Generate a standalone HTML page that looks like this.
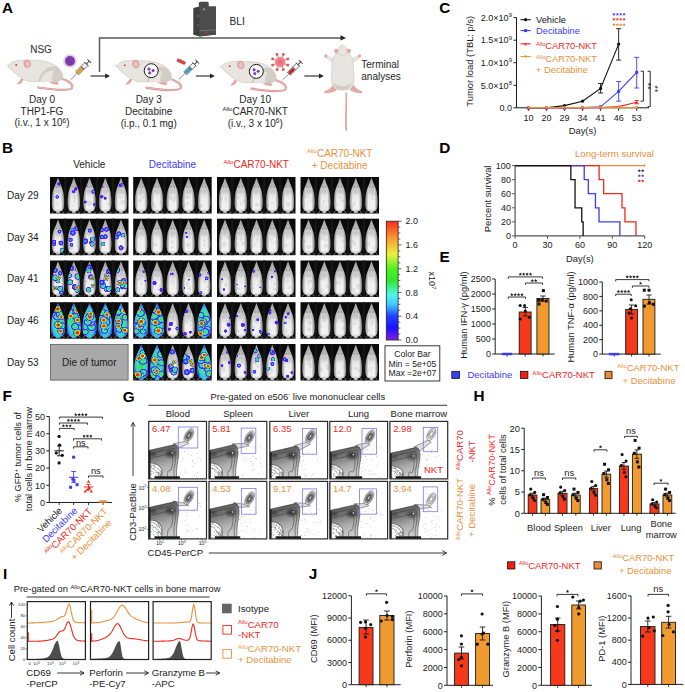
<!DOCTYPE html>
<html><head><meta charset="utf-8"><title>Figure</title>
<style>html,body{margin:0;padding:0;background:#fff;}svg{display:block;}text{font-family:"Liberation Sans", sans-serif;}</style>
</head><body>
<svg width="685" height="692" viewBox="0 0 685 692" font-family='"Liberation Sans", sans-serif'>
<rect width="685" height="692" fill="#fff"/>
<text x="2.00" y="13.30" font-size="15.3" fill="#000" font-weight="bold">A</text>
<rect x="198.80" y="1.80" width="9.90" height="5.50" fill="#4a4a4a" stroke="none" stroke-width="1.0" rx="1.5"/>
<path d="M193.3,8 L199.5,6.6 L216,6.6 L216,34.5 L199.5,36.5 L193.3,34.8 Z" fill="#3f3f3f" stroke="none" stroke-width="1.0"/>
<path d="M199.5,6.6 L216,6.6 L216,34.5 L199.5,36.5 Z" fill="#4d4d4d" stroke="none" stroke-width="1.0"/>
<line x1="199.50" y1="30.80" x2="216.00" y2="30.00" stroke="#8a8a8a" stroke-width="0.6"/>
<circle cx="204.00" cy="9.20" r="1.00" fill="#e8a030" stroke="none" stroke-width="1.0"/>
<circle cx="206.30" cy="32.60" r="0.90" fill="#e03030" stroke="none" stroke-width="1.0"/>
<circle cx="198.00" cy="16.00" r="0.80" fill="#888" stroke="none" stroke-width="1.0"/>
<circle cx="198.00" cy="25.00" r="0.80" fill="#888" stroke="none" stroke-width="1.0"/>
<text x="229.50" y="24.70" font-size="10.2" fill="#262626">BLI</text>
<path d="M99.5,72 L99.5,37.9 L341,37.9" fill="none" stroke="#5a5a5a" stroke-width="1.5"/>
<path d="M346,37.9 L340.5,35.2 L340.5,40.6 Z" fill="#222" stroke="none" stroke-width="1.0"/>
<line x1="90.50" y1="76.00" x2="106.00" y2="76.00" stroke="#333" stroke-width="1.2"/>
<path d="M110.0,76 L105.2,73.6 L105.2,78.4 Z" fill="#222" stroke="none" stroke-width="1.0"/>
<line x1="195.80" y1="76.00" x2="210.80" y2="76.00" stroke="#333" stroke-width="1.2"/>
<path d="M214.8,76 L210.0,73.6 L210.0,78.4 Z" fill="#222" stroke="none" stroke-width="1.0"/>
<line x1="304.30" y1="76.00" x2="319.80" y2="76.00" stroke="#333" stroke-width="1.2"/>
<path d="M323.8,76 L319.0,73.6 L319.0,78.4 Z" fill="#222" stroke="none" stroke-width="1.0"/>
<g transform="translate(8.00,66.00) scale(1.0)">
<path d="M51,12 C60,14 66,18.5 64,22 C61,25 50,24.5 30,21.5" fill="none" stroke="#cf8d89" stroke-width="2.2" stroke-linecap="round"/>
<path d="M51,12 C60,14 66,18.5 64,22 C61,25 50,24.5 30,21.5" fill="none" stroke="#ecbcb9" stroke-width="1.1" stroke-linecap="round"/>
<path d="M40,14 C42,17 45,18.5 50,18.3 C51,17 49,15.5 46,15 Z" fill="#e6aaa6" stroke="#cf8d89" stroke-width="0.5"/>
<path d="M15,13 C15,16.5 12,18 9.5,18 C10,16.5 12,15.5 13,13 Z" fill="#e6aaa6" stroke="#cf8d89" stroke-width="0.5"/>
<path d="M0,0 C1,-2.5 4,-4.6 8,-5.2 C14,-6.2 22,-5.8 30,-5.4 C40,-5.0 48,-1.5 52,3.5 C55,7.5 56,11 53,14 C50,16 44,16 40,15.5 L22,15.5 C16,14.5 11,11 7,7 C4,4.5 1,2.5 0,0 Z" fill="#e8e5e0" stroke="#c8c3ba" stroke-width="0.6"/>
<path d="M30,15.6 C32,6 40,-1 48,0.5 C53,4 56,9.5 54,13.5 C51,16 46,16.2 41,15.8 Z" fill="#d3cec5" stroke="none" stroke-width="1.0"/>
<path d="M32,15.6 C34,9 40,4 46,5 C44,8.5 43,12.5 44,15.8 Z" fill="#e8e5e0" stroke="none" stroke-width="1.0"/>
<ellipse cx="19.2" cy="-2.2" rx="3.2" ry="3.8" fill="#e6aaa6" stroke="#cf8d89" stroke-width="0.5" transform="rotate(-15 19.2 -2.2)"/>
<ellipse cx="19.5" cy="-1.9" rx="1.8" ry="2.4" fill="#efc4c1" transform="rotate(-15 19.5 -1.9)"/>
<circle cx="8.20" cy="-1.00" r="0.90" fill="#c0312b" stroke="none" stroke-width="1.0"/>
<path d="M1,-0.5 L-3,-2.5 M1,0 L-3.5,0.3" fill="none" stroke="#bbb" stroke-width="0.3"/>
</g>
<g transform="translate(116.60,66.30) scale(1.0)">
<path d="M51,12 C60,14 66,18.5 64,22 C61,25 50,24.5 30,21.5" fill="none" stroke="#cf8d89" stroke-width="2.2" stroke-linecap="round"/>
<path d="M51,12 C60,14 66,18.5 64,22 C61,25 50,24.5 30,21.5" fill="none" stroke="#ecbcb9" stroke-width="1.1" stroke-linecap="round"/>
<path d="M40,14 C42,17 45,18.5 50,18.3 C51,17 49,15.5 46,15 Z" fill="#e6aaa6" stroke="#cf8d89" stroke-width="0.5"/>
<path d="M15,13 C15,16.5 12,18 9.5,18 C10,16.5 12,15.5 13,13 Z" fill="#e6aaa6" stroke="#cf8d89" stroke-width="0.5"/>
<path d="M0,0 C1,-2.5 4,-4.6 8,-5.2 C14,-6.2 22,-5.8 30,-5.4 C40,-5.0 48,-1.5 52,3.5 C55,7.5 56,11 53,14 C50,16 44,16 40,15.5 L22,15.5 C16,14.5 11,11 7,7 C4,4.5 1,2.5 0,0 Z" fill="#e8e5e0" stroke="#c8c3ba" stroke-width="0.6"/>
<path d="M30,15.6 C32,6 40,-1 48,0.5 C53,4 56,9.5 54,13.5 C51,16 46,16.2 41,15.8 Z" fill="#d3cec5" stroke="none" stroke-width="1.0"/>
<path d="M32,15.6 C34,9 40,4 46,5 C44,8.5 43,12.5 44,15.8 Z" fill="#e8e5e0" stroke="none" stroke-width="1.0"/>
<ellipse cx="19.2" cy="-2.2" rx="3.2" ry="3.8" fill="#e6aaa6" stroke="#cf8d89" stroke-width="0.5" transform="rotate(-15 19.2 -2.2)"/>
<ellipse cx="19.5" cy="-1.9" rx="1.8" ry="2.4" fill="#efc4c1" transform="rotate(-15 19.5 -1.9)"/>
<circle cx="8.20" cy="-1.00" r="0.90" fill="#c0312b" stroke="none" stroke-width="1.0"/>
<path d="M1,-0.5 L-3,-2.5 M1,0 L-3.5,0.3" fill="none" stroke="#bbb" stroke-width="0.3"/>
</g>
<g transform="translate(221.50,67.20) scale(1.0)">
<path d="M51,12 C60,14 66,18.5 64,22 C61,25 50,24.5 30,21.5" fill="none" stroke="#cf8d89" stroke-width="2.2" stroke-linecap="round"/>
<path d="M51,12 C60,14 66,18.5 64,22 C61,25 50,24.5 30,21.5" fill="none" stroke="#ecbcb9" stroke-width="1.1" stroke-linecap="round"/>
<path d="M40,14 C42,17 45,18.5 50,18.3 C51,17 49,15.5 46,15 Z" fill="#e6aaa6" stroke="#cf8d89" stroke-width="0.5"/>
<path d="M15,13 C15,16.5 12,18 9.5,18 C10,16.5 12,15.5 13,13 Z" fill="#e6aaa6" stroke="#cf8d89" stroke-width="0.5"/>
<path d="M0,0 C1,-2.5 4,-4.6 8,-5.2 C14,-6.2 22,-5.8 30,-5.4 C40,-5.0 48,-1.5 52,3.5 C55,7.5 56,11 53,14 C50,16 44,16 40,15.5 L22,15.5 C16,14.5 11,11 7,7 C4,4.5 1,2.5 0,0 Z" fill="#e8e5e0" stroke="#c8c3ba" stroke-width="0.6"/>
<path d="M30,15.6 C32,6 40,-1 48,0.5 C53,4 56,9.5 54,13.5 C51,16 46,16.2 41,15.8 Z" fill="#d3cec5" stroke="none" stroke-width="1.0"/>
<path d="M32,15.6 C34,9 40,4 46,5 C44,8.5 43,12.5 44,15.8 Z" fill="#e8e5e0" stroke="none" stroke-width="1.0"/>
<ellipse cx="19.2" cy="-2.2" rx="3.2" ry="3.8" fill="#e6aaa6" stroke="#cf8d89" stroke-width="0.5" transform="rotate(-15 19.2 -2.2)"/>
<ellipse cx="19.5" cy="-1.9" rx="1.8" ry="2.4" fill="#efc4c1" transform="rotate(-15 19.5 -1.9)"/>
<circle cx="8.20" cy="-1.00" r="0.90" fill="#c0312b" stroke="none" stroke-width="1.0"/>
<path d="M1,-0.5 L-3,-2.5 M1,0 L-3.5,0.3" fill="none" stroke="#bbb" stroke-width="0.3"/>
</g>
<circle cx="151.20" cy="70.70" r="7.00" fill="#fbfbfb" stroke="#1a1a1a" stroke-width="1.0"/>
<circle cx="149.00" cy="69.10" r="1.55" fill="#8340b3" stroke="none" stroke-width="1.0"/>
<circle cx="153.10" cy="70.50" r="1.55" fill="#8340b3" stroke="none" stroke-width="1.0"/>
<circle cx="149.70" cy="72.90" r="1.55" fill="#8340b3" stroke="none" stroke-width="1.0"/>
<circle cx="256.30" cy="71.40" r="7.00" fill="#fbfbfb" stroke="#1a1a1a" stroke-width="1.0"/>
<circle cx="254.10" cy="69.80" r="1.55" fill="#8340b3" stroke="none" stroke-width="1.0"/>
<circle cx="258.20" cy="71.20" r="1.55" fill="#8340b3" stroke="none" stroke-width="1.0"/>
<circle cx="254.80" cy="73.60" r="1.55" fill="#8340b3" stroke="none" stroke-width="1.0"/>
<circle cx="70.00" cy="61.00" r="6.80" fill="#ddd0ea" stroke="none" stroke-width="1.0"/>
<circle cx="70.00" cy="61.00" r="5.00" fill="#7d3ca7" stroke="none" stroke-width="1.0"/>
<circle cx="68.50" cy="60.00" r="0.70" fill="#5c2480" stroke="none" stroke-width="1.0"/>
<circle cx="71.50" cy="62.50" r="0.70" fill="#5c2480" stroke="none" stroke-width="1.0"/>
<rect x="176.4" y="59.8" width="9.6" height="3.6" rx="1.8" fill="#d6474b" transform="rotate(24 181.2 61.6)"/>
<line x1="283.90" y1="63.53" x2="287.78" y2="65.14" stroke="#df6a70" stroke-width="0.9"/>
<rect x="286.48" y="63.84" width="2.6" height="2.6" fill="#d95860" transform="rotate(22.5 287.78 65.14)"/>
<line x1="281.73" y1="65.70" x2="283.34" y2="69.58" stroke="#df6a70" stroke-width="0.9"/>
<rect x="282.04" y="68.28" width="2.6" height="2.6" fill="#d95860" transform="rotate(67.5 283.34 69.58)"/>
<line x1="278.67" y1="65.70" x2="277.06" y2="69.58" stroke="#df6a70" stroke-width="0.9"/>
<rect x="275.76" y="68.28" width="2.6" height="2.6" fill="#d95860" transform="rotate(112.5 277.06 69.58)"/>
<line x1="276.50" y1="63.53" x2="272.62" y2="65.14" stroke="#df6a70" stroke-width="0.9"/>
<rect x="271.32" y="63.84" width="2.6" height="2.6" fill="#d95860" transform="rotate(157.5 272.62 65.14)"/>
<line x1="276.50" y1="60.47" x2="272.62" y2="58.86" stroke="#df6a70" stroke-width="0.9"/>
<rect x="271.32" y="57.56" width="2.6" height="2.6" fill="#d95860" transform="rotate(202.5 272.62 58.86)"/>
<line x1="278.67" y1="58.30" x2="277.06" y2="54.42" stroke="#df6a70" stroke-width="0.9"/>
<rect x="275.76" y="53.12" width="2.6" height="2.6" fill="#d95860" transform="rotate(247.5 277.06 54.42)"/>
<line x1="281.73" y1="58.30" x2="283.34" y2="54.42" stroke="#df6a70" stroke-width="0.9"/>
<rect x="282.04" y="53.12" width="2.6" height="2.6" fill="#d95860" transform="rotate(292.5 283.34 54.42)"/>
<line x1="283.90" y1="60.47" x2="287.78" y2="58.86" stroke="#df6a70" stroke-width="0.9"/>
<rect x="286.48" y="57.56" width="2.6" height="2.6" fill="#d95860" transform="rotate(337.5 287.78 58.86)"/>
<circle cx="280.20" cy="62.00" r="5.30" fill="#ee8a8e" stroke="none" stroke-width="1.0"/>
<circle cx="280.20" cy="62.00" r="3.00" fill="#e8747a" stroke="none" stroke-width="1.0"/>
<g transform="translate(70.70,79.70) rotate(-45.00) scale(1.011)">
<line x1="0.00" y1="0.00" x2="9.00" y2="0.00" stroke="#444" stroke-width="0.6"/>
<rect x="9.00" y="-2.10" width="13.00" height="4.20" fill="#f4f4f4" stroke="#444" stroke-width="0.7"/>
<rect x="9.50" y="-1.60" width="6.50" height="3.20" fill="#e0a526" stroke="none" stroke-width="1.0"/>
<rect x="16.00" y="-1.80" width="1.00" height="3.60" fill="#444" stroke="none" stroke-width="1.0"/>
<line x1="22.00" y1="0.00" x2="26.00" y2="0.00" stroke="#444" stroke-width="1.0"/>
<line x1="26.00" y1="-2.60" x2="26.00" y2="2.60" stroke="#444" stroke-width="1.0"/>
<line x1="22.00" y1="-2.90" x2="22.00" y2="2.90" stroke="#444" stroke-width="0.8"/>
</g>
<g transform="translate(178.80,79.40) rotate(-43.78) scale(0.985)">
<line x1="0.00" y1="0.00" x2="9.00" y2="0.00" stroke="#444" stroke-width="0.6"/>
<rect x="9.00" y="-2.10" width="13.00" height="4.20" fill="#f4f4f4" stroke="#444" stroke-width="0.7"/>
<rect x="9.50" y="-1.60" width="6.50" height="3.20" fill="#2f9fd3" stroke="none" stroke-width="1.0"/>
<rect x="16.00" y="-1.80" width="1.00" height="3.60" fill="#444" stroke="none" stroke-width="1.0"/>
<line x1="22.00" y1="0.00" x2="26.00" y2="0.00" stroke="#444" stroke-width="1.0"/>
<line x1="26.00" y1="-2.60" x2="26.00" y2="2.60" stroke="#444" stroke-width="1.0"/>
<line x1="22.00" y1="-2.90" x2="22.00" y2="2.90" stroke="#444" stroke-width="0.8"/>
</g>
<g transform="translate(282.50,80.00) rotate(-44.70) scale(0.990)">
<line x1="0.00" y1="0.00" x2="9.00" y2="0.00" stroke="#444" stroke-width="0.6"/>
<rect x="9.00" y="-2.10" width="13.00" height="4.20" fill="#f4f4f4" stroke="#444" stroke-width="0.7"/>
<rect x="9.50" y="-1.60" width="6.50" height="3.20" fill="#c8202a" stroke="none" stroke-width="1.0"/>
<rect x="16.00" y="-1.80" width="1.00" height="3.60" fill="#444" stroke="none" stroke-width="1.0"/>
<line x1="22.00" y1="0.00" x2="26.00" y2="0.00" stroke="#444" stroke-width="1.0"/>
<line x1="26.00" y1="-2.60" x2="26.00" y2="2.60" stroke="#444" stroke-width="1.0"/>
<line x1="22.00" y1="-2.90" x2="22.00" y2="2.90" stroke="#444" stroke-width="0.8"/>
</g>
<g transform="translate(342.30,45.00)">
<path d="M4,48 C4.5,60 3,72 4,85" fill="none" stroke="#cf8d89" stroke-width="1.4" stroke-linecap="round"/>
<path d="M4,48 C4.5,60 3,72 4,85" fill="none" stroke="#eab8b5" stroke-width="0.6"/>
<path d="M-9,40 C-12,44 -15,46 -18,46.5 L-17,48 C-13,48 -9,47 -6,45 Z" fill="#e6aaa6" stroke="#cf8d89" stroke-width="0.4"/>
<path d="M11,40 C14,44 17,46 20,46.5 L19,48 C15,48 11,47 8,45 Z" fill="#e6aaa6" stroke="#cf8d89" stroke-width="0.4"/>
<path d="M-6,14 C-10,13 -13,12 -15.5,10.5 L-16.5,12.5 C-14,15 -10,18 -7,19 Z" fill="#e8e5e0" stroke="#c8c3ba" stroke-width="0.4"/>
<path d="M7,14 C11,13 14,12 16.5,10.5 L17.5,12.5 C15,15 11,18 8,19 Z" fill="#e8e5e0" stroke="#c8c3ba" stroke-width="0.4"/>
<circle cx="-16.50" cy="11.00" r="1.70" fill="#e6aaa6" stroke="none" stroke-width="1.0"/>
<circle cx="17.20" cy="11.00" r="1.70" fill="#e6aaa6" stroke="none" stroke-width="1.0"/>
<path d="M0,0 C3,0 5,4 6,8 C10,10 11.5,18 11,26 C12,32 12.5,38 9,43 C6,46 -5,46 -8,43 C-11.5,38 -11,32 -10.5,26 C-11,18 -9,10 -5,8 C-4,4 -3,0 0,0 Z" fill="#e8e5e0" stroke="#c8c3ba" stroke-width="0.6"/>
<path d="M-8,38 C-5,42 5,42 9,38 C9,42 6,45 0,45 C-6,45 -9,42 -8,38 Z" fill="#d3cec5" stroke="none" stroke-width="1.0"/>
<path d="M-5,8 C-2,11 3,11 6,8" fill="none" stroke="#c8c3ba" stroke-width="0.5"/>
<circle cx="-6.00" cy="6.00" r="2.20" fill="#e6aaa6" stroke="none" stroke-width="1.0"/>
<circle cx="6.50" cy="6.00" r="2.20" fill="#e6aaa6" stroke="none" stroke-width="1.0"/>
</g>
<text x="41.00" y="52.90" font-size="10.0" fill="#262626" text-anchor="middle">NSG</text>
<text x="42.00" y="103.00" font-size="10.0" fill="#262626" text-anchor="middle">Day 0</text>
<text x="42.00" y="114.50" font-size="10.0" fill="#262626" text-anchor="middle">THP1-FG</text>
<text x="42.00" y="126.00" font-size="10.0" fill="#262626" text-anchor="middle">(i.v., 1 x 10<tspan font-size="6.5" dy="-3.5">6</tspan><tspan dy="3.5">)</tspan></text>
<text x="148.70" y="103.00" font-size="10.0" fill="#262626" text-anchor="middle">Day 3</text>
<text x="148.70" y="114.80" font-size="10.0" fill="#262626" text-anchor="middle">Decitabine</text>
<text x="148.70" y="126.50" font-size="10.0" fill="#262626" text-anchor="middle">(i.p., 0.1 mg)</text>
<text x="255.20" y="103.00" font-size="10.0" fill="#262626" text-anchor="middle">Day 10</text>
<text x="255.20" y="114.80" font-size="10.0" fill="#262626" text-anchor="middle"><tspan font-size="6.00" dy="-3.60">Allo</tspan><tspan dy="3.60">CAR70-NKT</tspan></text>
<text x="255.20" y="126.50" font-size="10.0" fill="#262626" text-anchor="middle">(i.v., 3 x 10<tspan font-size="6.5" dy="-3.5">6</tspan><tspan dy="3.5">)</tspan></text>
<text x="361.30" y="68.00" font-size="10.0" fill="#262626">Terminal</text>
<text x="361.30" y="80.00" font-size="10.0" fill="#262626">analyses</text>
<defs>
<linearGradient id="mg" x1="0" y1="0" x2="0" y2="1"><stop offset="0" stop-color="#a0a0a0"/><stop offset="0.2" stop-color="#b4b4b4"/><stop offset="0.4" stop-color="#dadada"/><stop offset="0.6" stop-color="#efefef"/><stop offset="0.88" stop-color="#f2f2f2"/><stop offset="1" stop-color="#b0b0b0"/></linearGradient>
<linearGradient id="mh" x1="0" y1="0" x2="1" y2="0"><stop offset="0" stop-color="#000" stop-opacity="0.45"/><stop offset="0.25" stop-color="#000" stop-opacity="0"/><stop offset="0.75" stop-color="#000" stop-opacity="0"/><stop offset="1" stop-color="#000" stop-opacity="0.45"/></linearGradient>
<path id="ms" d="M0,0.5 C0.6,2 1.2,3.5 1.8,5.5 C2.8,8 3.8,10 4.6,12.5 C5.4,15 5.8,18 6.0,22 C6.2,26 6.1,29.5 5.3,31.8 C4.4,33.4 3.0,34 1.8,34.2 L1.4,35.6 L-1.4,35.6 L-1.8,34.2 C-3.0,34 -4.4,33.4 -5.3,31.8 C-6.1,29.5 -6.2,26 -6.0,22 C-5.8,18 -5.4,15 -4.6,12.5 C-3.8,10 -2.8,8 -1.8,5.5 C-1.2,3.5 -0.6,2 0,0.5 Z"/>
<clipPath id="mclip"><path d="M0,0.5 C0.6,2 1.2,3.5 1.8,5.5 C2.8,8 3.8,10 4.6,12.5 C5.4,15 5.8,18 6.0,22 C6.2,26 6.1,29.5 5.3,31.8 C4.4,33.4 3.0,34 1.8,34.2 L1.4,35.6 L-1.4,35.6 L-1.8,34.2 C-3.0,34 -4.4,33.4 -5.3,31.8 C-6.1,29.5 -6.2,26 -6.0,22 C-5.8,18 -5.4,15 -4.6,12.5 C-3.8,10 -2.8,8 -1.8,5.5 C-1.2,3.5 -0.6,2 0,0.5 Z"/></clipPath>
<radialGradient id="g4"><stop offset="0" stop-color="#ff1a00" stop-opacity="1"/><stop offset="0.3" stop-color="#ff3000" stop-opacity="1"/><stop offset="0.42" stop-color="#ff9000" stop-opacity="1"/><stop offset="0.52" stop-color="#f0f020" stop-opacity="1"/><stop offset="0.62" stop-color="#30e030" stop-opacity="1"/><stop offset="0.75" stop-color="#30f0f0" stop-opacity="1"/><stop offset="0.86" stop-color="#2828ff" stop-opacity="1"/><stop offset="0.95" stop-color="#8a20f0" stop-opacity="1"/><stop offset="1" stop-color="#8a20f0" stop-opacity="0"/></radialGradient>
<radialGradient id="g3"><stop offset="0" stop-color="#30e030" stop-opacity="1"/><stop offset="0.4" stop-color="#40f080" stop-opacity="1"/><stop offset="0.58" stop-color="#30d8f0" stop-opacity="1"/><stop offset="0.76" stop-color="#2828ff" stop-opacity="1"/><stop offset="0.9" stop-color="#8a20f0" stop-opacity="1"/><stop offset="1" stop-color="#8a20f0" stop-opacity="0"/></radialGradient>
<radialGradient id="g2"><stop offset="0" stop-color="#30f0f0" stop-opacity="1"/><stop offset="0.35" stop-color="#3080ff" stop-opacity="1"/><stop offset="0.6" stop-color="#2020ff" stop-opacity="1"/><stop offset="0.85" stop-color="#8a20f0" stop-opacity="1"/><stop offset="1" stop-color="#8a20f0" stop-opacity="0"/></radialGradient>
<radialGradient id="g1"><stop offset="0" stop-color="#4040ff" stop-opacity="1"/><stop offset="0.5" stop-color="#3020ff" stop-opacity="1"/><stop offset="0.8" stop-color="#8a20f0" stop-opacity="1"/><stop offset="1" stop-color="#8a20f0" stop-opacity="0"/></radialGradient>
<radialGradient id="gbase" cx="0.5" cy="0.55" r="0.6"><stop offset="0" stop-color="#30e030"/><stop offset="0.45" stop-color="#40e890"/><stop offset="0.7" stop-color="#30c0f0"/><stop offset="0.88" stop-color="#2a30ff"/><stop offset="1" stop-color="#7a30f0"/></radialGradient>
<linearGradient id="cb" x1="0" y1="1" x2="0" y2="0"><stop offset="0" stop-color="#8a1ee6"/><stop offset="0.1" stop-color="#1a10ff"/><stop offset="0.2" stop-color="#2040ff"/><stop offset="0.3" stop-color="#40c8ff"/><stop offset="0.38" stop-color="#50f5e8"/><stop offset="0.5" stop-color="#30e830"/><stop offset="0.6" stop-color="#50f020"/><stop offset="0.72" stop-color="#e8f040"/><stop offset="0.85" stop-color="#f8a030"/><stop offset="1" stop-color="#ff2a20"/></linearGradient>
</defs>
<text x="2.00" y="153.00" font-size="15.3" fill="#000" font-weight="bold">B</text>
<text x="89.30" y="167.70" font-size="10" fill="#1a1a1a" text-anchor="middle">Vehicle</text>
<text x="172.50" y="167.70" font-size="10" fill="#3c3cf5" text-anchor="middle">Decitabine</text>
<text x="256.20" y="167.70" font-size="10" fill="#f0281e" text-anchor="middle"><tspan font-size="6.00" dy="-3.60">Allo</tspan><tspan dy="3.60">CAR70-NKT</tspan></text>
<text x="339.70" y="156.50" font-size="10" fill="#e8913c" text-anchor="middle"><tspan font-size="6.00" dy="-3.60">Allo</tspan><tspan dy="3.60">CAR70-NKT</tspan></text>
<text x="339.70" y="168.50" font-size="10" fill="#e8913c" text-anchor="middle">+ Decitabine</text>
<text x="7.00" y="198.85" font-size="10" fill="#1a1a1a">Day 29</text>
<rect x="50.00" y="177.00" width="78.50" height="36.50" fill="#0b0b0b" stroke="none" stroke-width="1.0"/>
<rect x="64.00" y="177.00" width="2.50" height="36.50" fill="#161616" stroke="none" stroke-width="1.0"/>
<rect x="80.00" y="177.00" width="2.50" height="36.50" fill="#161616" stroke="none" stroke-width="1.0"/>
<rect x="96.00" y="177.00" width="2.50" height="36.50" fill="#161616" stroke="none" stroke-width="1.0"/>
<rect x="112.00" y="177.00" width="2.50" height="36.50" fill="#161616" stroke="none" stroke-width="1.0"/>
<g transform="translate(58.00,177.30) scale(1.0,1)">
<path d="M-3.5,32.5 L-6,35.8 M3.5,32.5 L6,35.8 M-1,34 L-1.5,36 M1,34 L1.5,36" fill="none" stroke="#8a8a8a" stroke-width="0.7"/>
<use href="#ms" fill="url(#mg)"/>
<use href="#ms" fill="url(#mh)"/>
<circle cx="-1.60" cy="9.50" r="0.80" fill="#666" stroke="none" stroke-width="1.0" opacity="0.6"/>
<circle cx="1.60" cy="9.50" r="0.80" fill="#666" stroke="none" stroke-width="1.0" opacity="0.6"/>
<g fill="#999" opacity="0.22" clip-path="url(#mclip)"><ellipse cx="0" cy="14.5" rx="3.4" ry="2"/><ellipse cx="-1.4" cy="13.9" rx="1.6" ry="0.9"/><ellipse cx="0.3" cy="17.9" rx="0.9" ry="1.7"/><ellipse cx="-3.7" cy="19.2" rx="0.9" ry="1.0"/><ellipse cx="-0.6" cy="26.7" rx="0.9" ry="1.2"/></g>
<g clip-path="url(#mclip)">
<circle cx="0.83" cy="6.67" r="2.03" fill="url(#g1)" stroke="none" stroke-width="1.0"/>
<circle cx="4.76" cy="6.26" r="2.27" fill="url(#g1)" stroke="none" stroke-width="1.0"/>
<circle cx="-0.81" cy="19.60" r="2.01" fill="url(#g2)" stroke="none" stroke-width="1.0"/>
</g>
</g>
<g transform="translate(73.80,177.30) scale(1.0,1)">
<path d="M-3.5,32.5 L-6,35.8 M3.5,32.5 L6,35.8 M-1,34 L-1.5,36 M1,34 L1.5,36" fill="none" stroke="#8a8a8a" stroke-width="0.7"/>
<use href="#ms" fill="url(#mg)"/>
<use href="#ms" fill="url(#mh)"/>
<circle cx="-1.60" cy="9.50" r="0.80" fill="#666" stroke="none" stroke-width="1.0" opacity="0.6"/>
<circle cx="1.60" cy="9.50" r="0.80" fill="#666" stroke="none" stroke-width="1.0" opacity="0.6"/>
<g fill="#999" opacity="0.22" clip-path="url(#mclip)"><ellipse cx="0" cy="14.5" rx="3.4" ry="2"/><ellipse cx="0.5" cy="24.0" rx="0.9" ry="1.8"/><ellipse cx="-2.5" cy="12.9" rx="1.7" ry="1.8"/><ellipse cx="1.0" cy="20.4" rx="1.4" ry="2.1"/><ellipse cx="-0.3" cy="28.5" rx="1.2" ry="1.2"/></g>
<g clip-path="url(#mclip)">
<circle cx="1.99" cy="11.59" r="2.02" fill="url(#g1)" stroke="none" stroke-width="1.0"/>
<circle cx="-0.05" cy="14.27" r="1.90" fill="url(#g1)" stroke="none" stroke-width="1.0"/>
<circle cx="4.80" cy="8.19" r="1.88" fill="url(#g1)" stroke="none" stroke-width="1.0"/>
</g>
</g>
<g transform="translate(89.50,177.30) scale(1.0,1)">
<path d="M-3.5,32.5 L-6,35.8 M3.5,32.5 L6,35.8 M-1,34 L-1.5,36 M1,34 L1.5,36" fill="none" stroke="#8a8a8a" stroke-width="0.7"/>
<use href="#ms" fill="url(#mg)"/>
<use href="#ms" fill="url(#mh)"/>
<circle cx="-1.60" cy="9.50" r="0.80" fill="#666" stroke="none" stroke-width="1.0" opacity="0.6"/>
<circle cx="1.60" cy="9.50" r="0.80" fill="#666" stroke="none" stroke-width="1.0" opacity="0.6"/>
<g fill="#999" opacity="0.22" clip-path="url(#mclip)"><ellipse cx="0" cy="14.5" rx="3.4" ry="2"/><ellipse cx="2.1" cy="13.9" rx="1.4" ry="0.9"/><ellipse cx="1.3" cy="25.5" rx="1.5" ry="2.3"/><ellipse cx="-1.5" cy="24.2" rx="1.5" ry="1.8"/><ellipse cx="-0.4" cy="27.0" rx="1.9" ry="1.6"/></g>
<g clip-path="url(#mclip)">
<circle cx="-4.35" cy="24.74" r="1.78" fill="url(#g1)" stroke="none" stroke-width="1.0"/>
<circle cx="4.93" cy="27.19" r="1.76" fill="url(#g1)" stroke="none" stroke-width="1.0"/>
<circle cx="3.87" cy="14.37" r="2.35" fill="url(#g2)" stroke="none" stroke-width="1.0"/>
<circle cx="-3.32" cy="8.16" r="1.55" fill="url(#g2)" stroke="none" stroke-width="1.0"/>
</g>
</g>
<g transform="translate(105.30,177.30) scale(1.0,1)">
<path d="M-3.5,32.5 L-6,35.8 M3.5,32.5 L6,35.8 M-1,34 L-1.5,36 M1,34 L1.5,36" fill="none" stroke="#8a8a8a" stroke-width="0.7"/>
<use href="#ms" fill="url(#mg)"/>
<use href="#ms" fill="url(#mh)"/>
<circle cx="-1.60" cy="9.50" r="0.80" fill="#666" stroke="none" stroke-width="1.0" opacity="0.6"/>
<circle cx="1.60" cy="9.50" r="0.80" fill="#666" stroke="none" stroke-width="1.0" opacity="0.6"/>
<g fill="#999" opacity="0.22" clip-path="url(#mclip)"><ellipse cx="0" cy="14.5" rx="3.4" ry="2"/><ellipse cx="2.1" cy="13.5" rx="1.1" ry="1.5"/><ellipse cx="3.0" cy="12.5" rx="1.3" ry="1.7"/><ellipse cx="3.1" cy="26.6" rx="1.8" ry="1.3"/><ellipse cx="-0.7" cy="17.8" rx="1.9" ry="2.4"/></g>
<g clip-path="url(#mclip)">
<circle cx="-4.17" cy="9.09" r="2.09" fill="url(#g1)" stroke="none" stroke-width="1.0"/>
<circle cx="-0.15" cy="20.91" r="1.74" fill="url(#g1)" stroke="none" stroke-width="1.0"/>
<circle cx="-3.54" cy="19.43" r="2.05" fill="url(#g1)" stroke="none" stroke-width="1.0"/>
</g>
</g>
<g transform="translate(121.00,177.30) scale(1.0,1)">
<path d="M-3.5,32.5 L-6,35.8 M3.5,32.5 L6,35.8 M-1,34 L-1.5,36 M1,34 L1.5,36" fill="none" stroke="#8a8a8a" stroke-width="0.7"/>
<use href="#ms" fill="url(#mg)"/>
<use href="#ms" fill="url(#mh)"/>
<circle cx="-1.60" cy="9.50" r="0.80" fill="#666" stroke="none" stroke-width="1.0" opacity="0.6"/>
<circle cx="1.60" cy="9.50" r="0.80" fill="#666" stroke="none" stroke-width="1.0" opacity="0.6"/>
<g fill="#999" opacity="0.22" clip-path="url(#mclip)"><ellipse cx="0" cy="14.5" rx="3.4" ry="2"/><ellipse cx="-1.5" cy="13.4" rx="1.8" ry="2.4"/><ellipse cx="1.2" cy="25.1" rx="1.3" ry="2.3"/><ellipse cx="3.6" cy="23.9" rx="1.5" ry="1.5"/><ellipse cx="-0.8" cy="20.1" rx="1.3" ry="1.1"/></g>
<g clip-path="url(#mclip)">
<circle cx="-0.59" cy="7.97" r="2.04" fill="url(#g1)" stroke="none" stroke-width="1.0"/>
<circle cx="-5.00" cy="9.08" r="1.59" fill="url(#g1)" stroke="none" stroke-width="1.0"/>
<circle cx="1.14" cy="6.90" r="1.69" fill="url(#g2)" stroke="none" stroke-width="1.0"/>
</g>
</g>
<rect x="133.20" y="177.00" width="78.50" height="36.50" fill="#0b0b0b" stroke="none" stroke-width="1.0"/>
<rect x="147.20" y="177.00" width="2.50" height="36.50" fill="#161616" stroke="none" stroke-width="1.0"/>
<rect x="163.20" y="177.00" width="2.50" height="36.50" fill="#161616" stroke="none" stroke-width="1.0"/>
<rect x="179.20" y="177.00" width="2.50" height="36.50" fill="#161616" stroke="none" stroke-width="1.0"/>
<rect x="195.20" y="177.00" width="2.50" height="36.50" fill="#161616" stroke="none" stroke-width="1.0"/>
<g transform="translate(141.20,177.30) scale(1.0,1)">
<path d="M-3.5,32.5 L-6,35.8 M3.5,32.5 L6,35.8 M-1,34 L-1.5,36 M1,34 L1.5,36" fill="none" stroke="#8a8a8a" stroke-width="0.7"/>
<use href="#ms" fill="url(#mg)"/>
<use href="#ms" fill="url(#mh)"/>
<circle cx="-1.60" cy="9.50" r="0.80" fill="#666" stroke="none" stroke-width="1.0" opacity="0.6"/>
<circle cx="1.60" cy="9.50" r="0.80" fill="#666" stroke="none" stroke-width="1.0" opacity="0.6"/>
<g fill="#999" opacity="0.22" clip-path="url(#mclip)"><ellipse cx="0" cy="14.5" rx="3.4" ry="2"/><ellipse cx="-1.0" cy="23.1" rx="1.9" ry="1.8"/><ellipse cx="-0.2" cy="13.2" rx="1.4" ry="2.5"/><ellipse cx="-0.2" cy="16.9" rx="1.0" ry="2.1"/><ellipse cx="1.9" cy="20.1" rx="1.6" ry="1.7"/></g>
</g>
<g transform="translate(157.00,177.30) scale(1.0,1)">
<path d="M-3.5,32.5 L-6,35.8 M3.5,32.5 L6,35.8 M-1,34 L-1.5,36 M1,34 L1.5,36" fill="none" stroke="#8a8a8a" stroke-width="0.7"/>
<use href="#ms" fill="url(#mg)"/>
<use href="#ms" fill="url(#mh)"/>
<circle cx="-1.60" cy="9.50" r="0.80" fill="#666" stroke="none" stroke-width="1.0" opacity="0.6"/>
<circle cx="1.60" cy="9.50" r="0.80" fill="#666" stroke="none" stroke-width="1.0" opacity="0.6"/>
<g fill="#999" opacity="0.22" clip-path="url(#mclip)"><ellipse cx="0" cy="14.5" rx="3.4" ry="2"/><ellipse cx="-2.4" cy="29.1" rx="1.2" ry="2.0"/><ellipse cx="3.3" cy="25.4" rx="1.2" ry="1.9"/><ellipse cx="-3.3" cy="27.1" rx="1.4" ry="2.3"/><ellipse cx="-1.2" cy="15.2" rx="1.4" ry="1.7"/></g>
</g>
<g transform="translate(172.70,177.30) scale(1.0,1)">
<path d="M-3.5,32.5 L-6,35.8 M3.5,32.5 L6,35.8 M-1,34 L-1.5,36 M1,34 L1.5,36" fill="none" stroke="#8a8a8a" stroke-width="0.7"/>
<use href="#ms" fill="url(#mg)"/>
<use href="#ms" fill="url(#mh)"/>
<circle cx="-1.60" cy="9.50" r="0.80" fill="#666" stroke="none" stroke-width="1.0" opacity="0.6"/>
<circle cx="1.60" cy="9.50" r="0.80" fill="#666" stroke="none" stroke-width="1.0" opacity="0.6"/>
<g fill="#999" opacity="0.22" clip-path="url(#mclip)"><ellipse cx="0" cy="14.5" rx="3.4" ry="2"/><ellipse cx="1.1" cy="22.7" rx="1.7" ry="2.1"/><ellipse cx="-2.4" cy="15.5" rx="1.3" ry="2.2"/><ellipse cx="-2.4" cy="20.4" rx="1.7" ry="2.5"/><ellipse cx="2.3" cy="20.0" rx="1.0" ry="1.8"/></g>
</g>
<g transform="translate(188.50,177.30) scale(1.0,1)">
<path d="M-3.5,32.5 L-6,35.8 M3.5,32.5 L6,35.8 M-1,34 L-1.5,36 M1,34 L1.5,36" fill="none" stroke="#8a8a8a" stroke-width="0.7"/>
<use href="#ms" fill="url(#mg)"/>
<use href="#ms" fill="url(#mh)"/>
<circle cx="-1.60" cy="9.50" r="0.80" fill="#666" stroke="none" stroke-width="1.0" opacity="0.6"/>
<circle cx="1.60" cy="9.50" r="0.80" fill="#666" stroke="none" stroke-width="1.0" opacity="0.6"/>
<g fill="#999" opacity="0.22" clip-path="url(#mclip)"><ellipse cx="0" cy="14.5" rx="3.4" ry="2"/><ellipse cx="-1.2" cy="26.4" rx="1.7" ry="1.4"/><ellipse cx="3.8" cy="12.5" rx="0.9" ry="1.6"/><ellipse cx="-1.3" cy="20.2" rx="2.0" ry="1.8"/><ellipse cx="-4.0" cy="28.3" rx="1.2" ry="1.9"/></g>
</g>
<g transform="translate(204.20,177.30) scale(1.0,1)">
<path d="M-3.5,32.5 L-6,35.8 M3.5,32.5 L6,35.8 M-1,34 L-1.5,36 M1,34 L1.5,36" fill="none" stroke="#8a8a8a" stroke-width="0.7"/>
<use href="#ms" fill="url(#mg)"/>
<use href="#ms" fill="url(#mh)"/>
<circle cx="-1.60" cy="9.50" r="0.80" fill="#666" stroke="none" stroke-width="1.0" opacity="0.6"/>
<circle cx="1.60" cy="9.50" r="0.80" fill="#666" stroke="none" stroke-width="1.0" opacity="0.6"/>
<g fill="#999" opacity="0.22" clip-path="url(#mclip)"><ellipse cx="0" cy="14.5" rx="3.4" ry="2"/><ellipse cx="2.7" cy="13.3" rx="1.3" ry="2.0"/><ellipse cx="-2.4" cy="27.9" rx="1.3" ry="1.9"/><ellipse cx="-3.3" cy="29.0" rx="1.7" ry="1.6"/><ellipse cx="1.9" cy="12.6" rx="1.0" ry="2.5"/></g>
</g>
<rect x="217.00" y="177.00" width="78.50" height="36.50" fill="#0b0b0b" stroke="none" stroke-width="1.0"/>
<rect x="231.00" y="177.00" width="2.50" height="36.50" fill="#161616" stroke="none" stroke-width="1.0"/>
<rect x="247.00" y="177.00" width="2.50" height="36.50" fill="#161616" stroke="none" stroke-width="1.0"/>
<rect x="263.00" y="177.00" width="2.50" height="36.50" fill="#161616" stroke="none" stroke-width="1.0"/>
<rect x="279.00" y="177.00" width="2.50" height="36.50" fill="#161616" stroke="none" stroke-width="1.0"/>
<g transform="translate(225.00,177.30) scale(1.0,1)">
<path d="M-3.5,32.5 L-6,35.8 M3.5,32.5 L6,35.8 M-1,34 L-1.5,36 M1,34 L1.5,36" fill="none" stroke="#8a8a8a" stroke-width="0.7"/>
<use href="#ms" fill="url(#mg)"/>
<use href="#ms" fill="url(#mh)"/>
<circle cx="-1.60" cy="9.50" r="0.80" fill="#666" stroke="none" stroke-width="1.0" opacity="0.6"/>
<circle cx="1.60" cy="9.50" r="0.80" fill="#666" stroke="none" stroke-width="1.0" opacity="0.6"/>
<g fill="#999" opacity="0.22" clip-path="url(#mclip)"><ellipse cx="0" cy="14.5" rx="3.4" ry="2"/><ellipse cx="-3.8" cy="22.2" rx="1.4" ry="1.9"/><ellipse cx="0.9" cy="22.3" rx="1.4" ry="2.4"/><ellipse cx="-2.8" cy="21.4" rx="0.8" ry="2.2"/><ellipse cx="1.8" cy="13.0" rx="1.7" ry="1.0"/></g>
</g>
<g transform="translate(240.80,177.30) scale(1.0,1)">
<path d="M-3.5,32.5 L-6,35.8 M3.5,32.5 L6,35.8 M-1,34 L-1.5,36 M1,34 L1.5,36" fill="none" stroke="#8a8a8a" stroke-width="0.7"/>
<use href="#ms" fill="url(#mg)"/>
<use href="#ms" fill="url(#mh)"/>
<circle cx="-1.60" cy="9.50" r="0.80" fill="#666" stroke="none" stroke-width="1.0" opacity="0.6"/>
<circle cx="1.60" cy="9.50" r="0.80" fill="#666" stroke="none" stroke-width="1.0" opacity="0.6"/>
<g fill="#999" opacity="0.22" clip-path="url(#mclip)"><ellipse cx="0" cy="14.5" rx="3.4" ry="2"/><ellipse cx="3.9" cy="14.7" rx="1.8" ry="0.8"/><ellipse cx="-2.3" cy="20.5" rx="1.7" ry="1.4"/><ellipse cx="0.4" cy="26.8" rx="0.9" ry="2.1"/><ellipse cx="3.2" cy="23.6" rx="1.8" ry="1.7"/></g>
</g>
<g transform="translate(256.50,177.30) scale(1.0,1)">
<path d="M-3.5,32.5 L-6,35.8 M3.5,32.5 L6,35.8 M-1,34 L-1.5,36 M1,34 L1.5,36" fill="none" stroke="#8a8a8a" stroke-width="0.7"/>
<use href="#ms" fill="url(#mg)"/>
<use href="#ms" fill="url(#mh)"/>
<circle cx="-1.60" cy="9.50" r="0.80" fill="#666" stroke="none" stroke-width="1.0" opacity="0.6"/>
<circle cx="1.60" cy="9.50" r="0.80" fill="#666" stroke="none" stroke-width="1.0" opacity="0.6"/>
<g fill="#999" opacity="0.22" clip-path="url(#mclip)"><ellipse cx="0" cy="14.5" rx="3.4" ry="2"/><ellipse cx="2.6" cy="27.7" rx="1.0" ry="1.1"/><ellipse cx="0.1" cy="27.6" rx="1.7" ry="1.8"/><ellipse cx="2.2" cy="13.8" rx="1.0" ry="1.9"/><ellipse cx="-3.0" cy="12.2" rx="1.6" ry="1.7"/></g>
</g>
<g transform="translate(272.30,177.30) scale(1.0,1)">
<path d="M-3.5,32.5 L-6,35.8 M3.5,32.5 L6,35.8 M-1,34 L-1.5,36 M1,34 L1.5,36" fill="none" stroke="#8a8a8a" stroke-width="0.7"/>
<use href="#ms" fill="url(#mg)"/>
<use href="#ms" fill="url(#mh)"/>
<circle cx="-1.60" cy="9.50" r="0.80" fill="#666" stroke="none" stroke-width="1.0" opacity="0.6"/>
<circle cx="1.60" cy="9.50" r="0.80" fill="#666" stroke="none" stroke-width="1.0" opacity="0.6"/>
<g fill="#999" opacity="0.22" clip-path="url(#mclip)"><ellipse cx="0" cy="14.5" rx="3.4" ry="2"/><ellipse cx="-0.1" cy="25.8" rx="1.9" ry="0.9"/><ellipse cx="-2.5" cy="11.8" rx="0.9" ry="1.6"/><ellipse cx="-3.8" cy="28.0" rx="0.9" ry="1.4"/><ellipse cx="3.8" cy="22.5" rx="1.0" ry="1.3"/></g>
</g>
<g transform="translate(288.00,177.30) scale(1.0,1)">
<path d="M-3.5,32.5 L-6,35.8 M3.5,32.5 L6,35.8 M-1,34 L-1.5,36 M1,34 L1.5,36" fill="none" stroke="#8a8a8a" stroke-width="0.7"/>
<use href="#ms" fill="url(#mg)"/>
<use href="#ms" fill="url(#mh)"/>
<circle cx="-1.60" cy="9.50" r="0.80" fill="#666" stroke="none" stroke-width="1.0" opacity="0.6"/>
<circle cx="1.60" cy="9.50" r="0.80" fill="#666" stroke="none" stroke-width="1.0" opacity="0.6"/>
<g fill="#999" opacity="0.22" clip-path="url(#mclip)"><ellipse cx="0" cy="14.5" rx="3.4" ry="2"/><ellipse cx="0.1" cy="26.3" rx="1.4" ry="1.2"/><ellipse cx="0.2" cy="27.6" rx="1.9" ry="2.4"/><ellipse cx="3.1" cy="14.8" rx="1.3" ry="1.5"/><ellipse cx="-0.9" cy="17.0" rx="1.6" ry="1.5"/></g>
</g>
<rect x="300.50" y="177.00" width="78.50" height="36.50" fill="#0b0b0b" stroke="none" stroke-width="1.0"/>
<rect x="314.50" y="177.00" width="2.50" height="36.50" fill="#161616" stroke="none" stroke-width="1.0"/>
<rect x="330.50" y="177.00" width="2.50" height="36.50" fill="#161616" stroke="none" stroke-width="1.0"/>
<rect x="346.50" y="177.00" width="2.50" height="36.50" fill="#161616" stroke="none" stroke-width="1.0"/>
<rect x="362.50" y="177.00" width="2.50" height="36.50" fill="#161616" stroke="none" stroke-width="1.0"/>
<g transform="translate(308.50,177.30) scale(1.0,1)">
<path d="M-3.5,32.5 L-6,35.8 M3.5,32.5 L6,35.8 M-1,34 L-1.5,36 M1,34 L1.5,36" fill="none" stroke="#8a8a8a" stroke-width="0.7"/>
<use href="#ms" fill="url(#mg)"/>
<use href="#ms" fill="url(#mh)"/>
<circle cx="-1.60" cy="9.50" r="0.80" fill="#666" stroke="none" stroke-width="1.0" opacity="0.6"/>
<circle cx="1.60" cy="9.50" r="0.80" fill="#666" stroke="none" stroke-width="1.0" opacity="0.6"/>
<g fill="#999" opacity="0.22" clip-path="url(#mclip)"><ellipse cx="0" cy="14.5" rx="3.4" ry="2"/><ellipse cx="-2.3" cy="16.8" rx="0.9" ry="2.1"/><ellipse cx="3.5" cy="23.2" rx="1.2" ry="1.2"/><ellipse cx="-2.9" cy="19.9" rx="1.7" ry="1.0"/><ellipse cx="3.1" cy="14.1" rx="1.6" ry="1.2"/></g>
</g>
<g transform="translate(324.30,177.30) scale(1.0,1)">
<path d="M-3.5,32.5 L-6,35.8 M3.5,32.5 L6,35.8 M-1,34 L-1.5,36 M1,34 L1.5,36" fill="none" stroke="#8a8a8a" stroke-width="0.7"/>
<use href="#ms" fill="url(#mg)"/>
<use href="#ms" fill="url(#mh)"/>
<circle cx="-1.60" cy="9.50" r="0.80" fill="#666" stroke="none" stroke-width="1.0" opacity="0.6"/>
<circle cx="1.60" cy="9.50" r="0.80" fill="#666" stroke="none" stroke-width="1.0" opacity="0.6"/>
<g fill="#999" opacity="0.22" clip-path="url(#mclip)"><ellipse cx="0" cy="14.5" rx="3.4" ry="2"/><ellipse cx="1.7" cy="29.9" rx="1.3" ry="1.5"/><ellipse cx="-1.1" cy="12.8" rx="1.2" ry="1.4"/><ellipse cx="-0.3" cy="24.4" rx="1.3" ry="1.7"/><ellipse cx="-1.6" cy="29.3" rx="0.9" ry="2.4"/></g>
</g>
<g transform="translate(340.00,177.30) scale(1.0,1)">
<path d="M-3.5,32.5 L-6,35.8 M3.5,32.5 L6,35.8 M-1,34 L-1.5,36 M1,34 L1.5,36" fill="none" stroke="#8a8a8a" stroke-width="0.7"/>
<use href="#ms" fill="url(#mg)"/>
<use href="#ms" fill="url(#mh)"/>
<circle cx="-1.60" cy="9.50" r="0.80" fill="#666" stroke="none" stroke-width="1.0" opacity="0.6"/>
<circle cx="1.60" cy="9.50" r="0.80" fill="#666" stroke="none" stroke-width="1.0" opacity="0.6"/>
<g fill="#999" opacity="0.22" clip-path="url(#mclip)"><ellipse cx="0" cy="14.5" rx="3.4" ry="2"/><ellipse cx="-2.2" cy="27.7" rx="0.9" ry="1.3"/><ellipse cx="3.2" cy="14.4" rx="1.7" ry="2.2"/><ellipse cx="2.8" cy="23.8" rx="1.9" ry="1.5"/><ellipse cx="0.3" cy="20.8" rx="1.4" ry="1.4"/></g>
</g>
<g transform="translate(355.80,177.30) scale(1.0,1)">
<path d="M-3.5,32.5 L-6,35.8 M3.5,32.5 L6,35.8 M-1,34 L-1.5,36 M1,34 L1.5,36" fill="none" stroke="#8a8a8a" stroke-width="0.7"/>
<use href="#ms" fill="url(#mg)"/>
<use href="#ms" fill="url(#mh)"/>
<circle cx="-1.60" cy="9.50" r="0.80" fill="#666" stroke="none" stroke-width="1.0" opacity="0.6"/>
<circle cx="1.60" cy="9.50" r="0.80" fill="#666" stroke="none" stroke-width="1.0" opacity="0.6"/>
<g fill="#999" opacity="0.22" clip-path="url(#mclip)"><ellipse cx="0" cy="14.5" rx="3.4" ry="2"/><ellipse cx="-1.8" cy="26.2" rx="1.0" ry="2.3"/><ellipse cx="-1.8" cy="11.3" rx="0.9" ry="1.2"/><ellipse cx="0.9" cy="15.2" rx="1.1" ry="1.0"/><ellipse cx="-3.9" cy="29.9" rx="1.3" ry="2.4"/></g>
</g>
<g transform="translate(371.50,177.30) scale(1.0,1)">
<path d="M-3.5,32.5 L-6,35.8 M3.5,32.5 L6,35.8 M-1,34 L-1.5,36 M1,34 L1.5,36" fill="none" stroke="#8a8a8a" stroke-width="0.7"/>
<use href="#ms" fill="url(#mg)"/>
<use href="#ms" fill="url(#mh)"/>
<circle cx="-1.60" cy="9.50" r="0.80" fill="#666" stroke="none" stroke-width="1.0" opacity="0.6"/>
<circle cx="1.60" cy="9.50" r="0.80" fill="#666" stroke="none" stroke-width="1.0" opacity="0.6"/>
<g fill="#999" opacity="0.22" clip-path="url(#mclip)"><ellipse cx="0" cy="14.5" rx="3.4" ry="2"/><ellipse cx="1.0" cy="11.8" rx="1.7" ry="2.4"/><ellipse cx="3.8" cy="16.0" rx="1.0" ry="2.4"/><ellipse cx="1.0" cy="21.1" rx="1.0" ry="1.6"/><ellipse cx="1.4" cy="16.1" rx="1.8" ry="2.5"/></g>
</g>
<text x="7.00" y="240.55" font-size="10" fill="#1a1a1a">Day 34</text>
<rect x="50.00" y="218.70" width="78.50" height="36.50" fill="#0b0b0b" stroke="none" stroke-width="1.0"/>
<rect x="64.00" y="218.70" width="2.50" height="36.50" fill="#161616" stroke="none" stroke-width="1.0"/>
<rect x="80.00" y="218.70" width="2.50" height="36.50" fill="#161616" stroke="none" stroke-width="1.0"/>
<rect x="96.00" y="218.70" width="2.50" height="36.50" fill="#161616" stroke="none" stroke-width="1.0"/>
<rect x="112.00" y="218.70" width="2.50" height="36.50" fill="#161616" stroke="none" stroke-width="1.0"/>
<g transform="translate(58.00,219.00) scale(1.0,1)">
<path d="M-3.5,32.5 L-6,35.8 M3.5,32.5 L6,35.8 M-1,34 L-1.5,36 M1,34 L1.5,36" fill="none" stroke="#8a8a8a" stroke-width="0.7"/>
<use href="#ms" fill="url(#mg)"/>
<use href="#ms" fill="url(#mh)"/>
<circle cx="-1.60" cy="9.50" r="0.80" fill="#666" stroke="none" stroke-width="1.0" opacity="0.6"/>
<circle cx="1.60" cy="9.50" r="0.80" fill="#666" stroke="none" stroke-width="1.0" opacity="0.6"/>
<g fill="#999" opacity="0.22" clip-path="url(#mclip)"><ellipse cx="0" cy="14.5" rx="3.4" ry="2"/><ellipse cx="-3.7" cy="11.4" rx="1.4" ry="2.5"/><ellipse cx="0.1" cy="15.7" rx="1.3" ry="1.9"/><ellipse cx="1.2" cy="23.5" rx="1.5" ry="2.3"/><ellipse cx="3.8" cy="16.8" rx="1.1" ry="1.2"/></g>
<g clip-path="url(#mclip)">
<circle cx="2.99" cy="24.08" r="2.76" fill="url(#g2)" stroke="none" stroke-width="1.0"/>
<circle cx="4.40" cy="31.51" r="3.00" fill="url(#g3)" stroke="none" stroke-width="1.0"/>
<circle cx="-3.86" cy="25.00" r="2.31" fill="url(#g2)" stroke="none" stroke-width="1.0"/>
<circle cx="-4.00" cy="22.96" r="2.46" fill="url(#g2)" stroke="none" stroke-width="1.0"/>
<circle cx="1.53" cy="12.61" r="2.29" fill="url(#g2)" stroke="none" stroke-width="1.0"/>
</g>
</g>
<g transform="translate(73.80,219.00) scale(1.0,1)">
<path d="M-3.5,32.5 L-6,35.8 M3.5,32.5 L6,35.8 M-1,34 L-1.5,36 M1,34 L1.5,36" fill="none" stroke="#8a8a8a" stroke-width="0.7"/>
<use href="#ms" fill="url(#mg)"/>
<use href="#ms" fill="url(#mh)"/>
<circle cx="-1.60" cy="9.50" r="0.80" fill="#666" stroke="none" stroke-width="1.0" opacity="0.6"/>
<circle cx="1.60" cy="9.50" r="0.80" fill="#666" stroke="none" stroke-width="1.0" opacity="0.6"/>
<g fill="#999" opacity="0.22" clip-path="url(#mclip)"><ellipse cx="0" cy="14.5" rx="3.4" ry="2"/><ellipse cx="-1.7" cy="19.7" rx="1.0" ry="1.6"/><ellipse cx="-1.9" cy="29.3" rx="2.0" ry="1.7"/><ellipse cx="-2.0" cy="29.3" rx="1.2" ry="1.4"/><ellipse cx="-4.0" cy="18.3" rx="1.4" ry="1.7"/></g>
<g clip-path="url(#mclip)">
<circle cx="-2.27" cy="25.96" r="2.11" fill="url(#g2)" stroke="none" stroke-width="1.0"/>
<circle cx="-3.21" cy="20.84" r="2.47" fill="url(#g2)" stroke="none" stroke-width="1.0"/>
<circle cx="-1.76" cy="11.29" r="2.70" fill="url(#g3)" stroke="none" stroke-width="1.0"/>
<circle cx="3.18" cy="9.19" r="3.07" fill="url(#g2)" stroke="none" stroke-width="1.0"/>
<circle cx="-0.99" cy="13.81" r="3.18" fill="url(#g2)" stroke="none" stroke-width="1.0"/>
</g>
</g>
<g transform="translate(89.50,219.00) scale(1.0,1)">
<path d="M-3.5,32.5 L-6,35.8 M3.5,32.5 L6,35.8 M-1,34 L-1.5,36 M1,34 L1.5,36" fill="none" stroke="#8a8a8a" stroke-width="0.7"/>
<use href="#ms" fill="url(#mg)"/>
<use href="#ms" fill="url(#mh)"/>
<circle cx="-1.60" cy="9.50" r="0.80" fill="#666" stroke="none" stroke-width="1.0" opacity="0.6"/>
<circle cx="1.60" cy="9.50" r="0.80" fill="#666" stroke="none" stroke-width="1.0" opacity="0.6"/>
<g fill="#999" opacity="0.22" clip-path="url(#mclip)"><ellipse cx="0" cy="14.5" rx="3.4" ry="2"/><ellipse cx="-2.8" cy="24.8" rx="1.6" ry="0.9"/><ellipse cx="2.7" cy="27.9" rx="1.6" ry="2.0"/><ellipse cx="2.5" cy="13.6" rx="1.4" ry="1.7"/><ellipse cx="2.7" cy="26.3" rx="1.8" ry="1.8"/></g>
<g clip-path="url(#mclip)">
<circle cx="1.65" cy="23.72" r="2.28" fill="url(#g2)" stroke="none" stroke-width="1.0"/>
<circle cx="-4.12" cy="22.20" r="3.15" fill="url(#g2)" stroke="none" stroke-width="1.0"/>
<circle cx="3.02" cy="20.08" r="2.75" fill="url(#g3)" stroke="none" stroke-width="1.0"/>
<circle cx="0.28" cy="11.60" r="2.32" fill="url(#g2)" stroke="none" stroke-width="1.0"/>
<circle cx="2.68" cy="25.20" r="2.60" fill="url(#g3)" stroke="none" stroke-width="1.0"/>
</g>
</g>
<g transform="translate(105.30,219.00) scale(1.0,1)">
<path d="M-3.5,32.5 L-6,35.8 M3.5,32.5 L6,35.8 M-1,34 L-1.5,36 M1,34 L1.5,36" fill="none" stroke="#8a8a8a" stroke-width="0.7"/>
<use href="#ms" fill="url(#mg)"/>
<use href="#ms" fill="url(#mh)"/>
<circle cx="-1.60" cy="9.50" r="0.80" fill="#666" stroke="none" stroke-width="1.0" opacity="0.6"/>
<circle cx="1.60" cy="9.50" r="0.80" fill="#666" stroke="none" stroke-width="1.0" opacity="0.6"/>
<g fill="#999" opacity="0.22" clip-path="url(#mclip)"><ellipse cx="0" cy="14.5" rx="3.4" ry="2"/><ellipse cx="0.3" cy="23.5" rx="0.9" ry="2.1"/><ellipse cx="-2.0" cy="12.4" rx="1.1" ry="2.0"/><ellipse cx="-2.4" cy="25.1" rx="2.0" ry="1.6"/><ellipse cx="-0.9" cy="20.1" rx="1.6" ry="2.1"/></g>
<g clip-path="url(#mclip)">
<circle cx="1.20" cy="10.35" r="2.72" fill="url(#g2)" stroke="none" stroke-width="1.0"/>
<circle cx="-2.21" cy="25.07" r="2.37" fill="url(#g3)" stroke="none" stroke-width="1.0"/>
<circle cx="-3.30" cy="18.03" r="2.58" fill="url(#g2)" stroke="none" stroke-width="1.0"/>
<circle cx="-3.60" cy="10.88" r="2.59" fill="url(#g2)" stroke="none" stroke-width="1.0"/>
<circle cx="0.15" cy="17.55" r="2.56" fill="url(#g2)" stroke="none" stroke-width="1.0"/>
</g>
</g>
<g transform="translate(121.00,219.00) scale(1.0,1)">
<path d="M-3.5,32.5 L-6,35.8 M3.5,32.5 L6,35.8 M-1,34 L-1.5,36 M1,34 L1.5,36" fill="none" stroke="#8a8a8a" stroke-width="0.7"/>
<use href="#ms" fill="url(#mg)"/>
<use href="#ms" fill="url(#mh)"/>
<circle cx="-1.60" cy="9.50" r="0.80" fill="#666" stroke="none" stroke-width="1.0" opacity="0.6"/>
<circle cx="1.60" cy="9.50" r="0.80" fill="#666" stroke="none" stroke-width="1.0" opacity="0.6"/>
<g fill="#999" opacity="0.22" clip-path="url(#mclip)"><ellipse cx="0" cy="14.5" rx="3.4" ry="2"/><ellipse cx="-3.1" cy="28.0" rx="1.0" ry="2.5"/><ellipse cx="3.5" cy="11.3" rx="1.4" ry="2.2"/><ellipse cx="3.7" cy="19.5" rx="1.1" ry="1.2"/><ellipse cx="3.6" cy="15.0" rx="1.5" ry="1.0"/></g>
<g clip-path="url(#mclip)">
<circle cx="-2.14" cy="14.71" r="2.72" fill="url(#g2)" stroke="none" stroke-width="1.0"/>
<circle cx="0.08" cy="28.95" r="2.84" fill="url(#g2)" stroke="none" stroke-width="1.0"/>
<circle cx="-0.02" cy="28.66" r="2.47" fill="url(#g2)" stroke="none" stroke-width="1.0"/>
<circle cx="-4.47" cy="18.28" r="2.54" fill="url(#g2)" stroke="none" stroke-width="1.0"/>
<circle cx="2.04" cy="16.24" r="2.45" fill="url(#g3)" stroke="none" stroke-width="1.0"/>
</g>
</g>
<rect x="133.20" y="218.70" width="78.50" height="36.50" fill="#0b0b0b" stroke="none" stroke-width="1.0"/>
<rect x="147.20" y="218.70" width="2.50" height="36.50" fill="#161616" stroke="none" stroke-width="1.0"/>
<rect x="163.20" y="218.70" width="2.50" height="36.50" fill="#161616" stroke="none" stroke-width="1.0"/>
<rect x="179.20" y="218.70" width="2.50" height="36.50" fill="#161616" stroke="none" stroke-width="1.0"/>
<rect x="195.20" y="218.70" width="2.50" height="36.50" fill="#161616" stroke="none" stroke-width="1.0"/>
<g transform="translate(141.20,219.00) scale(1.0,1)">
<path d="M-3.5,32.5 L-6,35.8 M3.5,32.5 L6,35.8 M-1,34 L-1.5,36 M1,34 L1.5,36" fill="none" stroke="#8a8a8a" stroke-width="0.7"/>
<use href="#ms" fill="url(#mg)"/>
<use href="#ms" fill="url(#mh)"/>
<circle cx="-1.60" cy="9.50" r="0.80" fill="#666" stroke="none" stroke-width="1.0" opacity="0.6"/>
<circle cx="1.60" cy="9.50" r="0.80" fill="#666" stroke="none" stroke-width="1.0" opacity="0.6"/>
<g fill="#999" opacity="0.22" clip-path="url(#mclip)"><ellipse cx="0" cy="14.5" rx="3.4" ry="2"/><ellipse cx="-3.0" cy="17.3" rx="1.2" ry="1.4"/><ellipse cx="-0.8" cy="28.9" rx="1.0" ry="0.8"/><ellipse cx="1.9" cy="15.8" rx="0.9" ry="1.5"/><ellipse cx="3.0" cy="12.5" rx="1.9" ry="2.1"/></g>
</g>
<g transform="translate(157.00,219.00) scale(1.0,1)">
<path d="M-3.5,32.5 L-6,35.8 M3.5,32.5 L6,35.8 M-1,34 L-1.5,36 M1,34 L1.5,36" fill="none" stroke="#8a8a8a" stroke-width="0.7"/>
<use href="#ms" fill="url(#mg)"/>
<use href="#ms" fill="url(#mh)"/>
<circle cx="-1.60" cy="9.50" r="0.80" fill="#666" stroke="none" stroke-width="1.0" opacity="0.6"/>
<circle cx="1.60" cy="9.50" r="0.80" fill="#666" stroke="none" stroke-width="1.0" opacity="0.6"/>
<g fill="#999" opacity="0.22" clip-path="url(#mclip)"><ellipse cx="0" cy="14.5" rx="3.4" ry="2"/><ellipse cx="2.8" cy="16.3" rx="0.9" ry="1.9"/><ellipse cx="1.1" cy="13.8" rx="2.0" ry="1.5"/><ellipse cx="-1.5" cy="25.7" rx="1.7" ry="1.5"/><ellipse cx="-3.8" cy="25.5" rx="1.3" ry="2.3"/></g>
</g>
<g transform="translate(172.70,219.00) scale(1.0,1)">
<path d="M-3.5,32.5 L-6,35.8 M3.5,32.5 L6,35.8 M-1,34 L-1.5,36 M1,34 L1.5,36" fill="none" stroke="#8a8a8a" stroke-width="0.7"/>
<use href="#ms" fill="url(#mg)"/>
<use href="#ms" fill="url(#mh)"/>
<circle cx="-1.60" cy="9.50" r="0.80" fill="#666" stroke="none" stroke-width="1.0" opacity="0.6"/>
<circle cx="1.60" cy="9.50" r="0.80" fill="#666" stroke="none" stroke-width="1.0" opacity="0.6"/>
<g fill="#999" opacity="0.22" clip-path="url(#mclip)"><ellipse cx="0" cy="14.5" rx="3.4" ry="2"/><ellipse cx="0.4" cy="14.9" rx="0.9" ry="2.4"/><ellipse cx="-0.7" cy="22.7" rx="1.0" ry="2.3"/><ellipse cx="-0.1" cy="28.3" rx="1.5" ry="1.1"/><ellipse cx="-0.7" cy="16.4" rx="1.1" ry="2.1"/></g>
</g>
<g transform="translate(188.50,219.00) scale(1.0,1)">
<path d="M-3.5,32.5 L-6,35.8 M3.5,32.5 L6,35.8 M-1,34 L-1.5,36 M1,34 L1.5,36" fill="none" stroke="#8a8a8a" stroke-width="0.7"/>
<use href="#ms" fill="url(#mg)"/>
<use href="#ms" fill="url(#mh)"/>
<circle cx="-1.60" cy="9.50" r="0.80" fill="#666" stroke="none" stroke-width="1.0" opacity="0.6"/>
<circle cx="1.60" cy="9.50" r="0.80" fill="#666" stroke="none" stroke-width="1.0" opacity="0.6"/>
<g fill="#999" opacity="0.22" clip-path="url(#mclip)"><ellipse cx="0" cy="14.5" rx="3.4" ry="2"/><ellipse cx="1.2" cy="18.7" rx="1.1" ry="1.6"/><ellipse cx="1.4" cy="13.3" rx="1.6" ry="0.9"/><ellipse cx="0.0" cy="26.4" rx="1.5" ry="1.6"/><ellipse cx="-1.3" cy="25.4" rx="1.3" ry="1.7"/></g>
<g clip-path="url(#mclip)">
<circle cx="-2.30" cy="13.84" r="1.28" fill="url(#g1)" stroke="none" stroke-width="1.0"/>
<circle cx="-1.63" cy="18.10" r="1.40" fill="url(#g1)" stroke="none" stroke-width="1.0"/>
</g>
</g>
<g transform="translate(204.20,219.00) scale(1.0,1)">
<path d="M-3.5,32.5 L-6,35.8 M3.5,32.5 L6,35.8 M-1,34 L-1.5,36 M1,34 L1.5,36" fill="none" stroke="#8a8a8a" stroke-width="0.7"/>
<use href="#ms" fill="url(#mg)"/>
<use href="#ms" fill="url(#mh)"/>
<circle cx="-1.60" cy="9.50" r="0.80" fill="#666" stroke="none" stroke-width="1.0" opacity="0.6"/>
<circle cx="1.60" cy="9.50" r="0.80" fill="#666" stroke="none" stroke-width="1.0" opacity="0.6"/>
<g fill="#999" opacity="0.22" clip-path="url(#mclip)"><ellipse cx="0" cy="14.5" rx="3.4" ry="2"/><ellipse cx="-2.4" cy="11.4" rx="1.8" ry="1.5"/><ellipse cx="2.0" cy="15.0" rx="1.1" ry="2.1"/><ellipse cx="-0.0" cy="21.9" rx="1.2" ry="2.0"/><ellipse cx="0.2" cy="26.0" rx="1.8" ry="1.0"/></g>
</g>
<rect x="217.00" y="218.70" width="78.50" height="36.50" fill="#0b0b0b" stroke="none" stroke-width="1.0"/>
<rect x="231.00" y="218.70" width="2.50" height="36.50" fill="#161616" stroke="none" stroke-width="1.0"/>
<rect x="247.00" y="218.70" width="2.50" height="36.50" fill="#161616" stroke="none" stroke-width="1.0"/>
<rect x="263.00" y="218.70" width="2.50" height="36.50" fill="#161616" stroke="none" stroke-width="1.0"/>
<rect x="279.00" y="218.70" width="2.50" height="36.50" fill="#161616" stroke="none" stroke-width="1.0"/>
<g transform="translate(225.00,219.00) scale(1.0,1)">
<path d="M-3.5,32.5 L-6,35.8 M3.5,32.5 L6,35.8 M-1,34 L-1.5,36 M1,34 L1.5,36" fill="none" stroke="#8a8a8a" stroke-width="0.7"/>
<use href="#ms" fill="url(#mg)"/>
<use href="#ms" fill="url(#mh)"/>
<circle cx="-1.60" cy="9.50" r="0.80" fill="#666" stroke="none" stroke-width="1.0" opacity="0.6"/>
<circle cx="1.60" cy="9.50" r="0.80" fill="#666" stroke="none" stroke-width="1.0" opacity="0.6"/>
<g fill="#999" opacity="0.22" clip-path="url(#mclip)"><ellipse cx="0" cy="14.5" rx="3.4" ry="2"/><ellipse cx="3.2" cy="18.3" rx="1.6" ry="1.5"/><ellipse cx="-1.5" cy="26.5" rx="2.0" ry="1.0"/><ellipse cx="-0.6" cy="25.5" rx="1.8" ry="2.4"/><ellipse cx="-0.1" cy="12.4" rx="1.9" ry="2.4"/></g>
</g>
<g transform="translate(240.80,219.00) scale(1.0,1)">
<path d="M-3.5,32.5 L-6,35.8 M3.5,32.5 L6,35.8 M-1,34 L-1.5,36 M1,34 L1.5,36" fill="none" stroke="#8a8a8a" stroke-width="0.7"/>
<use href="#ms" fill="url(#mg)"/>
<use href="#ms" fill="url(#mh)"/>
<circle cx="-1.60" cy="9.50" r="0.80" fill="#666" stroke="none" stroke-width="1.0" opacity="0.6"/>
<circle cx="1.60" cy="9.50" r="0.80" fill="#666" stroke="none" stroke-width="1.0" opacity="0.6"/>
<g fill="#999" opacity="0.22" clip-path="url(#mclip)"><ellipse cx="0" cy="14.5" rx="3.4" ry="2"/><ellipse cx="0.2" cy="19.9" rx="1.3" ry="2.1"/><ellipse cx="-2.2" cy="13.9" rx="2.0" ry="1.0"/><ellipse cx="2.6" cy="24.3" rx="1.8" ry="2.3"/><ellipse cx="-3.3" cy="25.8" rx="0.8" ry="1.0"/></g>
</g>
<g transform="translate(256.50,219.00) scale(1.0,1)">
<path d="M-3.5,32.5 L-6,35.8 M3.5,32.5 L6,35.8 M-1,34 L-1.5,36 M1,34 L1.5,36" fill="none" stroke="#8a8a8a" stroke-width="0.7"/>
<use href="#ms" fill="url(#mg)"/>
<use href="#ms" fill="url(#mh)"/>
<circle cx="-1.60" cy="9.50" r="0.80" fill="#666" stroke="none" stroke-width="1.0" opacity="0.6"/>
<circle cx="1.60" cy="9.50" r="0.80" fill="#666" stroke="none" stroke-width="1.0" opacity="0.6"/>
<g fill="#999" opacity="0.22" clip-path="url(#mclip)"><ellipse cx="0" cy="14.5" rx="3.4" ry="2"/><ellipse cx="0.6" cy="11.7" rx="1.7" ry="2.4"/><ellipse cx="1.0" cy="21.0" rx="1.3" ry="2.1"/><ellipse cx="-3.2" cy="16.7" rx="1.9" ry="1.1"/><ellipse cx="-1.9" cy="26.0" rx="0.8" ry="1.7"/></g>
</g>
<g transform="translate(272.30,219.00) scale(1.0,1)">
<path d="M-3.5,32.5 L-6,35.8 M3.5,32.5 L6,35.8 M-1,34 L-1.5,36 M1,34 L1.5,36" fill="none" stroke="#8a8a8a" stroke-width="0.7"/>
<use href="#ms" fill="url(#mg)"/>
<use href="#ms" fill="url(#mh)"/>
<circle cx="-1.60" cy="9.50" r="0.80" fill="#666" stroke="none" stroke-width="1.0" opacity="0.6"/>
<circle cx="1.60" cy="9.50" r="0.80" fill="#666" stroke="none" stroke-width="1.0" opacity="0.6"/>
<g fill="#999" opacity="0.22" clip-path="url(#mclip)"><ellipse cx="0" cy="14.5" rx="3.4" ry="2"/><ellipse cx="4.0" cy="16.3" rx="1.2" ry="2.2"/><ellipse cx="-2.1" cy="21.0" rx="1.5" ry="0.8"/><ellipse cx="-0.7" cy="23.3" rx="0.9" ry="1.1"/><ellipse cx="3.1" cy="23.3" rx="0.9" ry="1.2"/></g>
</g>
<g transform="translate(288.00,219.00) scale(1.0,1)">
<path d="M-3.5,32.5 L-6,35.8 M3.5,32.5 L6,35.8 M-1,34 L-1.5,36 M1,34 L1.5,36" fill="none" stroke="#8a8a8a" stroke-width="0.7"/>
<use href="#ms" fill="url(#mg)"/>
<use href="#ms" fill="url(#mh)"/>
<circle cx="-1.60" cy="9.50" r="0.80" fill="#666" stroke="none" stroke-width="1.0" opacity="0.6"/>
<circle cx="1.60" cy="9.50" r="0.80" fill="#666" stroke="none" stroke-width="1.0" opacity="0.6"/>
<g fill="#999" opacity="0.22" clip-path="url(#mclip)"><ellipse cx="0" cy="14.5" rx="3.4" ry="2"/><ellipse cx="-0.6" cy="18.0" rx="1.4" ry="2.0"/><ellipse cx="1.7" cy="17.9" rx="1.3" ry="0.8"/><ellipse cx="-1.7" cy="27.1" rx="0.9" ry="1.6"/><ellipse cx="-2.4" cy="25.6" rx="1.0" ry="1.6"/></g>
</g>
<rect x="300.50" y="218.70" width="78.50" height="36.50" fill="#0b0b0b" stroke="none" stroke-width="1.0"/>
<rect x="314.50" y="218.70" width="2.50" height="36.50" fill="#161616" stroke="none" stroke-width="1.0"/>
<rect x="330.50" y="218.70" width="2.50" height="36.50" fill="#161616" stroke="none" stroke-width="1.0"/>
<rect x="346.50" y="218.70" width="2.50" height="36.50" fill="#161616" stroke="none" stroke-width="1.0"/>
<rect x="362.50" y="218.70" width="2.50" height="36.50" fill="#161616" stroke="none" stroke-width="1.0"/>
<g transform="translate(308.50,219.00) scale(1.0,1)">
<path d="M-3.5,32.5 L-6,35.8 M3.5,32.5 L6,35.8 M-1,34 L-1.5,36 M1,34 L1.5,36" fill="none" stroke="#8a8a8a" stroke-width="0.7"/>
<use href="#ms" fill="url(#mg)"/>
<use href="#ms" fill="url(#mh)"/>
<circle cx="-1.60" cy="9.50" r="0.80" fill="#666" stroke="none" stroke-width="1.0" opacity="0.6"/>
<circle cx="1.60" cy="9.50" r="0.80" fill="#666" stroke="none" stroke-width="1.0" opacity="0.6"/>
<g fill="#999" opacity="0.22" clip-path="url(#mclip)"><ellipse cx="0" cy="14.5" rx="3.4" ry="2"/><ellipse cx="-1.9" cy="27.9" rx="0.9" ry="1.9"/><ellipse cx="0.9" cy="28.0" rx="1.4" ry="2.3"/><ellipse cx="-3.5" cy="22.3" rx="1.9" ry="0.9"/><ellipse cx="-3.8" cy="22.3" rx="1.3" ry="2.0"/></g>
</g>
<g transform="translate(324.30,219.00) scale(1.0,1)">
<path d="M-3.5,32.5 L-6,35.8 M3.5,32.5 L6,35.8 M-1,34 L-1.5,36 M1,34 L1.5,36" fill="none" stroke="#8a8a8a" stroke-width="0.7"/>
<use href="#ms" fill="url(#mg)"/>
<use href="#ms" fill="url(#mh)"/>
<circle cx="-1.60" cy="9.50" r="0.80" fill="#666" stroke="none" stroke-width="1.0" opacity="0.6"/>
<circle cx="1.60" cy="9.50" r="0.80" fill="#666" stroke="none" stroke-width="1.0" opacity="0.6"/>
<g fill="#999" opacity="0.22" clip-path="url(#mclip)"><ellipse cx="0" cy="14.5" rx="3.4" ry="2"/><ellipse cx="-2.5" cy="19.5" rx="1.7" ry="1.3"/><ellipse cx="-3.1" cy="12.5" rx="1.0" ry="1.1"/><ellipse cx="1.2" cy="21.0" rx="1.4" ry="1.3"/><ellipse cx="1.8" cy="26.9" rx="2.0" ry="1.6"/></g>
</g>
<g transform="translate(340.00,219.00) scale(1.0,1)">
<path d="M-3.5,32.5 L-6,35.8 M3.5,32.5 L6,35.8 M-1,34 L-1.5,36 M1,34 L1.5,36" fill="none" stroke="#8a8a8a" stroke-width="0.7"/>
<use href="#ms" fill="url(#mg)"/>
<use href="#ms" fill="url(#mh)"/>
<circle cx="-1.60" cy="9.50" r="0.80" fill="#666" stroke="none" stroke-width="1.0" opacity="0.6"/>
<circle cx="1.60" cy="9.50" r="0.80" fill="#666" stroke="none" stroke-width="1.0" opacity="0.6"/>
<g fill="#999" opacity="0.22" clip-path="url(#mclip)"><ellipse cx="0" cy="14.5" rx="3.4" ry="2"/><ellipse cx="-3.1" cy="12.5" rx="0.9" ry="1.5"/><ellipse cx="3.1" cy="21.7" rx="1.7" ry="1.4"/><ellipse cx="2.1" cy="16.9" rx="1.8" ry="0.9"/><ellipse cx="1.6" cy="14.7" rx="1.4" ry="1.6"/></g>
</g>
<g transform="translate(355.80,219.00) scale(1.0,1)">
<path d="M-3.5,32.5 L-6,35.8 M3.5,32.5 L6,35.8 M-1,34 L-1.5,36 M1,34 L1.5,36" fill="none" stroke="#8a8a8a" stroke-width="0.7"/>
<use href="#ms" fill="url(#mg)"/>
<use href="#ms" fill="url(#mh)"/>
<circle cx="-1.60" cy="9.50" r="0.80" fill="#666" stroke="none" stroke-width="1.0" opacity="0.6"/>
<circle cx="1.60" cy="9.50" r="0.80" fill="#666" stroke="none" stroke-width="1.0" opacity="0.6"/>
<g fill="#999" opacity="0.22" clip-path="url(#mclip)"><ellipse cx="0" cy="14.5" rx="3.4" ry="2"/><ellipse cx="-1.4" cy="25.0" rx="1.4" ry="1.9"/><ellipse cx="-2.0" cy="22.9" rx="1.3" ry="1.4"/><ellipse cx="-0.3" cy="26.3" rx="0.9" ry="1.1"/><ellipse cx="-3.5" cy="22.5" rx="1.2" ry="1.4"/></g>
</g>
<g transform="translate(371.50,219.00) scale(1.0,1)">
<path d="M-3.5,32.5 L-6,35.8 M3.5,32.5 L6,35.8 M-1,34 L-1.5,36 M1,34 L1.5,36" fill="none" stroke="#8a8a8a" stroke-width="0.7"/>
<use href="#ms" fill="url(#mg)"/>
<use href="#ms" fill="url(#mh)"/>
<circle cx="-1.60" cy="9.50" r="0.80" fill="#666" stroke="none" stroke-width="1.0" opacity="0.6"/>
<circle cx="1.60" cy="9.50" r="0.80" fill="#666" stroke="none" stroke-width="1.0" opacity="0.6"/>
<g fill="#999" opacity="0.22" clip-path="url(#mclip)"><ellipse cx="0" cy="14.5" rx="3.4" ry="2"/><ellipse cx="3.6" cy="11.8" rx="1.7" ry="2.0"/><ellipse cx="3.4" cy="16.7" rx="1.7" ry="1.8"/><ellipse cx="2.4" cy="29.0" rx="0.9" ry="2.2"/><ellipse cx="-3.1" cy="24.6" rx="1.4" ry="2.1"/></g>
</g>
<text x="7.00" y="282.35" font-size="10" fill="#1a1a1a">Day 41</text>
<rect x="50.00" y="260.50" width="78.50" height="36.50" fill="#0b0b0b" stroke="none" stroke-width="1.0"/>
<rect x="64.00" y="260.50" width="2.50" height="36.50" fill="#161616" stroke="none" stroke-width="1.0"/>
<rect x="80.00" y="260.50" width="2.50" height="36.50" fill="#161616" stroke="none" stroke-width="1.0"/>
<rect x="96.00" y="260.50" width="2.50" height="36.50" fill="#161616" stroke="none" stroke-width="1.0"/>
<rect x="112.00" y="260.50" width="2.50" height="36.50" fill="#161616" stroke="none" stroke-width="1.0"/>
<g transform="translate(58.00,260.80) scale(1.0,1)">
<path d="M-3.5,32.5 L-6,35.8 M3.5,32.5 L6,35.8 M-1,34 L-1.5,36 M1,34 L1.5,36" fill="none" stroke="#8a8a8a" stroke-width="0.7"/>
<use href="#ms" fill="url(#mg)"/>
<use href="#ms" fill="url(#mh)"/>
<circle cx="-1.60" cy="9.50" r="0.80" fill="#666" stroke="none" stroke-width="1.0" opacity="0.6"/>
<circle cx="1.60" cy="9.50" r="0.80" fill="#666" stroke="none" stroke-width="1.0" opacity="0.6"/>
<g fill="#999" opacity="0.22" clip-path="url(#mclip)"><ellipse cx="0" cy="14.5" rx="3.4" ry="2"/><ellipse cx="2.3" cy="28.4" rx="1.8" ry="1.0"/><ellipse cx="-0.0" cy="11.2" rx="1.9" ry="1.3"/><ellipse cx="1.5" cy="13.9" rx="1.1" ry="2.3"/><ellipse cx="-0.3" cy="25.9" rx="1.5" ry="1.7"/></g>
<g clip-path="url(#mclip)">
<circle cx="2.28" cy="12.43" r="2.57" fill="url(#g2)" stroke="none" stroke-width="1.0"/>
<circle cx="-0.16" cy="20.16" r="2.68" fill="url(#g3)" stroke="none" stroke-width="1.0"/>
<circle cx="3.45" cy="31.68" r="2.79" fill="url(#g2)" stroke="none" stroke-width="1.0"/>
<circle cx="-2.62" cy="16.95" r="3.59" fill="url(#g3)" stroke="none" stroke-width="1.0"/>
<circle cx="-2.94" cy="9.46" r="3.01" fill="url(#g2)" stroke="none" stroke-width="1.0"/>
<circle cx="2.23" cy="28.02" r="3.23" fill="url(#g3)" stroke="none" stroke-width="1.0"/>
<circle cx="-3.03" cy="27.34" r="2.44" fill="url(#g4)" stroke="none" stroke-width="1.0"/>
<circle cx="0.54" cy="16.58" r="2.79" fill="url(#g4)" stroke="none" stroke-width="1.0"/>
</g>
</g>
<g transform="translate(73.80,260.80) scale(1.0,1)">
<path d="M-3.5,32.5 L-6,35.8 M3.5,32.5 L6,35.8 M-1,34 L-1.5,36 M1,34 L1.5,36" fill="none" stroke="#8a8a8a" stroke-width="0.7"/>
<use href="#ms" fill="url(#mg)"/>
<use href="#ms" fill="url(#mh)"/>
<circle cx="-1.60" cy="9.50" r="0.80" fill="#666" stroke="none" stroke-width="1.0" opacity="0.6"/>
<circle cx="1.60" cy="9.50" r="0.80" fill="#666" stroke="none" stroke-width="1.0" opacity="0.6"/>
<g fill="#999" opacity="0.22" clip-path="url(#mclip)"><ellipse cx="0" cy="14.5" rx="3.4" ry="2"/><ellipse cx="-2.4" cy="15.7" rx="1.1" ry="1.1"/><ellipse cx="3.1" cy="22.0" rx="1.2" ry="1.5"/><ellipse cx="3.9" cy="20.6" rx="1.1" ry="2.2"/><ellipse cx="1.2" cy="29.8" rx="0.9" ry="1.6"/></g>
<g clip-path="url(#mclip)">
<circle cx="3.07" cy="29.77" r="2.54" fill="url(#g3)" stroke="none" stroke-width="1.0"/>
<circle cx="-2.40" cy="7.31" r="3.16" fill="url(#g2)" stroke="none" stroke-width="1.0"/>
<circle cx="3.87" cy="15.68" r="3.45" fill="url(#g3)" stroke="none" stroke-width="1.0"/>
<circle cx="0.93" cy="26.15" r="3.23" fill="url(#g2)" stroke="none" stroke-width="1.0"/>
<circle cx="-3.55" cy="21.50" r="3.18" fill="url(#g3)" stroke="none" stroke-width="1.0"/>
<circle cx="-4.16" cy="14.84" r="2.55" fill="url(#g3)" stroke="none" stroke-width="1.0"/>
<circle cx="4.00" cy="8.88" r="2.79" fill="url(#g4)" stroke="none" stroke-width="1.0"/>
<circle cx="3.31" cy="26.74" r="2.86" fill="url(#g4)" stroke="none" stroke-width="1.0"/>
</g>
</g>
<g transform="translate(89.50,260.80) scale(1.0,1)">
<path d="M-3.5,32.5 L-6,35.8 M3.5,32.5 L6,35.8 M-1,34 L-1.5,36 M1,34 L1.5,36" fill="none" stroke="#8a8a8a" stroke-width="0.7"/>
<use href="#ms" fill="url(#mg)"/>
<use href="#ms" fill="url(#mh)"/>
<circle cx="-1.60" cy="9.50" r="0.80" fill="#666" stroke="none" stroke-width="1.0" opacity="0.6"/>
<circle cx="1.60" cy="9.50" r="0.80" fill="#666" stroke="none" stroke-width="1.0" opacity="0.6"/>
<g fill="#999" opacity="0.22" clip-path="url(#mclip)"><ellipse cx="0" cy="14.5" rx="3.4" ry="2"/><ellipse cx="-0.7" cy="18.1" rx="1.5" ry="0.9"/><ellipse cx="-3.7" cy="20.4" rx="1.4" ry="1.5"/><ellipse cx="2.4" cy="23.6" rx="1.0" ry="1.7"/><ellipse cx="1.2" cy="18.6" rx="1.1" ry="2.5"/></g>
<g clip-path="url(#mclip)">
<circle cx="-0.74" cy="7.34" r="3.32" fill="url(#g2)" stroke="none" stroke-width="1.0"/>
<circle cx="-0.77" cy="6.47" r="3.34" fill="url(#g2)" stroke="none" stroke-width="1.0"/>
<circle cx="1.30" cy="16.16" r="2.95" fill="url(#g2)" stroke="none" stroke-width="1.0"/>
<circle cx="-0.59" cy="10.07" r="2.62" fill="url(#g3)" stroke="none" stroke-width="1.0"/>
<circle cx="-0.84" cy="28.95" r="3.01" fill="url(#g3)" stroke="none" stroke-width="1.0"/>
<circle cx="-3.33" cy="7.34" r="2.66" fill="url(#g3)" stroke="none" stroke-width="1.0"/>
<circle cx="2.45" cy="17.12" r="2.66" fill="url(#g4)" stroke="none" stroke-width="1.0"/>
<circle cx="3.42" cy="24.96" r="2.34" fill="url(#g4)" stroke="none" stroke-width="1.0"/>
</g>
</g>
<g transform="translate(105.30,260.80) scale(1.0,1)">
<path d="M-3.5,32.5 L-6,35.8 M3.5,32.5 L6,35.8 M-1,34 L-1.5,36 M1,34 L1.5,36" fill="none" stroke="#8a8a8a" stroke-width="0.7"/>
<use href="#ms" fill="url(#mg)"/>
<use href="#ms" fill="url(#mh)"/>
<circle cx="-1.60" cy="9.50" r="0.80" fill="#666" stroke="none" stroke-width="1.0" opacity="0.6"/>
<circle cx="1.60" cy="9.50" r="0.80" fill="#666" stroke="none" stroke-width="1.0" opacity="0.6"/>
<g fill="#999" opacity="0.22" clip-path="url(#mclip)"><ellipse cx="0" cy="14.5" rx="3.4" ry="2"/><ellipse cx="-1.2" cy="14.1" rx="1.0" ry="0.9"/><ellipse cx="-0.9" cy="25.3" rx="1.8" ry="2.2"/><ellipse cx="-1.6" cy="26.9" rx="0.9" ry="2.4"/><ellipse cx="-1.5" cy="22.5" rx="1.6" ry="0.9"/></g>
<g clip-path="url(#mclip)">
<circle cx="1.26" cy="28.27" r="3.18" fill="url(#g3)" stroke="none" stroke-width="1.0"/>
<circle cx="2.96" cy="10.76" r="2.74" fill="url(#g3)" stroke="none" stroke-width="1.0"/>
<circle cx="3.95" cy="10.07" r="2.90" fill="url(#g2)" stroke="none" stroke-width="1.0"/>
<circle cx="-2.28" cy="24.85" r="3.49" fill="url(#g3)" stroke="none" stroke-width="1.0"/>
<circle cx="3.45" cy="27.90" r="3.24" fill="url(#g3)" stroke="none" stroke-width="1.0"/>
<circle cx="-3.44" cy="21.59" r="3.11" fill="url(#g2)" stroke="none" stroke-width="1.0"/>
<circle cx="1.02" cy="15.04" r="2.54" fill="url(#g4)" stroke="none" stroke-width="1.0"/>
<circle cx="0.66" cy="17.79" r="2.73" fill="url(#g4)" stroke="none" stroke-width="1.0"/>
</g>
</g>
<g transform="translate(121.00,260.80) scale(1.0,1)">
<path d="M-3.5,32.5 L-6,35.8 M3.5,32.5 L6,35.8 M-1,34 L-1.5,36 M1,34 L1.5,36" fill="none" stroke="#8a8a8a" stroke-width="0.7"/>
<use href="#ms" fill="url(#mg)"/>
<use href="#ms" fill="url(#mh)"/>
<circle cx="-1.60" cy="9.50" r="0.80" fill="#666" stroke="none" stroke-width="1.0" opacity="0.6"/>
<circle cx="1.60" cy="9.50" r="0.80" fill="#666" stroke="none" stroke-width="1.0" opacity="0.6"/>
<g fill="#999" opacity="0.22" clip-path="url(#mclip)"><ellipse cx="0" cy="14.5" rx="3.4" ry="2"/><ellipse cx="-0.4" cy="19.3" rx="0.8" ry="1.9"/><ellipse cx="-0.1" cy="15.5" rx="1.7" ry="2.1"/><ellipse cx="-0.3" cy="14.4" rx="1.4" ry="1.0"/><ellipse cx="-3.0" cy="19.2" rx="0.9" ry="1.6"/></g>
<g clip-path="url(#mclip)">
<circle cx="-4.13" cy="9.39" r="3.51" fill="url(#g3)" stroke="none" stroke-width="1.0"/>
<circle cx="2.50" cy="19.30" r="2.56" fill="url(#g2)" stroke="none" stroke-width="1.0"/>
<circle cx="1.37" cy="26.39" r="2.53" fill="url(#g2)" stroke="none" stroke-width="1.0"/>
<circle cx="4.47" cy="25.03" r="3.40" fill="url(#g3)" stroke="none" stroke-width="1.0"/>
<circle cx="-3.32" cy="29.03" r="2.82" fill="url(#g3)" stroke="none" stroke-width="1.0"/>
<circle cx="1.68" cy="24.75" r="2.74" fill="url(#g3)" stroke="none" stroke-width="1.0"/>
<circle cx="2.66" cy="22.04" r="2.40" fill="url(#g4)" stroke="none" stroke-width="1.0"/>
<circle cx="-1.41" cy="22.11" r="2.92" fill="url(#g4)" stroke="none" stroke-width="1.0"/>
</g>
</g>
<rect x="133.20" y="260.50" width="78.50" height="36.50" fill="#0b0b0b" stroke="none" stroke-width="1.0"/>
<rect x="147.20" y="260.50" width="2.50" height="36.50" fill="#161616" stroke="none" stroke-width="1.0"/>
<rect x="163.20" y="260.50" width="2.50" height="36.50" fill="#161616" stroke="none" stroke-width="1.0"/>
<rect x="179.20" y="260.50" width="2.50" height="36.50" fill="#161616" stroke="none" stroke-width="1.0"/>
<rect x="195.20" y="260.50" width="2.50" height="36.50" fill="#161616" stroke="none" stroke-width="1.0"/>
<g transform="translate(141.20,260.80) scale(1.0,1)">
<path d="M-3.5,32.5 L-6,35.8 M3.5,32.5 L6,35.8 M-1,34 L-1.5,36 M1,34 L1.5,36" fill="none" stroke="#8a8a8a" stroke-width="0.7"/>
<use href="#ms" fill="url(#mg)"/>
<use href="#ms" fill="url(#mh)"/>
<circle cx="-1.60" cy="9.50" r="0.80" fill="#666" stroke="none" stroke-width="1.0" opacity="0.6"/>
<circle cx="1.60" cy="9.50" r="0.80" fill="#666" stroke="none" stroke-width="1.0" opacity="0.6"/>
<g fill="#999" opacity="0.22" clip-path="url(#mclip)"><ellipse cx="0" cy="14.5" rx="3.4" ry="2"/><ellipse cx="-0.3" cy="15.8" rx="2.0" ry="1.6"/><ellipse cx="0.7" cy="22.7" rx="1.1" ry="1.4"/><ellipse cx="-2.4" cy="18.7" rx="1.6" ry="1.3"/><ellipse cx="-1.4" cy="18.2" rx="1.8" ry="1.2"/></g>
<g clip-path="url(#mclip)">
<circle cx="2.41" cy="11.07" r="1.43" fill="url(#g1)" stroke="none" stroke-width="1.0"/>
<circle cx="4.20" cy="19.97" r="1.26" fill="url(#g1)" stroke="none" stroke-width="1.0"/>
</g>
</g>
<g transform="translate(157.00,260.80) scale(1.0,1)">
<path d="M-3.5,32.5 L-6,35.8 M3.5,32.5 L6,35.8 M-1,34 L-1.5,36 M1,34 L1.5,36" fill="none" stroke="#8a8a8a" stroke-width="0.7"/>
<use href="#ms" fill="url(#mg)"/>
<use href="#ms" fill="url(#mh)"/>
<circle cx="-1.60" cy="9.50" r="0.80" fill="#666" stroke="none" stroke-width="1.0" opacity="0.6"/>
<circle cx="1.60" cy="9.50" r="0.80" fill="#666" stroke="none" stroke-width="1.0" opacity="0.6"/>
<g fill="#999" opacity="0.22" clip-path="url(#mclip)"><ellipse cx="0" cy="14.5" rx="3.4" ry="2"/><ellipse cx="1.5" cy="28.0" rx="1.1" ry="1.7"/><ellipse cx="2.9" cy="25.0" rx="1.2" ry="1.4"/><ellipse cx="-1.0" cy="13.8" rx="1.2" ry="0.9"/><ellipse cx="-2.2" cy="22.7" rx="1.9" ry="1.3"/></g>
<g clip-path="url(#mclip)">
<circle cx="-2.46" cy="22.26" r="2.39" fill="url(#g1)" stroke="none" stroke-width="1.0"/>
<circle cx="4.28" cy="29.18" r="2.16" fill="url(#g1)" stroke="none" stroke-width="1.0"/>
<circle cx="-4.66" cy="9.03" r="2.05" fill="url(#g1)" stroke="none" stroke-width="1.0"/>
</g>
</g>
<g transform="translate(172.70,260.80) scale(1.0,1)">
<path d="M-3.5,32.5 L-6,35.8 M3.5,32.5 L6,35.8 M-1,34 L-1.5,36 M1,34 L1.5,36" fill="none" stroke="#8a8a8a" stroke-width="0.7"/>
<use href="#ms" fill="url(#mg)"/>
<use href="#ms" fill="url(#mh)"/>
<circle cx="-1.60" cy="9.50" r="0.80" fill="#666" stroke="none" stroke-width="1.0" opacity="0.6"/>
<circle cx="1.60" cy="9.50" r="0.80" fill="#666" stroke="none" stroke-width="1.0" opacity="0.6"/>
<g fill="#999" opacity="0.22" clip-path="url(#mclip)"><ellipse cx="0" cy="14.5" rx="3.4" ry="2"/><ellipse cx="-0.5" cy="20.7" rx="1.9" ry="1.0"/><ellipse cx="-2.2" cy="23.4" rx="0.8" ry="0.8"/><ellipse cx="-1.2" cy="13.0" rx="1.2" ry="1.2"/><ellipse cx="0.7" cy="22.2" rx="1.0" ry="1.9"/></g>
<g clip-path="url(#mclip)">
<circle cx="-0.23" cy="12.96" r="1.47" fill="url(#g1)" stroke="none" stroke-width="1.0"/>
<circle cx="-2.31" cy="13.28" r="1.05" fill="url(#g1)" stroke="none" stroke-width="1.0"/>
</g>
</g>
<g transform="translate(188.50,260.80) scale(1.0,1)">
<path d="M-3.5,32.5 L-6,35.8 M3.5,32.5 L6,35.8 M-1,34 L-1.5,36 M1,34 L1.5,36" fill="none" stroke="#8a8a8a" stroke-width="0.7"/>
<use href="#ms" fill="url(#mg)"/>
<use href="#ms" fill="url(#mh)"/>
<circle cx="-1.60" cy="9.50" r="0.80" fill="#666" stroke="none" stroke-width="1.0" opacity="0.6"/>
<circle cx="1.60" cy="9.50" r="0.80" fill="#666" stroke="none" stroke-width="1.0" opacity="0.6"/>
<g fill="#999" opacity="0.22" clip-path="url(#mclip)"><ellipse cx="0" cy="14.5" rx="3.4" ry="2"/><ellipse cx="1.1" cy="27.6" rx="1.7" ry="1.5"/><ellipse cx="-1.9" cy="11.2" rx="1.6" ry="1.8"/><ellipse cx="-1.2" cy="23.3" rx="1.3" ry="2.4"/><ellipse cx="1.9" cy="15.7" rx="1.9" ry="0.9"/></g>
<g clip-path="url(#mclip)">
<circle cx="0.28" cy="18.93" r="1.12" fill="url(#g1)" stroke="none" stroke-width="1.0"/>
<circle cx="-3.97" cy="27.14" r="1.01" fill="url(#g1)" stroke="none" stroke-width="1.0"/>
</g>
</g>
<g transform="translate(204.20,260.80) scale(1.0,1)">
<path d="M-3.5,32.5 L-6,35.8 M3.5,32.5 L6,35.8 M-1,34 L-1.5,36 M1,34 L1.5,36" fill="none" stroke="#8a8a8a" stroke-width="0.7"/>
<use href="#ms" fill="url(#mg)"/>
<use href="#ms" fill="url(#mh)"/>
<circle cx="-1.60" cy="9.50" r="0.80" fill="#666" stroke="none" stroke-width="1.0" opacity="0.6"/>
<circle cx="1.60" cy="9.50" r="0.80" fill="#666" stroke="none" stroke-width="1.0" opacity="0.6"/>
<g fill="#999" opacity="0.22" clip-path="url(#mclip)"><ellipse cx="0" cy="14.5" rx="3.4" ry="2"/><ellipse cx="0.4" cy="28.9" rx="1.0" ry="1.1"/><ellipse cx="0.9" cy="20.6" rx="1.6" ry="2.2"/><ellipse cx="-2.6" cy="16.9" rx="1.2" ry="0.9"/><ellipse cx="3.1" cy="25.9" rx="1.7" ry="0.8"/></g>
<g clip-path="url(#mclip)">
<circle cx="2.45" cy="17.56" r="2.17" fill="url(#g2)" stroke="none" stroke-width="1.0"/>
<circle cx="-3.25" cy="31.91" r="1.74" fill="url(#g2)" stroke="none" stroke-width="1.0"/>
<circle cx="-4.61" cy="14.06" r="2.17" fill="url(#g1)" stroke="none" stroke-width="1.0"/>
<circle cx="4.43" cy="12.11" r="1.55" fill="url(#g1)" stroke="none" stroke-width="1.0"/>
</g>
</g>
<rect x="217.00" y="260.50" width="78.50" height="36.50" fill="#0b0b0b" stroke="none" stroke-width="1.0"/>
<rect x="231.00" y="260.50" width="2.50" height="36.50" fill="#161616" stroke="none" stroke-width="1.0"/>
<rect x="247.00" y="260.50" width="2.50" height="36.50" fill="#161616" stroke="none" stroke-width="1.0"/>
<rect x="263.00" y="260.50" width="2.50" height="36.50" fill="#161616" stroke="none" stroke-width="1.0"/>
<rect x="279.00" y="260.50" width="2.50" height="36.50" fill="#161616" stroke="none" stroke-width="1.0"/>
<g transform="translate(225.00,260.80) scale(1.0,1)">
<path d="M-3.5,32.5 L-6,35.8 M3.5,32.5 L6,35.8 M-1,34 L-1.5,36 M1,34 L1.5,36" fill="none" stroke="#8a8a8a" stroke-width="0.7"/>
<use href="#ms" fill="url(#mg)"/>
<use href="#ms" fill="url(#mh)"/>
<circle cx="-1.60" cy="9.50" r="0.80" fill="#666" stroke="none" stroke-width="1.0" opacity="0.6"/>
<circle cx="1.60" cy="9.50" r="0.80" fill="#666" stroke="none" stroke-width="1.0" opacity="0.6"/>
<g fill="#999" opacity="0.22" clip-path="url(#mclip)"><ellipse cx="0" cy="14.5" rx="3.4" ry="2"/><ellipse cx="1.1" cy="23.9" rx="1.6" ry="2.4"/><ellipse cx="3.8" cy="16.6" rx="1.9" ry="2.3"/><ellipse cx="-3.3" cy="20.6" rx="1.0" ry="2.3"/><ellipse cx="2.7" cy="14.9" rx="1.0" ry="2.4"/></g>
<g clip-path="url(#mclip)">
<circle cx="-2.77" cy="18.55" r="1.30" fill="url(#g1)" stroke="none" stroke-width="1.0"/>
<circle cx="-1.08" cy="28.74" r="1.46" fill="url(#g1)" stroke="none" stroke-width="1.0"/>
</g>
</g>
<g transform="translate(240.80,260.80) scale(1.0,1)">
<path d="M-3.5,32.5 L-6,35.8 M3.5,32.5 L6,35.8 M-1,34 L-1.5,36 M1,34 L1.5,36" fill="none" stroke="#8a8a8a" stroke-width="0.7"/>
<use href="#ms" fill="url(#mg)"/>
<use href="#ms" fill="url(#mh)"/>
<circle cx="-1.60" cy="9.50" r="0.80" fill="#666" stroke="none" stroke-width="1.0" opacity="0.6"/>
<circle cx="1.60" cy="9.50" r="0.80" fill="#666" stroke="none" stroke-width="1.0" opacity="0.6"/>
<g fill="#999" opacity="0.22" clip-path="url(#mclip)"><ellipse cx="0" cy="14.5" rx="3.4" ry="2"/><ellipse cx="3.9" cy="27.0" rx="1.4" ry="1.6"/><ellipse cx="0.2" cy="11.1" rx="0.8" ry="2.4"/><ellipse cx="-2.1" cy="27.8" rx="1.7" ry="1.5"/><ellipse cx="0.7" cy="21.7" rx="1.0" ry="0.9"/></g>
<g clip-path="url(#mclip)">
<circle cx="-3.49" cy="23.68" r="1.08" fill="url(#g1)" stroke="none" stroke-width="1.0"/>
<circle cx="4.30" cy="25.42" r="1.02" fill="url(#g1)" stroke="none" stroke-width="1.0"/>
</g>
</g>
<g transform="translate(256.50,260.80) scale(1.0,1)">
<path d="M-3.5,32.5 L-6,35.8 M3.5,32.5 L6,35.8 M-1,34 L-1.5,36 M1,34 L1.5,36" fill="none" stroke="#8a8a8a" stroke-width="0.7"/>
<use href="#ms" fill="url(#mg)"/>
<use href="#ms" fill="url(#mh)"/>
<circle cx="-1.60" cy="9.50" r="0.80" fill="#666" stroke="none" stroke-width="1.0" opacity="0.6"/>
<circle cx="1.60" cy="9.50" r="0.80" fill="#666" stroke="none" stroke-width="1.0" opacity="0.6"/>
<g fill="#999" opacity="0.22" clip-path="url(#mclip)"><ellipse cx="0" cy="14.5" rx="3.4" ry="2"/><ellipse cx="-2.9" cy="23.2" rx="0.9" ry="0.9"/><ellipse cx="-3.6" cy="27.3" rx="1.7" ry="1.1"/><ellipse cx="3.6" cy="21.1" rx="1.6" ry="2.3"/><ellipse cx="2.0" cy="24.5" rx="1.3" ry="1.2"/></g>
<g clip-path="url(#mclip)">
<circle cx="-2.67" cy="10.74" r="1.47" fill="url(#g1)" stroke="none" stroke-width="1.0"/>
<circle cx="3.70" cy="26.58" r="1.04" fill="url(#g1)" stroke="none" stroke-width="1.0"/>
</g>
</g>
<g transform="translate(272.30,260.80) scale(1.0,1)">
<path d="M-3.5,32.5 L-6,35.8 M3.5,32.5 L6,35.8 M-1,34 L-1.5,36 M1,34 L1.5,36" fill="none" stroke="#8a8a8a" stroke-width="0.7"/>
<use href="#ms" fill="url(#mg)"/>
<use href="#ms" fill="url(#mh)"/>
<circle cx="-1.60" cy="9.50" r="0.80" fill="#666" stroke="none" stroke-width="1.0" opacity="0.6"/>
<circle cx="1.60" cy="9.50" r="0.80" fill="#666" stroke="none" stroke-width="1.0" opacity="0.6"/>
<g fill="#999" opacity="0.22" clip-path="url(#mclip)"><ellipse cx="0" cy="14.5" rx="3.4" ry="2"/><ellipse cx="2.0" cy="23.0" rx="1.4" ry="1.0"/><ellipse cx="2.3" cy="23.3" rx="1.2" ry="1.4"/><ellipse cx="-1.9" cy="17.7" rx="1.9" ry="0.9"/><ellipse cx="2.1" cy="28.3" rx="1.7" ry="1.8"/></g>
<g clip-path="url(#mclip)">
<circle cx="-0.22" cy="16.33" r="1.37" fill="url(#g1)" stroke="none" stroke-width="1.0"/>
<circle cx="2.60" cy="10.69" r="1.26" fill="url(#g1)" stroke="none" stroke-width="1.0"/>
</g>
</g>
<g transform="translate(288.00,260.80) scale(1.0,1)">
<path d="M-3.5,32.5 L-6,35.8 M3.5,32.5 L6,35.8 M-1,34 L-1.5,36 M1,34 L1.5,36" fill="none" stroke="#8a8a8a" stroke-width="0.7"/>
<use href="#ms" fill="url(#mg)"/>
<use href="#ms" fill="url(#mh)"/>
<circle cx="-1.60" cy="9.50" r="0.80" fill="#666" stroke="none" stroke-width="1.0" opacity="0.6"/>
<circle cx="1.60" cy="9.50" r="0.80" fill="#666" stroke="none" stroke-width="1.0" opacity="0.6"/>
<g fill="#999" opacity="0.22" clip-path="url(#mclip)"><ellipse cx="0" cy="14.5" rx="3.4" ry="2"/><ellipse cx="-3.2" cy="19.9" rx="0.9" ry="1.8"/><ellipse cx="1.7" cy="26.7" rx="1.5" ry="1.3"/><ellipse cx="-0.5" cy="20.9" rx="1.1" ry="2.1"/><ellipse cx="-3.6" cy="17.6" rx="0.9" ry="2.0"/></g>
</g>
<rect x="300.50" y="260.50" width="78.50" height="36.50" fill="#0b0b0b" stroke="none" stroke-width="1.0"/>
<rect x="314.50" y="260.50" width="2.50" height="36.50" fill="#161616" stroke="none" stroke-width="1.0"/>
<rect x="330.50" y="260.50" width="2.50" height="36.50" fill="#161616" stroke="none" stroke-width="1.0"/>
<rect x="346.50" y="260.50" width="2.50" height="36.50" fill="#161616" stroke="none" stroke-width="1.0"/>
<rect x="362.50" y="260.50" width="2.50" height="36.50" fill="#161616" stroke="none" stroke-width="1.0"/>
<g transform="translate(308.50,260.80) scale(1.0,1)">
<path d="M-3.5,32.5 L-6,35.8 M3.5,32.5 L6,35.8 M-1,34 L-1.5,36 M1,34 L1.5,36" fill="none" stroke="#8a8a8a" stroke-width="0.7"/>
<use href="#ms" fill="url(#mg)"/>
<use href="#ms" fill="url(#mh)"/>
<circle cx="-1.60" cy="9.50" r="0.80" fill="#666" stroke="none" stroke-width="1.0" opacity="0.6"/>
<circle cx="1.60" cy="9.50" r="0.80" fill="#666" stroke="none" stroke-width="1.0" opacity="0.6"/>
<g fill="#999" opacity="0.22" clip-path="url(#mclip)"><ellipse cx="0" cy="14.5" rx="3.4" ry="2"/><ellipse cx="2.6" cy="29.4" rx="1.5" ry="2.4"/><ellipse cx="0.1" cy="22.0" rx="1.0" ry="2.2"/><ellipse cx="3.5" cy="15.4" rx="1.0" ry="2.4"/><ellipse cx="2.1" cy="20.3" rx="2.0" ry="1.8"/></g>
</g>
<g transform="translate(324.30,260.80) scale(1.0,1)">
<path d="M-3.5,32.5 L-6,35.8 M3.5,32.5 L6,35.8 M-1,34 L-1.5,36 M1,34 L1.5,36" fill="none" stroke="#8a8a8a" stroke-width="0.7"/>
<use href="#ms" fill="url(#mg)"/>
<use href="#ms" fill="url(#mh)"/>
<circle cx="-1.60" cy="9.50" r="0.80" fill="#666" stroke="none" stroke-width="1.0" opacity="0.6"/>
<circle cx="1.60" cy="9.50" r="0.80" fill="#666" stroke="none" stroke-width="1.0" opacity="0.6"/>
<g fill="#999" opacity="0.22" clip-path="url(#mclip)"><ellipse cx="0" cy="14.5" rx="3.4" ry="2"/><ellipse cx="-3.2" cy="17.2" rx="0.9" ry="2.4"/><ellipse cx="3.1" cy="25.2" rx="1.3" ry="1.9"/><ellipse cx="-1.0" cy="16.8" rx="1.3" ry="1.7"/><ellipse cx="-2.6" cy="29.7" rx="1.6" ry="2.4"/></g>
</g>
<g transform="translate(340.00,260.80) scale(1.0,1)">
<path d="M-3.5,32.5 L-6,35.8 M3.5,32.5 L6,35.8 M-1,34 L-1.5,36 M1,34 L1.5,36" fill="none" stroke="#8a8a8a" stroke-width="0.7"/>
<use href="#ms" fill="url(#mg)"/>
<use href="#ms" fill="url(#mh)"/>
<circle cx="-1.60" cy="9.50" r="0.80" fill="#666" stroke="none" stroke-width="1.0" opacity="0.6"/>
<circle cx="1.60" cy="9.50" r="0.80" fill="#666" stroke="none" stroke-width="1.0" opacity="0.6"/>
<g fill="#999" opacity="0.22" clip-path="url(#mclip)"><ellipse cx="0" cy="14.5" rx="3.4" ry="2"/><ellipse cx="-3.0" cy="22.3" rx="1.6" ry="1.8"/><ellipse cx="-3.7" cy="22.1" rx="1.4" ry="2.3"/><ellipse cx="-0.4" cy="21.5" rx="1.2" ry="1.6"/><ellipse cx="1.5" cy="15.9" rx="1.1" ry="1.4"/></g>
</g>
<g transform="translate(355.80,260.80) scale(1.0,1)">
<path d="M-3.5,32.5 L-6,35.8 M3.5,32.5 L6,35.8 M-1,34 L-1.5,36 M1,34 L1.5,36" fill="none" stroke="#8a8a8a" stroke-width="0.7"/>
<use href="#ms" fill="url(#mg)"/>
<use href="#ms" fill="url(#mh)"/>
<circle cx="-1.60" cy="9.50" r="0.80" fill="#666" stroke="none" stroke-width="1.0" opacity="0.6"/>
<circle cx="1.60" cy="9.50" r="0.80" fill="#666" stroke="none" stroke-width="1.0" opacity="0.6"/>
<g fill="#999" opacity="0.22" clip-path="url(#mclip)"><ellipse cx="0" cy="14.5" rx="3.4" ry="2"/><ellipse cx="1.1" cy="24.2" rx="1.4" ry="1.3"/><ellipse cx="2.0" cy="26.7" rx="1.5" ry="2.0"/><ellipse cx="3.8" cy="24.7" rx="1.5" ry="1.4"/><ellipse cx="-2.1" cy="29.2" rx="1.1" ry="2.4"/></g>
</g>
<g transform="translate(371.50,260.80) scale(1.0,1)">
<path d="M-3.5,32.5 L-6,35.8 M3.5,32.5 L6,35.8 M-1,34 L-1.5,36 M1,34 L1.5,36" fill="none" stroke="#8a8a8a" stroke-width="0.7"/>
<use href="#ms" fill="url(#mg)"/>
<use href="#ms" fill="url(#mh)"/>
<circle cx="-1.60" cy="9.50" r="0.80" fill="#666" stroke="none" stroke-width="1.0" opacity="0.6"/>
<circle cx="1.60" cy="9.50" r="0.80" fill="#666" stroke="none" stroke-width="1.0" opacity="0.6"/>
<g fill="#999" opacity="0.22" clip-path="url(#mclip)"><ellipse cx="0" cy="14.5" rx="3.4" ry="2"/><ellipse cx="4.0" cy="14.1" rx="1.6" ry="1.1"/><ellipse cx="-2.8" cy="13.8" rx="1.2" ry="1.3"/><ellipse cx="-1.8" cy="13.1" rx="1.9" ry="1.3"/><ellipse cx="3.1" cy="19.8" rx="0.8" ry="2.3"/></g>
</g>
<text x="7.00" y="324.05" font-size="10" fill="#1a1a1a">Day 46</text>
<rect x="50.00" y="302.20" width="78.50" height="36.50" fill="#0b0b0b" stroke="none" stroke-width="1.0"/>
<rect x="64.00" y="302.20" width="2.50" height="36.50" fill="#161616" stroke="none" stroke-width="1.0"/>
<rect x="80.00" y="302.20" width="2.50" height="36.50" fill="#161616" stroke="none" stroke-width="1.0"/>
<rect x="96.00" y="302.20" width="2.50" height="36.50" fill="#161616" stroke="none" stroke-width="1.0"/>
<rect x="112.00" y="302.20" width="2.50" height="36.50" fill="#161616" stroke="none" stroke-width="1.0"/>
<g transform="translate(58.00,302.50) scale(1.12,1)">
<path d="M-3.5,32.5 L-6,35.8 M3.5,32.5 L6,35.8 M-1,34 L-1.5,36 M1,34 L1.5,36" fill="none" stroke="#8a8a8a" stroke-width="0.7"/>
<use href="#ms" fill="url(#mg)"/>
<use href="#ms" fill="url(#mh)"/>
<circle cx="-1.60" cy="9.50" r="0.80" fill="#666" stroke="none" stroke-width="1.0" opacity="0.6"/>
<circle cx="1.60" cy="9.50" r="0.80" fill="#666" stroke="none" stroke-width="1.0" opacity="0.6"/>
<g fill="#999" opacity="0.22" clip-path="url(#mclip)"><ellipse cx="0" cy="14.5" rx="3.4" ry="2"/><ellipse cx="-0.5" cy="15.2" rx="2.0" ry="1.3"/><ellipse cx="-3.8" cy="15.9" rx="1.7" ry="0.8"/><ellipse cx="-2.1" cy="27.2" rx="1.6" ry="1.8"/><ellipse cx="1.2" cy="27.1" rx="1.6" ry="1.9"/></g>
<g clip-path="url(#mclip)">
<path d="M0,0.5 C0.6,2 1.2,3.5 1.8,5.5 C2.8,8 3.8,10 4.6,12.5 C5.4,15 5.8,18 6.0,22 C6.2,26 6.1,29.5 5.3,31.8 C4.4,33.4 3.0,34 1.8,34.2 L1.4,35.6 L-1.4,35.6 L-1.8,34.2 C-3.0,34 -4.4,33.4 -5.3,31.8 C-6.1,29.5 -6.2,26 -6.0,22 C-5.8,18 -5.4,15 -4.6,12.5 C-3.8,10 -2.8,8 -1.8,5.5 C-1.2,3.5 -0.6,2 0,0.5 Z" fill="url(#gbase)"/>
<circle cx="3.40" cy="23.40" r="3.88" fill="url(#g3)" stroke="none" stroke-width="1.0"/>
<circle cx="-2.44" cy="12.36" r="3.19" fill="url(#g3)" stroke="none" stroke-width="1.0"/>
<circle cx="-0.61" cy="14.24" r="4.05" fill="url(#g3)" stroke="none" stroke-width="1.0"/>
<circle cx="3.55" cy="13.82" r="3.60" fill="url(#g3)" stroke="none" stroke-width="1.0"/>
<circle cx="1.91" cy="11.76" r="4.27" fill="url(#g3)" stroke="none" stroke-width="1.0"/>
<circle cx="-0.12" cy="6.49" r="4.03" fill="url(#g4)" stroke="none" stroke-width="1.0"/>
<circle cx="0.13" cy="22.53" r="4.05" fill="url(#g4)" stroke="none" stroke-width="1.0"/>
<circle cx="2.76" cy="14.20" r="3.01" fill="url(#g4)" stroke="none" stroke-width="1.0"/>
<circle cx="2.32" cy="28.70" r="3.13" fill="url(#g4)" stroke="none" stroke-width="1.0"/>
</g>
</g>
<g transform="translate(73.80,302.50) scale(1.12,1)">
<path d="M-3.5,32.5 L-6,35.8 M3.5,32.5 L6,35.8 M-1,34 L-1.5,36 M1,34 L1.5,36" fill="none" stroke="#8a8a8a" stroke-width="0.7"/>
<use href="#ms" fill="url(#mg)"/>
<use href="#ms" fill="url(#mh)"/>
<circle cx="-1.60" cy="9.50" r="0.80" fill="#666" stroke="none" stroke-width="1.0" opacity="0.6"/>
<circle cx="1.60" cy="9.50" r="0.80" fill="#666" stroke="none" stroke-width="1.0" opacity="0.6"/>
<g fill="#999" opacity="0.22" clip-path="url(#mclip)"><ellipse cx="0" cy="14.5" rx="3.4" ry="2"/><ellipse cx="-2.0" cy="15.1" rx="1.7" ry="2.4"/><ellipse cx="-2.4" cy="17.6" rx="1.8" ry="1.6"/><ellipse cx="-2.4" cy="20.0" rx="0.8" ry="2.1"/><ellipse cx="-1.0" cy="17.5" rx="1.7" ry="1.6"/></g>
<g clip-path="url(#mclip)">
<path d="M0,0.5 C0.6,2 1.2,3.5 1.8,5.5 C2.8,8 3.8,10 4.6,12.5 C5.4,15 5.8,18 6.0,22 C6.2,26 6.1,29.5 5.3,31.8 C4.4,33.4 3.0,34 1.8,34.2 L1.4,35.6 L-1.4,35.6 L-1.8,34.2 C-3.0,34 -4.4,33.4 -5.3,31.8 C-6.1,29.5 -6.2,26 -6.0,22 C-5.8,18 -5.4,15 -4.6,12.5 C-3.8,10 -2.8,8 -1.8,5.5 C-1.2,3.5 -0.6,2 0,0.5 Z" fill="url(#gbase)"/>
<circle cx="4.41" cy="12.41" r="3.77" fill="url(#g3)" stroke="none" stroke-width="1.0"/>
<circle cx="3.89" cy="25.50" r="3.92" fill="url(#g3)" stroke="none" stroke-width="1.0"/>
<circle cx="1.24" cy="14.06" r="3.57" fill="url(#g3)" stroke="none" stroke-width="1.0"/>
<circle cx="-3.95" cy="9.80" r="4.37" fill="url(#g3)" stroke="none" stroke-width="1.0"/>
<circle cx="1.16" cy="24.20" r="3.87" fill="url(#g3)" stroke="none" stroke-width="1.0"/>
<circle cx="-2.74" cy="13.59" r="3.48" fill="url(#g4)" stroke="none" stroke-width="1.0"/>
<circle cx="3.18" cy="30.29" r="4.19" fill="url(#g4)" stroke="none" stroke-width="1.0"/>
<circle cx="3.23" cy="17.55" r="3.20" fill="url(#g4)" stroke="none" stroke-width="1.0"/>
<circle cx="3.01" cy="7.72" r="3.96" fill="url(#g4)" stroke="none" stroke-width="1.0"/>
</g>
</g>
<g transform="translate(89.50,302.50) scale(1.12,1)">
<path d="M-3.5,32.5 L-6,35.8 M3.5,32.5 L6,35.8 M-1,34 L-1.5,36 M1,34 L1.5,36" fill="none" stroke="#8a8a8a" stroke-width="0.7"/>
<use href="#ms" fill="url(#mg)"/>
<use href="#ms" fill="url(#mh)"/>
<circle cx="-1.60" cy="9.50" r="0.80" fill="#666" stroke="none" stroke-width="1.0" opacity="0.6"/>
<circle cx="1.60" cy="9.50" r="0.80" fill="#666" stroke="none" stroke-width="1.0" opacity="0.6"/>
<g fill="#999" opacity="0.22" clip-path="url(#mclip)"><ellipse cx="0" cy="14.5" rx="3.4" ry="2"/><ellipse cx="-2.5" cy="23.2" rx="1.7" ry="2.2"/><ellipse cx="-2.8" cy="23.7" rx="1.8" ry="2.2"/><ellipse cx="-0.7" cy="29.9" rx="1.7" ry="1.9"/><ellipse cx="2.2" cy="19.9" rx="1.7" ry="1.2"/></g>
<g clip-path="url(#mclip)">
<path d="M0,0.5 C0.6,2 1.2,3.5 1.8,5.5 C2.8,8 3.8,10 4.6,12.5 C5.4,15 5.8,18 6.0,22 C6.2,26 6.1,29.5 5.3,31.8 C4.4,33.4 3.0,34 1.8,34.2 L1.4,35.6 L-1.4,35.6 L-1.8,34.2 C-3.0,34 -4.4,33.4 -5.3,31.8 C-6.1,29.5 -6.2,26 -6.0,22 C-5.8,18 -5.4,15 -4.6,12.5 C-3.8,10 -2.8,8 -1.8,5.5 C-1.2,3.5 -0.6,2 0,0.5 Z" fill="url(#gbase)"/>
<circle cx="1.84" cy="24.50" r="4.47" fill="url(#g3)" stroke="none" stroke-width="1.0"/>
<circle cx="1.61" cy="19.56" r="4.21" fill="url(#g3)" stroke="none" stroke-width="1.0"/>
<circle cx="2.69" cy="16.59" r="3.98" fill="url(#g3)" stroke="none" stroke-width="1.0"/>
<circle cx="-1.62" cy="19.64" r="3.94" fill="url(#g3)" stroke="none" stroke-width="1.0"/>
<circle cx="-3.73" cy="29.53" r="3.23" fill="url(#g3)" stroke="none" stroke-width="1.0"/>
<circle cx="-1.38" cy="15.63" r="3.10" fill="url(#g4)" stroke="none" stroke-width="1.0"/>
<circle cx="0.45" cy="14.12" r="4.13" fill="url(#g4)" stroke="none" stroke-width="1.0"/>
<circle cx="0.21" cy="14.63" r="3.70" fill="url(#g4)" stroke="none" stroke-width="1.0"/>
<circle cx="1.10" cy="11.24" r="3.09" fill="url(#g4)" stroke="none" stroke-width="1.0"/>
</g>
</g>
<g transform="translate(105.30,302.50) scale(1.12,1)">
<path d="M-3.5,32.5 L-6,35.8 M3.5,32.5 L6,35.8 M-1,34 L-1.5,36 M1,34 L1.5,36" fill="none" stroke="#8a8a8a" stroke-width="0.7"/>
<use href="#ms" fill="url(#mg)"/>
<use href="#ms" fill="url(#mh)"/>
<circle cx="-1.60" cy="9.50" r="0.80" fill="#666" stroke="none" stroke-width="1.0" opacity="0.6"/>
<circle cx="1.60" cy="9.50" r="0.80" fill="#666" stroke="none" stroke-width="1.0" opacity="0.6"/>
<g fill="#999" opacity="0.22" clip-path="url(#mclip)"><ellipse cx="0" cy="14.5" rx="3.4" ry="2"/><ellipse cx="-1.7" cy="22.6" rx="1.5" ry="2.3"/><ellipse cx="-2.5" cy="19.6" rx="1.7" ry="1.2"/><ellipse cx="-0.8" cy="21.2" rx="1.5" ry="2.0"/><ellipse cx="3.8" cy="12.7" rx="1.9" ry="1.7"/></g>
<g clip-path="url(#mclip)">
<path d="M0,0.5 C0.6,2 1.2,3.5 1.8,5.5 C2.8,8 3.8,10 4.6,12.5 C5.4,15 5.8,18 6.0,22 C6.2,26 6.1,29.5 5.3,31.8 C4.4,33.4 3.0,34 1.8,34.2 L1.4,35.6 L-1.4,35.6 L-1.8,34.2 C-3.0,34 -4.4,33.4 -5.3,31.8 C-6.1,29.5 -6.2,26 -6.0,22 C-5.8,18 -5.4,15 -4.6,12.5 C-3.8,10 -2.8,8 -1.8,5.5 C-1.2,3.5 -0.6,2 0,0.5 Z" fill="url(#gbase)"/>
<circle cx="1.23" cy="15.13" r="3.74" fill="url(#g3)" stroke="none" stroke-width="1.0"/>
<circle cx="-2.58" cy="9.89" r="4.26" fill="url(#g3)" stroke="none" stroke-width="1.0"/>
<circle cx="1.54" cy="10.81" r="3.18" fill="url(#g3)" stroke="none" stroke-width="1.0"/>
<circle cx="-0.73" cy="27.85" r="3.71" fill="url(#g3)" stroke="none" stroke-width="1.0"/>
<circle cx="0.51" cy="19.62" r="4.36" fill="url(#g3)" stroke="none" stroke-width="1.0"/>
<circle cx="1.40" cy="12.16" r="3.20" fill="url(#g4)" stroke="none" stroke-width="1.0"/>
<circle cx="0.70" cy="24.36" r="3.19" fill="url(#g4)" stroke="none" stroke-width="1.0"/>
<circle cx="-1.26" cy="23.40" r="3.60" fill="url(#g4)" stroke="none" stroke-width="1.0"/>
<circle cx="-1.42" cy="17.64" r="3.51" fill="url(#g4)" stroke="none" stroke-width="1.0"/>
</g>
</g>
<g transform="translate(121.00,302.50) scale(1.12,1)">
<path d="M-3.5,32.5 L-6,35.8 M3.5,32.5 L6,35.8 M-1,34 L-1.5,36 M1,34 L1.5,36" fill="none" stroke="#8a8a8a" stroke-width="0.7"/>
<use href="#ms" fill="url(#mg)"/>
<use href="#ms" fill="url(#mh)"/>
<circle cx="-1.60" cy="9.50" r="0.80" fill="#666" stroke="none" stroke-width="1.0" opacity="0.6"/>
<circle cx="1.60" cy="9.50" r="0.80" fill="#666" stroke="none" stroke-width="1.0" opacity="0.6"/>
<g fill="#999" opacity="0.22" clip-path="url(#mclip)"><ellipse cx="0" cy="14.5" rx="3.4" ry="2"/><ellipse cx="4.0" cy="23.8" rx="1.0" ry="1.4"/><ellipse cx="1.2" cy="11.4" rx="0.9" ry="2.1"/><ellipse cx="4.0" cy="26.4" rx="0.9" ry="1.6"/><ellipse cx="2.1" cy="13.7" rx="1.1" ry="1.5"/></g>
<g clip-path="url(#mclip)">
<path d="M0,0.5 C0.6,2 1.2,3.5 1.8,5.5 C2.8,8 3.8,10 4.6,12.5 C5.4,15 5.8,18 6.0,22 C6.2,26 6.1,29.5 5.3,31.8 C4.4,33.4 3.0,34 1.8,34.2 L1.4,35.6 L-1.4,35.6 L-1.8,34.2 C-3.0,34 -4.4,33.4 -5.3,31.8 C-6.1,29.5 -6.2,26 -6.0,22 C-5.8,18 -5.4,15 -4.6,12.5 C-3.8,10 -2.8,8 -1.8,5.5 C-1.2,3.5 -0.6,2 0,0.5 Z" fill="url(#gbase)"/>
<circle cx="-3.36" cy="10.27" r="3.99" fill="url(#g3)" stroke="none" stroke-width="1.0"/>
<circle cx="-1.43" cy="26.68" r="3.83" fill="url(#g3)" stroke="none" stroke-width="1.0"/>
<circle cx="3.71" cy="14.82" r="3.51" fill="url(#g3)" stroke="none" stroke-width="1.0"/>
<circle cx="-2.24" cy="9.27" r="3.43" fill="url(#g3)" stroke="none" stroke-width="1.0"/>
<circle cx="-1.30" cy="19.85" r="3.50" fill="url(#g3)" stroke="none" stroke-width="1.0"/>
<circle cx="3.39" cy="27.82" r="3.41" fill="url(#g4)" stroke="none" stroke-width="1.0"/>
<circle cx="-2.08" cy="18.30" r="3.14" fill="url(#g4)" stroke="none" stroke-width="1.0"/>
<circle cx="-2.15" cy="23.83" r="3.15" fill="url(#g4)" stroke="none" stroke-width="1.0"/>
<circle cx="3.31" cy="8.19" r="4.20" fill="url(#g4)" stroke="none" stroke-width="1.0"/>
</g>
</g>
<rect x="133.20" y="302.20" width="78.50" height="36.50" fill="#0b0b0b" stroke="none" stroke-width="1.0"/>
<rect x="147.20" y="302.20" width="2.50" height="36.50" fill="#161616" stroke="none" stroke-width="1.0"/>
<rect x="163.20" y="302.20" width="2.50" height="36.50" fill="#161616" stroke="none" stroke-width="1.0"/>
<rect x="179.20" y="302.20" width="2.50" height="36.50" fill="#161616" stroke="none" stroke-width="1.0"/>
<rect x="195.20" y="302.20" width="2.50" height="36.50" fill="#161616" stroke="none" stroke-width="1.0"/>
<g transform="translate(141.20,302.50) scale(1.12,1)">
<path d="M-3.5,32.5 L-6,35.8 M3.5,32.5 L6,35.8 M-1,34 L-1.5,36 M1,34 L1.5,36" fill="none" stroke="#8a8a8a" stroke-width="0.7"/>
<use href="#ms" fill="url(#mg)"/>
<use href="#ms" fill="url(#mh)"/>
<circle cx="-1.60" cy="9.50" r="0.80" fill="#666" stroke="none" stroke-width="1.0" opacity="0.6"/>
<circle cx="1.60" cy="9.50" r="0.80" fill="#666" stroke="none" stroke-width="1.0" opacity="0.6"/>
<g fill="#999" opacity="0.22" clip-path="url(#mclip)"><ellipse cx="0" cy="14.5" rx="3.4" ry="2"/><ellipse cx="-0.8" cy="21.5" rx="1.3" ry="1.8"/><ellipse cx="-0.8" cy="13.1" rx="0.9" ry="2.2"/><ellipse cx="-0.2" cy="25.6" rx="0.9" ry="1.7"/><ellipse cx="0.3" cy="18.1" rx="1.0" ry="1.9"/></g>
<g clip-path="url(#mclip)">
<path d="M0,0.5 C0.6,2 1.2,3.5 1.8,5.5 C2.8,8 3.8,10 4.6,12.5 C5.4,15 5.8,18 6.0,22 C6.2,26 6.1,29.5 5.3,31.8 C4.4,33.4 3.0,34 1.8,34.2 L1.4,35.6 L-1.4,35.6 L-1.8,34.2 C-3.0,34 -4.4,33.4 -5.3,31.8 C-6.1,29.5 -6.2,26 -6.0,22 C-5.8,18 -5.4,15 -4.6,12.5 C-3.8,10 -2.8,8 -1.8,5.5 C-1.2,3.5 -0.6,2 0,0.5 Z" fill="url(#gbase)"/>
<circle cx="1.70" cy="29.03" r="3.12" fill="url(#g3)" stroke="none" stroke-width="1.0"/>
<circle cx="-4.14" cy="23.21" r="3.94" fill="url(#g3)" stroke="none" stroke-width="1.0"/>
<circle cx="-2.93" cy="23.93" r="4.30" fill="url(#g3)" stroke="none" stroke-width="1.0"/>
<circle cx="-0.71" cy="10.41" r="4.40" fill="url(#g3)" stroke="none" stroke-width="1.0"/>
<circle cx="-4.38" cy="28.93" r="3.21" fill="url(#g3)" stroke="none" stroke-width="1.0"/>
<circle cx="-1.33" cy="23.75" r="4.03" fill="url(#g4)" stroke="none" stroke-width="1.0"/>
<circle cx="-2.21" cy="6.86" r="3.02" fill="url(#g4)" stroke="none" stroke-width="1.0"/>
<circle cx="0.46" cy="20.46" r="4.10" fill="url(#g4)" stroke="none" stroke-width="1.0"/>
<circle cx="-0.02" cy="19.05" r="3.99" fill="url(#g4)" stroke="none" stroke-width="1.0"/>
</g>
</g>
<g transform="translate(157.00,302.50) scale(1.12,1)">
<path d="M-3.5,32.5 L-6,35.8 M3.5,32.5 L6,35.8 M-1,34 L-1.5,36 M1,34 L1.5,36" fill="none" stroke="#8a8a8a" stroke-width="0.7"/>
<use href="#ms" fill="url(#mg)"/>
<use href="#ms" fill="url(#mh)"/>
<circle cx="-1.60" cy="9.50" r="0.80" fill="#666" stroke="none" stroke-width="1.0" opacity="0.6"/>
<circle cx="1.60" cy="9.50" r="0.80" fill="#666" stroke="none" stroke-width="1.0" opacity="0.6"/>
<g fill="#999" opacity="0.22" clip-path="url(#mclip)"><ellipse cx="0" cy="14.5" rx="3.4" ry="2"/><ellipse cx="2.2" cy="19.0" rx="1.6" ry="1.5"/><ellipse cx="-3.5" cy="23.9" rx="1.5" ry="2.5"/><ellipse cx="1.3" cy="14.0" rx="1.7" ry="1.7"/><ellipse cx="-3.3" cy="20.0" rx="1.9" ry="1.9"/></g>
<g clip-path="url(#mclip)">
<path d="M0,0.5 C0.6,2 1.2,3.5 1.8,5.5 C2.8,8 3.8,10 4.6,12.5 C5.4,15 5.8,18 6.0,22 C6.2,26 6.1,29.5 5.3,31.8 C4.4,33.4 3.0,34 1.8,34.2 L1.4,35.6 L-1.4,35.6 L-1.8,34.2 C-3.0,34 -4.4,33.4 -5.3,31.8 C-6.1,29.5 -6.2,26 -6.0,22 C-5.8,18 -5.4,15 -4.6,12.5 C-3.8,10 -2.8,8 -1.8,5.5 C-1.2,3.5 -0.6,2 0,0.5 Z" fill="url(#gbase)"/>
<circle cx="-0.66" cy="8.22" r="4.00" fill="url(#g3)" stroke="none" stroke-width="1.0"/>
<circle cx="4.38" cy="28.60" r="3.33" fill="url(#g3)" stroke="none" stroke-width="1.0"/>
<circle cx="-3.41" cy="19.34" r="3.41" fill="url(#g3)" stroke="none" stroke-width="1.0"/>
<circle cx="0.62" cy="18.82" r="4.12" fill="url(#g3)" stroke="none" stroke-width="1.0"/>
<circle cx="3.81" cy="16.78" r="4.12" fill="url(#g3)" stroke="none" stroke-width="1.0"/>
<circle cx="1.36" cy="9.62" r="3.91" fill="url(#g4)" stroke="none" stroke-width="1.0"/>
<circle cx="-1.45" cy="19.94" r="3.60" fill="url(#g4)" stroke="none" stroke-width="1.0"/>
<circle cx="1.19" cy="28.25" r="4.10" fill="url(#g4)" stroke="none" stroke-width="1.0"/>
<circle cx="-3.13" cy="6.80" r="3.07" fill="url(#g4)" stroke="none" stroke-width="1.0"/>
</g>
</g>
<g transform="translate(172.70,302.50) scale(1.0,1)">
<path d="M-3.5,32.5 L-6,35.8 M3.5,32.5 L6,35.8 M-1,34 L-1.5,36 M1,34 L1.5,36" fill="none" stroke="#8a8a8a" stroke-width="0.7"/>
<use href="#ms" fill="url(#mg)"/>
<use href="#ms" fill="url(#mh)"/>
<circle cx="-1.60" cy="9.50" r="0.80" fill="#666" stroke="none" stroke-width="1.0" opacity="0.6"/>
<circle cx="1.60" cy="9.50" r="0.80" fill="#666" stroke="none" stroke-width="1.0" opacity="0.6"/>
<g fill="#999" opacity="0.22" clip-path="url(#mclip)"><ellipse cx="0" cy="14.5" rx="3.4" ry="2"/><ellipse cx="3.1" cy="24.0" rx="1.5" ry="1.5"/><ellipse cx="-1.5" cy="22.4" rx="1.9" ry="2.2"/><ellipse cx="0.9" cy="17.0" rx="1.9" ry="2.0"/><ellipse cx="-0.2" cy="14.2" rx="2.0" ry="1.0"/></g>
<g clip-path="url(#mclip)">
<circle cx="-3.36" cy="26.65" r="1.93" fill="url(#g1)" stroke="none" stroke-width="1.0"/>
<circle cx="4.45" cy="26.18" r="2.01" fill="url(#g2)" stroke="none" stroke-width="1.0"/>
<circle cx="-2.20" cy="21.79" r="2.09" fill="url(#g2)" stroke="none" stroke-width="1.0"/>
<circle cx="-1.68" cy="21.36" r="2.38" fill="url(#g1)" stroke="none" stroke-width="1.0"/>
</g>
</g>
<g transform="translate(188.50,302.50) scale(1.0,1)">
<path d="M-3.5,32.5 L-6,35.8 M3.5,32.5 L6,35.8 M-1,34 L-1.5,36 M1,34 L1.5,36" fill="none" stroke="#8a8a8a" stroke-width="0.7"/>
<use href="#ms" fill="url(#mg)"/>
<use href="#ms" fill="url(#mh)"/>
<circle cx="-1.60" cy="9.50" r="0.80" fill="#666" stroke="none" stroke-width="1.0" opacity="0.6"/>
<circle cx="1.60" cy="9.50" r="0.80" fill="#666" stroke="none" stroke-width="1.0" opacity="0.6"/>
<g fill="#999" opacity="0.22" clip-path="url(#mclip)"><ellipse cx="0" cy="14.5" rx="3.4" ry="2"/><ellipse cx="2.7" cy="22.4" rx="1.2" ry="1.5"/><ellipse cx="3.1" cy="18.2" rx="1.6" ry="1.8"/><ellipse cx="3.2" cy="26.3" rx="1.1" ry="0.8"/><ellipse cx="-1.9" cy="19.0" rx="1.5" ry="2.2"/></g>
<g clip-path="url(#mclip)">
<circle cx="-2.11" cy="8.80" r="2.30" fill="url(#g1)" stroke="none" stroke-width="1.0"/>
<circle cx="-3.53" cy="31.33" r="2.22" fill="url(#g1)" stroke="none" stroke-width="1.0"/>
<circle cx="1.85" cy="29.67" r="1.81" fill="url(#g1)" stroke="none" stroke-width="1.0"/>
</g>
</g>
<g transform="translate(204.20,302.50) scale(1.12,1)">
<path d="M-3.5,32.5 L-6,35.8 M3.5,32.5 L6,35.8 M-1,34 L-1.5,36 M1,34 L1.5,36" fill="none" stroke="#8a8a8a" stroke-width="0.7"/>
<use href="#ms" fill="url(#mg)"/>
<use href="#ms" fill="url(#mh)"/>
<circle cx="-1.60" cy="9.50" r="0.80" fill="#666" stroke="none" stroke-width="1.0" opacity="0.6"/>
<circle cx="1.60" cy="9.50" r="0.80" fill="#666" stroke="none" stroke-width="1.0" opacity="0.6"/>
<g fill="#999" opacity="0.22" clip-path="url(#mclip)"><ellipse cx="0" cy="14.5" rx="3.4" ry="2"/><ellipse cx="-3.3" cy="21.5" rx="1.8" ry="1.1"/><ellipse cx="2.0" cy="28.7" rx="1.1" ry="1.8"/><ellipse cx="1.4" cy="19.8" rx="1.0" ry="1.2"/><ellipse cx="2.0" cy="26.0" rx="1.4" ry="0.9"/></g>
<g clip-path="url(#mclip)">
<path d="M0,0.5 C0.6,2 1.2,3.5 1.8,5.5 C2.8,8 3.8,10 4.6,12.5 C5.4,15 5.8,18 6.0,22 C6.2,26 6.1,29.5 5.3,31.8 C4.4,33.4 3.0,34 1.8,34.2 L1.4,35.6 L-1.4,35.6 L-1.8,34.2 C-3.0,34 -4.4,33.4 -5.3,31.8 C-6.1,29.5 -6.2,26 -6.0,22 C-5.8,18 -5.4,15 -4.6,12.5 C-3.8,10 -2.8,8 -1.8,5.5 C-1.2,3.5 -0.6,2 0,0.5 Z" fill="url(#gbase)"/>
<circle cx="2.76" cy="26.53" r="3.35" fill="url(#g3)" stroke="none" stroke-width="1.0"/>
<circle cx="0.72" cy="29.53" r="4.33" fill="url(#g3)" stroke="none" stroke-width="1.0"/>
<circle cx="0.20" cy="19.44" r="3.88" fill="url(#g3)" stroke="none" stroke-width="1.0"/>
<circle cx="-2.80" cy="12.62" r="3.27" fill="url(#g3)" stroke="none" stroke-width="1.0"/>
<circle cx="1.81" cy="16.71" r="3.85" fill="url(#g3)" stroke="none" stroke-width="1.0"/>
<circle cx="-0.68" cy="18.93" r="3.18" fill="url(#g4)" stroke="none" stroke-width="1.0"/>
<circle cx="-3.19" cy="30.93" r="3.45" fill="url(#g4)" stroke="none" stroke-width="1.0"/>
<circle cx="-2.76" cy="21.82" r="3.94" fill="url(#g4)" stroke="none" stroke-width="1.0"/>
<circle cx="-2.41" cy="20.93" r="3.41" fill="url(#g4)" stroke="none" stroke-width="1.0"/>
</g>
</g>
<rect x="217.00" y="302.20" width="78.50" height="36.50" fill="#0b0b0b" stroke="none" stroke-width="1.0"/>
<rect x="231.00" y="302.20" width="2.50" height="36.50" fill="#161616" stroke="none" stroke-width="1.0"/>
<rect x="247.00" y="302.20" width="2.50" height="36.50" fill="#161616" stroke="none" stroke-width="1.0"/>
<rect x="263.00" y="302.20" width="2.50" height="36.50" fill="#161616" stroke="none" stroke-width="1.0"/>
<rect x="279.00" y="302.20" width="2.50" height="36.50" fill="#161616" stroke="none" stroke-width="1.0"/>
<g transform="translate(225.00,302.50) scale(1.0,1)">
<path d="M-3.5,32.5 L-6,35.8 M3.5,32.5 L6,35.8 M-1,34 L-1.5,36 M1,34 L1.5,36" fill="none" stroke="#8a8a8a" stroke-width="0.7"/>
<use href="#ms" fill="url(#mg)"/>
<use href="#ms" fill="url(#mh)"/>
<circle cx="-1.60" cy="9.50" r="0.80" fill="#666" stroke="none" stroke-width="1.0" opacity="0.6"/>
<circle cx="1.60" cy="9.50" r="0.80" fill="#666" stroke="none" stroke-width="1.0" opacity="0.6"/>
<g fill="#999" opacity="0.22" clip-path="url(#mclip)"><ellipse cx="0" cy="14.5" rx="3.4" ry="2"/><ellipse cx="0.2" cy="11.4" rx="0.8" ry="2.5"/><ellipse cx="2.9" cy="20.2" rx="1.5" ry="1.2"/><ellipse cx="2.2" cy="19.1" rx="1.9" ry="2.1"/><ellipse cx="2.6" cy="29.3" rx="1.1" ry="0.9"/></g>
<g clip-path="url(#mclip)">
<circle cx="4.95" cy="15.21" r="1.52" fill="url(#g1)" stroke="none" stroke-width="1.0"/>
<circle cx="0.57" cy="28.51" r="1.91" fill="url(#g1)" stroke="none" stroke-width="1.0"/>
<circle cx="3.63" cy="22.28" r="2.33" fill="url(#g1)" stroke="none" stroke-width="1.0"/>
</g>
</g>
<g transform="translate(240.80,302.50) scale(1.0,1)">
<path d="M-3.5,32.5 L-6,35.8 M3.5,32.5 L6,35.8 M-1,34 L-1.5,36 M1,34 L1.5,36" fill="none" stroke="#8a8a8a" stroke-width="0.7"/>
<use href="#ms" fill="url(#mg)"/>
<use href="#ms" fill="url(#mh)"/>
<circle cx="-1.60" cy="9.50" r="0.80" fill="#666" stroke="none" stroke-width="1.0" opacity="0.6"/>
<circle cx="1.60" cy="9.50" r="0.80" fill="#666" stroke="none" stroke-width="1.0" opacity="0.6"/>
<g fill="#999" opacity="0.22" clip-path="url(#mclip)"><ellipse cx="0" cy="14.5" rx="3.4" ry="2"/><ellipse cx="1.7" cy="12.7" rx="1.2" ry="1.2"/><ellipse cx="-3.3" cy="28.5" rx="1.4" ry="1.1"/><ellipse cx="2.8" cy="18.0" rx="1.1" ry="2.0"/><ellipse cx="-2.6" cy="28.9" rx="1.9" ry="0.9"/></g>
<g clip-path="url(#mclip)">
<circle cx="4.05" cy="27.60" r="1.54" fill="url(#g1)" stroke="none" stroke-width="1.0"/>
<circle cx="2.10" cy="22.46" r="2.39" fill="url(#g1)" stroke="none" stroke-width="1.0"/>
<circle cx="-3.99" cy="13.58" r="1.51" fill="url(#g1)" stroke="none" stroke-width="1.0"/>
</g>
</g>
<g transform="translate(256.50,302.50) scale(1.0,1)">
<path d="M-3.5,32.5 L-6,35.8 M3.5,32.5 L6,35.8 M-1,34 L-1.5,36 M1,34 L1.5,36" fill="none" stroke="#8a8a8a" stroke-width="0.7"/>
<use href="#ms" fill="url(#mg)"/>
<use href="#ms" fill="url(#mh)"/>
<circle cx="-1.60" cy="9.50" r="0.80" fill="#666" stroke="none" stroke-width="1.0" opacity="0.6"/>
<circle cx="1.60" cy="9.50" r="0.80" fill="#666" stroke="none" stroke-width="1.0" opacity="0.6"/>
<g fill="#999" opacity="0.22" clip-path="url(#mclip)"><ellipse cx="0" cy="14.5" rx="3.4" ry="2"/><ellipse cx="-2.4" cy="25.2" rx="1.5" ry="1.6"/><ellipse cx="1.2" cy="19.9" rx="1.2" ry="1.5"/><ellipse cx="-1.0" cy="18.2" rx="1.3" ry="2.2"/><ellipse cx="3.3" cy="28.0" rx="1.4" ry="2.4"/></g>
<g clip-path="url(#mclip)">
<circle cx="-3.43" cy="27.49" r="1.57" fill="url(#g1)" stroke="none" stroke-width="1.0"/>
<circle cx="3.67" cy="29.00" r="1.63" fill="url(#g1)" stroke="none" stroke-width="1.0"/>
<circle cx="4.58" cy="30.00" r="1.85" fill="url(#g2)" stroke="none" stroke-width="1.0"/>
<circle cx="1.28" cy="17.21" r="1.81" fill="url(#g1)" stroke="none" stroke-width="1.0"/>
</g>
</g>
<g transform="translate(272.30,302.50) scale(1.0,1)">
<path d="M-3.5,32.5 L-6,35.8 M3.5,32.5 L6,35.8 M-1,34 L-1.5,36 M1,34 L1.5,36" fill="none" stroke="#8a8a8a" stroke-width="0.7"/>
<use href="#ms" fill="url(#mg)"/>
<use href="#ms" fill="url(#mh)"/>
<circle cx="-1.60" cy="9.50" r="0.80" fill="#666" stroke="none" stroke-width="1.0" opacity="0.6"/>
<circle cx="1.60" cy="9.50" r="0.80" fill="#666" stroke="none" stroke-width="1.0" opacity="0.6"/>
<g fill="#999" opacity="0.22" clip-path="url(#mclip)"><ellipse cx="0" cy="14.5" rx="3.4" ry="2"/><ellipse cx="2.6" cy="20.1" rx="1.6" ry="1.0"/><ellipse cx="-2.2" cy="12.1" rx="1.7" ry="1.7"/><ellipse cx="-2.8" cy="27.5" rx="1.1" ry="1.5"/><ellipse cx="-2.8" cy="16.2" rx="1.8" ry="1.4"/></g>
<g clip-path="url(#mclip)">
<circle cx="-2.39" cy="7.95" r="1.91" fill="url(#g1)" stroke="none" stroke-width="1.0"/>
<circle cx="-3.86" cy="31.42" r="1.55" fill="url(#g2)" stroke="none" stroke-width="1.0"/>
<circle cx="4.25" cy="20.12" r="2.25" fill="url(#g1)" stroke="none" stroke-width="1.0"/>
<circle cx="-2.42" cy="10.44" r="1.83" fill="url(#g1)" stroke="none" stroke-width="1.0"/>
</g>
</g>
<g transform="translate(288.00,302.50) scale(1.0,1)">
<path d="M-3.5,32.5 L-6,35.8 M3.5,32.5 L6,35.8 M-1,34 L-1.5,36 M1,34 L1.5,36" fill="none" stroke="#8a8a8a" stroke-width="0.7"/>
<use href="#ms" fill="url(#mg)"/>
<use href="#ms" fill="url(#mh)"/>
<circle cx="-1.60" cy="9.50" r="0.80" fill="#666" stroke="none" stroke-width="1.0" opacity="0.6"/>
<circle cx="1.60" cy="9.50" r="0.80" fill="#666" stroke="none" stroke-width="1.0" opacity="0.6"/>
<g fill="#999" opacity="0.22" clip-path="url(#mclip)"><ellipse cx="0" cy="14.5" rx="3.4" ry="2"/><ellipse cx="3.9" cy="30.0" rx="1.9" ry="1.0"/><ellipse cx="-1.7" cy="28.0" rx="0.9" ry="2.0"/><ellipse cx="-1.7" cy="29.6" rx="0.8" ry="2.2"/><ellipse cx="-1.3" cy="13.7" rx="0.8" ry="2.2"/></g>
<g clip-path="url(#mclip)">
<circle cx="-2.14" cy="14.72" r="1.54" fill="url(#g1)" stroke="none" stroke-width="1.0"/>
<circle cx="-2.82" cy="20.43" r="1.62" fill="url(#g2)" stroke="none" stroke-width="1.0"/>
<circle cx="0.22" cy="11.22" r="1.66" fill="url(#g1)" stroke="none" stroke-width="1.0"/>
</g>
</g>
<rect x="300.50" y="302.20" width="78.50" height="36.50" fill="#0b0b0b" stroke="none" stroke-width="1.0"/>
<rect x="314.50" y="302.20" width="2.50" height="36.50" fill="#161616" stroke="none" stroke-width="1.0"/>
<rect x="330.50" y="302.20" width="2.50" height="36.50" fill="#161616" stroke="none" stroke-width="1.0"/>
<rect x="346.50" y="302.20" width="2.50" height="36.50" fill="#161616" stroke="none" stroke-width="1.0"/>
<rect x="362.50" y="302.20" width="2.50" height="36.50" fill="#161616" stroke="none" stroke-width="1.0"/>
<g transform="translate(308.50,302.50) scale(1.0,1)">
<path d="M-3.5,32.5 L-6,35.8 M3.5,32.5 L6,35.8 M-1,34 L-1.5,36 M1,34 L1.5,36" fill="none" stroke="#8a8a8a" stroke-width="0.7"/>
<use href="#ms" fill="url(#mg)"/>
<use href="#ms" fill="url(#mh)"/>
<circle cx="-1.60" cy="9.50" r="0.80" fill="#666" stroke="none" stroke-width="1.0" opacity="0.6"/>
<circle cx="1.60" cy="9.50" r="0.80" fill="#666" stroke="none" stroke-width="1.0" opacity="0.6"/>
<g fill="#999" opacity="0.22" clip-path="url(#mclip)"><ellipse cx="0" cy="14.5" rx="3.4" ry="2"/><ellipse cx="0.8" cy="26.8" rx="1.9" ry="2.0"/><ellipse cx="2.1" cy="14.3" rx="1.0" ry="1.9"/><ellipse cx="1.0" cy="14.7" rx="1.2" ry="0.8"/><ellipse cx="1.5" cy="20.9" rx="1.8" ry="2.4"/></g>
</g>
<g transform="translate(324.30,302.50) scale(1.0,1)">
<path d="M-3.5,32.5 L-6,35.8 M3.5,32.5 L6,35.8 M-1,34 L-1.5,36 M1,34 L1.5,36" fill="none" stroke="#8a8a8a" stroke-width="0.7"/>
<use href="#ms" fill="url(#mg)"/>
<use href="#ms" fill="url(#mh)"/>
<circle cx="-1.60" cy="9.50" r="0.80" fill="#666" stroke="none" stroke-width="1.0" opacity="0.6"/>
<circle cx="1.60" cy="9.50" r="0.80" fill="#666" stroke="none" stroke-width="1.0" opacity="0.6"/>
<g fill="#999" opacity="0.22" clip-path="url(#mclip)"><ellipse cx="0" cy="14.5" rx="3.4" ry="2"/><ellipse cx="0.1" cy="17.6" rx="1.1" ry="1.9"/><ellipse cx="3.6" cy="12.7" rx="1.3" ry="2.1"/><ellipse cx="-2.9" cy="23.6" rx="1.1" ry="1.8"/><ellipse cx="3.9" cy="11.7" rx="1.6" ry="1.8"/></g>
</g>
<g transform="translate(340.00,302.50) scale(1.0,1)">
<path d="M-3.5,32.5 L-6,35.8 M3.5,32.5 L6,35.8 M-1,34 L-1.5,36 M1,34 L1.5,36" fill="none" stroke="#8a8a8a" stroke-width="0.7"/>
<use href="#ms" fill="url(#mg)"/>
<use href="#ms" fill="url(#mh)"/>
<circle cx="-1.60" cy="9.50" r="0.80" fill="#666" stroke="none" stroke-width="1.0" opacity="0.6"/>
<circle cx="1.60" cy="9.50" r="0.80" fill="#666" stroke="none" stroke-width="1.0" opacity="0.6"/>
<g fill="#999" opacity="0.22" clip-path="url(#mclip)"><ellipse cx="0" cy="14.5" rx="3.4" ry="2"/><ellipse cx="2.9" cy="17.8" rx="1.9" ry="2.4"/><ellipse cx="-3.4" cy="17.8" rx="1.1" ry="2.2"/><ellipse cx="3.3" cy="25.8" rx="1.8" ry="1.8"/><ellipse cx="3.2" cy="16.5" rx="0.9" ry="2.0"/></g>
</g>
<g transform="translate(355.80,302.50) scale(1.0,1)">
<path d="M-3.5,32.5 L-6,35.8 M3.5,32.5 L6,35.8 M-1,34 L-1.5,36 M1,34 L1.5,36" fill="none" stroke="#8a8a8a" stroke-width="0.7"/>
<use href="#ms" fill="url(#mg)"/>
<use href="#ms" fill="url(#mh)"/>
<circle cx="-1.60" cy="9.50" r="0.80" fill="#666" stroke="none" stroke-width="1.0" opacity="0.6"/>
<circle cx="1.60" cy="9.50" r="0.80" fill="#666" stroke="none" stroke-width="1.0" opacity="0.6"/>
<g fill="#999" opacity="0.22" clip-path="url(#mclip)"><ellipse cx="0" cy="14.5" rx="3.4" ry="2"/><ellipse cx="-0.4" cy="11.5" rx="1.8" ry="1.0"/><ellipse cx="-2.1" cy="12.7" rx="1.5" ry="1.1"/><ellipse cx="-1.5" cy="21.6" rx="1.9" ry="0.8"/><ellipse cx="3.4" cy="25.0" rx="1.1" ry="2.2"/></g>
</g>
<g transform="translate(371.50,302.50) scale(1.0,1)">
<path d="M-3.5,32.5 L-6,35.8 M3.5,32.5 L6,35.8 M-1,34 L-1.5,36 M1,34 L1.5,36" fill="none" stroke="#8a8a8a" stroke-width="0.7"/>
<use href="#ms" fill="url(#mg)"/>
<use href="#ms" fill="url(#mh)"/>
<circle cx="-1.60" cy="9.50" r="0.80" fill="#666" stroke="none" stroke-width="1.0" opacity="0.6"/>
<circle cx="1.60" cy="9.50" r="0.80" fill="#666" stroke="none" stroke-width="1.0" opacity="0.6"/>
<g fill="#999" opacity="0.22" clip-path="url(#mclip)"><ellipse cx="0" cy="14.5" rx="3.4" ry="2"/><ellipse cx="1.1" cy="19.8" rx="1.1" ry="1.6"/><ellipse cx="-1.2" cy="12.8" rx="1.0" ry="1.3"/><ellipse cx="-0.3" cy="22.1" rx="1.7" ry="1.0"/><ellipse cx="-3.0" cy="27.8" rx="1.4" ry="1.2"/></g>
</g>
<text x="7.00" y="365.85" font-size="10" fill="#1a1a1a">Day 53</text>
<rect x="50.40" y="344.40" width="77.70" height="35.70" fill="#a9a9a9" stroke="#5c5c5c" stroke-width="0.8"/>
<text x="89.25" y="365.85" font-size="10" fill="#1a1a1a" text-anchor="middle">Die of tumor</text>
<rect x="133.20" y="344.00" width="78.50" height="36.50" fill="#0b0b0b" stroke="none" stroke-width="1.0"/>
<rect x="147.20" y="344.00" width="2.50" height="36.50" fill="#161616" stroke="none" stroke-width="1.0"/>
<rect x="163.20" y="344.00" width="2.50" height="36.50" fill="#161616" stroke="none" stroke-width="1.0"/>
<rect x="179.20" y="344.00" width="2.50" height="36.50" fill="#161616" stroke="none" stroke-width="1.0"/>
<rect x="195.20" y="344.00" width="2.50" height="36.50" fill="#161616" stroke="none" stroke-width="1.0"/>
<g transform="translate(141.20,344.30) scale(1.12,1)">
<path d="M-3.5,32.5 L-6,35.8 M3.5,32.5 L6,35.8 M-1,34 L-1.5,36 M1,34 L1.5,36" fill="none" stroke="#8a8a8a" stroke-width="0.7"/>
<use href="#ms" fill="url(#mg)"/>
<use href="#ms" fill="url(#mh)"/>
<circle cx="-1.60" cy="9.50" r="0.80" fill="#666" stroke="none" stroke-width="1.0" opacity="0.6"/>
<circle cx="1.60" cy="9.50" r="0.80" fill="#666" stroke="none" stroke-width="1.0" opacity="0.6"/>
<g fill="#999" opacity="0.22" clip-path="url(#mclip)"><ellipse cx="0" cy="14.5" rx="3.4" ry="2"/><ellipse cx="-2.2" cy="23.7" rx="1.4" ry="1.5"/><ellipse cx="3.6" cy="11.4" rx="1.6" ry="2.0"/><ellipse cx="0.8" cy="22.5" rx="0.8" ry="2.4"/><ellipse cx="-3.6" cy="17.9" rx="1.3" ry="2.2"/></g>
<g clip-path="url(#mclip)">
<path d="M0,0.5 C0.6,2 1.2,3.5 1.8,5.5 C2.8,8 3.8,10 4.6,12.5 C5.4,15 5.8,18 6.0,22 C6.2,26 6.1,29.5 5.3,31.8 C4.4,33.4 3.0,34 1.8,34.2 L1.4,35.6 L-1.4,35.6 L-1.8,34.2 C-3.0,34 -4.4,33.4 -5.3,31.8 C-6.1,29.5 -6.2,26 -6.0,22 C-5.8,18 -5.4,15 -4.6,12.5 C-3.8,10 -2.8,8 -1.8,5.5 C-1.2,3.5 -0.6,2 0,0.5 Z" fill="url(#gbase)"/>
<circle cx="1.94" cy="28.23" r="3.85" fill="url(#g3)" stroke="none" stroke-width="1.0"/>
<circle cx="4.37" cy="15.70" r="3.60" fill="url(#g3)" stroke="none" stroke-width="1.0"/>
<circle cx="0.55" cy="15.80" r="3.22" fill="url(#g3)" stroke="none" stroke-width="1.0"/>
<circle cx="1.62" cy="16.48" r="4.31" fill="url(#g3)" stroke="none" stroke-width="1.0"/>
<circle cx="1.47" cy="8.28" r="3.16" fill="url(#g3)" stroke="none" stroke-width="1.0"/>
<circle cx="-2.19" cy="14.11" r="3.24" fill="url(#g4)" stroke="none" stroke-width="1.0"/>
<circle cx="1.18" cy="11.64" r="3.50" fill="url(#g4)" stroke="none" stroke-width="1.0"/>
<circle cx="-0.72" cy="30.94" r="3.54" fill="url(#g4)" stroke="none" stroke-width="1.0"/>
<circle cx="-3.17" cy="30.50" r="4.17" fill="url(#g4)" stroke="none" stroke-width="1.0"/>
</g>
</g>
<g transform="translate(157.00,344.30) scale(1.12,1)">
<path d="M-3.5,32.5 L-6,35.8 M3.5,32.5 L6,35.8 M-1,34 L-1.5,36 M1,34 L1.5,36" fill="none" stroke="#8a8a8a" stroke-width="0.7"/>
<use href="#ms" fill="url(#mg)"/>
<use href="#ms" fill="url(#mh)"/>
<circle cx="-1.60" cy="9.50" r="0.80" fill="#666" stroke="none" stroke-width="1.0" opacity="0.6"/>
<circle cx="1.60" cy="9.50" r="0.80" fill="#666" stroke="none" stroke-width="1.0" opacity="0.6"/>
<g fill="#999" opacity="0.22" clip-path="url(#mclip)"><ellipse cx="0" cy="14.5" rx="3.4" ry="2"/><ellipse cx="-3.7" cy="27.4" rx="1.5" ry="2.4"/><ellipse cx="1.0" cy="22.9" rx="1.8" ry="0.9"/><ellipse cx="-3.2" cy="13.3" rx="0.8" ry="1.2"/><ellipse cx="-3.7" cy="13.1" rx="1.2" ry="1.1"/></g>
<g clip-path="url(#mclip)">
<path d="M0,0.5 C0.6,2 1.2,3.5 1.8,5.5 C2.8,8 3.8,10 4.6,12.5 C5.4,15 5.8,18 6.0,22 C6.2,26 6.1,29.5 5.3,31.8 C4.4,33.4 3.0,34 1.8,34.2 L1.4,35.6 L-1.4,35.6 L-1.8,34.2 C-3.0,34 -4.4,33.4 -5.3,31.8 C-6.1,29.5 -6.2,26 -6.0,22 C-5.8,18 -5.4,15 -4.6,12.5 C-3.8,10 -2.8,8 -1.8,5.5 C-1.2,3.5 -0.6,2 0,0.5 Z" fill="url(#gbase)"/>
<circle cx="-3.96" cy="31.02" r="4.38" fill="url(#g3)" stroke="none" stroke-width="1.0"/>
<circle cx="3.61" cy="10.03" r="3.89" fill="url(#g3)" stroke="none" stroke-width="1.0"/>
<circle cx="3.89" cy="18.56" r="3.77" fill="url(#g3)" stroke="none" stroke-width="1.0"/>
<circle cx="3.47" cy="29.97" r="3.87" fill="url(#g3)" stroke="none" stroke-width="1.0"/>
<circle cx="-2.03" cy="25.66" r="4.11" fill="url(#g3)" stroke="none" stroke-width="1.0"/>
<circle cx="-1.49" cy="17.35" r="3.83" fill="url(#g4)" stroke="none" stroke-width="1.0"/>
<circle cx="-1.95" cy="15.67" r="3.66" fill="url(#g4)" stroke="none" stroke-width="1.0"/>
<circle cx="-0.93" cy="28.30" r="3.36" fill="url(#g4)" stroke="none" stroke-width="1.0"/>
<circle cx="-0.16" cy="26.47" r="3.04" fill="url(#g4)" stroke="none" stroke-width="1.0"/>
</g>
</g>
<g transform="translate(172.70,344.30) scale(1.0,1)">
<path d="M-3.5,32.5 L-6,35.8 M3.5,32.5 L6,35.8 M-1,34 L-1.5,36 M1,34 L1.5,36" fill="none" stroke="#8a8a8a" stroke-width="0.7"/>
<use href="#ms" fill="url(#mg)"/>
<use href="#ms" fill="url(#mh)"/>
<circle cx="-1.60" cy="9.50" r="0.80" fill="#666" stroke="none" stroke-width="1.0" opacity="0.6"/>
<circle cx="1.60" cy="9.50" r="0.80" fill="#666" stroke="none" stroke-width="1.0" opacity="0.6"/>
<g fill="#999" opacity="0.22" clip-path="url(#mclip)"><ellipse cx="0" cy="14.5" rx="3.4" ry="2"/><ellipse cx="-1.3" cy="14.6" rx="1.5" ry="2.4"/><ellipse cx="-0.8" cy="28.6" rx="1.0" ry="2.4"/><ellipse cx="-1.4" cy="17.2" rx="1.1" ry="2.3"/><ellipse cx="-2.3" cy="12.1" rx="0.8" ry="1.7"/></g>
<g clip-path="url(#mclip)">
<circle cx="-0.54" cy="7.61" r="2.93" fill="url(#g2)" stroke="none" stroke-width="1.0"/>
<circle cx="-1.31" cy="25.83" r="3.07" fill="url(#g2)" stroke="none" stroke-width="1.0"/>
<circle cx="-0.75" cy="23.37" r="2.65" fill="url(#g3)" stroke="none" stroke-width="1.0"/>
<circle cx="1.05" cy="28.10" r="3.40" fill="url(#g3)" stroke="none" stroke-width="1.0"/>
<circle cx="2.15" cy="25.33" r="3.34" fill="url(#g3)" stroke="none" stroke-width="1.0"/>
<circle cx="-2.08" cy="22.40" r="3.20" fill="url(#g2)" stroke="none" stroke-width="1.0"/>
<circle cx="1.63" cy="17.50" r="2.28" fill="url(#g4)" stroke="none" stroke-width="1.0"/>
<circle cx="-0.72" cy="20.65" r="2.29" fill="url(#g4)" stroke="none" stroke-width="1.0"/>
</g>
</g>
<g transform="translate(188.50,344.30) scale(1.0,1)">
<path d="M-3.5,32.5 L-6,35.8 M3.5,32.5 L6,35.8 M-1,34 L-1.5,36 M1,34 L1.5,36" fill="none" stroke="#8a8a8a" stroke-width="0.7"/>
<use href="#ms" fill="url(#mg)"/>
<use href="#ms" fill="url(#mh)"/>
<circle cx="-1.60" cy="9.50" r="0.80" fill="#666" stroke="none" stroke-width="1.0" opacity="0.6"/>
<circle cx="1.60" cy="9.50" r="0.80" fill="#666" stroke="none" stroke-width="1.0" opacity="0.6"/>
<g fill="#999" opacity="0.22" clip-path="url(#mclip)"><ellipse cx="0" cy="14.5" rx="3.4" ry="2"/><ellipse cx="-0.8" cy="29.9" rx="1.0" ry="2.2"/><ellipse cx="-1.8" cy="22.8" rx="0.9" ry="2.2"/><ellipse cx="1.5" cy="16.5" rx="1.2" ry="1.4"/><ellipse cx="0.2" cy="22.3" rx="1.6" ry="0.8"/></g>
<g clip-path="url(#mclip)">
<circle cx="-1.07" cy="13.80" r="3.09" fill="url(#g2)" stroke="none" stroke-width="1.0"/>
<circle cx="-0.58" cy="15.80" r="2.76" fill="url(#g3)" stroke="none" stroke-width="1.0"/>
<circle cx="-1.59" cy="27.93" r="3.42" fill="url(#g2)" stroke="none" stroke-width="1.0"/>
<circle cx="-2.66" cy="17.09" r="3.50" fill="url(#g2)" stroke="none" stroke-width="1.0"/>
<circle cx="-4.27" cy="12.67" r="3.49" fill="url(#g3)" stroke="none" stroke-width="1.0"/>
<circle cx="3.78" cy="26.11" r="3.09" fill="url(#g2)" stroke="none" stroke-width="1.0"/>
<circle cx="3.99" cy="19.90" r="2.61" fill="url(#g4)" stroke="none" stroke-width="1.0"/>
<circle cx="1.48" cy="16.96" r="2.49" fill="url(#g4)" stroke="none" stroke-width="1.0"/>
</g>
</g>
<g transform="translate(204.20,344.30) scale(1.12,1)">
<path d="M-3.5,32.5 L-6,35.8 M3.5,32.5 L6,35.8 M-1,34 L-1.5,36 M1,34 L1.5,36" fill="none" stroke="#8a8a8a" stroke-width="0.7"/>
<use href="#ms" fill="url(#mg)"/>
<use href="#ms" fill="url(#mh)"/>
<circle cx="-1.60" cy="9.50" r="0.80" fill="#666" stroke="none" stroke-width="1.0" opacity="0.6"/>
<circle cx="1.60" cy="9.50" r="0.80" fill="#666" stroke="none" stroke-width="1.0" opacity="0.6"/>
<g fill="#999" opacity="0.22" clip-path="url(#mclip)"><ellipse cx="0" cy="14.5" rx="3.4" ry="2"/><ellipse cx="0.8" cy="17.7" rx="1.9" ry="2.0"/><ellipse cx="0.2" cy="12.9" rx="1.2" ry="1.5"/><ellipse cx="0.5" cy="21.9" rx="1.9" ry="2.4"/><ellipse cx="-0.1" cy="19.4" rx="1.5" ry="2.5"/></g>
<g clip-path="url(#mclip)">
<path d="M0,0.5 C0.6,2 1.2,3.5 1.8,5.5 C2.8,8 3.8,10 4.6,12.5 C5.4,15 5.8,18 6.0,22 C6.2,26 6.1,29.5 5.3,31.8 C4.4,33.4 3.0,34 1.8,34.2 L1.4,35.6 L-1.4,35.6 L-1.8,34.2 C-3.0,34 -4.4,33.4 -5.3,31.8 C-6.1,29.5 -6.2,26 -6.0,22 C-5.8,18 -5.4,15 -4.6,12.5 C-3.8,10 -2.8,8 -1.8,5.5 C-1.2,3.5 -0.6,2 0,0.5 Z" fill="url(#gbase)"/>
<circle cx="-1.41" cy="20.72" r="4.22" fill="url(#g3)" stroke="none" stroke-width="1.0"/>
<circle cx="-2.96" cy="15.63" r="4.47" fill="url(#g3)" stroke="none" stroke-width="1.0"/>
<circle cx="2.93" cy="20.30" r="3.17" fill="url(#g3)" stroke="none" stroke-width="1.0"/>
<circle cx="3.55" cy="24.56" r="4.23" fill="url(#g3)" stroke="none" stroke-width="1.0"/>
<circle cx="4.41" cy="29.32" r="3.63" fill="url(#g3)" stroke="none" stroke-width="1.0"/>
<circle cx="-2.41" cy="13.25" r="3.61" fill="url(#g4)" stroke="none" stroke-width="1.0"/>
<circle cx="0.03" cy="10.70" r="3.22" fill="url(#g4)" stroke="none" stroke-width="1.0"/>
<circle cx="0.91" cy="21.08" r="3.42" fill="url(#g4)" stroke="none" stroke-width="1.0"/>
<circle cx="3.46" cy="21.91" r="3.05" fill="url(#g4)" stroke="none" stroke-width="1.0"/>
</g>
</g>
<rect x="217.00" y="344.00" width="78.50" height="36.50" fill="#0b0b0b" stroke="none" stroke-width="1.0"/>
<rect x="231.00" y="344.00" width="2.50" height="36.50" fill="#161616" stroke="none" stroke-width="1.0"/>
<rect x="247.00" y="344.00" width="2.50" height="36.50" fill="#161616" stroke="none" stroke-width="1.0"/>
<rect x="263.00" y="344.00" width="2.50" height="36.50" fill="#161616" stroke="none" stroke-width="1.0"/>
<rect x="279.00" y="344.00" width="2.50" height="36.50" fill="#161616" stroke="none" stroke-width="1.0"/>
<g transform="translate(225.00,344.30) scale(1.0,1)">
<path d="M-3.5,32.5 L-6,35.8 M3.5,32.5 L6,35.8 M-1,34 L-1.5,36 M1,34 L1.5,36" fill="none" stroke="#8a8a8a" stroke-width="0.7"/>
<use href="#ms" fill="url(#mg)"/>
<use href="#ms" fill="url(#mh)"/>
<circle cx="-1.60" cy="9.50" r="0.80" fill="#666" stroke="none" stroke-width="1.0" opacity="0.6"/>
<circle cx="1.60" cy="9.50" r="0.80" fill="#666" stroke="none" stroke-width="1.0" opacity="0.6"/>
<g fill="#999" opacity="0.22" clip-path="url(#mclip)"><ellipse cx="0" cy="14.5" rx="3.4" ry="2"/><ellipse cx="-0.7" cy="26.0" rx="1.2" ry="2.0"/><ellipse cx="-4.0" cy="16.8" rx="1.8" ry="1.8"/><ellipse cx="1.3" cy="14.7" rx="1.4" ry="1.7"/><ellipse cx="-1.9" cy="23.3" rx="1.4" ry="2.5"/></g>
<g clip-path="url(#mclip)">
<circle cx="-3.01" cy="21.25" r="1.63" fill="url(#g1)" stroke="none" stroke-width="1.0"/>
<circle cx="2.59" cy="7.88" r="1.59" fill="url(#g1)" stroke="none" stroke-width="1.0"/>
<circle cx="4.48" cy="18.24" r="1.92" fill="url(#g1)" stroke="none" stroke-width="1.0"/>
<circle cx="3.07" cy="6.68" r="1.51" fill="url(#g2)" stroke="none" stroke-width="1.0"/>
</g>
</g>
<g transform="translate(240.80,344.30) scale(1.0,1)">
<path d="M-3.5,32.5 L-6,35.8 M3.5,32.5 L6,35.8 M-1,34 L-1.5,36 M1,34 L1.5,36" fill="none" stroke="#8a8a8a" stroke-width="0.7"/>
<use href="#ms" fill="url(#mg)"/>
<use href="#ms" fill="url(#mh)"/>
<circle cx="-1.60" cy="9.50" r="0.80" fill="#666" stroke="none" stroke-width="1.0" opacity="0.6"/>
<circle cx="1.60" cy="9.50" r="0.80" fill="#666" stroke="none" stroke-width="1.0" opacity="0.6"/>
<g fill="#999" opacity="0.22" clip-path="url(#mclip)"><ellipse cx="0" cy="14.5" rx="3.4" ry="2"/><ellipse cx="2.2" cy="17.1" rx="1.7" ry="1.4"/><ellipse cx="-2.6" cy="16.1" rx="0.9" ry="2.3"/><ellipse cx="0.7" cy="17.6" rx="1.3" ry="1.5"/><ellipse cx="-3.6" cy="27.9" rx="1.5" ry="2.4"/></g>
<g clip-path="url(#mclip)">
<circle cx="-4.45" cy="11.43" r="1.70" fill="url(#g2)" stroke="none" stroke-width="1.0"/>
<circle cx="4.31" cy="28.08" r="1.78" fill="url(#g1)" stroke="none" stroke-width="1.0"/>
<circle cx="-1.96" cy="21.27" r="2.36" fill="url(#g2)" stroke="none" stroke-width="1.0"/>
<circle cx="4.80" cy="6.82" r="2.11" fill="url(#g2)" stroke="none" stroke-width="1.0"/>
</g>
</g>
<g transform="translate(256.50,344.30) scale(1.0,1)">
<path d="M-3.5,32.5 L-6,35.8 M3.5,32.5 L6,35.8 M-1,34 L-1.5,36 M1,34 L1.5,36" fill="none" stroke="#8a8a8a" stroke-width="0.7"/>
<use href="#ms" fill="url(#mg)"/>
<use href="#ms" fill="url(#mh)"/>
<circle cx="-1.60" cy="9.50" r="0.80" fill="#666" stroke="none" stroke-width="1.0" opacity="0.6"/>
<circle cx="1.60" cy="9.50" r="0.80" fill="#666" stroke="none" stroke-width="1.0" opacity="0.6"/>
<g fill="#999" opacity="0.22" clip-path="url(#mclip)"><ellipse cx="0" cy="14.5" rx="3.4" ry="2"/><ellipse cx="1.4" cy="22.1" rx="1.3" ry="1.5"/><ellipse cx="1.7" cy="11.4" rx="1.8" ry="0.9"/><ellipse cx="-2.6" cy="18.2" rx="0.8" ry="2.3"/><ellipse cx="-0.8" cy="17.9" rx="1.2" ry="2.3"/></g>
<g clip-path="url(#mclip)">
<circle cx="-0.87" cy="6.77" r="2.15" fill="url(#g3)" stroke="none" stroke-width="1.0"/>
<circle cx="0.48" cy="15.46" r="2.56" fill="url(#g3)" stroke="none" stroke-width="1.0"/>
<circle cx="-2.37" cy="5.94" r="2.80" fill="url(#g3)" stroke="none" stroke-width="1.0"/>
<circle cx="2.74" cy="11.53" r="2.16" fill="url(#g3)" stroke="none" stroke-width="1.0"/>
<circle cx="-2.07" cy="27.55" r="2.15" fill="url(#g2)" stroke="none" stroke-width="1.0"/>
</g>
</g>
<g transform="translate(272.30,344.30) scale(1.0,1)">
<path d="M-3.5,32.5 L-6,35.8 M3.5,32.5 L6,35.8 M-1,34 L-1.5,36 M1,34 L1.5,36" fill="none" stroke="#8a8a8a" stroke-width="0.7"/>
<use href="#ms" fill="url(#mg)"/>
<use href="#ms" fill="url(#mh)"/>
<circle cx="-1.60" cy="9.50" r="0.80" fill="#666" stroke="none" stroke-width="1.0" opacity="0.6"/>
<circle cx="1.60" cy="9.50" r="0.80" fill="#666" stroke="none" stroke-width="1.0" opacity="0.6"/>
<g fill="#999" opacity="0.22" clip-path="url(#mclip)"><ellipse cx="0" cy="14.5" rx="3.4" ry="2"/><ellipse cx="-0.5" cy="26.9" rx="1.8" ry="1.1"/><ellipse cx="-1.2" cy="24.7" rx="1.3" ry="2.4"/><ellipse cx="-2.3" cy="29.1" rx="1.4" ry="1.2"/><ellipse cx="-0.4" cy="13.5" rx="1.6" ry="1.2"/></g>
<g clip-path="url(#mclip)">
<circle cx="0.79" cy="14.94" r="2.30" fill="url(#g3)" stroke="none" stroke-width="1.0"/>
<circle cx="0.09" cy="8.39" r="2.90" fill="url(#g2)" stroke="none" stroke-width="1.0"/>
<circle cx="0.12" cy="19.65" r="2.32" fill="url(#g2)" stroke="none" stroke-width="1.0"/>
<circle cx="-4.24" cy="24.39" r="2.17" fill="url(#g3)" stroke="none" stroke-width="1.0"/>
<circle cx="-0.99" cy="7.32" r="2.21" fill="url(#g2)" stroke="none" stroke-width="1.0"/>
</g>
</g>
<g transform="translate(288.00,344.30) scale(1.0,1)">
<path d="M-3.5,32.5 L-6,35.8 M3.5,32.5 L6,35.8 M-1,34 L-1.5,36 M1,34 L1.5,36" fill="none" stroke="#8a8a8a" stroke-width="0.7"/>
<use href="#ms" fill="url(#mg)"/>
<use href="#ms" fill="url(#mh)"/>
<circle cx="-1.60" cy="9.50" r="0.80" fill="#666" stroke="none" stroke-width="1.0" opacity="0.6"/>
<circle cx="1.60" cy="9.50" r="0.80" fill="#666" stroke="none" stroke-width="1.0" opacity="0.6"/>
<g fill="#999" opacity="0.22" clip-path="url(#mclip)"><ellipse cx="0" cy="14.5" rx="3.4" ry="2"/><ellipse cx="2.8" cy="17.1" rx="1.6" ry="1.0"/><ellipse cx="0.5" cy="17.9" rx="1.4" ry="1.3"/><ellipse cx="-3.5" cy="16.9" rx="1.1" ry="1.0"/><ellipse cx="1.7" cy="16.4" rx="1.3" ry="2.3"/></g>
<g clip-path="url(#mclip)">
<circle cx="3.83" cy="28.25" r="1.62" fill="url(#g1)" stroke="none" stroke-width="1.0"/>
<circle cx="-3.24" cy="14.90" r="2.22" fill="url(#g2)" stroke="none" stroke-width="1.0"/>
<circle cx="-1.49" cy="16.14" r="2.09" fill="url(#g1)" stroke="none" stroke-width="1.0"/>
<circle cx="-0.37" cy="32.00" r="1.86" fill="url(#g1)" stroke="none" stroke-width="1.0"/>
</g>
</g>
<rect x="300.50" y="344.00" width="78.50" height="36.50" fill="#0b0b0b" stroke="none" stroke-width="1.0"/>
<rect x="314.50" y="344.00" width="2.50" height="36.50" fill="#161616" stroke="none" stroke-width="1.0"/>
<rect x="330.50" y="344.00" width="2.50" height="36.50" fill="#161616" stroke="none" stroke-width="1.0"/>
<rect x="346.50" y="344.00" width="2.50" height="36.50" fill="#161616" stroke="none" stroke-width="1.0"/>
<rect x="362.50" y="344.00" width="2.50" height="36.50" fill="#161616" stroke="none" stroke-width="1.0"/>
<g transform="translate(308.50,344.30) scale(1.0,1)">
<path d="M-3.5,32.5 L-6,35.8 M3.5,32.5 L6,35.8 M-1,34 L-1.5,36 M1,34 L1.5,36" fill="none" stroke="#8a8a8a" stroke-width="0.7"/>
<use href="#ms" fill="url(#mg)"/>
<use href="#ms" fill="url(#mh)"/>
<circle cx="-1.60" cy="9.50" r="0.80" fill="#666" stroke="none" stroke-width="1.0" opacity="0.6"/>
<circle cx="1.60" cy="9.50" r="0.80" fill="#666" stroke="none" stroke-width="1.0" opacity="0.6"/>
<g fill="#999" opacity="0.22" clip-path="url(#mclip)"><ellipse cx="0" cy="14.5" rx="3.4" ry="2"/><ellipse cx="3.2" cy="12.9" rx="1.1" ry="1.3"/><ellipse cx="0.9" cy="15.2" rx="1.6" ry="1.5"/><ellipse cx="0.9" cy="19.2" rx="1.7" ry="1.1"/><ellipse cx="1.9" cy="21.5" rx="1.6" ry="2.4"/></g>
</g>
<g transform="translate(324.30,344.30) scale(1.0,1)">
<path d="M-3.5,32.5 L-6,35.8 M3.5,32.5 L6,35.8 M-1,34 L-1.5,36 M1,34 L1.5,36" fill="none" stroke="#8a8a8a" stroke-width="0.7"/>
<use href="#ms" fill="url(#mg)"/>
<use href="#ms" fill="url(#mh)"/>
<circle cx="-1.60" cy="9.50" r="0.80" fill="#666" stroke="none" stroke-width="1.0" opacity="0.6"/>
<circle cx="1.60" cy="9.50" r="0.80" fill="#666" stroke="none" stroke-width="1.0" opacity="0.6"/>
<g fill="#999" opacity="0.22" clip-path="url(#mclip)"><ellipse cx="0" cy="14.5" rx="3.4" ry="2"/><ellipse cx="0.5" cy="15.3" rx="1.4" ry="1.7"/><ellipse cx="3.4" cy="23.7" rx="1.5" ry="2.4"/><ellipse cx="-3.1" cy="25.5" rx="1.6" ry="2.3"/><ellipse cx="3.0" cy="22.1" rx="1.6" ry="2.5"/></g>
</g>
<g transform="translate(340.00,344.30) scale(1.0,1)">
<path d="M-3.5,32.5 L-6,35.8 M3.5,32.5 L6,35.8 M-1,34 L-1.5,36 M1,34 L1.5,36" fill="none" stroke="#8a8a8a" stroke-width="0.7"/>
<use href="#ms" fill="url(#mg)"/>
<use href="#ms" fill="url(#mh)"/>
<circle cx="-1.60" cy="9.50" r="0.80" fill="#666" stroke="none" stroke-width="1.0" opacity="0.6"/>
<circle cx="1.60" cy="9.50" r="0.80" fill="#666" stroke="none" stroke-width="1.0" opacity="0.6"/>
<g fill="#999" opacity="0.22" clip-path="url(#mclip)"><ellipse cx="0" cy="14.5" rx="3.4" ry="2"/><ellipse cx="1.4" cy="11.7" rx="1.2" ry="2.1"/><ellipse cx="-1.2" cy="28.4" rx="1.3" ry="2.1"/><ellipse cx="4.0" cy="22.7" rx="1.1" ry="1.7"/><ellipse cx="-1.2" cy="29.0" rx="1.3" ry="1.4"/></g>
</g>
<g transform="translate(355.80,344.30) scale(1.0,1)">
<path d="M-3.5,32.5 L-6,35.8 M3.5,32.5 L6,35.8 M-1,34 L-1.5,36 M1,34 L1.5,36" fill="none" stroke="#8a8a8a" stroke-width="0.7"/>
<use href="#ms" fill="url(#mg)"/>
<use href="#ms" fill="url(#mh)"/>
<circle cx="-1.60" cy="9.50" r="0.80" fill="#666" stroke="none" stroke-width="1.0" opacity="0.6"/>
<circle cx="1.60" cy="9.50" r="0.80" fill="#666" stroke="none" stroke-width="1.0" opacity="0.6"/>
<g fill="#999" opacity="0.22" clip-path="url(#mclip)"><ellipse cx="0" cy="14.5" rx="3.4" ry="2"/><ellipse cx="0.0" cy="24.1" rx="1.8" ry="1.9"/><ellipse cx="0.1" cy="23.9" rx="1.0" ry="1.9"/><ellipse cx="2.8" cy="25.8" rx="1.4" ry="1.1"/><ellipse cx="3.6" cy="26.7" rx="1.5" ry="1.1"/></g>
</g>
<g transform="translate(371.50,344.30) scale(1.0,1)">
<path d="M-3.5,32.5 L-6,35.8 M3.5,32.5 L6,35.8 M-1,34 L-1.5,36 M1,34 L1.5,36" fill="none" stroke="#8a8a8a" stroke-width="0.7"/>
<use href="#ms" fill="url(#mg)"/>
<use href="#ms" fill="url(#mh)"/>
<circle cx="-1.60" cy="9.50" r="0.80" fill="#666" stroke="none" stroke-width="1.0" opacity="0.6"/>
<circle cx="1.60" cy="9.50" r="0.80" fill="#666" stroke="none" stroke-width="1.0" opacity="0.6"/>
<g fill="#999" opacity="0.22" clip-path="url(#mclip)"><ellipse cx="0" cy="14.5" rx="3.4" ry="2"/><ellipse cx="-2.7" cy="25.8" rx="1.1" ry="1.2"/><ellipse cx="3.7" cy="14.2" rx="1.2" ry="1.0"/><ellipse cx="1.1" cy="13.6" rx="1.6" ry="1.6"/><ellipse cx="-0.1" cy="24.4" rx="0.8" ry="2.0"/></g>
</g>
<rect x="386.30" y="221.20" width="11.80" height="118.80" fill="url(#cb)" stroke="#222" stroke-width="0.8"/>
<line x1="398.10" y1="340.00" x2="401.50" y2="340.00" stroke="#222" stroke-width="0.7"/>
<text x="405.50" y="343.20" font-size="9" fill="#1a1a1a">0.0</text>
<line x1="398.10" y1="334.06" x2="400.30" y2="334.06" stroke="#222" stroke-width="0.7"/>
<line x1="398.10" y1="328.12" x2="400.30" y2="328.12" stroke="#222" stroke-width="0.7"/>
<line x1="398.10" y1="322.18" x2="400.30" y2="322.18" stroke="#222" stroke-width="0.7"/>
<line x1="398.10" y1="316.24" x2="401.50" y2="316.24" stroke="#222" stroke-width="0.7"/>
<text x="405.50" y="319.44" font-size="9" fill="#1a1a1a">0.4</text>
<line x1="398.10" y1="310.30" x2="400.30" y2="310.30" stroke="#222" stroke-width="0.7"/>
<line x1="398.10" y1="304.36" x2="400.30" y2="304.36" stroke="#222" stroke-width="0.7"/>
<line x1="398.10" y1="298.42" x2="400.30" y2="298.42" stroke="#222" stroke-width="0.7"/>
<line x1="398.10" y1="292.48" x2="401.50" y2="292.48" stroke="#222" stroke-width="0.7"/>
<text x="405.50" y="295.68" font-size="9" fill="#1a1a1a">0.8</text>
<line x1="398.10" y1="286.54" x2="400.30" y2="286.54" stroke="#222" stroke-width="0.7"/>
<line x1="398.10" y1="280.60" x2="400.30" y2="280.60" stroke="#222" stroke-width="0.7"/>
<line x1="398.10" y1="274.66" x2="400.30" y2="274.66" stroke="#222" stroke-width="0.7"/>
<line x1="398.10" y1="268.72" x2="401.50" y2="268.72" stroke="#222" stroke-width="0.7"/>
<text x="405.50" y="271.92" font-size="9" fill="#1a1a1a">1.2</text>
<line x1="398.10" y1="262.78" x2="400.30" y2="262.78" stroke="#222" stroke-width="0.7"/>
<line x1="398.10" y1="256.84" x2="400.30" y2="256.84" stroke="#222" stroke-width="0.7"/>
<line x1="398.10" y1="250.90" x2="400.30" y2="250.90" stroke="#222" stroke-width="0.7"/>
<line x1="398.10" y1="244.96" x2="401.50" y2="244.96" stroke="#222" stroke-width="0.7"/>
<text x="405.50" y="248.16" font-size="9" fill="#1a1a1a">1.6</text>
<line x1="398.10" y1="239.02" x2="400.30" y2="239.02" stroke="#222" stroke-width="0.7"/>
<line x1="398.10" y1="233.08" x2="400.30" y2="233.08" stroke="#222" stroke-width="0.7"/>
<line x1="398.10" y1="227.14" x2="400.30" y2="227.14" stroke="#222" stroke-width="0.7"/>
<line x1="398.10" y1="221.20" x2="401.50" y2="221.20" stroke="#222" stroke-width="0.7"/>
<text x="405.50" y="224.40" font-size="9" fill="#1a1a1a">2.0</text>
<text x="428.50" y="280.50" font-size="9" fill="#1a1a1a" text-anchor="middle" transform="rotate(90 428.50 280.50)">x10<tspan font-size="6" dy="-3">7</tspan></text>
<rect x="385.00" y="345.80" width="54.80" height="35.20" fill="#fff" stroke="#222" stroke-width="0.9"/>
<text x="412.40" y="357.00" font-size="8.6" fill="#1a1a1a" text-anchor="middle">Color Bar</text>
<text x="412.40" y="366.60" font-size="8.6" fill="#1a1a1a" text-anchor="middle">Min = 5e+05</text>
<text x="412.40" y="376.40" font-size="8.6" fill="#1a1a1a" text-anchor="middle">Max =2e+07</text>
<text x="439.30" y="12.60" font-size="15.3" fill="#000" font-weight="bold">C</text>
<line x1="516.50" y1="107.80" x2="516.50" y2="17.60" stroke="#1a1a1a" stroke-width="1.0"/>
<line x1="513.50" y1="107.80" x2="516.50" y2="107.80" stroke="#1a1a1a" stroke-width="1.0"/>
<text x="512.00" y="111.00" font-size="9.0" fill="#1a1a1a" text-anchor="end">0.0</text>
<line x1="513.50" y1="85.30" x2="516.50" y2="85.30" stroke="#1a1a1a" stroke-width="1.0"/>
<text x="508.50" y="88.50" font-size="9.0" fill="#1a1a1a" text-anchor="end">5.0×10</text>
<text x="508.70" y="85.00" font-size="6" fill="#1a1a1a">8</text>
<line x1="513.50" y1="62.70" x2="516.50" y2="62.70" stroke="#1a1a1a" stroke-width="1.0"/>
<text x="508.50" y="65.90" font-size="9.0" fill="#1a1a1a" text-anchor="end">1.0×10</text>
<text x="508.70" y="62.40" font-size="6" fill="#1a1a1a">9</text>
<line x1="513.50" y1="40.20" x2="516.50" y2="40.20" stroke="#1a1a1a" stroke-width="1.0"/>
<text x="508.50" y="43.40" font-size="9.0" fill="#1a1a1a" text-anchor="end">1.5×10</text>
<text x="508.70" y="39.90" font-size="6" fill="#1a1a1a">9</text>
<line x1="513.50" y1="17.60" x2="516.50" y2="17.60" stroke="#1a1a1a" stroke-width="1.0"/>
<text x="508.50" y="20.80" font-size="9.0" fill="#1a1a1a" text-anchor="end">2.0×10</text>
<text x="508.70" y="17.30" font-size="6" fill="#1a1a1a">9</text>
<line x1="516.50" y1="107.80" x2="649.00" y2="107.80" stroke="#1a1a1a" stroke-width="1.0"/>
<line x1="528.40" y1="107.80" x2="528.40" y2="110.80" stroke="#1a1a1a" stroke-width="1.0"/>
<text x="528.40" y="120.80" font-size="9.0" fill="#1a1a1a" text-anchor="middle">10</text>
<line x1="546.45" y1="107.80" x2="546.45" y2="110.80" stroke="#1a1a1a" stroke-width="1.0"/>
<text x="546.45" y="120.80" font-size="9.0" fill="#1a1a1a" text-anchor="middle">20</text>
<line x1="564.50" y1="107.80" x2="564.50" y2="110.80" stroke="#1a1a1a" stroke-width="1.0"/>
<text x="564.50" y="120.80" font-size="9.0" fill="#1a1a1a" text-anchor="middle">29</text>
<line x1="582.55" y1="107.80" x2="582.55" y2="110.80" stroke="#1a1a1a" stroke-width="1.0"/>
<text x="582.55" y="120.80" font-size="9.0" fill="#1a1a1a" text-anchor="middle">34</text>
<line x1="600.60" y1="107.80" x2="600.60" y2="110.80" stroke="#1a1a1a" stroke-width="1.0"/>
<text x="600.60" y="120.80" font-size="9.0" fill="#1a1a1a" text-anchor="middle">41</text>
<line x1="618.65" y1="107.80" x2="618.65" y2="110.80" stroke="#1a1a1a" stroke-width="1.0"/>
<text x="618.65" y="120.80" font-size="9.0" fill="#1a1a1a" text-anchor="middle">46</text>
<line x1="636.70" y1="107.80" x2="636.70" y2="110.80" stroke="#1a1a1a" stroke-width="1.0"/>
<text x="636.70" y="120.80" font-size="9.0" fill="#1a1a1a" text-anchor="middle">53</text>
<text x="582.50" y="134.30" font-size="9.4" fill="#1a1a1a" text-anchor="middle">Day(s)</text>
<text x="472.80" y="61.20" font-size="9.4" fill="#1a1a1a" text-anchor="middle" transform="rotate(-90 472.80 61.20)">Tumor load (TBL: p/s)</text>
<polyline points="528.40,107.80 546.45,107.80 564.50,105.60 582.55,101.20 600.60,88.40 618.65,44.10" fill="none" stroke="#111" stroke-width="1.1"/>
<line x1="600.60" y1="83.50" x2="600.60" y2="93.00" stroke="#111" stroke-width="0.9"/>
<line x1="598.10" y1="83.50" x2="603.10" y2="83.50" stroke="#111" stroke-width="0.9"/>
<line x1="598.10" y1="93.00" x2="603.10" y2="93.00" stroke="#111" stroke-width="0.9"/>
<line x1="618.65" y1="28.70" x2="618.65" y2="60.10" stroke="#111" stroke-width="0.9"/>
<line x1="616.15" y1="28.70" x2="621.15" y2="28.70" stroke="#111" stroke-width="0.9"/>
<line x1="616.15" y1="60.10" x2="621.15" y2="60.10" stroke="#111" stroke-width="0.9"/>
<circle cx="528.40" cy="107.80" r="1.60" fill="#111" stroke="none" stroke-width="1.0"/>
<circle cx="546.45" cy="107.80" r="1.60" fill="#111" stroke="none" stroke-width="1.0"/>
<circle cx="564.50" cy="105.60" r="1.60" fill="#111" stroke="none" stroke-width="1.0"/>
<circle cx="582.55" cy="101.20" r="1.60" fill="#111" stroke="none" stroke-width="1.0"/>
<circle cx="600.60" cy="88.40" r="1.60" fill="#111" stroke="none" stroke-width="1.0"/>
<circle cx="618.65" cy="44.10" r="1.60" fill="#111" stroke="none" stroke-width="1.0"/>
<polyline points="528.40,107.80 546.45,107.80 564.50,107.80 582.55,107.60 600.60,106.80 618.65,91.40 636.70,72.40" fill="none" stroke="#3c3cf5" stroke-width="1.1"/>
<line x1="618.65" y1="81.50" x2="618.65" y2="101.20" stroke="#3c3cf5" stroke-width="0.9"/>
<line x1="616.15" y1="81.50" x2="621.15" y2="81.50" stroke="#3c3cf5" stroke-width="0.9"/>
<line x1="616.15" y1="101.20" x2="621.15" y2="101.20" stroke="#3c3cf5" stroke-width="0.9"/>
<line x1="636.70" y1="57.30" x2="636.70" y2="88.00" stroke="#3c3cf5" stroke-width="0.9"/>
<line x1="634.20" y1="57.30" x2="639.20" y2="57.30" stroke="#3c3cf5" stroke-width="0.9"/>
<line x1="634.20" y1="88.00" x2="639.20" y2="88.00" stroke="#3c3cf5" stroke-width="0.9"/>
<rect x="526.90" y="106.30" width="3.00" height="3.00" fill="#3c3cf5" stroke="none" stroke-width="1.0"/>
<rect x="544.95" y="106.30" width="3.00" height="3.00" fill="#3c3cf5" stroke="none" stroke-width="1.0"/>
<rect x="563.00" y="106.30" width="3.00" height="3.00" fill="#3c3cf5" stroke="none" stroke-width="1.0"/>
<rect x="581.05" y="106.10" width="3.00" height="3.00" fill="#3c3cf5" stroke="none" stroke-width="1.0"/>
<rect x="599.10" y="105.30" width="3.00" height="3.00" fill="#3c3cf5" stroke="none" stroke-width="1.0"/>
<rect x="617.15" y="89.90" width="3.00" height="3.00" fill="#3c3cf5" stroke="none" stroke-width="1.0"/>
<rect x="635.20" y="70.90" width="3.00" height="3.00" fill="#3c3cf5" stroke="none" stroke-width="1.0"/>
<polyline points="528.40,107.80 546.45,107.80 564.50,107.80 582.55,107.80 600.60,107.60 618.65,106.60 636.70,102.20" fill="none" stroke="#f0281e" stroke-width="1.1"/>
<line x1="636.70" y1="100.50" x2="636.70" y2="103.80" stroke="#f0281e" stroke-width="0.9"/>
<line x1="634.50" y1="100.50" x2="638.90" y2="100.50" stroke="#f0281e" stroke-width="0.9"/>
<line x1="634.50" y1="103.80" x2="638.90" y2="103.80" stroke="#f0281e" stroke-width="0.9"/>
<path d="M528.40,106.36 L530.00,109.24 L526.80,109.24 Z" fill="#f0281e" stroke="none" stroke-width="1.0"/>
<path d="M546.45,106.36 L548.05,109.24 L544.85,109.24 Z" fill="#f0281e" stroke="none" stroke-width="1.0"/>
<path d="M564.50,106.36 L566.10,109.24 L562.90,109.24 Z" fill="#f0281e" stroke="none" stroke-width="1.0"/>
<path d="M582.55,106.36 L584.15,109.24 L580.95,109.24 Z" fill="#f0281e" stroke="none" stroke-width="1.0"/>
<path d="M600.60,106.16 L602.20,109.04 L599.00,109.04 Z" fill="#f0281e" stroke="none" stroke-width="1.0"/>
<path d="M618.65,105.16 L620.25,108.04 L617.05,108.04 Z" fill="#f0281e" stroke="none" stroke-width="1.0"/>
<path d="M636.70,100.76 L638.30,103.64 L635.10,103.64 Z" fill="#f0281e" stroke="none" stroke-width="1.0"/>
<polyline points="528.40,107.60 546.45,107.60 564.50,107.60 582.55,107.60 600.60,107.60 618.65,107.60 636.70,107.60" fill="none" stroke="#e8913c" stroke-width="1.3"/>
<path d="M526.80,106.30 L530.00,106.30 L528.40,109.00 Z" fill="#e8913c" stroke="none" stroke-width="1.0"/>
<path d="M544.85,106.30 L548.05,106.30 L546.45,109.00 Z" fill="#e8913c" stroke="none" stroke-width="1.0"/>
<path d="M562.90,106.30 L566.10,106.30 L564.50,109.00 Z" fill="#e8913c" stroke="none" stroke-width="1.0"/>
<path d="M580.95,106.30 L584.15,106.30 L582.55,109.00 Z" fill="#e8913c" stroke="none" stroke-width="1.0"/>
<path d="M599.00,106.30 L602.20,106.30 L600.60,109.00 Z" fill="#e8913c" stroke="none" stroke-width="1.0"/>
<path d="M617.05,106.30 L620.25,106.30 L618.65,109.00 Z" fill="#e8913c" stroke="none" stroke-width="1.0"/>
<path d="M635.10,106.30 L638.30,106.30 L636.70,109.00 Z" fill="#e8913c" stroke="none" stroke-width="1.0"/>
<path d="M613.90,12.50 L614.38,13.64 L615.61,13.74 L614.67,14.55 L614.96,15.76 L613.90,15.11 L612.84,15.76 L613.13,14.55 L612.19,13.74 L613.42,13.64 Z M617.30,12.50 L617.78,13.64 L619.01,13.74 L618.07,14.55 L618.36,15.76 L617.30,15.11 L616.24,15.76 L616.53,14.55 L615.59,13.74 L616.82,13.64 Z M620.70,12.50 L621.18,13.64 L622.41,13.74 L621.47,14.55 L621.76,15.76 L620.70,15.11 L619.64,15.76 L619.93,14.55 L618.99,13.74 L620.22,13.64 Z M624.10,12.50 L624.58,13.64 L625.81,13.74 L624.87,14.55 L625.16,15.76 L624.10,15.11 L623.04,15.76 L623.33,14.55 L622.39,13.74 L623.62,13.64 Z" fill="#3c3cf5"/>
<path d="M613.90,17.50 L614.38,18.64 L615.61,18.74 L614.67,19.55 L614.96,20.76 L613.90,20.11 L612.84,20.76 L613.13,19.55 L612.19,18.74 L613.42,18.64 Z M617.30,17.50 L617.78,18.64 L619.01,18.74 L618.07,19.55 L618.36,20.76 L617.30,20.11 L616.24,20.76 L616.53,19.55 L615.59,18.74 L616.82,18.64 Z M620.70,17.50 L621.18,18.64 L622.41,18.74 L621.47,19.55 L621.76,20.76 L620.70,20.11 L619.64,20.76 L619.93,19.55 L618.99,18.74 L620.22,18.64 Z M624.10,17.50 L624.58,18.64 L625.81,18.74 L624.87,19.55 L625.16,20.76 L624.10,20.11 L623.04,20.76 L623.33,19.55 L622.39,18.74 L623.62,18.64 Z" fill="#f0281e"/>
<path d="M613.90,22.90 L614.38,24.04 L615.61,24.14 L614.67,24.95 L614.96,26.16 L613.90,25.51 L612.84,26.16 L613.13,24.95 L612.19,24.14 L613.42,24.04 Z M617.30,22.90 L617.78,24.04 L619.01,24.14 L618.07,24.95 L618.36,26.16 L617.30,25.51 L616.24,26.16 L616.53,24.95 L615.59,24.14 L616.82,24.04 Z M620.70,22.90 L621.18,24.04 L622.41,24.14 L621.47,24.95 L621.76,26.16 L620.70,25.51 L619.64,26.16 L619.93,24.95 L618.99,24.14 L620.22,24.04 Z M624.10,22.90 L624.58,24.04 L625.81,24.14 L624.87,24.95 L625.16,26.16 L624.10,25.51 L623.04,26.16 L623.33,24.95 L622.39,24.14 L623.62,24.04 Z" fill="#e8913c"/>
<path d="M640.6,71.2 L643.4,71.2 L643.4,101.2 L640.6,101.2" fill="none" stroke="#111" stroke-width="0.9"/>
<path d="M647.6,71.2 L650.2,71.2 L650.2,106.6 L647.6,106.6" fill="none" stroke="#111" stroke-width="0.9"/>
<text x="645.00" y="86.20" font-size="8.6" fill="#1a1a1a" text-anchor="middle" transform="rotate(90 645.00 86.20)">**</text>
<text x="651.80" y="88.90" font-size="8.6" fill="#1a1a1a" text-anchor="middle" transform="rotate(90 651.80 88.90)">**</text>
<line x1="520.50" y1="19.70" x2="530.80" y2="19.70" stroke="#111" stroke-width="1.1"/>
<circle cx="525.60" cy="19.70" r="1.60" fill="#111" stroke="none" stroke-width="1.0"/>
<text x="536.00" y="22.70" font-size="9.3" fill="#111">Vehicle</text>
<line x1="520.50" y1="30.60" x2="530.80" y2="30.60" stroke="#3c3cf5" stroke-width="1.1"/>
<rect x="524.10" y="29.10" width="3.00" height="3.00" fill="#3c3cf5" stroke="none" stroke-width="1.0"/>
<text x="536.00" y="33.60" font-size="9.3" fill="#3c3cf5">Decitabine</text>
<line x1="520.50" y1="43.80" x2="530.80" y2="43.80" stroke="#f0281e" stroke-width="1.1"/>
<path d="M525.60,42.45 L527.10,45.15 L524.10,45.15 Z" fill="#f0281e" stroke="none" stroke-width="1.0"/>
<line x1="520.50" y1="56.60" x2="530.80" y2="56.60" stroke="#e8913c" stroke-width="1.1"/>
<path d="M524.1,55.40 L527.1,55.40 L525.6,57.90 Z" fill="#e8913c" stroke="none" stroke-width="1.0"/>
<text x="536.00" y="49.00" font-size="9.3" fill="#f0281e"><tspan font-size="5.58" dy="-3.35">Allo</tspan><tspan dy="3.35">CAR70-NKT</tspan></text>
<text x="536.00" y="62.40" font-size="9.3" fill="#e8913c"><tspan font-size="5.58" dy="-3.35">Allo</tspan><tspan dy="3.35">CAR70-NKT</tspan></text>
<text x="536.00" y="73.20" font-size="9.3" fill="#e8913c">+ Decitabine</text>
<text x="439.30" y="153.00" font-size="15.3" fill="#000" font-weight="bold">D</text>
<line x1="515.10" y1="235.90" x2="515.10" y2="165.60" stroke="#555" stroke-width="1.2"/>
<line x1="512.10" y1="235.90" x2="515.10" y2="235.90" stroke="#555" stroke-width="1.0"/>
<text x="510.90" y="239.10" font-size="9.0" fill="#1a1a1a" text-anchor="end">0</text>
<line x1="512.10" y1="221.84" x2="515.10" y2="221.84" stroke="#555" stroke-width="1.0"/>
<text x="510.90" y="225.04" font-size="9.0" fill="#1a1a1a" text-anchor="end">20</text>
<line x1="512.10" y1="207.78" x2="515.10" y2="207.78" stroke="#555" stroke-width="1.0"/>
<text x="510.90" y="210.98" font-size="9.0" fill="#1a1a1a" text-anchor="end">40</text>
<line x1="512.10" y1="193.72" x2="515.10" y2="193.72" stroke="#555" stroke-width="1.0"/>
<text x="510.90" y="196.92" font-size="9.0" fill="#1a1a1a" text-anchor="end">60</text>
<line x1="512.10" y1="179.66" x2="515.10" y2="179.66" stroke="#555" stroke-width="1.0"/>
<text x="510.90" y="182.86" font-size="9.0" fill="#1a1a1a" text-anchor="end">80</text>
<line x1="512.10" y1="165.60" x2="515.10" y2="165.60" stroke="#555" stroke-width="1.0"/>
<text x="510.90" y="168.80" font-size="9.0" fill="#1a1a1a" text-anchor="end">100</text>
<line x1="515.10" y1="235.90" x2="644.70" y2="235.90" stroke="#555" stroke-width="1.2"/>
<line x1="515.10" y1="235.90" x2="515.10" y2="238.90" stroke="#555" stroke-width="1.0"/>
<text x="515.10" y="248.30" font-size="9.0" fill="#1a1a1a" text-anchor="middle">0</text>
<line x1="547.50" y1="235.90" x2="547.50" y2="238.90" stroke="#555" stroke-width="1.0"/>
<text x="547.50" y="248.30" font-size="9.0" fill="#1a1a1a" text-anchor="middle">30</text>
<line x1="579.90" y1="235.90" x2="579.90" y2="238.90" stroke="#555" stroke-width="1.0"/>
<text x="579.90" y="248.30" font-size="9.0" fill="#1a1a1a" text-anchor="middle">60</text>
<line x1="612.30" y1="235.90" x2="612.30" y2="238.90" stroke="#555" stroke-width="1.0"/>
<text x="612.30" y="248.30" font-size="9.0" fill="#1a1a1a" text-anchor="middle">90</text>
<line x1="644.70" y1="235.90" x2="644.70" y2="238.90" stroke="#555" stroke-width="1.0"/>
<text x="644.70" y="248.30" font-size="9.0" fill="#1a1a1a" text-anchor="middle">120</text>
<text x="579.90" y="261.90" font-size="9.4" fill="#1a1a1a" text-anchor="middle">Day(s)</text>
<text x="491.30" y="198.90" font-size="9.4" fill="#1a1a1a" text-anchor="middle" transform="rotate(-90 491.30 198.90)">Percent survival</text>
<path d="M515.10,165.60 L644.70,165.60" fill="none" stroke="#e8913c" stroke-width="1.3"/>
<line x1="644.70" y1="164.10" x2="644.70" y2="167.10" stroke="#e8913c" stroke-width="1.0"/>
<path d="M515.10,165.60 L599.12,165.60 L599.12,179.66 L603.66,179.66 L603.66,193.72 L622.02,193.72 L622.02,207.78 L624.94,207.78 L624.94,221.84 L635.95,221.84 L635.95,235.90" fill="none" stroke="#f0281e" stroke-width="1.3"/>
<path d="M515.10,165.60 L584.22,165.60 L584.22,179.66 L588.32,179.66 L588.32,193.72 L595.45,193.72 L595.45,207.78 L599.02,207.78 L599.02,221.84 L619.86,221.84 L619.86,235.90" fill="none" stroke="#3c3cf5" stroke-width="1.3"/>
<path d="M515.10,165.60 L570.83,165.60 L570.83,179.66 L575.04,179.66 L575.04,207.78 L581.74,207.78 L581.74,221.84 L583.14,221.84 L583.14,235.90" fill="none" stroke="#111" stroke-width="1.3"/>
<text x="575.00" y="156.60" font-size="9.6" fill="#e8913c">Long-term survival</text>
<path d="M639.30,168.90 L639.78,170.04 L641.01,170.14 L640.07,170.95 L640.36,172.16 L639.30,171.51 L638.24,172.16 L638.53,170.95 L637.59,170.14 L638.82,170.04 Z M642.70,168.90 L643.18,170.04 L644.41,170.14 L643.47,170.95 L643.76,172.16 L642.70,171.51 L641.64,172.16 L641.93,170.95 L640.99,170.14 L642.22,170.04 Z" fill="#333"/>
<path d="M639.30,174.00 L639.78,175.14 L641.01,175.24 L640.07,176.05 L640.36,177.26 L639.30,176.61 L638.24,177.26 L638.53,176.05 L637.59,175.24 L638.82,175.14 Z M642.70,174.00 L643.18,175.14 L644.41,175.24 L643.47,176.05 L643.76,177.26 L642.70,176.61 L641.64,177.26 L641.93,176.05 L640.99,175.24 L642.22,175.14 Z" fill="#3c3cf5"/>
<path d="M639.30,179.20 L639.78,180.34 L641.01,180.44 L640.07,181.25 L640.36,182.46 L639.30,181.81 L638.24,182.46 L638.53,181.25 L637.59,180.44 L638.82,180.34 Z M642.70,179.20 L643.18,180.34 L644.41,180.44 L643.47,181.25 L643.76,182.46 L642.70,181.81 L641.64,182.46 L641.93,181.25 L640.99,180.44 L642.22,180.34 Z" fill="#f0281e"/>
<text x="439.50" y="261.80" font-size="15.3" fill="#000" font-weight="bold">E</text>
<line x1="495.20" y1="354.00" x2="495.20" y2="279.00" stroke="#222" stroke-width="1.0"/>
<line x1="492.20" y1="354.00" x2="495.20" y2="354.00" stroke="#222" stroke-width="1.0"/>
<text x="490.90" y="357.20" font-size="9.0" fill="#1a1a1a" text-anchor="end">0</text>
<line x1="492.20" y1="339.00" x2="495.20" y2="339.00" stroke="#222" stroke-width="1.0"/>
<text x="490.90" y="342.20" font-size="9.0" fill="#1a1a1a" text-anchor="end">500</text>
<line x1="492.20" y1="324.00" x2="495.20" y2="324.00" stroke="#222" stroke-width="1.0"/>
<text x="490.90" y="327.20" font-size="9.0" fill="#1a1a1a" text-anchor="end">1000</text>
<line x1="492.20" y1="309.00" x2="495.20" y2="309.00" stroke="#222" stroke-width="1.0"/>
<text x="490.90" y="312.20" font-size="9.0" fill="#1a1a1a" text-anchor="end">1500</text>
<line x1="492.20" y1="294.00" x2="495.20" y2="294.00" stroke="#222" stroke-width="1.0"/>
<text x="490.90" y="297.20" font-size="9.0" fill="#1a1a1a" text-anchor="end">2000</text>
<line x1="492.20" y1="279.00" x2="495.20" y2="279.00" stroke="#222" stroke-width="1.0"/>
<text x="490.90" y="282.20" font-size="9.0" fill="#1a1a1a" text-anchor="end">2500</text>
<line x1="495.20" y1="354.00" x2="554.70" y2="354.00" stroke="#222" stroke-width="1.0"/>
<line x1="507.00" y1="354.00" x2="507.00" y2="356.50" stroke="#222" stroke-width="0.9"/>
<line x1="525.20" y1="354.00" x2="525.20" y2="356.50" stroke="#222" stroke-width="0.9"/>
<line x1="543.00" y1="354.00" x2="543.00" y2="356.50" stroke="#222" stroke-width="0.9"/>
<rect x="519.20" y="312.00" width="11.90" height="42.00" fill="#f5391a" stroke="#1a1a1a" stroke-width="0.9"/>
<rect x="536.90" y="298.50" width="12.10" height="55.50" fill="#f09a30" stroke="#1a1a1a" stroke-width="0.9"/>
<rect x="501.80" y="352.80" width="2.40" height="2.40" fill="#3c3cf5" stroke="none" stroke-width="1.0"/>
<rect x="503.80" y="352.80" width="2.40" height="2.40" fill="#3c3cf5" stroke="none" stroke-width="1.0"/>
<rect x="505.80" y="352.80" width="2.40" height="2.40" fill="#3c3cf5" stroke="none" stroke-width="1.0"/>
<rect x="507.80" y="352.80" width="2.40" height="2.40" fill="#3c3cf5" stroke="none" stroke-width="1.0"/>
<rect x="509.80" y="352.80" width="2.40" height="2.40" fill="#3c3cf5" stroke="none" stroke-width="1.0"/>
<line x1="502.50" y1="354.00" x2="511.50" y2="354.00" stroke="#3c3cf5" stroke-width="1.6"/>
<line x1="525.20" y1="307.50" x2="525.20" y2="316.00" stroke="#1a1a1a" stroke-width="0.9"/>
<line x1="522.60" y1="307.50" x2="527.80" y2="307.50" stroke="#1a1a1a" stroke-width="0.9"/>
<line x1="522.60" y1="316.00" x2="527.80" y2="316.00" stroke="#1a1a1a" stroke-width="0.9"/>
<circle cx="520.20" cy="305.50" r="1.55" fill="#111" stroke="none" stroke-width="1.0"/>
<circle cx="524.60" cy="305.50" r="1.55" fill="#111" stroke="none" stroke-width="1.0"/>
<circle cx="525.30" cy="311.00" r="1.55" fill="#111" stroke="none" stroke-width="1.0"/>
<circle cx="520.20" cy="319.00" r="1.55" fill="#111" stroke="none" stroke-width="1.0"/>
<circle cx="529.30" cy="317.20" r="1.55" fill="#111" stroke="none" stroke-width="1.0"/>
<line x1="543.00" y1="296.00" x2="543.00" y2="301.00" stroke="#1a1a1a" stroke-width="0.9"/>
<line x1="540.40" y1="296.00" x2="545.60" y2="296.00" stroke="#1a1a1a" stroke-width="0.9"/>
<line x1="540.40" y1="301.00" x2="545.60" y2="301.00" stroke="#1a1a1a" stroke-width="0.9"/>
<rect x="541.90" y="289.10" width="3.00" height="3.00" fill="#111" stroke="none" stroke-width="1.0"/>
<rect x="537.10" y="298.70" width="3.00" height="3.00" fill="#111" stroke="none" stroke-width="1.0"/>
<rect x="544.80" y="299.50" width="3.00" height="3.00" fill="#111" stroke="none" stroke-width="1.0"/>
<rect x="537.50" y="302.50" width="3.00" height="3.00" fill="#111" stroke="none" stroke-width="1.0"/>
<rect x="540.60" y="298.70" width="3.00" height="3.00" fill="#111" stroke="none" stroke-width="1.0"/>
<path d="M508.30,278.70 L508.30,276.90 L542.50,276.90 L542.50,278.70" fill="none" stroke="#222" stroke-width="0.9"/>
<path d="M520.30,272.40 L520.78,273.54 L522.01,273.64 L521.07,274.45 L521.36,275.66 L520.30,275.01 L519.24,275.66 L519.53,274.45 L518.59,273.64 L519.82,273.54 Z M523.70,272.40 L524.18,273.54 L525.41,273.64 L524.47,274.45 L524.76,275.66 L523.70,275.01 L522.64,275.66 L522.93,274.45 L521.99,273.64 L523.22,273.54 Z M527.10,272.40 L527.58,273.54 L528.81,273.64 L527.87,274.45 L528.16,275.66 L527.10,275.01 L526.04,275.66 L526.33,274.45 L525.39,273.64 L526.62,273.54 Z M530.50,272.40 L530.98,273.54 L532.21,273.64 L531.27,274.45 L531.56,275.66 L530.50,275.01 L529.44,275.66 L529.73,274.45 L528.79,273.64 L530.02,273.54 Z" fill="#1a1a1a"/>
<path d="M525.50,284.80 L525.50,283.00 L542.50,283.00 L542.50,284.80" fill="none" stroke="#222" stroke-width="0.9"/>
<path d="M532.30,278.80 L532.78,279.94 L534.01,280.04 L533.07,280.85 L533.36,282.06 L532.30,281.41 L531.24,282.06 L531.53,280.85 L530.59,280.04 L531.82,279.94 Z M535.70,278.80 L536.18,279.94 L537.41,280.04 L536.47,280.85 L536.76,282.06 L535.70,281.41 L534.64,282.06 L534.93,280.85 L533.99,280.04 L535.22,279.94 Z" fill="#1a1a1a"/>
<path d="M508.30,298.80 L508.30,297.00 L525.50,297.00 L525.50,298.80" fill="none" stroke="#222" stroke-width="0.9"/>
<path d="M511.80,292.80 L512.28,293.94 L513.51,294.04 L512.57,294.85 L512.86,296.06 L511.80,295.41 L510.74,296.06 L511.03,294.85 L510.09,294.04 L511.32,293.94 Z M515.20,292.80 L515.68,293.94 L516.91,294.04 L515.97,294.85 L516.26,296.06 L515.20,295.41 L514.14,296.06 L514.43,294.85 L513.49,294.04 L514.72,293.94 Z M518.60,292.80 L519.08,293.94 L520.31,294.04 L519.37,294.85 L519.66,296.06 L518.60,295.41 L517.54,296.06 L517.83,294.85 L516.89,294.04 L518.12,293.94 Z M522.00,292.80 L522.48,293.94 L523.71,294.04 L522.77,294.85 L523.06,296.06 L522.00,295.41 L520.94,296.06 L521.23,294.85 L520.29,294.04 L521.52,293.94 Z" fill="#1a1a1a"/>
<text x="467.00" y="315.00" font-size="9.4" fill="#1a1a1a" text-anchor="middle" transform="rotate(-90 467.00 315.00)">Human IFN-γ (pg/ml)</text>
<line x1="602.30" y1="354.10" x2="602.30" y2="282.00" stroke="#222" stroke-width="1.0"/>
<line x1="599.30" y1="354.10" x2="602.30" y2="354.10" stroke="#222" stroke-width="1.0"/>
<text x="598.00" y="357.30" font-size="9.0" fill="#1a1a1a" text-anchor="end">0</text>
<line x1="599.30" y1="339.68" x2="602.30" y2="339.68" stroke="#222" stroke-width="1.0"/>
<text x="598.00" y="342.88" font-size="9.0" fill="#1a1a1a" text-anchor="end">200</text>
<line x1="599.30" y1="325.26" x2="602.30" y2="325.26" stroke="#222" stroke-width="1.0"/>
<text x="598.00" y="328.46" font-size="9.0" fill="#1a1a1a" text-anchor="end">400</text>
<line x1="599.30" y1="310.84" x2="602.30" y2="310.84" stroke="#222" stroke-width="1.0"/>
<text x="598.00" y="314.04" font-size="9.0" fill="#1a1a1a" text-anchor="end">600</text>
<line x1="599.30" y1="296.42" x2="602.30" y2="296.42" stroke="#222" stroke-width="1.0"/>
<text x="598.00" y="299.62" font-size="9.0" fill="#1a1a1a" text-anchor="end">800</text>
<line x1="599.30" y1="282.00" x2="602.30" y2="282.00" stroke="#222" stroke-width="1.0"/>
<text x="598.00" y="285.20" font-size="9.0" fill="#1a1a1a" text-anchor="end">1000</text>
<line x1="602.30" y1="354.10" x2="660.70" y2="354.10" stroke="#222" stroke-width="1.0"/>
<line x1="614.20" y1="354.10" x2="614.20" y2="356.60" stroke="#222" stroke-width="0.9"/>
<line x1="631.60" y1="354.10" x2="631.60" y2="356.60" stroke="#222" stroke-width="0.9"/>
<line x1="649.00" y1="354.10" x2="649.00" y2="356.60" stroke="#222" stroke-width="0.9"/>
<rect x="625.70" y="309.40" width="11.90" height="44.70" fill="#f5391a" stroke="#1a1a1a" stroke-width="0.9"/>
<rect x="643.00" y="299.30" width="11.90" height="54.80" fill="#f09a30" stroke="#1a1a1a" stroke-width="0.9"/>
<line x1="609.50" y1="354.10" x2="619.00" y2="354.10" stroke="#3c3cf5" stroke-width="1.6"/>
<rect x="609.00" y="352.90" width="2.40" height="2.40" fill="#3c3cf5" stroke="none" stroke-width="1.0"/>
<rect x="611.00" y="352.90" width="2.40" height="2.40" fill="#3c3cf5" stroke="none" stroke-width="1.0"/>
<rect x="613.00" y="352.90" width="2.40" height="2.40" fill="#3c3cf5" stroke="none" stroke-width="1.0"/>
<rect x="615.00" y="352.90" width="2.40" height="2.40" fill="#3c3cf5" stroke="none" stroke-width="1.0"/>
<rect x="617.00" y="352.90" width="2.40" height="2.40" fill="#3c3cf5" stroke="none" stroke-width="1.0"/>
<line x1="631.60" y1="305.00" x2="631.60" y2="314.00" stroke="#1a1a1a" stroke-width="0.9"/>
<line x1="629.00" y1="305.00" x2="634.20" y2="305.00" stroke="#1a1a1a" stroke-width="0.9"/>
<line x1="629.00" y1="314.00" x2="634.20" y2="314.00" stroke="#1a1a1a" stroke-width="0.9"/>
<circle cx="631.20" cy="299.70" r="1.55" fill="#111" stroke="none" stroke-width="1.0"/>
<circle cx="635.70" cy="305.70" r="1.55" fill="#111" stroke="none" stroke-width="1.0"/>
<circle cx="630.30" cy="308.80" r="1.55" fill="#111" stroke="none" stroke-width="1.0"/>
<circle cx="631.50" cy="318.00" r="1.55" fill="#111" stroke="none" stroke-width="1.0"/>
<circle cx="629.00" cy="313.00" r="1.55" fill="#111" stroke="none" stroke-width="1.0"/>
<line x1="649.00" y1="295.00" x2="649.00" y2="304.00" stroke="#1a1a1a" stroke-width="0.9"/>
<line x1="646.40" y1="295.00" x2="651.60" y2="295.00" stroke="#1a1a1a" stroke-width="0.9"/>
<line x1="646.40" y1="304.00" x2="651.60" y2="304.00" stroke="#1a1a1a" stroke-width="0.9"/>
<rect x="642.80" y="288.70" width="3.00" height="3.00" fill="#111" stroke="none" stroke-width="1.0"/>
<rect x="647.50" y="288.70" width="3.00" height="3.00" fill="#111" stroke="none" stroke-width="1.0"/>
<rect x="642.80" y="304.60" width="3.00" height="3.00" fill="#111" stroke="none" stroke-width="1.0"/>
<rect x="651.90" y="302.80" width="3.00" height="3.00" fill="#111" stroke="none" stroke-width="1.0"/>
<rect x="647.90" y="301.30" width="3.00" height="3.00" fill="#111" stroke="none" stroke-width="1.0"/>
<path d="M615.70,281.40 L615.70,279.60 L648.90,279.60 L648.90,281.40" fill="none" stroke="#222" stroke-width="0.9"/>
<path d="M627.20,275.10 L627.68,276.24 L628.91,276.34 L627.97,277.15 L628.26,278.36 L627.20,277.71 L626.14,278.36 L626.43,277.15 L625.49,276.34 L626.72,276.24 Z M630.60,275.10 L631.08,276.24 L632.31,276.34 L631.37,277.15 L631.66,278.36 L630.60,277.71 L629.54,278.36 L629.83,277.15 L628.89,276.34 L630.12,276.24 Z M634.00,275.10 L634.48,276.24 L635.71,276.34 L634.77,277.15 L635.06,278.36 L634.00,277.71 L632.94,278.36 L633.23,277.15 L632.29,276.34 L633.52,276.24 Z M637.40,275.10 L637.88,276.24 L639.11,276.34 L638.17,277.15 L638.46,278.36 L637.40,277.71 L636.34,278.36 L636.63,277.15 L635.69,276.34 L636.92,276.24 Z" fill="#1a1a1a"/>
<path d="M632.40,287.80 L632.40,286.00 L648.90,286.00 L648.90,287.80" fill="none" stroke="#222" stroke-width="0.9"/>
<path d="M640.60,281.50 L641.08,282.64 L642.31,282.74 L641.37,283.55 L641.66,284.76 L640.60,284.11 L639.54,284.76 L639.83,283.55 L638.89,282.74 L640.12,282.64 Z" fill="#1a1a1a"/>
<path d="M615.70,296.00 L615.70,294.20 L631.20,294.20 L631.20,296.00" fill="none" stroke="#222" stroke-width="0.9"/>
<path d="M618.40,289.70 L618.88,290.84 L620.11,290.94 L619.17,291.75 L619.46,292.96 L618.40,292.31 L617.34,292.96 L617.63,291.75 L616.69,290.94 L617.92,290.84 Z M621.80,289.70 L622.28,290.84 L623.51,290.94 L622.57,291.75 L622.86,292.96 L621.80,292.31 L620.74,292.96 L621.03,291.75 L620.09,290.94 L621.32,290.84 Z M625.20,289.70 L625.68,290.84 L626.91,290.94 L625.97,291.75 L626.26,292.96 L625.20,292.31 L624.14,292.96 L624.43,291.75 L623.49,290.94 L624.72,290.84 Z M628.60,289.70 L629.08,290.84 L630.31,290.94 L629.37,291.75 L629.66,292.96 L628.60,292.31 L627.54,292.96 L627.83,291.75 L626.89,290.94 L628.12,290.84 Z" fill="#1a1a1a"/>
<text x="574.30" y="317.00" font-size="9.4" fill="#1a1a1a" text-anchor="middle" transform="rotate(-90 574.30 317.00)">Human TNF-α (pg/ml)</text>
<rect x="451.80" y="371.30" width="7.60" height="7.20" fill="#3c3cf5" stroke="#111" stroke-width="0.8"/>
<text x="467.40" y="378.00" font-size="9.5" fill="#3c3cf5">Decitabine</text>
<rect x="520.60" y="371.30" width="7.30" height="7.20" fill="#f01e0a" stroke="#111" stroke-width="0.8"/>
<text x="532.60" y="378.00" font-size="9.5" fill="#f0281e"><tspan font-size="5.70" dy="-3.42">Allo</tspan><tspan dy="3.42">CAR70-NKT</tspan></text>
<rect x="605.00" y="371.30" width="7.00" height="7.40" fill="#e88a38" stroke="#111" stroke-width="0.8"/>
<text x="648.30" y="371.00" font-size="9.5" fill="#e8913c" text-anchor="middle"><tspan font-size="5.70" dy="-3.42">Allo</tspan><tspan dy="3.42">CAR70-NKT</tspan></text>
<text x="649.00" y="383.60" font-size="9.5" fill="#e8913c" text-anchor="middle">+ Decitabine</text>
<text x="2.50" y="401.20" font-size="15.3" fill="#000" font-weight="bold">F</text>
<line x1="49.30" y1="502.50" x2="49.30" y2="416.50" stroke="#222" stroke-width="1.0"/>
<line x1="46.30" y1="502.50" x2="49.30" y2="502.50" stroke="#222" stroke-width="1.0"/>
<text x="45.00" y="505.70" font-size="9.0" fill="#1a1a1a" text-anchor="end">0</text>
<line x1="46.30" y1="485.30" x2="49.30" y2="485.30" stroke="#222" stroke-width="1.0"/>
<text x="45.00" y="488.50" font-size="9.0" fill="#1a1a1a" text-anchor="end">10</text>
<line x1="46.30" y1="468.10" x2="49.30" y2="468.10" stroke="#222" stroke-width="1.0"/>
<text x="45.00" y="471.30" font-size="9.0" fill="#1a1a1a" text-anchor="end">20</text>
<line x1="46.30" y1="450.90" x2="49.30" y2="450.90" stroke="#222" stroke-width="1.0"/>
<text x="45.00" y="454.10" font-size="9.0" fill="#1a1a1a" text-anchor="end">30</text>
<line x1="46.30" y1="433.70" x2="49.30" y2="433.70" stroke="#222" stroke-width="1.0"/>
<text x="45.00" y="436.90" font-size="9.0" fill="#1a1a1a" text-anchor="end">40</text>
<line x1="46.30" y1="416.50" x2="49.30" y2="416.50" stroke="#222" stroke-width="1.0"/>
<text x="45.00" y="419.70" font-size="9.0" fill="#1a1a1a" text-anchor="end">50</text>
<line x1="49.30" y1="502.50" x2="112.10" y2="502.50" stroke="#222" stroke-width="1.0"/>
<line x1="59.20" y1="502.50" x2="59.20" y2="505.00" stroke="#222" stroke-width="0.9"/>
<line x1="73.60" y1="502.50" x2="73.60" y2="505.00" stroke="#222" stroke-width="0.9"/>
<line x1="88.50" y1="502.50" x2="88.50" y2="505.00" stroke="#222" stroke-width="0.9"/>
<line x1="103.00" y1="502.50" x2="103.00" y2="505.00" stroke="#222" stroke-width="0.9"/>
<circle cx="59.10" cy="436.40" r="1.60" fill="#111" stroke="none" stroke-width="1.0"/>
<circle cx="59.60" cy="445.20" r="1.60" fill="#111" stroke="none" stroke-width="1.0"/>
<circle cx="56.30" cy="453.00" r="1.60" fill="#111" stroke="none" stroke-width="1.0"/>
<circle cx="62.30" cy="455.30" r="1.60" fill="#111" stroke="none" stroke-width="1.0"/>
<circle cx="59.10" cy="462.90" r="1.60" fill="#111" stroke="none" stroke-width="1.0"/>
<line x1="54.50" y1="450.80" x2="63.70" y2="450.80" stroke="#111" stroke-width="1.0"/>
<line x1="59.20" y1="445.80" x2="59.20" y2="455.80" stroke="#111" stroke-width="0.9"/>
<line x1="56.90" y1="445.80" x2="61.50" y2="445.80" stroke="#111" stroke-width="0.9"/>
<line x1="56.90" y1="455.80" x2="61.50" y2="455.80" stroke="#111" stroke-width="0.9"/>
<rect x="72.10" y="455.70" width="3.00" height="3.00" fill="#3c3cf5" stroke="none" stroke-width="1.0"/>
<rect x="69.10" y="485.80" width="3.00" height="3.00" fill="#3c3cf5" stroke="none" stroke-width="1.0"/>
<rect x="72.40" y="478.80" width="3.00" height="3.00" fill="#3c3cf5" stroke="none" stroke-width="1.0"/>
<rect x="75.60" y="483.20" width="3.00" height="3.00" fill="#3c3cf5" stroke="none" stroke-width="1.0"/>
<rect x="71.30" y="477.50" width="3.00" height="3.00" fill="#3c3cf5" stroke="none" stroke-width="1.0"/>
<line x1="69.00" y1="477.30" x2="78.20" y2="477.30" stroke="#3c3cf5" stroke-width="1.0"/>
<line x1="73.60" y1="471.50" x2="73.60" y2="482.60" stroke="#3c3cf5" stroke-width="0.9"/>
<line x1="71.30" y1="471.50" x2="75.90" y2="471.50" stroke="#3c3cf5" stroke-width="0.9"/>
<line x1="71.30" y1="482.60" x2="75.90" y2="482.60" stroke="#3c3cf5" stroke-width="0.9"/>
<path d="M88.50,479.86 L90.10,482.74 L86.90,482.74 Z" fill="#f0281e" stroke="none" stroke-width="1.0"/>
<path d="M85.30,489.56 L86.90,492.44 L83.70,492.44 Z" fill="#f0281e" stroke="none" stroke-width="1.0"/>
<path d="M91.30,489.56 L92.90,492.44 L89.70,492.44 Z" fill="#f0281e" stroke="none" stroke-width="1.0"/>
<path d="M89.30,486.06 L90.90,488.94 L87.70,488.94 Z" fill="#f0281e" stroke="none" stroke-width="1.0"/>
<path d="M87.80,487.76 L89.40,490.64 L86.20,490.64 Z" fill="#f0281e" stroke="none" stroke-width="1.0"/>
<line x1="83.90" y1="487.00" x2="93.10" y2="487.00" stroke="#f0281e" stroke-width="1.0"/>
<line x1="88.50" y1="484.30" x2="88.50" y2="489.70" stroke="#f0281e" stroke-width="0.9"/>
<line x1="86.20" y1="484.30" x2="90.80" y2="484.30" stroke="#f0281e" stroke-width="0.9"/>
<line x1="86.20" y1="489.70" x2="90.80" y2="489.70" stroke="#f0281e" stroke-width="0.9"/>
<path d="M98.70,500.50 L101.70,500.50 L100.20,503.10 Z" fill="#e8913c" stroke="none" stroke-width="1.0"/>
<path d="M100.30,500.50 L103.30,500.50 L101.80,503.10 Z" fill="#e8913c" stroke="none" stroke-width="1.0"/>
<path d="M101.50,500.50 L104.50,500.50 L103.00,503.10 Z" fill="#e8913c" stroke="none" stroke-width="1.0"/>
<path d="M102.70,500.50 L105.70,500.50 L104.20,503.10 Z" fill="#e8913c" stroke="none" stroke-width="1.0"/>
<path d="M104.30,500.50 L107.30,500.50 L105.80,503.10 Z" fill="#e8913c" stroke="none" stroke-width="1.0"/>
<line x1="98.40" y1="501.90" x2="107.60" y2="501.90" stroke="#e8913c" stroke-width="1.2"/>
<path d="M59.40,418.90 L59.40,417.10 L102.50,417.10 L102.50,418.90" fill="none" stroke="#222" stroke-width="0.9"/>
<path d="M75.80,412.80 L76.28,413.94 L77.51,414.04 L76.57,414.85 L76.86,416.06 L75.80,415.41 L74.74,416.06 L75.03,414.85 L74.09,414.04 L75.32,413.94 Z M79.20,412.80 L79.68,413.94 L80.91,414.04 L79.97,414.85 L80.26,416.06 L79.20,415.41 L78.14,416.06 L78.43,414.85 L77.49,414.04 L78.72,413.94 Z M82.60,412.80 L83.08,413.94 L84.31,414.04 L83.37,414.85 L83.66,416.06 L82.60,415.41 L81.54,416.06 L81.83,414.85 L80.89,414.04 L82.12,413.94 Z M86.00,412.80 L86.48,413.94 L87.71,414.04 L86.77,414.85 L87.06,416.06 L86.00,415.41 L84.94,416.06 L85.23,414.85 L84.29,414.04 L85.52,413.94 Z" fill="#1a1a1a"/>
<path d="M59.40,424.80 L59.40,423.00 L87.50,423.00 L87.50,424.80" fill="none" stroke="#222" stroke-width="0.9"/>
<path d="M68.40,418.60 L68.88,419.74 L70.11,419.84 L69.17,420.65 L69.46,421.86 L68.40,421.21 L67.34,421.86 L67.63,420.65 L66.69,419.84 L67.92,419.74 Z M71.80,418.60 L72.28,419.74 L73.51,419.84 L72.57,420.65 L72.86,421.86 L71.80,421.21 L70.74,421.86 L71.03,420.65 L70.09,419.84 L71.32,419.74 Z M75.20,418.60 L75.68,419.74 L76.91,419.84 L75.97,420.65 L76.26,421.86 L75.20,421.21 L74.14,421.86 L74.43,420.65 L73.49,419.84 L74.72,419.74 Z M78.60,418.60 L79.08,419.74 L80.31,419.84 L79.37,420.65 L79.66,421.86 L78.60,421.21 L77.54,421.86 L77.83,420.65 L76.89,419.84 L78.12,419.74 Z" fill="#1a1a1a"/>
<path d="M59.40,430.20 L59.40,428.40 L74.20,428.40 L74.20,430.20" fill="none" stroke="#222" stroke-width="0.9"/>
<path d="M63.40,424.00 L63.88,425.14 L65.11,425.24 L64.17,426.05 L64.46,427.26 L63.40,426.61 L62.34,427.26 L62.63,426.05 L61.69,425.24 L62.92,425.14 Z M66.80,424.00 L67.28,425.14 L68.51,425.24 L67.57,426.05 L67.86,427.26 L66.80,426.61 L65.74,427.26 L66.03,426.05 L65.09,425.24 L66.32,425.14 Z M70.20,424.00 L70.68,425.14 L71.91,425.24 L70.97,426.05 L71.26,427.26 L70.20,426.61 L69.14,427.26 L69.43,426.05 L68.49,425.24 L69.72,425.14 Z" fill="#1a1a1a"/>
<path d="M73.50,440.60 L73.50,438.80 L101.50,438.80 L101.50,440.60" fill="none" stroke="#222" stroke-width="0.9"/>
<path d="M84.10,434.40 L84.58,435.54 L85.81,435.64 L84.87,436.45 L85.16,437.66 L84.10,437.01 L83.04,437.66 L83.33,436.45 L82.39,435.64 L83.62,435.54 Z M87.50,434.40 L87.98,435.54 L89.21,435.64 L88.27,436.45 L88.56,437.66 L87.50,437.01 L86.44,437.66 L86.73,436.45 L85.79,435.64 L87.02,435.54 Z M90.90,434.40 L91.38,435.54 L92.61,435.64 L91.67,436.45 L91.96,437.66 L90.90,437.01 L89.84,437.66 L90.13,436.45 L89.19,435.64 L90.42,435.54 Z" fill="#1a1a1a"/>
<path d="M73.50,448.60 L73.50,446.80 L88.00,446.80 L88.00,448.60" fill="none" stroke="#222" stroke-width="0.9"/>
<text x="80.80" y="445.60" font-size="9.3" fill="#1a1a1a" text-anchor="middle">ns</text>
<path d="M88.50,477.80 L88.50,476.00 L103.00,476.00 L103.00,477.80" fill="none" stroke="#222" stroke-width="0.9"/>
<text x="95.80" y="474.00" font-size="9.3" fill="#1a1a1a" text-anchor="middle">ns</text>
<text x="21.30" y="457.00" font-size="9.2" fill="#1a1a1a" text-anchor="middle" transform="rotate(-90 21.30 457.00)">% GFP<tspan font-size="6" dy="-3.3">+</tspan><tspan dy="3.3"> tumor cells of</tspan></text>
<text x="31.60" y="459.20" font-size="9.2" fill="#1a1a1a" text-anchor="middle" transform="rotate(-90 31.60 459.20)">total cells in bone marrow</text>
<text x="62.80" y="511.30" font-size="9.5" fill="#1a1a1a" text-anchor="end" transform="rotate(-45 62.80 511.30)">Vehicle</text>
<text x="77.90" y="511.30" font-size="9.5" fill="#3c3cf5" text-anchor="end" transform="rotate(-45 77.90 511.30)">Decitabine</text>
<text x="92.60" y="511.80" font-size="9.5" fill="#f0281e" text-anchor="end" transform="rotate(-45 92.60 511.80)"><tspan font-size="5.70" dy="-3.42">Allo</tspan><tspan dy="3.42">CAR70-NKT</tspan></text>
<text x="108.20" y="511.80" font-size="9.5" fill="#e8913c" text-anchor="end" transform="rotate(-45 108.20 511.80)"><tspan font-size="5.70" dy="-3.42">Allo</tspan><tspan dy="3.42">CAR70-NKT</tspan></text>
<text x="112.30" y="523.50" font-size="9.5" fill="#e8913c" text-anchor="end" transform="rotate(-45 112.30 523.50)">+ Decitabine</text>
<defs>
<radialGradient id="fcore" cx="0.5" cy="0.5" r="0.5"><stop offset="0" stop-color="#1e1e1e" stop-opacity="0.95"/><stop offset="0.45" stop-color="#3a3a3a" stop-opacity="0.75"/><stop offset="0.8" stop-color="#6a6a6a" stop-opacity="0.35"/><stop offset="1" stop-color="#888" stop-opacity="0"/></radialGradient>
<linearGradient id="fwedge" x1="0" y1="0" x2="0.3" y2="1"><stop offset="0" stop-color="#444"/><stop offset="0.35" stop-color="#6e6e6e"/><stop offset="0.7" stop-color="#acacac"/><stop offset="1" stop-color="#cbcbcb"/></linearGradient>
</defs>
<text x="122.80" y="401.80" font-size="15.3" fill="#000" font-weight="bold">G</text>
<text x="210.60" y="399.50" font-size="9.4" fill="#1a1a1a">Pre-gated on e506<tspan font-size="6" dy="-3.3">-</tspan><tspan dy="3.3"> live mononuclear cells</tspan></text>
<line x1="148.40" y1="405.30" x2="447.20" y2="405.30" stroke="#222" stroke-width="0.9"/>
<text x="177.80" y="417.30" font-size="9.5" fill="#1a1a1a" text-anchor="middle">Blood</text>
<text x="238.00" y="417.30" font-size="9.5" fill="#1a1a1a" text-anchor="middle">Spleen</text>
<text x="298.80" y="417.30" font-size="9.5" fill="#1a1a1a" text-anchor="middle">Liver</text>
<text x="358.60" y="417.30" font-size="9.5" fill="#1a1a1a" text-anchor="middle">Lung</text>
<text x="418.80" y="417.30" font-size="9.5" fill="#1a1a1a" text-anchor="middle">Bone marrow</text>
<clipPath id="fc148_421"><rect x="148.70" y="421.40" width="57.80" height="57.50"/></clipPath>
<rect x="148.70" y="421.40" width="57.80" height="57.50" fill="#fff" stroke="none" stroke-width="1.0"/>
<g clip-path="url(#fc148_421)">
<path d="M160.5 470.1h.55v.55h-.55zM172.7 468.6h.55v.55h-.55zM161.9 470.5h.55v.55h-.55zM153.5 469.3h.55v.55h-.55zM165.1 473.8h.55v.55h-.55zM151.1 466.0h.55v.55h-.55zM151.1 474.1h.55v.55h-.55zM166.7 461.7h.55v.55h-.55zM174.2 476.6h.55v.55h-.55zM165.7 471.0h.55v.55h-.55zM152.8 461.3h.55v.55h-.55zM162.4 462.0h.55v.55h-.55zM153.6 465.0h.55v.55h-.55zM149.5 468.5h.55v.55h-.55zM160.2 474.6h.55v.55h-.55zM162.2 471.4h.55v.55h-.55zM161.7 471.7h.55v.55h-.55zM160.6 465.6h.55v.55h-.55zM174.6 477.1h.55v.55h-.55zM170.6 472.5h.55v.55h-.55zM156.9 464.8h.55v.55h-.55zM156.2 462.2h.55v.55h-.55zM168.6 467.5h.55v.55h-.55zM170.7 467.3h.55v.55h-.55zM173.6 474.7h.55v.55h-.55zM148.7 464.5h.55v.55h-.55zM172.4 468.6h.55v.55h-.55zM174.2 467.5h.55v.55h-.55zM150.6 471.2h.55v.55h-.55zM168.9 465.4h.55v.55h-.55zM151.0 466.4h.55v.55h-.55zM173.8 473.3h.55v.55h-.55zM151.8 465.0h.55v.55h-.55zM151.3 462.0h.55v.55h-.55zM169.4 463.9h.55v.55h-.55zM163.2 468.3h.55v.55h-.55zM153.7 472.9h.55v.55h-.55zM152.1 471.4h.55v.55h-.55zM151.7 467.8h.55v.55h-.55zM154.2 465.4h.55v.55h-.55zM174.0 474.0h.55v.55h-.55zM156.6 475.3h.55v.55h-.55zM154.2 467.4h.55v.55h-.55zM170.9 471.4h.55v.55h-.55zM151.3 477.0h.55v.55h-.55zM154.2 465.2h.55v.55h-.55zM168.8 466.4h.55v.55h-.55zM156.4 462.3h.55v.55h-.55zM151.0 470.5h.55v.55h-.55zM155.0 470.8h.55v.55h-.55zM158.4 468.4h.55v.55h-.55zM173.6 468.9h.55v.55h-.55zM163.6 475.0h.55v.55h-.55zM153.5 463.6h.55v.55h-.55zM172.3 474.2h.55v.55h-.55zM155.2 464.1h.55v.55h-.55zM167.9 476.2h.55v.55h-.55zM153.8 476.4h.55v.55h-.55zM171.6 470.8h.55v.55h-.55zM159.7 462.7h.55v.55h-.55zM149.7 476.6h.55v.55h-.55zM154.9 472.4h.55v.55h-.55zM155.4 474.3h.55v.55h-.55zM164.2 465.8h.55v.55h-.55zM153.3 472.7h.55v.55h-.55zM150.5 464.8h.55v.55h-.55zM163.2 474.8h.55v.55h-.55zM164.7 465.6h.55v.55h-.55zM172.6 464.4h.55v.55h-.55zM149.1 465.4h.55v.55h-.55zM160.3 462.0h.55v.55h-.55zM153.3 467.0h.55v.55h-.55zM163.6 463.2h.55v.55h-.55zM158.1 475.4h.55v.55h-.55zM174.2 471.7h.55v.55h-.55zM166.7 470.5h.55v.55h-.55zM152.4 461.6h.55v.55h-.55zM149.2 475.7h.55v.55h-.55zM166.9 476.6h.55v.55h-.55zM149.3 471.3h.55v.55h-.55zM161.2 472.8h.55v.55h-.55zM157.0 477.2h.55v.55h-.55zM150.7 469.9h.55v.55h-.55zM167.9 475.6h.55v.55h-.55zM167.9 472.4h.55v.55h-.55zM169.3 475.8h.55v.55h-.55zM157.9 472.1h.55v.55h-.55zM172.1 475.1h.55v.55h-.55zM159.6 473.8h.55v.55h-.55zM171.2 470.3h.55v.55h-.55zM165.0 467.2h.55v.55h-.55zM163.9 470.9h.55v.55h-.55zM150.8 471.4h.55v.55h-.55zM174.5 475.2h.55v.55h-.55zM167.6 467.3h.55v.55h-.55zM167.8 470.4h.55v.55h-.55zM160.2 474.6h.55v.55h-.55zM150.9 473.2h.55v.55h-.55zM149.5 470.8h.55v.55h-.55zM161.2 464.8h.55v.55h-.55zM166.9 469.1h.55v.55h-.55zM164.7 475.9h.55v.55h-.55zM155.4 461.3h.55v.55h-.55zM156.5 472.0h.55v.55h-.55zM154.0 463.8h.55v.55h-.55zM172.3 471.7h.55v.55h-.55zM160.2 475.4h.55v.55h-.55zM157.2 471.8h.55v.55h-.55zM153.9 468.0h.55v.55h-.55zM169.7 475.8h.55v.55h-.55zM198.0 457.7h.5v.5h-.5zM191.1 455.6h.5v.5h-.5zM180.7 461.3h.5v.5h-.5zM197.0 472.4h.5v.5h-.5zM194.0 475.6h.5v.5h-.5zM184.0 450.9h.5v.5h-.5zM188.0 454.3h.5v.5h-.5zM182.5 458.6h.5v.5h-.5zM192.1 461.2h.5v.5h-.5zM184.9 472.1h.5v.5h-.5zM200.3 459.9h.5v.5h-.5zM179.3 446.5h.5v.5h-.5zM197.8 446.9h.5v.5h-.5zM194.0 463.6h.5v.5h-.5zM184.7 470.6h.5v.5h-.5zM178.0 449.8h.5v.5h-.5zM188.1 446.3h.5v.5h-.5zM196.8 453.1h.5v.5h-.5zM180.9 447.0h.5v.5h-.5zM192.1 459.7h.5v.5h-.5zM192.2 466.3h.5v.5h-.5zM196.3 475.9h.5v.5h-.5z" fill="#444" stroke="none" stroke-width="1.0"/>
<path d="M147.54,462.22 C154.48,461.07 161.42,465.67 163.73,471.42 C164.31,467.40 163.73,473.15 164.31,478.90" fill="none" stroke="#555" stroke-width="0.45"/>
<path d="M147.54,465.10 C154.48,463.95 158.53,468.55 162.28,474.30 C161.42,467.40 160.84,473.15 161.42,478.90" fill="none" stroke="#555" stroke-width="0.45"/>
<path d="M147.54,467.97 C154.48,466.82 155.64,471.42 160.84,477.17 C158.53,467.40 157.95,473.15 158.53,478.90" fill="none" stroke="#555" stroke-width="0.45"/>
<path d="M172.98,443.82 L185.96,441.15 L188.85,443.45 L178.18,448.42 Z" fill="#dedede" stroke="#444" stroke-width="0.5"/>
<path d="M147.54,450.72 C157.37,448.42 166.04,446.70 175.29,444.40 C178.76,445.55 179.33,451.88 178.18,458.77 C177.02,465.67 176.44,467.40 176.44,479.47 L161.42,479.47 C162.57,470.27 162.57,467.97 156.79,464.52 C153.32,462.80 150.43,462.80 147.54,463.38 Z" fill="url(#fwedge)" stroke="#2a2a2a" stroke-width="0.55"/>
<path d="M148.70,454.17 C157.37,451.88 166.04,449.57 174.13,448.42 C176.44,451.88 175.87,459.92 174.71,465.67 C173.55,467.40 174.13,473.15 174.13,478.90" fill="none" stroke="#333" stroke-width="0.5"/>
<path d="M148.70,458.77 C155.64,457.05 163.15,455.32 171.82,453.02 C173.55,457.62 172.98,465.67 170.66,470.27 C167.20,470.27 167.20,473.15 167.77,478.90" fill="none" stroke="#333" stroke-width="0.5"/>
<ellipse cx="170.66" cy="453.60" rx="8.67" ry="6.33" fill="url(#fcore)" opacity="0.80"/>
<ellipse cx="153.32" cy="454.17" rx="5.78" ry="4.60" fill="url(#fcore)" opacity="0.48"/>
<circle cx="172.16" cy="453.10" r="0.80" fill="#fff" stroke="none" stroke-width="1.0" opacity="0.85"/>
<rect x="148.70" y="450.72" width="1.80" height="28.18" fill="#1a1a1a" stroke="none" stroke-width="1.0"/>
<rect x="154.48" y="476.30" width="25.43" height="2.60" fill="#1a1a1a" stroke="none" stroke-width="1.0"/>
<ellipse cx="188.85" cy="435.40" rx="3.8" ry="7.6" fill="#e4e4e4" stroke="#555" stroke-width="0.5" transform="rotate(28 188.85 435.40)"/>
<ellipse cx="188.85" cy="435.40" rx="2.8" ry="5.8" fill="#b4b4b4" stroke="#444" stroke-width="0.5" transform="rotate(28 188.85 435.40)"/>
<ellipse cx="188.85" cy="435.40" rx="1.9" ry="4.0" fill="#777" stroke="#333" stroke-width="0.5" transform="rotate(28 188.85 435.40)"/>
<ellipse cx="188.85" cy="435.40" rx="0.9" ry="2.2" fill="#eee" stroke="#222" stroke-width="0.5" transform="rotate(28 188.85 435.40)"/>
</g>
<rect x="178.30" y="427.00" width="19.50" height="21.00" fill="none" stroke="#7b7bea" stroke-width="0.8"/>
<rect x="148.70" y="421.40" width="57.80" height="57.50" fill="none" stroke="#2a2a2a" stroke-width="1.2"/>
<text x="152.00" y="432.40" font-size="9.5" fill="#f0281e">6.47</text>
<clipPath id="fc209_421"><rect x="209.00" y="421.40" width="57.80" height="57.50"/></clipPath>
<rect x="209.00" y="421.40" width="57.80" height="57.50" fill="#fff" stroke="none" stroke-width="1.0"/>
<g clip-path="url(#fc209_421)">
<path d="M226.8 464.3h.55v.55h-.55zM221.4 464.0h.55v.55h-.55zM209.3 468.7h.55v.55h-.55zM227.6 464.0h.55v.55h-.55zM216.1 466.6h.55v.55h-.55zM227.1 469.5h.55v.55h-.55zM225.0 473.2h.55v.55h-.55zM219.2 473.8h.55v.55h-.55zM232.6 462.5h.55v.55h-.55zM233.3 472.7h.55v.55h-.55zM212.4 468.4h.55v.55h-.55zM225.3 475.7h.55v.55h-.55zM218.8 470.2h.55v.55h-.55zM231.9 473.9h.55v.55h-.55zM233.6 468.5h.55v.55h-.55zM225.9 464.4h.55v.55h-.55zM227.8 474.3h.55v.55h-.55zM225.7 472.6h.55v.55h-.55zM214.5 475.6h.55v.55h-.55zM234.5 476.8h.55v.55h-.55zM223.0 473.8h.55v.55h-.55zM217.3 475.7h.55v.55h-.55zM231.3 466.7h.55v.55h-.55zM211.2 468.2h.55v.55h-.55zM223.3 473.4h.55v.55h-.55zM221.7 461.5h.55v.55h-.55zM230.0 462.1h.55v.55h-.55zM229.8 463.9h.55v.55h-.55zM217.7 473.8h.55v.55h-.55zM212.7 463.5h.55v.55h-.55zM222.4 472.7h.55v.55h-.55zM230.8 472.2h.55v.55h-.55zM233.6 469.0h.55v.55h-.55zM233.7 462.5h.55v.55h-.55zM214.8 469.6h.55v.55h-.55zM216.5 472.8h.55v.55h-.55zM225.6 469.5h.55v.55h-.55zM230.9 470.1h.55v.55h-.55zM217.1 467.2h.55v.55h-.55zM231.0 475.6h.55v.55h-.55zM214.4 474.8h.55v.55h-.55zM234.2 469.5h.55v.55h-.55zM223.9 464.3h.55v.55h-.55zM222.9 469.2h.55v.55h-.55zM224.7 461.5h.55v.55h-.55zM234.2 469.4h.55v.55h-.55zM219.4 474.0h.55v.55h-.55zM223.6 469.0h.55v.55h-.55zM227.0 462.1h.55v.55h-.55zM223.0 467.7h.55v.55h-.55zM233.9 475.9h.55v.55h-.55zM216.0 468.7h.55v.55h-.55zM212.3 468.1h.55v.55h-.55zM230.2 475.6h.55v.55h-.55zM221.4 466.2h.55v.55h-.55zM214.0 471.0h.55v.55h-.55zM233.1 463.2h.55v.55h-.55zM229.3 461.4h.55v.55h-.55zM214.0 464.7h.55v.55h-.55zM226.9 466.3h.55v.55h-.55zM218.2 471.1h.55v.55h-.55zM211.7 472.8h.55v.55h-.55zM212.2 469.3h.55v.55h-.55zM215.5 464.3h.55v.55h-.55zM222.8 468.1h.55v.55h-.55zM218.8 467.7h.55v.55h-.55zM222.8 463.6h.55v.55h-.55zM214.3 471.2h.55v.55h-.55zM225.6 469.6h.55v.55h-.55zM231.1 470.9h.55v.55h-.55zM231.3 464.8h.55v.55h-.55zM228.3 474.1h.55v.55h-.55zM232.5 466.2h.55v.55h-.55zM217.2 475.9h.55v.55h-.55zM214.7 477.1h.55v.55h-.55zM232.1 463.2h.55v.55h-.55zM215.2 472.8h.55v.55h-.55zM215.7 462.6h.55v.55h-.55zM230.6 467.9h.55v.55h-.55zM229.5 463.1h.55v.55h-.55zM219.5 472.1h.55v.55h-.55zM209.5 464.3h.55v.55h-.55zM226.7 475.7h.55v.55h-.55zM234.2 462.9h.55v.55h-.55zM222.2 473.3h.55v.55h-.55zM222.1 472.1h.55v.55h-.55zM213.9 462.2h.55v.55h-.55zM211.8 461.7h.55v.55h-.55zM223.3 469.4h.55v.55h-.55zM223.8 463.4h.55v.55h-.55zM213.8 464.4h.55v.55h-.55zM230.9 477.0h.55v.55h-.55zM233.1 462.6h.55v.55h-.55zM210.6 476.4h.55v.55h-.55zM221.0 473.4h.55v.55h-.55zM217.5 468.6h.55v.55h-.55zM222.4 468.0h.55v.55h-.55zM224.6 461.3h.55v.55h-.55zM227.2 474.7h.55v.55h-.55zM213.7 468.4h.55v.55h-.55zM228.2 467.6h.55v.55h-.55zM214.1 463.7h.55v.55h-.55zM222.3 461.3h.55v.55h-.55zM232.2 474.0h.55v.55h-.55zM227.3 474.9h.55v.55h-.55zM225.4 467.6h.55v.55h-.55zM224.6 469.2h.55v.55h-.55zM234.6 474.0h.55v.55h-.55zM215.7 475.7h.55v.55h-.55zM228.4 473.6h.55v.55h-.55zM256.5 458.4h.5v.5h-.5zM258.5 473.4h.5v.5h-.5zM253.6 469.8h.5v.5h-.5zM255.3 458.4h.5v.5h-.5zM254.3 447.8h.5v.5h-.5zM245.0 460.4h.5v.5h-.5zM237.0 456.8h.5v.5h-.5zM252.2 465.3h.5v.5h-.5zM242.4 475.4h.5v.5h-.5zM252.9 456.2h.5v.5h-.5zM252.8 463.6h.5v.5h-.5zM249.7 457.9h.5v.5h-.5zM261.0 465.9h.5v.5h-.5zM253.8 469.6h.5v.5h-.5zM260.5 446.3h.5v.5h-.5zM251.7 468.9h.5v.5h-.5zM243.0 458.2h.5v.5h-.5zM238.0 451.7h.5v.5h-.5zM245.9 448.7h.5v.5h-.5zM242.8 474.2h.5v.5h-.5zM250.1 461.6h.5v.5h-.5zM260.2 463.5h.5v.5h-.5z" fill="#444" stroke="none" stroke-width="1.0"/>
<path d="M207.84,462.22 C214.78,461.07 221.72,465.67 224.03,471.42 C224.61,467.40 224.03,473.15 224.61,478.90" fill="none" stroke="#555" stroke-width="0.45"/>
<path d="M207.84,465.10 C214.78,463.95 218.83,468.55 222.58,474.30 C221.72,467.40 221.14,473.15 221.72,478.90" fill="none" stroke="#555" stroke-width="0.45"/>
<path d="M207.84,467.97 C214.78,466.82 215.94,471.42 221.14,477.17 C218.83,467.40 218.25,473.15 218.83,478.90" fill="none" stroke="#555" stroke-width="0.45"/>
<path d="M232.12,443.82 L246.41,443.46 L249.30,445.76 L237.32,448.42 Z" fill="#dedede" stroke="#444" stroke-width="0.5"/>
<path d="M207.84,450.72 C217.67,448.42 226.34,446.70 234.43,444.40 C237.90,445.55 238.48,451.88 237.32,458.77 C236.17,465.67 235.59,467.40 235.59,479.47 L221.72,479.47 C222.87,470.27 222.87,467.97 217.09,464.52 C213.62,462.80 210.73,462.80 207.84,463.38 Z" fill="url(#fwedge)" stroke="#2a2a2a" stroke-width="0.55"/>
<path d="M209.00,454.17 C217.67,451.88 226.34,449.57 233.28,448.42 C235.59,451.88 235.01,459.92 233.85,465.67 C232.70,467.40 233.28,473.15 233.28,478.90" fill="none" stroke="#333" stroke-width="0.5"/>
<path d="M209.00,458.77 C215.94,457.05 223.45,455.32 230.96,453.02 C232.70,457.62 232.12,465.67 229.81,470.27 C227.50,470.27 227.50,473.15 228.07,478.90" fill="none" stroke="#333" stroke-width="0.5"/>
<ellipse cx="230.96" cy="453.60" rx="8.67" ry="6.33" fill="url(#fcore)" opacity="0.75"/>
<ellipse cx="213.62" cy="454.17" rx="5.78" ry="4.60" fill="url(#fcore)" opacity="0.45"/>
<circle cx="232.46" cy="453.10" r="0.80" fill="#fff" stroke="none" stroke-width="1.0" opacity="0.85"/>
<rect x="209.00" y="450.72" width="1.80" height="28.18" fill="#1a1a1a" stroke="none" stroke-width="1.0"/>
<rect x="214.78" y="476.30" width="24.28" height="2.60" fill="#1a1a1a" stroke="none" stroke-width="1.0"/>
<ellipse cx="249.30" cy="437.71" rx="3.8" ry="7.6" fill="#e4e4e4" stroke="#555" stroke-width="0.5" transform="rotate(28 249.30 437.71)"/>
<ellipse cx="249.30" cy="437.71" rx="2.8" ry="5.8" fill="#b4b4b4" stroke="#444" stroke-width="0.5" transform="rotate(28 249.30 437.71)"/>
<ellipse cx="249.30" cy="437.71" rx="1.9" ry="4.0" fill="#777" stroke="#333" stroke-width="0.5" transform="rotate(28 249.30 437.71)"/>
<ellipse cx="249.30" cy="437.71" rx="0.9" ry="2.2" fill="#eee" stroke="#222" stroke-width="0.5" transform="rotate(28 249.30 437.71)"/>
</g>
<rect x="241.20" y="428.10" width="14.60" height="25.30" fill="none" stroke="#7b7bea" stroke-width="0.8"/>
<rect x="209.00" y="421.40" width="57.80" height="57.50" fill="none" stroke="#2a2a2a" stroke-width="1.2"/>
<text x="212.30" y="432.40" font-size="9.5" fill="#f0281e">5.81</text>
<clipPath id="fc269_421"><rect x="269.80" y="421.40" width="57.80" height="57.50"/></clipPath>
<rect x="269.80" y="421.40" width="57.80" height="57.50" fill="#fff" stroke="none" stroke-width="1.0"/>
<g clip-path="url(#fc269_421)">
<path d="M295.7 472.0h.55v.55h-.55zM290.9 463.9h.55v.55h-.55zM285.3 473.7h.55v.55h-.55zM271.0 476.2h.55v.55h-.55zM274.0 469.6h.55v.55h-.55zM274.2 469.9h.55v.55h-.55zM285.7 463.6h.55v.55h-.55zM294.4 468.8h.55v.55h-.55zM283.5 471.4h.55v.55h-.55zM279.3 466.9h.55v.55h-.55zM286.8 470.9h.55v.55h-.55zM277.2 473.1h.55v.55h-.55zM277.5 463.0h.55v.55h-.55zM276.2 463.4h.55v.55h-.55zM273.9 473.6h.55v.55h-.55zM279.9 475.7h.55v.55h-.55zM289.3 463.5h.55v.55h-.55zM295.5 476.4h.55v.55h-.55zM271.7 475.8h.55v.55h-.55zM281.0 469.7h.55v.55h-.55zM295.1 466.3h.55v.55h-.55zM283.4 476.3h.55v.55h-.55zM288.6 469.5h.55v.55h-.55zM295.3 474.5h.55v.55h-.55zM285.5 464.5h.55v.55h-.55zM286.0 469.4h.55v.55h-.55zM275.1 463.5h.55v.55h-.55zM283.5 464.6h.55v.55h-.55zM281.3 472.4h.55v.55h-.55zM281.6 466.6h.55v.55h-.55zM284.9 468.8h.55v.55h-.55zM290.0 470.4h.55v.55h-.55zM295.7 476.5h.55v.55h-.55zM288.9 466.2h.55v.55h-.55zM272.8 475.6h.55v.55h-.55zM290.2 471.8h.55v.55h-.55zM279.1 466.7h.55v.55h-.55zM287.6 470.9h.55v.55h-.55zM285.2 471.9h.55v.55h-.55zM289.4 465.5h.55v.55h-.55zM276.3 476.9h.55v.55h-.55zM293.6 475.4h.55v.55h-.55zM270.8 463.7h.55v.55h-.55zM276.8 468.9h.55v.55h-.55zM286.0 464.3h.55v.55h-.55zM283.9 463.8h.55v.55h-.55zM272.0 472.5h.55v.55h-.55zM284.1 471.9h.55v.55h-.55zM279.5 469.7h.55v.55h-.55zM275.3 467.7h.55v.55h-.55zM289.2 474.9h.55v.55h-.55zM271.7 464.5h.55v.55h-.55zM290.8 471.8h.55v.55h-.55zM289.8 465.9h.55v.55h-.55zM280.8 466.5h.55v.55h-.55zM290.9 468.1h.55v.55h-.55zM286.8 477.0h.55v.55h-.55zM278.3 470.7h.55v.55h-.55zM289.2 476.0h.55v.55h-.55zM280.9 468.1h.55v.55h-.55zM272.3 475.4h.55v.55h-.55zM271.8 464.0h.55v.55h-.55zM284.5 469.8h.55v.55h-.55zM287.6 467.1h.55v.55h-.55zM290.0 463.9h.55v.55h-.55zM275.3 472.3h.55v.55h-.55zM271.9 467.2h.55v.55h-.55zM288.7 472.8h.55v.55h-.55zM277.2 464.9h.55v.55h-.55zM279.1 473.2h.55v.55h-.55zM279.3 464.5h.55v.55h-.55zM288.2 471.0h.55v.55h-.55zM293.7 476.3h.55v.55h-.55zM293.6 469.1h.55v.55h-.55zM290.7 467.2h.55v.55h-.55zM278.1 468.5h.55v.55h-.55zM294.1 475.7h.55v.55h-.55zM276.3 468.0h.55v.55h-.55zM279.3 468.0h.55v.55h-.55zM280.1 468.4h.55v.55h-.55zM274.9 470.9h.55v.55h-.55zM290.5 470.6h.55v.55h-.55zM291.6 470.9h.55v.55h-.55zM274.4 473.7h.55v.55h-.55zM292.7 466.8h.55v.55h-.55zM270.4 470.2h.55v.55h-.55zM284.0 471.0h.55v.55h-.55zM294.9 472.2h.55v.55h-.55zM290.7 463.7h.55v.55h-.55zM284.0 474.1h.55v.55h-.55zM272.0 464.0h.55v.55h-.55zM289.0 475.7h.55v.55h-.55zM272.0 471.9h.55v.55h-.55zM273.5 473.5h.55v.55h-.55zM286.7 466.3h.55v.55h-.55zM275.5 473.8h.55v.55h-.55zM283.4 473.8h.55v.55h-.55zM280.1 467.7h.55v.55h-.55zM295.0 472.5h.55v.55h-.55zM282.6 470.5h.55v.55h-.55zM288.6 473.0h.55v.55h-.55zM293.6 468.7h.55v.55h-.55zM291.3 472.4h.55v.55h-.55zM292.0 474.4h.55v.55h-.55zM291.5 475.6h.55v.55h-.55zM294.7 472.0h.55v.55h-.55zM283.4 473.0h.55v.55h-.55zM290.7 468.9h.55v.55h-.55zM280.7 464.9h.55v.55h-.55zM289.1 477.0h.55v.55h-.55zM307.4 452.3h.5v.5h-.5zM303.4 460.0h.5v.5h-.5zM305.5 476.3h.5v.5h-.5zM300.1 456.5h.5v.5h-.5zM301.4 466.6h.5v.5h-.5zM316.6 452.6h.5v.5h-.5zM300.1 461.0h.5v.5h-.5zM312.2 474.5h.5v.5h-.5zM299.5 450.5h.5v.5h-.5zM303.0 453.8h.5v.5h-.5zM304.1 468.7h.5v.5h-.5zM312.5 454.0h.5v.5h-.5zM303.0 455.7h.5v.5h-.5zM302.7 469.9h.5v.5h-.5zM305.9 463.7h.5v.5h-.5zM317.6 461.6h.5v.5h-.5zM304.7 473.8h.5v.5h-.5zM319.8 457.5h.5v.5h-.5zM311.4 475.9h.5v.5h-.5zM309.9 453.9h.5v.5h-.5zM299.8 475.6h.5v.5h-.5zM317.2 458.8h.5v.5h-.5z" fill="#444" stroke="none" stroke-width="1.0"/>
<path d="M268.64,463.95 C275.58,462.80 282.52,467.40 284.83,473.15 C285.41,467.40 284.83,473.15 285.41,478.90" fill="none" stroke="#555" stroke-width="0.45"/>
<path d="M268.64,466.82 C275.58,465.67 279.63,470.27 283.38,476.02 C282.52,467.40 281.94,473.15 282.52,478.90" fill="none" stroke="#555" stroke-width="0.45"/>
<path d="M268.64,469.70 C275.58,468.55 276.74,473.15 281.94,478.90 C279.63,467.40 279.05,473.15 279.63,478.90" fill="none" stroke="#555" stroke-width="0.45"/>
<path d="M294.08,445.55 L307.46,442.03 L310.35,444.33 L299.28,450.15 Z" fill="#dedede" stroke="#444" stroke-width="0.5"/>
<path d="M268.64,452.45 C278.47,450.15 287.14,448.42 296.39,446.12 C299.86,447.27 300.43,453.60 299.28,460.50 C298.12,467.40 297.54,467.40 297.54,479.47 L282.52,479.47 C283.67,470.27 283.67,469.70 277.89,466.25 C274.42,464.52 271.53,464.52 268.64,465.10 Z" fill="url(#fwedge)" stroke="#2a2a2a" stroke-width="0.55"/>
<path d="M269.80,455.90 C278.47,453.60 287.14,451.30 295.23,450.15 C297.54,453.60 296.97,461.65 295.81,467.40 C294.65,467.40 295.23,473.15 295.23,478.90" fill="none" stroke="#333" stroke-width="0.5"/>
<path d="M269.80,460.50 C276.74,458.77 284.25,457.05 292.92,454.75 C294.65,459.35 294.08,467.40 291.76,472.00 C288.30,470.27 288.30,473.15 288.87,478.90" fill="none" stroke="#333" stroke-width="0.5"/>
<ellipse cx="291.76" cy="455.32" rx="8.67" ry="6.33" fill="url(#fcore)" opacity="0.85"/>
<ellipse cx="274.42" cy="455.90" rx="5.78" ry="4.60" fill="url(#fcore)" opacity="0.51"/>
<circle cx="293.26" cy="454.82" r="0.80" fill="#fff" stroke="none" stroke-width="1.0" opacity="0.85"/>
<rect x="269.80" y="452.45" width="1.80" height="26.45" fill="#1a1a1a" stroke="none" stroke-width="1.0"/>
<rect x="275.58" y="476.30" width="25.43" height="2.60" fill="#1a1a1a" stroke="none" stroke-width="1.0"/>
<ellipse cx="310.35" cy="436.28" rx="3.8" ry="7.6" fill="#e4e4e4" stroke="#555" stroke-width="0.5" transform="rotate(28 310.35 436.28)"/>
<ellipse cx="310.35" cy="436.28" rx="2.8" ry="5.8" fill="#b4b4b4" stroke="#444" stroke-width="0.5" transform="rotate(28 310.35 436.28)"/>
<ellipse cx="310.35" cy="436.28" rx="1.9" ry="4.0" fill="#777" stroke="#333" stroke-width="0.5" transform="rotate(28 310.35 436.28)"/>
<ellipse cx="310.35" cy="436.28" rx="0.9" ry="2.2" fill="#eee" stroke="#222" stroke-width="0.5" transform="rotate(28 310.35 436.28)"/>
</g>
<rect x="302.50" y="428.60" width="14.10" height="25.60" fill="none" stroke="#7b7bea" stroke-width="0.8"/>
<rect x="269.80" y="421.40" width="57.80" height="57.50" fill="none" stroke="#2a2a2a" stroke-width="1.2"/>
<text x="273.10" y="432.40" font-size="9.5" fill="#f0281e">6.35</text>
<clipPath id="fc329_421"><rect x="329.80" y="421.40" width="57.80" height="57.50"/></clipPath>
<rect x="329.80" y="421.40" width="57.80" height="57.50" fill="#fff" stroke="none" stroke-width="1.0"/>
<g clip-path="url(#fc329_421)">
<path d="M343.5 470.2h.55v.55h-.55zM336.9 477.0h.55v.55h-.55zM346.9 466.2h.55v.55h-.55zM330.1 469.6h.55v.55h-.55zM339.5 474.3h.55v.55h-.55zM348.4 471.5h.55v.55h-.55zM333.9 465.1h.55v.55h-.55zM338.2 466.5h.55v.55h-.55zM352.4 470.2h.55v.55h-.55zM346.4 477.1h.55v.55h-.55zM336.7 470.5h.55v.55h-.55zM333.7 473.9h.55v.55h-.55zM329.8 474.6h.55v.55h-.55zM351.8 474.6h.55v.55h-.55zM331.9 466.7h.55v.55h-.55zM348.4 464.2h.55v.55h-.55zM342.3 469.5h.55v.55h-.55zM354.7 471.2h.55v.55h-.55zM352.1 467.2h.55v.55h-.55zM350.3 468.8h.55v.55h-.55zM353.6 464.1h.55v.55h-.55zM351.3 465.8h.55v.55h-.55zM343.9 470.4h.55v.55h-.55zM333.9 474.8h.55v.55h-.55zM337.9 467.3h.55v.55h-.55zM331.8 467.2h.55v.55h-.55zM342.0 473.1h.55v.55h-.55zM339.2 472.7h.55v.55h-.55zM332.6 468.5h.55v.55h-.55zM341.8 476.7h.55v.55h-.55zM351.4 472.2h.55v.55h-.55zM330.1 468.2h.55v.55h-.55zM348.3 466.2h.55v.55h-.55zM344.5 469.4h.55v.55h-.55zM330.1 477.1h.55v.55h-.55zM350.6 465.8h.55v.55h-.55zM345.8 467.0h.55v.55h-.55zM339.6 470.6h.55v.55h-.55zM337.6 467.6h.55v.55h-.55zM340.0 472.4h.55v.55h-.55zM336.5 465.7h.55v.55h-.55zM348.8 467.5h.55v.55h-.55zM354.4 470.9h.55v.55h-.55zM348.6 467.6h.55v.55h-.55zM351.3 464.1h.55v.55h-.55zM333.5 464.2h.55v.55h-.55zM347.4 473.0h.55v.55h-.55zM334.5 468.6h.55v.55h-.55zM351.6 471.3h.55v.55h-.55zM332.1 466.1h.55v.55h-.55zM333.9 464.6h.55v.55h-.55zM340.4 463.8h.55v.55h-.55zM353.7 468.9h.55v.55h-.55zM343.1 472.1h.55v.55h-.55zM349.7 474.6h.55v.55h-.55zM339.8 467.6h.55v.55h-.55zM340.5 463.0h.55v.55h-.55zM340.2 472.9h.55v.55h-.55zM355.3 474.2h.55v.55h-.55zM347.0 471.5h.55v.55h-.55zM330.3 467.6h.55v.55h-.55zM338.7 472.2h.55v.55h-.55zM332.6 468.2h.55v.55h-.55zM343.0 474.1h.55v.55h-.55zM351.3 471.6h.55v.55h-.55zM333.9 473.8h.55v.55h-.55zM353.3 470.7h.55v.55h-.55zM339.0 470.0h.55v.55h-.55zM333.5 473.1h.55v.55h-.55zM355.5 470.2h.55v.55h-.55zM348.4 474.8h.55v.55h-.55zM334.9 476.4h.55v.55h-.55zM346.1 465.6h.55v.55h-.55zM332.0 466.3h.55v.55h-.55zM344.8 472.8h.55v.55h-.55zM338.4 476.2h.55v.55h-.55zM339.2 469.5h.55v.55h-.55zM333.0 476.8h.55v.55h-.55zM333.3 475.8h.55v.55h-.55zM343.9 470.9h.55v.55h-.55zM344.4 466.6h.55v.55h-.55zM353.5 477.1h.55v.55h-.55zM351.1 471.4h.55v.55h-.55zM333.0 474.7h.55v.55h-.55zM337.3 475.7h.55v.55h-.55zM336.1 471.0h.55v.55h-.55zM351.4 465.5h.55v.55h-.55zM344.0 463.9h.55v.55h-.55zM330.6 465.4h.55v.55h-.55zM355.5 476.3h.55v.55h-.55zM346.9 467.2h.55v.55h-.55zM347.3 473.4h.55v.55h-.55zM339.7 471.3h.55v.55h-.55zM350.7 463.0h.55v.55h-.55zM335.0 469.5h.55v.55h-.55zM333.5 468.4h.55v.55h-.55zM344.6 465.3h.55v.55h-.55zM343.3 466.6h.55v.55h-.55zM344.6 467.6h.55v.55h-.55zM346.5 463.3h.55v.55h-.55zM347.3 464.9h.55v.55h-.55zM354.8 471.4h.55v.55h-.55zM342.0 468.7h.55v.55h-.55zM346.0 472.7h.55v.55h-.55zM349.5 473.6h.55v.55h-.55zM342.4 477.1h.55v.55h-.55zM351.6 475.1h.55v.55h-.55zM340.4 469.0h.55v.55h-.55zM344.5 475.8h.55v.55h-.55zM343.5 470.3h.55v.55h-.55zM369.3 474.3h.5v.5h-.5zM366.9 448.9h.5v.5h-.5zM375.8 474.2h.5v.5h-.5zM375.9 465.1h.5v.5h-.5zM376.4 456.4h.5v.5h-.5zM372.9 449.4h.5v.5h-.5zM362.6 460.6h.5v.5h-.5zM370.9 459.1h.5v.5h-.5zM361.0 468.1h.5v.5h-.5zM371.4 454.4h.5v.5h-.5zM366.6 459.1h.5v.5h-.5zM365.0 449.3h.5v.5h-.5zM379.9 476.2h.5v.5h-.5zM374.5 473.2h.5v.5h-.5zM369.1 471.4h.5v.5h-.5zM364.7 469.6h.5v.5h-.5zM372.3 474.3h.5v.5h-.5zM362.0 471.0h.5v.5h-.5zM362.6 463.3h.5v.5h-.5zM380.7 447.3h.5v.5h-.5zM365.2 456.2h.5v.5h-.5zM367.0 449.1h.5v.5h-.5z" fill="#444" stroke="none" stroke-width="1.0"/>
<path d="M328.64,463.95 C335.58,462.80 342.52,467.40 344.83,473.15 C345.41,467.40 344.83,473.15 345.41,478.90" fill="none" stroke="#555" stroke-width="0.45"/>
<path d="M328.64,466.82 C335.58,465.67 339.63,470.27 343.38,476.02 C342.52,467.40 341.94,473.15 342.52,478.90" fill="none" stroke="#555" stroke-width="0.45"/>
<path d="M328.64,469.70 C335.58,468.55 336.74,473.15 341.94,478.90 C339.63,467.40 339.05,473.15 339.63,478.90" fill="none" stroke="#555" stroke-width="0.45"/>
<path d="M355.23,445.55 L367.11,442.54 L370.00,444.84 L360.43,450.15 Z" fill="#dedede" stroke="#444" stroke-width="0.5"/>
<path d="M328.64,452.45 C338.47,450.15 347.14,448.42 357.54,446.12 C361.01,447.27 361.59,453.60 360.43,460.50 C359.28,467.40 358.70,467.40 358.70,479.47 L342.52,479.47 C343.67,470.27 343.67,469.70 337.89,466.25 C334.42,464.52 331.53,464.52 328.64,465.10 Z" fill="url(#fwedge)" stroke="#2a2a2a" stroke-width="0.55"/>
<path d="M329.80,455.90 C338.47,453.60 347.14,451.30 356.39,450.15 C358.70,453.60 358.12,461.65 356.97,467.40 C355.81,467.40 356.39,473.15 356.39,478.90" fill="none" stroke="#333" stroke-width="0.5"/>
<path d="M329.80,460.50 C336.74,458.77 344.25,457.05 354.08,454.75 C355.81,459.35 355.23,467.40 352.92,472.00 C348.30,470.27 348.30,473.15 348.87,478.90" fill="none" stroke="#333" stroke-width="0.5"/>
<ellipse cx="351.76" cy="455.32" rx="8.67" ry="6.33" fill="url(#fcore)" opacity="0.85"/>
<ellipse cx="334.42" cy="455.90" rx="5.78" ry="4.60" fill="url(#fcore)" opacity="0.51"/>
<circle cx="353.26" cy="454.82" r="0.80" fill="#fff" stroke="none" stroke-width="1.0" opacity="0.85"/>
<rect x="329.80" y="452.45" width="1.80" height="26.45" fill="#1a1a1a" stroke="none" stroke-width="1.0"/>
<rect x="335.58" y="476.30" width="26.59" height="2.60" fill="#1a1a1a" stroke="none" stroke-width="1.0"/>
<ellipse cx="370.00" cy="436.79" rx="3.8" ry="7.6" fill="#e4e4e4" stroke="#555" stroke-width="0.5" transform="rotate(28 370.00 436.79)"/>
<ellipse cx="370.00" cy="436.79" rx="2.8" ry="5.8" fill="#b4b4b4" stroke="#444" stroke-width="0.5" transform="rotate(28 370.00 436.79)"/>
<ellipse cx="370.00" cy="436.79" rx="1.9" ry="4.0" fill="#777" stroke="#333" stroke-width="0.5" transform="rotate(28 370.00 436.79)"/>
<ellipse cx="370.00" cy="436.79" rx="0.9" ry="2.2" fill="#eee" stroke="#222" stroke-width="0.5" transform="rotate(28 370.00 436.79)"/>
</g>
<rect x="362.00" y="428.60" width="14.40" height="25.60" fill="none" stroke="#7b7bea" stroke-width="0.8"/>
<rect x="329.80" y="421.40" width="57.80" height="57.50" fill="none" stroke="#2a2a2a" stroke-width="1.2"/>
<text x="333.10" y="432.40" font-size="9.5" fill="#f0281e">12.0</text>
<clipPath id="fc389_421"><rect x="389.90" y="421.40" width="57.80" height="57.50"/></clipPath>
<rect x="389.90" y="421.40" width="57.80" height="57.50" fill="#fff" stroke="none" stroke-width="1.0"/>
<g clip-path="url(#fc389_421)">
<path d="M413.2 474.7h.55v.55h-.55zM400.2 468.7h.55v.55h-.55zM405.1 464.6h.55v.55h-.55zM390.7 475.8h.55v.55h-.55zM397.9 470.5h.55v.55h-.55zM414.2 476.9h.55v.55h-.55zM402.2 466.7h.55v.55h-.55zM397.6 476.2h.55v.55h-.55zM413.2 466.5h.55v.55h-.55zM411.7 468.6h.55v.55h-.55zM402.2 466.2h.55v.55h-.55zM412.8 477.1h.55v.55h-.55zM395.2 472.3h.55v.55h-.55zM394.9 475.6h.55v.55h-.55zM391.2 465.4h.55v.55h-.55zM408.8 468.1h.55v.55h-.55zM413.3 475.5h.55v.55h-.55zM408.4 465.7h.55v.55h-.55zM408.0 476.4h.55v.55h-.55zM401.5 465.0h.55v.55h-.55zM395.7 468.0h.55v.55h-.55zM408.4 466.5h.55v.55h-.55zM394.6 467.1h.55v.55h-.55zM407.2 474.4h.55v.55h-.55zM399.6 472.7h.55v.55h-.55zM412.9 471.8h.55v.55h-.55zM395.9 467.9h.55v.55h-.55zM414.0 472.8h.55v.55h-.55zM397.1 472.4h.55v.55h-.55zM392.2 477.0h.55v.55h-.55zM401.4 470.9h.55v.55h-.55zM403.7 464.5h.55v.55h-.55zM405.5 467.7h.55v.55h-.55zM396.4 474.6h.55v.55h-.55zM392.2 467.7h.55v.55h-.55zM409.6 467.2h.55v.55h-.55zM397.2 471.2h.55v.55h-.55zM394.7 475.8h.55v.55h-.55zM415.6 464.4h.55v.55h-.55zM401.9 473.9h.55v.55h-.55zM399.9 476.2h.55v.55h-.55zM402.9 466.3h.55v.55h-.55zM404.4 472.5h.55v.55h-.55zM399.3 472.7h.55v.55h-.55zM410.3 470.8h.55v.55h-.55zM403.1 475.1h.55v.55h-.55zM407.7 470.8h.55v.55h-.55zM414.6 466.3h.55v.55h-.55zM410.2 466.1h.55v.55h-.55zM405.7 467.1h.55v.55h-.55zM401.4 474.2h.55v.55h-.55zM410.4 474.4h.55v.55h-.55zM396.0 470.4h.55v.55h-.55zM395.7 471.6h.55v.55h-.55zM402.9 464.4h.55v.55h-.55zM405.4 473.4h.55v.55h-.55zM404.8 475.5h.55v.55h-.55zM394.6 466.0h.55v.55h-.55zM390.4 470.5h.55v.55h-.55zM401.2 469.8h.55v.55h-.55zM396.7 474.5h.55v.55h-.55zM391.8 475.9h.55v.55h-.55zM404.7 471.1h.55v.55h-.55zM410.5 467.1h.55v.55h-.55zM393.7 468.1h.55v.55h-.55zM391.0 468.1h.55v.55h-.55zM406.1 470.9h.55v.55h-.55zM396.8 471.7h.55v.55h-.55zM392.2 474.8h.55v.55h-.55zM394.4 467.3h.55v.55h-.55zM394.1 473.1h.55v.55h-.55zM411.5 474.4h.55v.55h-.55zM391.5 469.4h.55v.55h-.55zM399.4 466.8h.55v.55h-.55zM415.1 464.5h.55v.55h-.55zM402.6 474.0h.55v.55h-.55zM415.6 465.9h.55v.55h-.55zM401.7 473.8h.55v.55h-.55zM390.9 467.1h.55v.55h-.55zM413.1 465.8h.55v.55h-.55zM400.1 467.9h.55v.55h-.55zM400.9 465.0h.55v.55h-.55zM390.8 477.1h.55v.55h-.55zM409.8 473.7h.55v.55h-.55zM395.9 467.3h.55v.55h-.55zM404.3 467.1h.55v.55h-.55zM401.9 476.3h.55v.55h-.55zM399.4 468.4h.55v.55h-.55zM415.4 472.0h.55v.55h-.55zM390.9 469.3h.55v.55h-.55zM406.8 464.7h.55v.55h-.55zM398.8 473.1h.55v.55h-.55zM412.4 471.8h.55v.55h-.55zM413.0 470.1h.55v.55h-.55zM400.1 475.1h.55v.55h-.55zM399.8 474.3h.55v.55h-.55zM395.5 468.5h.55v.55h-.55zM394.7 471.2h.55v.55h-.55zM394.2 466.6h.55v.55h-.55zM395.5 470.1h.55v.55h-.55zM397.9 469.9h.55v.55h-.55zM415.7 472.9h.55v.55h-.55zM412.3 466.7h.55v.55h-.55zM399.9 464.9h.55v.55h-.55zM407.9 468.7h.55v.55h-.55zM397.0 464.2h.55v.55h-.55zM394.6 467.4h.55v.55h-.55zM400.1 476.2h.55v.55h-.55zM408.5 467.5h.55v.55h-.55zM399.3 466.0h.55v.55h-.55zM440.5 458.8h.5v.5h-.5zM436.5 469.2h.5v.5h-.5zM439.8 449.0h.5v.5h-.5zM426.2 459.5h.5v.5h-.5zM420.7 473.8h.5v.5h-.5zM426.3 470.6h.5v.5h-.5zM430.8 450.0h.5v.5h-.5zM427.9 455.3h.5v.5h-.5zM419.7 452.8h.5v.5h-.5zM432.6 449.3h.5v.5h-.5zM426.0 460.6h.5v.5h-.5zM431.4 452.3h.5v.5h-.5zM435.1 455.9h.5v.5h-.5zM435.6 467.6h.5v.5h-.5zM422.2 454.3h.5v.5h-.5zM425.3 468.9h.5v.5h-.5zM428.2 459.5h.5v.5h-.5zM438.8 454.9h.5v.5h-.5zM425.6 458.3h.5v.5h-.5zM423.8 449.6h.5v.5h-.5zM419.4 466.5h.5v.5h-.5zM431.9 471.7h.5v.5h-.5z" fill="#444" stroke="none" stroke-width="1.0"/>
<path d="M388.74,465.10 C395.68,463.95 402.62,468.55 404.93,474.30 C405.51,467.40 404.93,473.15 405.51,478.90" fill="none" stroke="#555" stroke-width="0.45"/>
<path d="M388.74,467.97 C395.68,466.82 399.73,471.42 403.48,477.17 C402.62,467.40 402.04,473.15 402.62,478.90" fill="none" stroke="#555" stroke-width="0.45"/>
<path d="M388.74,470.85 C395.68,469.70 396.84,474.30 402.04,480.05 C399.73,467.40 399.15,473.15 399.73,478.90" fill="none" stroke="#555" stroke-width="0.45"/>
<path d="M414.18,446.70 L428.41,439.95 L431.30,442.25 L419.38,451.30 Z" fill="#dedede" stroke="#444" stroke-width="0.5"/>
<path d="M388.74,453.60 C398.57,451.30 407.24,449.57 416.49,447.27 C419.96,448.42 420.53,454.75 419.38,461.65 C418.22,468.55 417.64,467.40 417.64,479.47 L402.62,479.47 C403.77,470.27 403.77,470.85 397.99,467.40 C394.52,465.67 391.63,465.67 388.74,466.25 Z" fill="url(#fwedge)" stroke="#2a2a2a" stroke-width="0.55"/>
<path d="M389.90,457.05 C398.57,454.75 407.24,452.45 415.33,451.30 C417.64,454.75 417.07,462.80 415.91,468.55 C414.75,467.40 415.33,473.15 415.33,478.90" fill="none" stroke="#333" stroke-width="0.5"/>
<path d="M389.90,461.65 C396.84,459.92 404.35,458.20 413.02,455.90 C414.75,460.50 414.18,468.55 411.86,473.15 C408.40,470.27 408.40,473.15 408.97,478.90" fill="none" stroke="#333" stroke-width="0.5"/>
<ellipse cx="411.86" cy="456.47" rx="8.67" ry="6.33" fill="url(#fcore)" opacity="0.55"/>
<ellipse cx="394.52" cy="457.05" rx="5.78" ry="4.60" fill="url(#fcore)" opacity="0.33"/>
<circle cx="413.36" cy="455.97" r="0.80" fill="#fff" stroke="none" stroke-width="1.0" opacity="0.85"/>
<rect x="389.90" y="453.60" width="1.80" height="25.30" fill="#1a1a1a" stroke="none" stroke-width="1.0"/>
<rect x="395.68" y="476.30" width="25.43" height="2.60" fill="#1a1a1a" stroke="none" stroke-width="1.0"/>
<ellipse cx="431.30" cy="434.20" rx="3.6" ry="7.0" fill="#f4f4f4" stroke="#555" stroke-width="0.5" transform="rotate(28 431.30 434.20)"/>
<ellipse cx="431.30" cy="434.20" rx="2.5" ry="5.0" fill="none" stroke="#555" stroke-width="0.5" transform="rotate(28 431.30 434.20)"/>
<ellipse cx="431.30" cy="434.20" rx="1.5" ry="3.0" fill="none" stroke="#444" stroke-width="0.5" transform="rotate(28 431.30 434.20)"/>
</g>
<rect x="423.30" y="427.40" width="14.40" height="24.30" fill="none" stroke="#7b7bea" stroke-width="0.8"/>
<rect x="389.90" y="421.40" width="57.80" height="57.50" fill="none" stroke="#2a2a2a" stroke-width="1.2"/>
<text x="393.20" y="432.40" font-size="9.5" fill="#f0281e">2.98</text>
<clipPath id="fc148_481"><rect x="148.70" y="481.40" width="57.80" height="57.50"/></clipPath>
<rect x="148.70" y="481.40" width="57.80" height="57.50" fill="#fff" stroke="none" stroke-width="1.0"/>
<g clip-path="url(#fc148_481)">
<path d="M174.1 523.9h.55v.55h-.55zM166.1 535.6h.55v.55h-.55zM154.3 531.3h.55v.55h-.55zM166.0 536.3h.55v.55h-.55zM171.3 522.7h.55v.55h-.55zM165.2 519.9h.55v.55h-.55zM159.8 525.6h.55v.55h-.55zM150.3 525.5h.55v.55h-.55zM157.2 527.6h.55v.55h-.55zM156.0 521.2h.55v.55h-.55zM159.2 527.2h.55v.55h-.55zM153.0 530.8h.55v.55h-.55zM154.9 520.0h.55v.55h-.55zM157.6 526.2h.55v.55h-.55zM152.6 529.3h.55v.55h-.55zM166.9 528.7h.55v.55h-.55zM166.9 518.6h.55v.55h-.55zM158.9 525.1h.55v.55h-.55zM150.3 525.9h.55v.55h-.55zM150.1 527.6h.55v.55h-.55zM163.9 527.1h.55v.55h-.55zM157.2 523.0h.55v.55h-.55zM149.3 524.8h.55v.55h-.55zM171.9 528.9h.55v.55h-.55zM155.5 530.9h.55v.55h-.55zM153.5 527.1h.55v.55h-.55zM164.7 536.3h.55v.55h-.55zM158.1 529.1h.55v.55h-.55zM173.2 532.8h.55v.55h-.55zM165.0 530.0h.55v.55h-.55zM159.4 526.1h.55v.55h-.55zM155.9 533.9h.55v.55h-.55zM171.6 525.4h.55v.55h-.55zM172.4 518.9h.55v.55h-.55zM152.2 527.8h.55v.55h-.55zM156.7 525.0h.55v.55h-.55zM174.1 521.0h.55v.55h-.55zM153.7 522.5h.55v.55h-.55zM166.4 522.7h.55v.55h-.55zM148.7 528.5h.55v.55h-.55zM158.9 522.7h.55v.55h-.55zM161.5 530.5h.55v.55h-.55zM163.0 530.0h.55v.55h-.55zM163.3 534.0h.55v.55h-.55zM173.9 524.5h.55v.55h-.55zM157.7 535.0h.55v.55h-.55zM156.9 531.8h.55v.55h-.55zM166.8 531.2h.55v.55h-.55zM173.8 533.8h.55v.55h-.55zM152.8 530.0h.55v.55h-.55zM161.5 528.9h.55v.55h-.55zM158.3 523.6h.55v.55h-.55zM168.2 528.3h.55v.55h-.55zM154.9 522.9h.55v.55h-.55zM157.2 521.6h.55v.55h-.55zM162.1 520.6h.55v.55h-.55zM150.3 519.5h.55v.55h-.55zM151.4 531.6h.55v.55h-.55zM151.6 526.8h.55v.55h-.55zM168.8 527.3h.55v.55h-.55zM152.9 534.6h.55v.55h-.55zM171.3 519.2h.55v.55h-.55zM155.3 527.8h.55v.55h-.55zM169.4 525.6h.55v.55h-.55zM167.3 523.0h.55v.55h-.55zM167.3 524.4h.55v.55h-.55zM157.4 532.6h.55v.55h-.55zM170.6 533.9h.55v.55h-.55zM163.5 526.2h.55v.55h-.55zM167.1 530.0h.55v.55h-.55zM170.3 533.4h.55v.55h-.55zM152.0 525.4h.55v.55h-.55zM166.1 522.6h.55v.55h-.55zM153.5 518.5h.55v.55h-.55zM163.9 536.1h.55v.55h-.55zM173.9 520.7h.55v.55h-.55zM166.6 526.2h.55v.55h-.55zM165.1 525.7h.55v.55h-.55zM173.0 537.0h.55v.55h-.55zM150.0 531.7h.55v.55h-.55zM151.8 519.0h.55v.55h-.55zM156.1 532.1h.55v.55h-.55zM174.5 520.5h.55v.55h-.55zM157.3 518.7h.55v.55h-.55zM162.8 527.4h.55v.55h-.55zM158.4 524.1h.55v.55h-.55zM169.5 534.1h.55v.55h-.55zM156.1 525.6h.55v.55h-.55zM164.8 532.7h.55v.55h-.55zM174.2 525.6h.55v.55h-.55zM166.8 528.6h.55v.55h-.55zM169.5 521.0h.55v.55h-.55zM153.3 520.2h.55v.55h-.55zM173.0 523.0h.55v.55h-.55zM161.4 520.5h.55v.55h-.55zM157.1 518.6h.55v.55h-.55zM163.4 520.9h.55v.55h-.55zM165.0 523.4h.55v.55h-.55zM154.6 527.3h.55v.55h-.55zM158.2 523.1h.55v.55h-.55zM150.0 519.4h.55v.55h-.55zM171.9 524.1h.55v.55h-.55zM150.7 521.7h.55v.55h-.55zM161.3 537.1h.55v.55h-.55zM154.0 534.7h.55v.55h-.55zM161.3 526.1h.55v.55h-.55zM169.7 525.7h.55v.55h-.55zM150.2 528.6h.55v.55h-.55zM165.8 530.0h.55v.55h-.55zM155.9 536.0h.55v.55h-.55zM197.6 537.0h.5v.5h-.5zM187.8 531.4h.5v.5h-.5zM194.4 508.7h.5v.5h-.5zM178.2 508.5h.5v.5h-.5zM180.3 505.3h.5v.5h-.5zM185.9 528.7h.5v.5h-.5zM184.8 520.4h.5v.5h-.5zM177.8 509.9h.5v.5h-.5zM199.8 503.1h.5v.5h-.5zM189.8 530.6h.5v.5h-.5zM195.9 528.0h.5v.5h-.5zM186.8 530.4h.5v.5h-.5zM196.7 529.2h.5v.5h-.5zM200.4 506.2h.5v.5h-.5zM199.6 516.6h.5v.5h-.5zM193.9 511.3h.5v.5h-.5zM198.6 503.5h.5v.5h-.5zM190.9 510.5h.5v.5h-.5zM186.6 515.4h.5v.5h-.5zM192.8 530.6h.5v.5h-.5zM186.0 524.7h.5v.5h-.5zM185.8 512.3h.5v.5h-.5z" fill="#444" stroke="none" stroke-width="1.0"/>
<path d="M147.54,519.35 C154.48,518.20 161.42,522.80 163.73,528.55 C164.31,527.40 163.73,533.15 164.31,538.90" fill="none" stroke="#555" stroke-width="0.45"/>
<path d="M147.54,522.23 C154.48,521.07 158.53,525.67 162.28,531.42 C161.42,527.40 160.84,533.15 161.42,538.90" fill="none" stroke="#555" stroke-width="0.45"/>
<path d="M147.54,525.10 C154.48,523.95 155.64,528.55 160.84,534.30 C158.53,527.40 157.95,533.15 158.53,538.90" fill="none" stroke="#555" stroke-width="0.45"/>
<path d="M172.98,500.95 L185.91,503.36 L188.80,505.66 L178.18,505.55 Z" fill="#dedede" stroke="#444" stroke-width="0.5"/>
<path d="M147.54,507.85 C157.37,505.55 166.04,503.82 175.29,501.52 C178.76,502.67 179.33,509.00 178.18,515.90 C177.02,522.80 176.44,527.40 176.44,539.48 L161.42,539.48 C162.57,530.27 162.57,525.10 156.79,521.65 C153.32,519.92 150.43,519.92 147.54,520.50 Z" fill="url(#fwedge)" stroke="#2a2a2a" stroke-width="0.55"/>
<path d="M148.70,511.30 C157.37,509.00 166.04,506.70 174.13,505.55 C176.44,509.00 175.87,517.05 174.71,522.80 C173.55,527.40 174.13,533.15 174.13,538.90" fill="none" stroke="#333" stroke-width="0.5"/>
<path d="M148.70,515.90 C155.64,514.17 163.15,512.45 171.82,510.15 C173.55,514.75 172.98,522.80 170.66,527.40 C167.20,530.27 167.20,533.15 167.77,538.90" fill="none" stroke="#333" stroke-width="0.5"/>
<ellipse cx="170.66" cy="510.72" rx="8.67" ry="6.33" fill="url(#fcore)" opacity="0.75"/>
<ellipse cx="153.32" cy="511.30" rx="5.78" ry="4.60" fill="url(#fcore)" opacity="0.45"/>
<circle cx="172.16" cy="510.22" r="0.80" fill="#fff" stroke="none" stroke-width="1.0" opacity="0.85"/>
<rect x="148.70" y="507.85" width="1.80" height="31.05" fill="#1a1a1a" stroke="none" stroke-width="1.0"/>
<rect x="154.48" y="536.30" width="25.43" height="2.60" fill="#1a1a1a" stroke="none" stroke-width="1.0"/>
<ellipse cx="188.80" cy="497.61" rx="3.8" ry="7.6" fill="#e4e4e4" stroke="#555" stroke-width="0.5" transform="rotate(28 188.80 497.61)"/>
<ellipse cx="188.80" cy="497.61" rx="2.8" ry="5.8" fill="#b4b4b4" stroke="#444" stroke-width="0.5" transform="rotate(28 188.80 497.61)"/>
<ellipse cx="188.80" cy="497.61" rx="1.9" ry="4.0" fill="#777" stroke="#333" stroke-width="0.5" transform="rotate(28 188.80 497.61)"/>
<ellipse cx="188.80" cy="497.61" rx="0.9" ry="2.2" fill="#eee" stroke="#222" stroke-width="0.5" transform="rotate(28 188.80 497.61)"/>
</g>
<rect x="178.40" y="487.30" width="19.20" height="22.90" fill="none" stroke="#7b7bea" stroke-width="0.8"/>
<rect x="148.70" y="481.40" width="57.80" height="57.50" fill="none" stroke="#2a2a2a" stroke-width="1.2"/>
<text x="152.00" y="492.40" font-size="9.5" fill="#e8913c">4.08</text>
<clipPath id="fc209_481"><rect x="209.00" y="481.40" width="57.80" height="57.50"/></clipPath>
<rect x="209.00" y="481.40" width="57.80" height="57.50" fill="#fff" stroke="none" stroke-width="1.0"/>
<g clip-path="url(#fc209_481)">
<path d="M232.5 525.5h.55v.55h-.55zM211.4 525.7h.55v.55h-.55zM228.3 523.6h.55v.55h-.55zM228.3 529.3h.55v.55h-.55zM226.7 523.0h.55v.55h-.55zM211.8 522.4h.55v.55h-.55zM218.1 527.4h.55v.55h-.55zM209.2 528.6h.55v.55h-.55zM219.5 525.5h.55v.55h-.55zM223.0 536.4h.55v.55h-.55zM214.3 535.1h.55v.55h-.55zM217.3 532.9h.55v.55h-.55zM211.8 537.0h.55v.55h-.55zM220.2 536.5h.55v.55h-.55zM214.7 527.0h.55v.55h-.55zM227.4 523.0h.55v.55h-.55zM216.1 531.6h.55v.55h-.55zM233.6 525.5h.55v.55h-.55zM213.8 526.1h.55v.55h-.55zM234.7 522.5h.55v.55h-.55zM225.5 526.4h.55v.55h-.55zM225.7 523.6h.55v.55h-.55zM225.0 535.2h.55v.55h-.55zM231.3 530.8h.55v.55h-.55zM222.1 529.7h.55v.55h-.55zM212.0 534.4h.55v.55h-.55zM226.9 527.7h.55v.55h-.55zM226.3 527.2h.55v.55h-.55zM219.0 523.9h.55v.55h-.55zM224.6 529.8h.55v.55h-.55zM222.4 520.5h.55v.55h-.55zM225.3 527.6h.55v.55h-.55zM224.4 530.2h.55v.55h-.55zM233.2 522.5h.55v.55h-.55zM221.2 537.1h.55v.55h-.55zM228.2 525.3h.55v.55h-.55zM228.2 537.0h.55v.55h-.55zM219.5 534.9h.55v.55h-.55zM212.3 537.0h.55v.55h-.55zM221.8 524.0h.55v.55h-.55zM230.9 531.1h.55v.55h-.55zM233.4 534.2h.55v.55h-.55zM229.7 528.8h.55v.55h-.55zM234.8 521.0h.55v.55h-.55zM231.6 532.2h.55v.55h-.55zM215.5 533.8h.55v.55h-.55zM220.8 529.2h.55v.55h-.55zM231.5 523.3h.55v.55h-.55zM216.3 531.0h.55v.55h-.55zM210.9 529.5h.55v.55h-.55zM229.5 528.4h.55v.55h-.55zM215.3 533.7h.55v.55h-.55zM231.2 533.2h.55v.55h-.55zM223.3 535.5h.55v.55h-.55zM229.7 522.5h.55v.55h-.55zM218.5 521.7h.55v.55h-.55zM210.0 525.9h.55v.55h-.55zM231.5 534.3h.55v.55h-.55zM212.1 523.1h.55v.55h-.55zM219.1 534.6h.55v.55h-.55zM225.0 535.5h.55v.55h-.55zM210.9 537.0h.55v.55h-.55zM214.4 530.8h.55v.55h-.55zM231.8 532.5h.55v.55h-.55zM214.1 531.5h.55v.55h-.55zM220.2 520.2h.55v.55h-.55zM217.8 525.4h.55v.55h-.55zM225.4 524.7h.55v.55h-.55zM224.7 531.9h.55v.55h-.55zM213.7 522.1h.55v.55h-.55zM227.0 528.0h.55v.55h-.55zM212.4 521.9h.55v.55h-.55zM233.5 530.4h.55v.55h-.55zM218.3 523.3h.55v.55h-.55zM234.9 531.9h.55v.55h-.55zM228.2 526.1h.55v.55h-.55zM217.1 527.0h.55v.55h-.55zM212.8 530.8h.55v.55h-.55zM220.0 534.1h.55v.55h-.55zM219.6 527.8h.55v.55h-.55zM222.2 536.2h.55v.55h-.55zM218.0 532.1h.55v.55h-.55zM215.1 529.9h.55v.55h-.55zM216.4 535.0h.55v.55h-.55zM216.5 534.7h.55v.55h-.55zM226.6 527.8h.55v.55h-.55zM233.3 526.6h.55v.55h-.55zM228.3 530.3h.55v.55h-.55zM220.7 521.0h.55v.55h-.55zM219.9 524.8h.55v.55h-.55zM220.5 536.4h.55v.55h-.55zM216.6 531.9h.55v.55h-.55zM226.5 524.1h.55v.55h-.55zM219.7 522.2h.55v.55h-.55zM232.3 524.3h.55v.55h-.55zM219.9 525.8h.55v.55h-.55zM230.3 534.6h.55v.55h-.55zM224.4 529.3h.55v.55h-.55zM211.6 535.4h.55v.55h-.55zM211.3 526.2h.55v.55h-.55zM218.7 532.4h.55v.55h-.55zM226.4 525.9h.55v.55h-.55zM232.4 536.3h.55v.55h-.55zM209.6 530.8h.55v.55h-.55zM221.2 526.2h.55v.55h-.55zM221.1 525.4h.55v.55h-.55zM226.4 530.4h.55v.55h-.55zM234.2 536.8h.55v.55h-.55zM234.8 526.7h.55v.55h-.55zM230.6 531.1h.55v.55h-.55zM254.1 537.1h.5v.5h-.5zM239.4 519.5h.5v.5h-.5zM247.2 525.9h.5v.5h-.5zM242.9 536.8h.5v.5h-.5zM242.7 516.5h.5v.5h-.5zM241.2 517.3h.5v.5h-.5zM255.1 507.1h.5v.5h-.5zM241.8 525.7h.5v.5h-.5zM252.3 528.7h.5v.5h-.5zM243.8 531.0h.5v.5h-.5zM254.8 529.8h.5v.5h-.5zM240.7 519.8h.5v.5h-.5zM238.3 532.6h.5v.5h-.5zM259.7 533.8h.5v.5h-.5zM238.5 515.9h.5v.5h-.5zM250.3 521.9h.5v.5h-.5zM240.5 530.3h.5v.5h-.5zM244.9 521.0h.5v.5h-.5zM240.8 523.0h.5v.5h-.5zM240.9 507.3h.5v.5h-.5zM249.7 514.0h.5v.5h-.5zM255.9 512.5h.5v.5h-.5z" fill="#444" stroke="none" stroke-width="1.0"/>
<path d="M207.84,521.07 C214.78,519.92 221.72,524.52 224.03,530.27 C224.61,527.40 224.03,533.15 224.61,538.90" fill="none" stroke="#555" stroke-width="0.45"/>
<path d="M207.84,523.95 C214.78,522.80 218.83,527.40 222.58,533.15 C221.72,527.40 221.14,533.15 221.72,538.90" fill="none" stroke="#555" stroke-width="0.45"/>
<path d="M207.84,526.82 C214.78,525.67 215.94,530.27 221.14,536.02 C218.83,527.40 218.25,533.15 218.83,538.90" fill="none" stroke="#555" stroke-width="0.45"/>
<path d="M233.28,502.67 L246.66,504.53 L249.55,506.83 L238.48,507.27 Z" fill="#dedede" stroke="#444" stroke-width="0.5"/>
<path d="M207.84,509.57 C217.67,507.27 226.34,505.55 235.59,503.25 C239.06,504.40 239.63,510.72 238.48,517.62 C237.32,524.52 236.74,527.40 236.74,539.48 L221.72,539.48 C222.87,530.27 222.87,526.82 217.09,523.38 C213.62,521.65 210.73,521.65 207.84,522.23 Z" fill="url(#fwedge)" stroke="#2a2a2a" stroke-width="0.55"/>
<path d="M209.00,513.02 C217.67,510.72 226.34,508.42 234.43,507.27 C236.74,510.72 236.17,518.77 235.01,524.52 C233.85,527.40 234.43,533.15 234.43,538.90" fill="none" stroke="#333" stroke-width="0.5"/>
<path d="M209.00,517.62 C215.94,515.90 223.45,514.17 232.12,511.88 C233.85,516.48 233.28,524.52 230.96,529.12 C227.50,530.27 227.50,533.15 228.07,538.90" fill="none" stroke="#333" stroke-width="0.5"/>
<ellipse cx="230.96" cy="512.45" rx="8.67" ry="6.33" fill="url(#fcore)" opacity="0.70"/>
<ellipse cx="213.62" cy="513.02" rx="5.78" ry="4.60" fill="url(#fcore)" opacity="0.42"/>
<circle cx="232.46" cy="511.95" r="0.80" fill="#fff" stroke="none" stroke-width="1.0" opacity="0.85"/>
<rect x="209.00" y="509.57" width="1.80" height="29.32" fill="#1a1a1a" stroke="none" stroke-width="1.0"/>
<rect x="214.78" y="536.30" width="25.43" height="2.60" fill="#1a1a1a" stroke="none" stroke-width="1.0"/>
<ellipse cx="249.55" cy="498.78" rx="3.8" ry="7.6" fill="#e4e4e4" stroke="#555" stroke-width="0.5" transform="rotate(28 249.55 498.78)"/>
<ellipse cx="249.55" cy="498.78" rx="2.8" ry="5.8" fill="#b4b4b4" stroke="#444" stroke-width="0.5" transform="rotate(28 249.55 498.78)"/>
<ellipse cx="249.55" cy="498.78" rx="1.9" ry="4.0" fill="#777" stroke="#333" stroke-width="0.5" transform="rotate(28 249.55 498.78)"/>
<ellipse cx="249.55" cy="498.78" rx="0.9" ry="2.2" fill="#eee" stroke="#222" stroke-width="0.5" transform="rotate(28 249.55 498.78)"/>
</g>
<rect x="241.50" y="488.50" width="14.50" height="25.70" fill="none" stroke="#7b7bea" stroke-width="0.8"/>
<rect x="209.00" y="481.40" width="57.80" height="57.50" fill="none" stroke="#2a2a2a" stroke-width="1.2"/>
<text x="212.30" y="492.40" font-size="9.5" fill="#e8913c">4.53</text>
<clipPath id="fc269_481"><rect x="269.80" y="481.40" width="57.80" height="57.50"/></clipPath>
<rect x="269.80" y="481.40" width="57.80" height="57.50" fill="#fff" stroke="none" stroke-width="1.0"/>
<g clip-path="url(#fc269_481)">
<path d="M280.6 520.9h.55v.55h-.55zM275.5 527.7h.55v.55h-.55zM284.3 527.8h.55v.55h-.55zM291.9 521.7h.55v.55h-.55zM291.9 522.6h.55v.55h-.55zM295.0 529.0h.55v.55h-.55zM280.4 530.5h.55v.55h-.55zM292.3 536.5h.55v.55h-.55zM280.6 520.1h.55v.55h-.55zM273.8 534.0h.55v.55h-.55zM288.9 532.2h.55v.55h-.55zM273.9 529.1h.55v.55h-.55zM270.5 521.8h.55v.55h-.55zM277.6 536.6h.55v.55h-.55zM286.5 534.5h.55v.55h-.55zM271.0 527.1h.55v.55h-.55zM271.8 524.4h.55v.55h-.55zM272.7 535.8h.55v.55h-.55zM278.4 528.4h.55v.55h-.55zM286.8 535.2h.55v.55h-.55zM294.4 529.7h.55v.55h-.55zM282.8 535.5h.55v.55h-.55zM280.1 525.1h.55v.55h-.55zM289.0 524.4h.55v.55h-.55zM279.4 527.3h.55v.55h-.55zM282.2 526.1h.55v.55h-.55zM281.0 527.7h.55v.55h-.55zM271.1 534.3h.55v.55h-.55zM271.4 529.0h.55v.55h-.55zM284.0 526.8h.55v.55h-.55zM275.6 521.6h.55v.55h-.55zM279.5 525.3h.55v.55h-.55zM282.4 523.9h.55v.55h-.55zM289.3 528.3h.55v.55h-.55zM270.0 526.9h.55v.55h-.55zM294.9 520.0h.55v.55h-.55zM285.2 536.5h.55v.55h-.55zM279.3 530.2h.55v.55h-.55zM279.4 525.1h.55v.55h-.55zM285.6 530.1h.55v.55h-.55zM278.0 528.5h.55v.55h-.55zM283.2 532.9h.55v.55h-.55zM271.2 521.5h.55v.55h-.55zM276.4 524.6h.55v.55h-.55zM290.5 527.3h.55v.55h-.55zM292.2 526.9h.55v.55h-.55zM277.2 531.7h.55v.55h-.55zM272.0 536.9h.55v.55h-.55zM291.4 525.6h.55v.55h-.55zM278.1 534.1h.55v.55h-.55zM290.3 531.0h.55v.55h-.55zM271.3 533.1h.55v.55h-.55zM271.0 530.7h.55v.55h-.55zM284.2 535.9h.55v.55h-.55zM286.4 520.3h.55v.55h-.55zM294.1 532.9h.55v.55h-.55zM284.9 520.0h.55v.55h-.55zM289.0 527.1h.55v.55h-.55zM287.5 536.9h.55v.55h-.55zM293.6 521.2h.55v.55h-.55zM290.1 527.5h.55v.55h-.55zM289.3 526.4h.55v.55h-.55zM281.4 527.5h.55v.55h-.55zM272.9 525.4h.55v.55h-.55zM288.9 521.2h.55v.55h-.55zM272.8 534.3h.55v.55h-.55zM287.1 529.4h.55v.55h-.55zM272.7 522.0h.55v.55h-.55zM277.9 536.4h.55v.55h-.55zM284.4 535.8h.55v.55h-.55zM275.3 527.1h.55v.55h-.55zM283.7 534.4h.55v.55h-.55zM273.0 535.0h.55v.55h-.55zM282.1 520.5h.55v.55h-.55zM281.0 526.4h.55v.55h-.55zM287.3 535.9h.55v.55h-.55zM282.6 531.8h.55v.55h-.55zM279.9 533.4h.55v.55h-.55zM272.5 532.7h.55v.55h-.55zM274.1 530.0h.55v.55h-.55zM275.1 525.9h.55v.55h-.55zM274.1 526.0h.55v.55h-.55zM285.2 528.9h.55v.55h-.55zM279.9 529.8h.55v.55h-.55zM291.7 526.1h.55v.55h-.55zM285.0 528.2h.55v.55h-.55zM295.3 525.6h.55v.55h-.55zM287.9 524.0h.55v.55h-.55zM276.6 532.5h.55v.55h-.55zM284.8 524.4h.55v.55h-.55zM271.5 534.2h.55v.55h-.55zM279.6 532.3h.55v.55h-.55zM281.1 530.6h.55v.55h-.55zM284.4 536.8h.55v.55h-.55zM293.5 527.8h.55v.55h-.55zM282.5 523.9h.55v.55h-.55zM289.4 521.7h.55v.55h-.55zM277.8 534.5h.55v.55h-.55zM270.7 532.0h.55v.55h-.55zM284.6 529.4h.55v.55h-.55zM278.5 522.5h.55v.55h-.55zM294.5 533.1h.55v.55h-.55zM290.8 521.6h.55v.55h-.55zM290.2 523.7h.55v.55h-.55zM275.0 529.2h.55v.55h-.55zM285.7 522.0h.55v.55h-.55zM289.7 530.0h.55v.55h-.55zM293.2 535.9h.55v.55h-.55zM287.7 526.2h.55v.55h-.55zM294.5 532.3h.55v.55h-.55zM305.4 532.5h.5v.5h-.5zM315.5 513.1h.5v.5h-.5zM304.5 505.1h.5v.5h-.5zM311.1 512.7h.5v.5h-.5zM305.5 512.7h.5v.5h-.5zM301.7 520.3h.5v.5h-.5zM305.0 513.7h.5v.5h-.5zM305.1 521.1h.5v.5h-.5zM318.9 509.6h.5v.5h-.5zM318.6 532.4h.5v.5h-.5zM312.8 522.2h.5v.5h-.5zM315.7 521.9h.5v.5h-.5zM314.0 534.5h.5v.5h-.5zM316.6 512.9h.5v.5h-.5zM300.0 535.1h.5v.5h-.5zM307.1 530.2h.5v.5h-.5zM304.1 519.2h.5v.5h-.5zM307.3 528.3h.5v.5h-.5zM320.5 521.0h.5v.5h-.5zM311.8 515.8h.5v.5h-.5zM304.1 535.5h.5v.5h-.5zM301.2 535.2h.5v.5h-.5z" fill="#444" stroke="none" stroke-width="1.0"/>
<path d="M268.64,521.07 C275.58,519.92 282.52,524.52 284.83,530.27 C285.41,527.40 284.83,533.15 285.41,538.90" fill="none" stroke="#555" stroke-width="0.45"/>
<path d="M268.64,523.95 C275.58,522.80 279.63,527.40 283.38,533.15 C282.52,527.40 281.94,533.15 282.52,538.90" fill="none" stroke="#555" stroke-width="0.45"/>
<path d="M268.64,526.82 C275.58,525.67 276.74,530.27 281.94,536.02 C279.63,527.40 279.05,533.15 279.63,538.90" fill="none" stroke="#555" stroke-width="0.45"/>
<path d="M294.08,502.67 L307.46,503.50 L310.35,505.81 L299.28,507.27 Z" fill="#dedede" stroke="#444" stroke-width="0.5"/>
<path d="M268.64,509.57 C278.47,507.27 287.14,505.55 296.39,503.25 C299.86,504.40 300.43,510.72 299.28,517.62 C298.12,524.52 297.54,527.40 297.54,539.48 L282.52,539.48 C283.67,530.27 283.67,526.82 277.89,523.38 C274.42,521.65 271.53,521.65 268.64,522.23 Z" fill="url(#fwedge)" stroke="#2a2a2a" stroke-width="0.55"/>
<path d="M269.80,513.02 C278.47,510.72 287.14,508.42 295.23,507.27 C297.54,510.72 296.97,518.77 295.81,524.52 C294.65,527.40 295.23,533.15 295.23,538.90" fill="none" stroke="#333" stroke-width="0.5"/>
<path d="M269.80,517.62 C276.74,515.90 284.25,514.17 292.92,511.88 C294.65,516.48 294.08,524.52 291.76,529.12 C288.30,530.27 288.30,533.15 288.87,538.90" fill="none" stroke="#333" stroke-width="0.5"/>
<ellipse cx="291.76" cy="512.45" rx="8.67" ry="6.33" fill="url(#fcore)" opacity="0.90"/>
<ellipse cx="274.42" cy="513.02" rx="5.78" ry="4.60" fill="url(#fcore)" opacity="0.54"/>
<circle cx="293.26" cy="511.95" r="0.80" fill="#fff" stroke="none" stroke-width="1.0" opacity="0.85"/>
<rect x="269.80" y="509.57" width="1.80" height="29.32" fill="#1a1a1a" stroke="none" stroke-width="1.0"/>
<rect x="275.58" y="536.30" width="25.43" height="2.60" fill="#1a1a1a" stroke="none" stroke-width="1.0"/>
<ellipse cx="310.35" cy="497.75" rx="3.8" ry="7.6" fill="#e4e4e4" stroke="#555" stroke-width="0.5" transform="rotate(28 310.35 497.75)"/>
<ellipse cx="310.35" cy="497.75" rx="2.8" ry="5.8" fill="#b4b4b4" stroke="#444" stroke-width="0.5" transform="rotate(28 310.35 497.75)"/>
<ellipse cx="310.35" cy="497.75" rx="1.9" ry="4.0" fill="#777" stroke="#333" stroke-width="0.5" transform="rotate(28 310.35 497.75)"/>
<ellipse cx="310.35" cy="497.75" rx="0.9" ry="2.2" fill="#eee" stroke="#222" stroke-width="0.5" transform="rotate(28 310.35 497.75)"/>
</g>
<rect x="302.50" y="488.90" width="14.10" height="25.30" fill="none" stroke="#7b7bea" stroke-width="0.8"/>
<rect x="269.80" y="481.40" width="57.80" height="57.50" fill="none" stroke="#2a2a2a" stroke-width="1.2"/>
<text x="273.10" y="492.40" font-size="9.5" fill="#e8913c">9.17</text>
<clipPath id="fc329_481"><rect x="329.80" y="481.40" width="57.80" height="57.50"/></clipPath>
<rect x="329.80" y="481.40" width="57.80" height="57.50" fill="#fff" stroke="none" stroke-width="1.0"/>
<g clip-path="url(#fc329_481)">
<path d="M346.9 522.2h.55v.55h-.55zM353.3 522.7h.55v.55h-.55zM344.5 523.0h.55v.55h-.55zM355.5 526.1h.55v.55h-.55zM352.5 522.1h.55v.55h-.55zM347.1 522.2h.55v.55h-.55zM330.6 530.3h.55v.55h-.55zM355.4 532.1h.55v.55h-.55zM352.0 533.7h.55v.55h-.55zM343.4 522.3h.55v.55h-.55zM343.5 524.0h.55v.55h-.55zM343.5 526.8h.55v.55h-.55zM342.8 524.3h.55v.55h-.55zM348.1 527.8h.55v.55h-.55zM342.4 522.3h.55v.55h-.55zM342.5 530.1h.55v.55h-.55zM355.1 530.1h.55v.55h-.55zM333.3 525.9h.55v.55h-.55zM338.5 532.4h.55v.55h-.55zM354.2 536.8h.55v.55h-.55zM354.5 536.0h.55v.55h-.55zM352.1 536.1h.55v.55h-.55zM330.3 529.0h.55v.55h-.55zM345.2 532.1h.55v.55h-.55zM345.7 530.9h.55v.55h-.55zM354.1 522.5h.55v.55h-.55zM343.3 536.5h.55v.55h-.55zM330.6 522.9h.55v.55h-.55zM352.4 536.5h.55v.55h-.55zM330.4 521.6h.55v.55h-.55zM351.4 532.2h.55v.55h-.55zM343.3 530.4h.55v.55h-.55zM349.5 534.1h.55v.55h-.55zM329.8 522.2h.55v.55h-.55zM350.5 536.8h.55v.55h-.55zM351.5 527.6h.55v.55h-.55zM338.5 526.7h.55v.55h-.55zM330.2 533.5h.55v.55h-.55zM336.6 530.5h.55v.55h-.55zM343.5 526.5h.55v.55h-.55zM347.4 528.4h.55v.55h-.55zM335.9 535.3h.55v.55h-.55zM334.4 523.5h.55v.55h-.55zM336.4 528.8h.55v.55h-.55zM350.2 526.4h.55v.55h-.55zM336.0 531.6h.55v.55h-.55zM336.6 529.5h.55v.55h-.55zM336.4 535.2h.55v.55h-.55zM334.6 524.8h.55v.55h-.55zM337.6 526.4h.55v.55h-.55zM348.7 531.9h.55v.55h-.55zM350.4 529.8h.55v.55h-.55zM331.8 533.4h.55v.55h-.55zM336.2 524.6h.55v.55h-.55zM340.6 537.0h.55v.55h-.55zM339.4 526.8h.55v.55h-.55zM353.5 537.0h.55v.55h-.55zM339.9 523.3h.55v.55h-.55zM350.3 533.7h.55v.55h-.55zM338.6 533.8h.55v.55h-.55zM339.7 525.7h.55v.55h-.55zM345.2 533.0h.55v.55h-.55zM342.2 534.3h.55v.55h-.55zM330.2 529.1h.55v.55h-.55zM339.7 522.1h.55v.55h-.55zM353.6 523.4h.55v.55h-.55zM335.1 535.2h.55v.55h-.55zM354.8 536.1h.55v.55h-.55zM338.7 536.1h.55v.55h-.55zM333.5 532.6h.55v.55h-.55zM354.4 524.2h.55v.55h-.55zM333.3 532.0h.55v.55h-.55zM352.8 532.8h.55v.55h-.55zM354.5 528.4h.55v.55h-.55zM339.5 523.0h.55v.55h-.55zM336.9 536.2h.55v.55h-.55zM331.7 524.1h.55v.55h-.55zM338.8 521.9h.55v.55h-.55zM337.8 524.0h.55v.55h-.55zM333.0 529.6h.55v.55h-.55zM343.9 530.2h.55v.55h-.55zM349.6 529.6h.55v.55h-.55zM354.4 522.4h.55v.55h-.55zM335.6 522.3h.55v.55h-.55zM337.8 533.3h.55v.55h-.55zM353.8 529.2h.55v.55h-.55zM334.0 526.4h.55v.55h-.55zM344.6 525.8h.55v.55h-.55zM350.4 536.7h.55v.55h-.55zM341.8 530.8h.55v.55h-.55zM351.8 528.6h.55v.55h-.55zM334.8 536.3h.55v.55h-.55zM355.2 521.5h.55v.55h-.55zM349.6 527.5h.55v.55h-.55zM331.1 523.7h.55v.55h-.55zM334.3 532.9h.55v.55h-.55zM335.3 521.4h.55v.55h-.55zM335.5 533.9h.55v.55h-.55zM342.8 531.6h.55v.55h-.55zM341.9 524.0h.55v.55h-.55zM330.2 526.0h.55v.55h-.55zM330.9 525.3h.55v.55h-.55zM345.9 527.0h.55v.55h-.55zM342.1 531.1h.55v.55h-.55zM338.0 526.8h.55v.55h-.55zM352.8 530.4h.55v.55h-.55zM340.6 529.8h.55v.55h-.55zM341.8 526.4h.55v.55h-.55zM353.6 524.8h.55v.55h-.55zM354.1 534.8h.55v.55h-.55zM379.1 510.7h.5v.5h-.5zM370.5 536.7h.5v.5h-.5zM365.4 511.0h.5v.5h-.5zM375.4 513.0h.5v.5h-.5zM372.2 510.5h.5v.5h-.5zM380.6 514.5h.5v.5h-.5zM360.9 527.3h.5v.5h-.5zM366.7 523.2h.5v.5h-.5zM370.2 534.7h.5v.5h-.5zM370.6 517.5h.5v.5h-.5zM358.7 521.3h.5v.5h-.5zM364.9 523.7h.5v.5h-.5zM373.3 520.2h.5v.5h-.5zM360.8 521.3h.5v.5h-.5zM369.8 525.8h.5v.5h-.5zM381.1 514.4h.5v.5h-.5zM368.9 508.2h.5v.5h-.5zM377.2 513.0h.5v.5h-.5zM377.9 530.8h.5v.5h-.5zM364.6 534.1h.5v.5h-.5zM370.4 519.0h.5v.5h-.5zM371.5 535.5h.5v.5h-.5z" fill="#444" stroke="none" stroke-width="1.0"/>
<path d="M328.64,522.23 C335.58,521.07 342.52,525.67 344.83,531.42 C345.41,527.40 344.83,533.15 345.41,538.90" fill="none" stroke="#555" stroke-width="0.45"/>
<path d="M328.64,525.10 C335.58,523.95 339.63,528.55 343.38,534.30 C342.52,527.40 341.94,533.15 342.52,538.90" fill="none" stroke="#555" stroke-width="0.45"/>
<path d="M328.64,527.98 C335.58,526.82 336.74,531.42 341.94,537.17 C339.63,527.40 339.05,533.15 339.63,538.90" fill="none" stroke="#555" stroke-width="0.45"/>
<path d="M354.08,503.82 L365.91,503.50 L368.80,505.81 L359.28,508.42 Z" fill="#dedede" stroke="#444" stroke-width="0.5"/>
<path d="M328.64,510.72 C338.47,508.42 347.14,506.70 356.39,504.40 C359.86,505.55 360.43,511.88 359.28,518.77 C358.12,525.67 357.54,527.40 357.54,539.48 L342.52,539.48 C343.67,530.27 343.67,527.98 337.89,524.52 C334.42,522.80 331.53,522.80 328.64,523.38 Z" fill="url(#fwedge)" stroke="#2a2a2a" stroke-width="0.55"/>
<path d="M329.80,514.17 C338.47,511.88 347.14,509.57 355.23,508.42 C357.54,511.88 356.97,519.92 355.81,525.67 C354.65,527.40 355.23,533.15 355.23,538.90" fill="none" stroke="#333" stroke-width="0.5"/>
<path d="M329.80,518.77 C336.74,517.05 344.25,515.32 352.92,513.02 C354.65,517.62 354.08,525.67 351.76,530.27 C348.30,530.27 348.30,533.15 348.87,538.90" fill="none" stroke="#333" stroke-width="0.5"/>
<ellipse cx="351.76" cy="513.60" rx="8.67" ry="6.33" fill="url(#fcore)" opacity="0.85"/>
<ellipse cx="334.42" cy="514.17" rx="5.78" ry="4.60" fill="url(#fcore)" opacity="0.51"/>
<circle cx="353.26" cy="513.10" r="0.80" fill="#fff" stroke="none" stroke-width="1.0" opacity="0.85"/>
<rect x="329.80" y="510.72" width="1.80" height="28.18" fill="#1a1a1a" stroke="none" stroke-width="1.0"/>
<rect x="335.58" y="536.30" width="25.43" height="2.60" fill="#1a1a1a" stroke="none" stroke-width="1.0"/>
<ellipse cx="368.80" cy="497.75" rx="3.8" ry="7.6" fill="#e4e4e4" stroke="#555" stroke-width="0.5" transform="rotate(28 368.80 497.75)"/>
<ellipse cx="368.80" cy="497.75" rx="2.8" ry="5.8" fill="#b4b4b4" stroke="#444" stroke-width="0.5" transform="rotate(28 368.80 497.75)"/>
<ellipse cx="368.80" cy="497.75" rx="1.9" ry="4.0" fill="#777" stroke="#333" stroke-width="0.5" transform="rotate(28 368.80 497.75)"/>
<ellipse cx="368.80" cy="497.75" rx="0.9" ry="2.2" fill="#eee" stroke="#222" stroke-width="0.5" transform="rotate(28 368.80 497.75)"/>
</g>
<rect x="359.60" y="488.90" width="16.80" height="25.30" fill="none" stroke="#7b7bea" stroke-width="0.8"/>
<rect x="329.80" y="481.40" width="57.80" height="57.50" fill="none" stroke="#2a2a2a" stroke-width="1.2"/>
<text x="333.10" y="492.40" font-size="9.5" fill="#e8913c">14.7</text>
<clipPath id="fc389_481"><rect x="389.90" y="481.40" width="57.80" height="57.50"/></clipPath>
<rect x="389.90" y="481.40" width="57.80" height="57.50" fill="#fff" stroke="none" stroke-width="1.0"/>
<g clip-path="url(#fc389_481)">
<path d="M402.6 529.1h.55v.55h-.55zM397.5 534.7h.55v.55h-.55zM403.0 527.0h.55v.55h-.55zM395.0 525.0h.55v.55h-.55zM411.6 534.1h.55v.55h-.55zM415.4 535.9h.55v.55h-.55zM407.7 534.0h.55v.55h-.55zM408.4 534.2h.55v.55h-.55zM410.7 524.4h.55v.55h-.55zM411.1 526.4h.55v.55h-.55zM396.2 535.9h.55v.55h-.55zM390.5 529.6h.55v.55h-.55zM398.8 533.9h.55v.55h-.55zM405.8 535.8h.55v.55h-.55zM414.2 531.7h.55v.55h-.55zM391.6 532.0h.55v.55h-.55zM392.7 536.9h.55v.55h-.55zM412.6 526.5h.55v.55h-.55zM394.7 532.4h.55v.55h-.55zM409.6 536.9h.55v.55h-.55zM406.1 523.6h.55v.55h-.55zM408.8 522.6h.55v.55h-.55zM412.5 533.6h.55v.55h-.55zM410.3 535.2h.55v.55h-.55zM404.7 536.3h.55v.55h-.55zM406.5 529.3h.55v.55h-.55zM399.9 527.1h.55v.55h-.55zM390.5 524.1h.55v.55h-.55zM410.6 525.2h.55v.55h-.55zM406.9 533.7h.55v.55h-.55zM408.0 529.7h.55v.55h-.55zM398.1 525.9h.55v.55h-.55zM394.8 531.7h.55v.55h-.55zM407.8 536.3h.55v.55h-.55zM398.5 536.0h.55v.55h-.55zM413.6 526.2h.55v.55h-.55zM414.7 531.3h.55v.55h-.55zM414.9 533.7h.55v.55h-.55zM398.6 526.0h.55v.55h-.55zM403.5 529.2h.55v.55h-.55zM390.8 535.0h.55v.55h-.55zM403.8 529.0h.55v.55h-.55zM409.3 525.5h.55v.55h-.55zM395.1 530.7h.55v.55h-.55zM396.2 526.7h.55v.55h-.55zM391.7 522.5h.55v.55h-.55zM399.1 529.8h.55v.55h-.55zM414.6 531.6h.55v.55h-.55zM400.7 528.0h.55v.55h-.55zM396.0 529.0h.55v.55h-.55zM414.8 523.5h.55v.55h-.55zM401.2 532.3h.55v.55h-.55zM409.7 530.3h.55v.55h-.55zM406.6 536.2h.55v.55h-.55zM413.4 525.5h.55v.55h-.55zM404.0 537.1h.55v.55h-.55zM403.6 524.6h.55v.55h-.55zM409.8 522.5h.55v.55h-.55zM393.8 530.2h.55v.55h-.55zM397.0 532.8h.55v.55h-.55zM408.8 526.6h.55v.55h-.55zM409.8 531.7h.55v.55h-.55zM408.3 528.7h.55v.55h-.55zM401.1 523.3h.55v.55h-.55zM402.3 536.5h.55v.55h-.55zM413.0 522.5h.55v.55h-.55zM391.7 525.8h.55v.55h-.55zM408.0 528.4h.55v.55h-.55zM393.2 528.3h.55v.55h-.55zM404.8 533.2h.55v.55h-.55zM400.4 531.7h.55v.55h-.55zM407.6 531.2h.55v.55h-.55zM391.1 532.7h.55v.55h-.55zM393.2 522.5h.55v.55h-.55zM402.2 521.9h.55v.55h-.55zM391.8 527.7h.55v.55h-.55zM402.1 523.3h.55v.55h-.55zM414.7 534.9h.55v.55h-.55zM402.6 530.8h.55v.55h-.55zM398.1 536.9h.55v.55h-.55zM393.0 526.4h.55v.55h-.55zM395.6 535.1h.55v.55h-.55zM403.1 528.0h.55v.55h-.55zM400.3 535.4h.55v.55h-.55zM396.6 533.9h.55v.55h-.55zM408.3 528.6h.55v.55h-.55zM399.4 528.4h.55v.55h-.55zM401.7 526.5h.55v.55h-.55zM406.1 528.0h.55v.55h-.55zM397.8 533.6h.55v.55h-.55zM401.7 529.0h.55v.55h-.55zM412.8 528.7h.55v.55h-.55zM399.7 535.6h.55v.55h-.55zM415.3 533.8h.55v.55h-.55zM400.3 532.1h.55v.55h-.55zM409.2 526.2h.55v.55h-.55zM408.7 536.4h.55v.55h-.55zM407.0 532.0h.55v.55h-.55zM401.2 531.8h.55v.55h-.55zM395.8 533.6h.55v.55h-.55zM403.9 536.9h.55v.55h-.55zM398.8 532.7h.55v.55h-.55zM390.3 528.1h.55v.55h-.55zM409.8 525.7h.55v.55h-.55zM405.9 525.1h.55v.55h-.55zM400.3 537.1h.55v.55h-.55zM395.0 535.8h.55v.55h-.55zM391.5 530.7h.55v.55h-.55zM411.3 534.6h.55v.55h-.55zM400.1 530.8h.55v.55h-.55zM435.3 529.8h.5v.5h-.5zM436.1 524.1h.5v.5h-.5zM424.6 528.0h.5v.5h-.5zM431.8 523.0h.5v.5h-.5zM441.6 510.4h.5v.5h-.5zM436.8 516.2h.5v.5h-.5zM435.6 535.6h.5v.5h-.5zM425.1 523.7h.5v.5h-.5zM431.0 521.5h.5v.5h-.5zM422.7 525.5h.5v.5h-.5zM439.5 526.7h.5v.5h-.5zM425.5 531.2h.5v.5h-.5zM428.5 510.6h.5v.5h-.5zM432.8 520.4h.5v.5h-.5zM431.0 536.9h.5v.5h-.5zM432.0 535.7h.5v.5h-.5zM427.0 529.7h.5v.5h-.5zM420.5 515.5h.5v.5h-.5zM434.8 527.6h.5v.5h-.5zM438.0 517.9h.5v.5h-.5zM425.1 517.3h.5v.5h-.5zM431.2 506.9h.5v.5h-.5z" fill="#444" stroke="none" stroke-width="1.0"/>
<path d="M388.74,522.80 C395.68,521.65 402.62,526.25 404.93,532.00 C405.51,527.40 404.93,533.15 405.51,538.90" fill="none" stroke="#555" stroke-width="0.45"/>
<path d="M388.74,525.67 C395.68,524.52 399.73,529.12 403.48,534.88 C402.62,527.40 402.04,533.15 402.62,538.90" fill="none" stroke="#555" stroke-width="0.45"/>
<path d="M388.74,528.55 C395.68,527.40 396.84,532.00 402.04,537.75 C399.73,527.40 399.15,533.15 399.73,538.90" fill="none" stroke="#555" stroke-width="0.45"/>
<path d="M414.18,504.40 L428.41,505.05 L431.30,507.35 L419.38,509.00 Z" fill="#dedede" stroke="#444" stroke-width="0.5"/>
<path d="M388.74,511.30 C398.57,509.00 407.24,507.27 416.49,504.97 C419.96,506.12 420.53,512.45 419.38,519.35 C418.22,526.25 417.64,527.40 417.64,539.48 L402.62,539.48 C403.77,530.27 403.77,528.55 397.99,525.10 C394.52,523.38 391.63,523.38 388.74,523.95 Z" fill="url(#fwedge)" stroke="#2a2a2a" stroke-width="0.55"/>
<path d="M389.90,514.75 C398.57,512.45 407.24,510.15 415.33,509.00 C417.64,512.45 417.07,520.50 415.91,526.25 C414.75,527.40 415.33,533.15 415.33,538.90" fill="none" stroke="#333" stroke-width="0.5"/>
<path d="M389.90,519.35 C396.84,517.62 404.35,515.90 413.02,513.60 C414.75,518.20 414.18,526.25 411.86,530.85 C408.40,530.27 408.40,533.15 408.97,538.90" fill="none" stroke="#333" stroke-width="0.5"/>
<ellipse cx="411.86" cy="514.17" rx="8.67" ry="6.33" fill="url(#fcore)" opacity="0.60"/>
<ellipse cx="394.52" cy="514.75" rx="5.78" ry="4.60" fill="url(#fcore)" opacity="0.36"/>
<circle cx="413.36" cy="513.67" r="0.80" fill="#fff" stroke="none" stroke-width="1.0" opacity="0.85"/>
<rect x="389.90" y="511.30" width="1.80" height="27.60" fill="#1a1a1a" stroke="none" stroke-width="1.0"/>
<rect x="395.68" y="536.30" width="25.43" height="2.60" fill="#1a1a1a" stroke="none" stroke-width="1.0"/>
<ellipse cx="431.30" cy="499.30" rx="3.6" ry="7.0" fill="#f4f4f4" stroke="#555" stroke-width="0.5" transform="rotate(28 431.30 499.30)"/>
<ellipse cx="431.30" cy="499.30" rx="2.5" ry="5.0" fill="none" stroke="#555" stroke-width="0.5" transform="rotate(28 431.30 499.30)"/>
<ellipse cx="431.30" cy="499.30" rx="1.5" ry="3.0" fill="none" stroke="#444" stroke-width="0.5" transform="rotate(28 431.30 499.30)"/>
</g>
<rect x="423.30" y="486.90" width="14.40" height="24.80" fill="none" stroke="#7b7bea" stroke-width="0.8"/>
<rect x="389.90" y="481.40" width="57.80" height="57.50" fill="none" stroke="#2a2a2a" stroke-width="1.2"/>
<text x="393.20" y="492.40" font-size="9.5" fill="#e8913c">3.94</text>
<text x="424.00" y="472.50" font-size="9.5" fill="#f0281e">NKT</text>
<line x1="133.00" y1="476.00" x2="133.00" y2="422.50" stroke="#222" stroke-width="0.9"/>
<path d="M130.80,426.50 L133.00,422.50 L135.20,426.50" fill="none" stroke="#222" stroke-width="0.9"/>
<text x="136.30" y="512.00" font-size="9.5" fill="#1a1a1a" text-anchor="middle" transform="rotate(-90 136.30 512.00)">CD3-PacBlue</text>
<text x="144.30" y="489.60" font-size="5.2" fill="#1a1a1a" text-anchor="end">10</text>
<text x="144.50" y="487.40" font-size="3.6" fill="#1a1a1a">5</text>
<line x1="147.20" y1="487.60" x2="148.70" y2="487.60" stroke="#222" stroke-width="0.6"/>
<text x="144.30" y="509.90" font-size="5.2" fill="#1a1a1a" text-anchor="end">10</text>
<text x="144.50" y="507.70" font-size="3.6" fill="#1a1a1a">3</text>
<line x1="147.20" y1="507.90" x2="148.70" y2="507.90" stroke="#222" stroke-width="0.6"/>
<text x="144.30" y="531.40" font-size="5.2" fill="#1a1a1a" text-anchor="end">10</text>
<text x="144.50" y="529.20" font-size="3.6" fill="#1a1a1a">1</text>
<line x1="147.20" y1="529.40" x2="148.70" y2="529.40" stroke="#222" stroke-width="0.6"/>
<text x="159.10" y="545.00" font-size="5.2" fill="#1a1a1a" text-anchor="middle">10</text>
<text x="162.00" y="543.00" font-size="3.6" fill="#1a1a1a">1</text>
<line x1="159.70" y1="538.90" x2="159.70" y2="540.60" stroke="#222" stroke-width="0.6"/>
<text x="180.80" y="545.00" font-size="5.2" fill="#1a1a1a" text-anchor="middle">10</text>
<text x="183.70" y="543.00" font-size="3.6" fill="#1a1a1a">3</text>
<line x1="181.40" y1="538.90" x2="181.40" y2="540.60" stroke="#222" stroke-width="0.6"/>
<text x="201.60" y="545.00" font-size="5.2" fill="#1a1a1a" text-anchor="middle">10</text>
<text x="204.50" y="543.00" font-size="3.6" fill="#1a1a1a">5</text>
<line x1="202.20" y1="538.90" x2="202.20" y2="540.60" stroke="#222" stroke-width="0.6"/>
<text x="147.60" y="555.80" font-size="9.5" fill="#1a1a1a">CD45-PerCP</text>
<line x1="208.80" y1="553.00" x2="446.50" y2="553.00" stroke="#222" stroke-width="0.9"/>
<path d="M442.30,550.70 L446.50,553.00 L442.30,555.30" fill="none" stroke="#222" stroke-width="0.9"/>
<text x="463.00" y="450.30" font-size="9.5" fill="#f0281e" text-anchor="middle" transform="rotate(-90 463.00 450.30)"><tspan font-size="5.70" dy="-3.42">Allo</tspan><tspan dy="3.42">CAR70</tspan></text>
<text x="474.60" y="451.40" font-size="9.5" fill="#f0281e" text-anchor="middle" transform="rotate(-90 474.60 451.40)">-NKT</text>
<text x="463.00" y="509.20" font-size="9.5" fill="#e8913c" text-anchor="middle" transform="rotate(-90 463.00 509.20)"><tspan font-size="5.70" dy="-3.42">Allo</tspan><tspan dy="3.42">CAR70-NKT</tspan></text>
<text x="474.60" y="510.40" font-size="9.5" fill="#e8913c" text-anchor="middle" transform="rotate(-90 474.60 510.40)">+ Decitabine</text>
<text x="473.50" y="400.70" font-size="15.3" fill="#000" font-weight="bold">H</text>
<line x1="524.20" y1="513.30" x2="524.20" y2="428.20" stroke="#222" stroke-width="1.0"/>
<line x1="521.20" y1="513.30" x2="524.20" y2="513.30" stroke="#222" stroke-width="1.0"/>
<text x="519.90" y="516.60" font-size="9.3" fill="#1a1a1a" text-anchor="end">0</text>
<line x1="521.20" y1="492.02" x2="524.20" y2="492.02" stroke="#222" stroke-width="1.0"/>
<text x="519.90" y="495.32" font-size="9.3" fill="#1a1a1a" text-anchor="end">5</text>
<line x1="521.20" y1="470.75" x2="524.20" y2="470.75" stroke="#222" stroke-width="1.0"/>
<text x="519.90" y="474.05" font-size="9.3" fill="#1a1a1a" text-anchor="end">10</text>
<line x1="521.20" y1="449.47" x2="524.20" y2="449.47" stroke="#222" stroke-width="1.0"/>
<text x="519.90" y="452.77" font-size="9.3" fill="#1a1a1a" text-anchor="end">15</text>
<line x1="521.20" y1="428.20" x2="524.20" y2="428.20" stroke="#222" stroke-width="1.0"/>
<text x="519.90" y="431.50" font-size="9.3" fill="#1a1a1a" text-anchor="end">20</text>
<line x1="524.20" y1="513.30" x2="675.70" y2="513.30" stroke="#222" stroke-width="1.0"/>
<rect x="528.20" y="495.00" width="8.70" height="18.30" fill="#f5391a" stroke="#1a1a1a" stroke-width="0.9"/>
<line x1="532.55" y1="513.30" x2="532.55" y2="515.80" stroke="#222" stroke-width="0.9"/>
<circle cx="530.75" cy="489.11" r="1.55" fill="#111" stroke="none" stroke-width="1.0"/>
<circle cx="534.75" cy="492.42" r="1.55" fill="#111" stroke="none" stroke-width="1.0"/>
<circle cx="530.05" cy="494.64" r="1.55" fill="#111" stroke="none" stroke-width="1.0"/>
<circle cx="533.05" cy="498.32" r="1.55" fill="#111" stroke="none" stroke-width="1.0"/>
<circle cx="534.55" cy="500.53" r="1.55" fill="#111" stroke="none" stroke-width="1.0"/>
<line x1="532.55" y1="493.16" x2="532.55" y2="496.85" stroke="#1a1a1a" stroke-width="0.9"/>
<line x1="530.35" y1="493.16" x2="534.75" y2="493.16" stroke="#1a1a1a" stroke-width="0.9"/>
<line x1="530.35" y1="496.85" x2="534.75" y2="496.85" stroke="#1a1a1a" stroke-width="0.9"/>
<rect x="541.00" y="499.68" width="8.70" height="13.62" fill="#f09a30" stroke="#1a1a1a" stroke-width="0.9"/>
<line x1="545.35" y1="513.30" x2="545.35" y2="515.80" stroke="#222" stroke-width="0.9"/>
<rect x="542.05" y="493.19" width="3.00" height="3.00" fill="#111" stroke="none" stroke-width="1.0"/>
<rect x="546.05" y="496.00" width="3.00" height="3.00" fill="#111" stroke="none" stroke-width="1.0"/>
<rect x="541.35" y="497.87" width="3.00" height="3.00" fill="#111" stroke="none" stroke-width="1.0"/>
<rect x="544.35" y="500.99" width="3.00" height="3.00" fill="#111" stroke="none" stroke-width="1.0"/>
<rect x="545.85" y="502.87" width="3.00" height="3.00" fill="#111" stroke="none" stroke-width="1.0"/>
<line x1="545.35" y1="498.12" x2="545.35" y2="501.25" stroke="#1a1a1a" stroke-width="0.9"/>
<line x1="543.15" y1="498.12" x2="547.55" y2="498.12" stroke="#1a1a1a" stroke-width="0.9"/>
<line x1="543.15" y1="501.25" x2="547.55" y2="501.25" stroke="#1a1a1a" stroke-width="0.9"/>
<rect x="558.00" y="493.30" width="9.00" height="20.00" fill="#f5391a" stroke="#1a1a1a" stroke-width="0.9"/>
<line x1="562.50" y1="513.30" x2="562.50" y2="515.80" stroke="#222" stroke-width="0.9"/>
<circle cx="560.70" cy="487.08" r="1.55" fill="#111" stroke="none" stroke-width="1.0"/>
<circle cx="564.70" cy="490.58" r="1.55" fill="#111" stroke="none" stroke-width="1.0"/>
<circle cx="560.00" cy="492.91" r="1.55" fill="#111" stroke="none" stroke-width="1.0"/>
<circle cx="563.00" cy="496.80" r="1.55" fill="#111" stroke="none" stroke-width="1.0"/>
<circle cx="564.50" cy="499.14" r="1.55" fill="#111" stroke="none" stroke-width="1.0"/>
<line x1="562.50" y1="491.36" x2="562.50" y2="495.25" stroke="#1a1a1a" stroke-width="0.9"/>
<line x1="560.30" y1="491.36" x2="564.70" y2="491.36" stroke="#1a1a1a" stroke-width="0.9"/>
<line x1="560.30" y1="495.25" x2="564.70" y2="495.25" stroke="#1a1a1a" stroke-width="0.9"/>
<rect x="571.40" y="495.00" width="8.80" height="18.30" fill="#f09a30" stroke="#1a1a1a" stroke-width="0.9"/>
<line x1="575.80" y1="513.30" x2="575.80" y2="515.80" stroke="#222" stroke-width="0.9"/>
<rect x="572.50" y="487.61" width="3.00" height="3.00" fill="#111" stroke="none" stroke-width="1.0"/>
<rect x="576.50" y="490.92" width="3.00" height="3.00" fill="#111" stroke="none" stroke-width="1.0"/>
<rect x="571.80" y="493.14" width="3.00" height="3.00" fill="#111" stroke="none" stroke-width="1.0"/>
<rect x="574.80" y="496.82" width="3.00" height="3.00" fill="#111" stroke="none" stroke-width="1.0"/>
<rect x="576.30" y="499.03" width="3.00" height="3.00" fill="#111" stroke="none" stroke-width="1.0"/>
<line x1="575.80" y1="493.16" x2="575.80" y2="496.85" stroke="#1a1a1a" stroke-width="0.9"/>
<line x1="573.60" y1="493.16" x2="578.00" y2="493.16" stroke="#1a1a1a" stroke-width="0.9"/>
<line x1="573.60" y1="496.85" x2="578.00" y2="496.85" stroke="#1a1a1a" stroke-width="0.9"/>
<rect x="589.40" y="488.62" width="8.30" height="24.68" fill="#f5391a" stroke="#1a1a1a" stroke-width="0.9"/>
<line x1="593.55" y1="513.30" x2="593.55" y2="515.80" stroke="#222" stroke-width="0.9"/>
<circle cx="591.75" cy="481.50" r="1.55" fill="#111" stroke="none" stroke-width="1.0"/>
<circle cx="595.75" cy="485.51" r="1.55" fill="#111" stroke="none" stroke-width="1.0"/>
<circle cx="591.05" cy="488.18" r="1.55" fill="#111" stroke="none" stroke-width="1.0"/>
<circle cx="594.05" cy="492.63" r="1.55" fill="#111" stroke="none" stroke-width="1.0"/>
<circle cx="595.55" cy="495.30" r="1.55" fill="#111" stroke="none" stroke-width="1.0"/>
<line x1="593.55" y1="486.40" x2="593.55" y2="490.85" stroke="#1a1a1a" stroke-width="0.9"/>
<line x1="591.35" y1="486.40" x2="595.75" y2="486.40" stroke="#1a1a1a" stroke-width="0.9"/>
<line x1="591.35" y1="490.85" x2="595.75" y2="490.85" stroke="#1a1a1a" stroke-width="0.9"/>
<rect x="602.00" y="474.15" width="8.70" height="39.15" fill="#f09a30" stroke="#1a1a1a" stroke-width="0.9"/>
<line x1="606.35" y1="513.30" x2="606.35" y2="515.80" stroke="#222" stroke-width="0.9"/>
<rect x="603.05" y="462.76" width="3.00" height="3.00" fill="#111" stroke="none" stroke-width="1.0"/>
<rect x="607.05" y="468.32" width="3.00" height="3.00" fill="#111" stroke="none" stroke-width="1.0"/>
<rect x="602.35" y="472.04" width="3.00" height="3.00" fill="#111" stroke="none" stroke-width="1.0"/>
<rect x="605.35" y="478.22" width="3.00" height="3.00" fill="#111" stroke="none" stroke-width="1.0"/>
<rect x="606.85" y="481.93" width="3.00" height="3.00" fill="#111" stroke="none" stroke-width="1.0"/>
<line x1="606.35" y1="471.06" x2="606.35" y2="477.25" stroke="#1a1a1a" stroke-width="0.9"/>
<line x1="604.15" y1="471.06" x2="608.55" y2="471.06" stroke="#1a1a1a" stroke-width="0.9"/>
<line x1="604.15" y1="477.25" x2="608.55" y2="477.25" stroke="#1a1a1a" stroke-width="0.9"/>
<rect x="619.40" y="466.07" width="9.00" height="47.23" fill="#f5391a" stroke="#1a1a1a" stroke-width="0.9"/>
<line x1="623.90" y1="513.30" x2="623.90" y2="515.80" stroke="#222" stroke-width="0.9"/>
<circle cx="622.10" cy="454.62" r="1.55" fill="#111" stroke="none" stroke-width="1.0"/>
<circle cx="626.10" cy="461.06" r="1.55" fill="#111" stroke="none" stroke-width="1.0"/>
<circle cx="621.40" cy="465.35" r="1.55" fill="#111" stroke="none" stroke-width="1.0"/>
<circle cx="624.40" cy="472.51" r="1.55" fill="#111" stroke="none" stroke-width="1.0"/>
<circle cx="625.90" cy="476.80" r="1.55" fill="#111" stroke="none" stroke-width="1.0"/>
<line x1="623.90" y1="462.49" x2="623.90" y2="469.65" stroke="#1a1a1a" stroke-width="0.9"/>
<line x1="621.70" y1="462.49" x2="626.10" y2="462.49" stroke="#1a1a1a" stroke-width="0.9"/>
<line x1="621.70" y1="469.65" x2="626.10" y2="469.65" stroke="#1a1a1a" stroke-width="0.9"/>
<rect x="632.40" y="454.16" width="9.00" height="59.14" fill="#f09a30" stroke="#1a1a1a" stroke-width="0.9"/>
<line x1="636.90" y1="513.30" x2="636.90" y2="515.80" stroke="#222" stroke-width="0.9"/>
<rect x="633.60" y="438.92" width="3.00" height="3.00" fill="#111" stroke="none" stroke-width="1.0"/>
<rect x="637.60" y="446.64" width="3.00" height="3.00" fill="#111" stroke="none" stroke-width="1.0"/>
<rect x="632.90" y="451.80" width="3.00" height="3.00" fill="#111" stroke="none" stroke-width="1.0"/>
<rect x="635.90" y="460.38" width="3.00" height="3.00" fill="#111" stroke="none" stroke-width="1.0"/>
<rect x="637.40" y="465.54" width="3.00" height="3.00" fill="#111" stroke="none" stroke-width="1.0"/>
<line x1="636.90" y1="449.86" x2="636.90" y2="458.45" stroke="#1a1a1a" stroke-width="0.9"/>
<line x1="634.70" y1="449.86" x2="639.10" y2="449.86" stroke="#1a1a1a" stroke-width="0.9"/>
<line x1="634.70" y1="458.45" x2="639.10" y2="458.45" stroke="#1a1a1a" stroke-width="0.9"/>
<rect x="650.00" y="503.94" width="9.00" height="9.36" fill="#f5391a" stroke="#1a1a1a" stroke-width="0.9"/>
<line x1="654.50" y1="513.30" x2="654.50" y2="515.80" stroke="#222" stroke-width="0.9"/>
<circle cx="652.70" cy="499.76" r="1.55" fill="#111" stroke="none" stroke-width="1.0"/>
<circle cx="656.70" cy="502.11" r="1.55" fill="#111" stroke="none" stroke-width="1.0"/>
<circle cx="652.00" cy="503.68" r="1.55" fill="#111" stroke="none" stroke-width="1.0"/>
<circle cx="655.00" cy="506.29" r="1.55" fill="#111" stroke="none" stroke-width="1.0"/>
<circle cx="656.50" cy="507.86" r="1.55" fill="#111" stroke="none" stroke-width="1.0"/>
<line x1="654.50" y1="502.63" x2="654.50" y2="505.25" stroke="#1a1a1a" stroke-width="0.9"/>
<line x1="652.30" y1="502.63" x2="656.70" y2="502.63" stroke="#1a1a1a" stroke-width="0.9"/>
<line x1="652.30" y1="505.25" x2="656.70" y2="505.25" stroke="#1a1a1a" stroke-width="0.9"/>
<rect x="663.00" y="495.00" width="8.80" height="18.30" fill="#f09a30" stroke="#1a1a1a" stroke-width="0.9"/>
<line x1="667.40" y1="513.30" x2="667.40" y2="515.80" stroke="#222" stroke-width="0.9"/>
<rect x="664.10" y="487.61" width="3.00" height="3.00" fill="#111" stroke="none" stroke-width="1.0"/>
<rect x="668.10" y="490.92" width="3.00" height="3.00" fill="#111" stroke="none" stroke-width="1.0"/>
<rect x="663.40" y="493.14" width="3.00" height="3.00" fill="#111" stroke="none" stroke-width="1.0"/>
<rect x="666.40" y="496.82" width="3.00" height="3.00" fill="#111" stroke="none" stroke-width="1.0"/>
<rect x="667.90" y="499.03" width="3.00" height="3.00" fill="#111" stroke="none" stroke-width="1.0"/>
<line x1="667.40" y1="493.16" x2="667.40" y2="496.85" stroke="#1a1a1a" stroke-width="0.9"/>
<line x1="665.20" y1="493.16" x2="669.60" y2="493.16" stroke="#1a1a1a" stroke-width="0.9"/>
<line x1="665.20" y1="496.85" x2="669.60" y2="496.85" stroke="#1a1a1a" stroke-width="0.9"/>
<path d="M532.50,479.80 L532.50,478.00 L545.40,478.00 L545.40,479.80" fill="none" stroke="#222" stroke-width="0.9"/>
<text x="538.90" y="476.00" font-size="9.3" fill="#1a1a1a" text-anchor="middle">ns</text>
<path d="M562.50,479.80 L562.50,478.00 L575.80,478.00 L575.80,479.80" fill="none" stroke="#222" stroke-width="0.9"/>
<text x="569.20" y="476.00" font-size="9.3" fill="#1a1a1a" text-anchor="middle">ns</text>
<path d="M594.00,451.60 L594.00,449.80 L607.00,449.80 L607.00,451.60" fill="none" stroke="#222" stroke-width="0.9"/>
<path d="M600.50,445.10 L600.98,446.24 L602.21,446.34 L601.27,447.15 L601.56,448.36 L600.50,447.71 L599.44,448.36 L599.73,447.15 L598.79,446.34 L600.02,446.24 Z" fill="#1a1a1a"/>
<path d="M624.60,438.10 L624.60,436.30 L637.40,436.30 L637.40,438.10" fill="none" stroke="#222" stroke-width="0.9"/>
<text x="631.00" y="434.40" font-size="9.3" fill="#1a1a1a" text-anchor="middle">ns</text>
<path d="M654.00,485.00 L654.00,483.20 L668.00,483.20 L668.00,485.00" fill="none" stroke="#222" stroke-width="0.9"/>
<path d="M661.00,478.50 L661.48,479.64 L662.71,479.74 L661.77,480.55 L662.06,481.76 L661.00,481.11 L659.94,481.76 L660.23,480.55 L659.29,479.74 L660.52,479.64 Z" fill="#1a1a1a"/>
<text x="539.00" y="530.80" font-size="9.3" fill="#1a1a1a" text-anchor="middle">Blood</text>
<text x="568.40" y="530.80" font-size="9.3" fill="#1a1a1a" text-anchor="middle">Spleen</text>
<text x="600.80" y="530.80" font-size="9.3" fill="#1a1a1a" text-anchor="middle">Liver</text>
<text x="631.00" y="530.80" font-size="9.3" fill="#1a1a1a" text-anchor="middle">Lung</text>
<text x="661.30" y="526.60" font-size="9.3" fill="#1a1a1a" text-anchor="middle">Bone</text>
<text x="661.30" y="537.60" font-size="9.3" fill="#1a1a1a" text-anchor="middle">marrow</text>
<text x="494.60" y="469.90" font-size="9.3" fill="#1a1a1a" text-anchor="middle" transform="rotate(-90 494.60 469.90)">% <tspan fill="#f0281e" font-size="5.58" dy="-3.35">Allo</tspan><tspan fill="#f0281e" dy="3.35">CAR70-NKT</tspan></text>
<text x="505.90" y="469.50" font-size="9.3" fill="#1a1a1a" text-anchor="middle" transform="rotate(-90 505.90 469.50)">cells of total cells</text>
<text x="3.00" y="579.00" font-size="15.3" fill="#000" font-weight="bold">I</text>
<text x="13.70" y="592.20" font-size="9.4" fill="#1a1a1a">Pre-gated on <tspan font-size="5.64" dy="-3.38">Allo</tspan><tspan dy="3.38">CAR70-NKT</tspan><tspan> cells in bone marrow</tspan></text>
<line x1="26.70" y1="597.00" x2="209.60" y2="597.00" stroke="#222" stroke-width="0.9"/>
<clipPath id="ic0"><rect x="27.30" y="601.60" width="58.10" height="57.90"/></clipPath>
<g clip-path="url(#ic0)">
<path d="M27.30,659.00 L28.03,658.99 L28.75,658.99 L29.48,658.99 L30.21,658.99 L30.93,658.98 L31.66,658.98 L32.38,658.97 L33.11,658.96 L33.84,658.95 L34.56,658.93 L35.29,658.92 L36.02,658.89 L36.74,658.87 L37.47,658.84 L38.19,658.81 L38.92,658.77 L39.65,658.72 L40.37,658.68 L41.10,658.62 L41.83,658.56 L42.55,658.50 L43.28,658.42 L44.00,658.33 L44.73,658.22 L45.46,658.07 L46.18,657.87 L46.91,657.60 L47.64,657.22 L48.36,656.71 L49.09,656.02 L49.81,655.13 L50.54,654.01 L51.27,652.64 L51.99,651.06 L52.72,649.29 L53.45,647.43 L54.17,645.58 L54.90,643.87 L55.62,642.42 L56.35,641.38 L57.08,640.83 L57.80,640.97 L58.53,642.93 L59.26,646.34 L59.98,650.18 L60.71,653.54 L61.43,655.97 L62.16,657.47 L62.89,658.27 L63.61,658.64 L64.34,658.81 L65.07,658.88 L65.79,658.91 L66.52,658.93 L67.24,658.95 L67.97,658.96 L68.70,658.97 L69.42,658.98 L70.15,658.98 L70.88,658.99 L71.60,658.99 L72.33,658.99 L73.05,658.99 L73.78,659.00 L74.51,659.00 L75.23,659.00 L75.96,659.00 L76.69,659.00 L77.41,659.00 L78.14,659.00 L78.86,659.00 L79.59,659.00 L80.32,659.00 L81.04,659.00 L81.77,659.00 L82.50,659.00 L83.22,659.00 L83.95,659.00 L84.67,659.00 L85.40,659.00 L85.40,659.00 L27.30,659.00 Z" fill="#4d4d4d" stroke="none" stroke-width="1.0"/>
<path d="M27.30,641.28 L28.03,641.28 L28.75,641.28 L29.48,641.28 L30.21,641.28 L30.93,641.28 L31.66,641.28 L32.38,641.27 L33.11,641.27 L33.84,641.26 L34.56,641.26 L35.29,641.25 L36.02,641.24 L36.74,641.23 L37.47,641.21 L38.19,641.20 L38.92,641.17 L39.65,641.14 L40.37,641.11 L41.10,641.07 L41.83,641.03 L42.55,640.97 L43.28,640.91 L44.00,640.84 L44.73,640.75 L45.46,640.66 L46.18,640.55 L46.91,640.43 L47.64,640.30 L48.36,640.16 L49.09,640.00 L49.81,639.83 L50.54,639.65 L51.27,639.44 L51.99,639.20 L52.72,638.92 L53.45,638.56 L54.17,638.11 L54.90,637.53 L55.62,636.80 L56.35,635.91 L57.08,634.91 L57.80,633.85 L58.53,632.85 L59.26,632.01 L59.98,631.41 L60.71,631.09 L61.43,630.99 L62.16,630.95 L62.89,630.79 L63.61,630.31 L64.34,629.36 L65.07,627.93 L65.79,626.16 L66.52,624.31 L67.24,622.76 L67.97,621.85 L68.70,621.82 L69.42,622.77 L70.15,624.57 L70.88,626.97 L71.60,629.64 L72.33,632.24 L73.05,634.54 L73.78,636.42 L74.51,637.83 L75.23,638.84 L75.96,639.52 L76.69,639.98 L77.41,640.28 L78.14,640.48 L78.86,640.63 L79.59,640.74 L80.32,640.83 L81.04,640.91 L81.77,640.97 L82.50,641.03 L83.22,641.07 L83.95,641.11 L84.67,641.14 L85.40,641.17" fill="none" stroke="#f0281e" stroke-width="1.1"/>
<path d="M27.30,622.98 L28.03,622.97 L28.75,622.96 L29.48,622.95 L30.21,622.94 L30.93,622.93 L31.66,622.92 L32.38,622.90 L33.11,622.88 L33.84,622.87 L34.56,622.84 L35.29,622.82 L36.02,622.79 L36.74,622.76 L37.47,622.73 L38.19,622.70 L38.92,622.66 L39.65,622.62 L40.37,622.58 L41.10,622.53 L41.83,622.48 L42.55,622.43 L43.28,622.38 L44.00,622.32 L44.73,622.26 L45.46,622.20 L46.18,622.14 L46.91,622.07 L47.64,622.00 L48.36,621.93 L49.09,621.85 L49.81,621.76 L50.54,621.66 L51.27,621.55 L51.99,621.41 L52.72,621.25 L53.45,621.05 L54.17,620.81 L54.90,620.53 L55.62,620.20 L56.35,619.83 L57.08,619.41 L57.80,618.95 L58.53,618.48 L59.26,618.02 L59.98,617.57 L60.71,617.18 L61.43,616.86 L62.16,616.61 L62.89,616.41 L63.61,616.18 L64.34,615.74 L65.07,614.85 L65.79,613.25 L66.52,610.89 L67.24,608.03 L67.97,605.41 L68.70,603.92 L69.42,604.22 L70.15,606.38 L70.88,609.79 L71.60,613.54 L72.33,616.81 L73.05,619.20 L73.78,620.72 L74.51,621.57 L75.23,622.02 L75.96,622.25 L76.69,622.39 L77.41,622.48 L78.14,622.55 L78.86,622.60 L79.59,622.65 L80.32,622.69 L81.04,622.73 L81.77,622.76 L82.50,622.79 L83.22,622.82 L83.95,622.84 L84.67,622.86 L85.40,622.88" fill="none" stroke="#e8913c" stroke-width="1.1"/>
<line x1="28.30" y1="641.28" x2="28.30" y2="632.28" stroke="#f0281e" stroke-width="1.1"/>
</g>
<rect x="27.30" y="601.60" width="58.10" height="57.90" fill="none" stroke="#222" stroke-width="1.2"/>
<clipPath id="ic1"><rect x="90.50" y="601.60" width="58.10" height="57.90"/></clipPath>
<g clip-path="url(#ic1)">
<path d="M90.50,658.90 L91.23,658.88 L91.95,658.86 L92.68,658.84 L93.41,658.81 L94.13,658.79 L94.86,658.76 L95.58,658.73 L96.31,658.69 L97.04,658.66 L97.76,658.62 L98.49,658.59 L99.22,658.55 L99.94,658.51 L100.67,658.47 L101.39,658.43 L102.12,658.39 L102.85,658.34 L103.57,658.30 L104.30,658.24 L105.03,658.16 L105.75,658.06 L106.48,657.93 L107.20,657.74 L107.93,657.48 L108.66,657.13 L109.38,656.65 L110.11,656.03 L110.83,655.25 L111.56,654.28 L112.29,653.13 L113.01,651.80 L113.74,650.32 L114.47,648.72 L115.19,647.09 L115.92,645.49 L116.64,644.02 L117.37,642.76 L118.10,641.80 L118.82,641.21 L119.55,641.03 L120.28,643.14 L121.00,648.04 L121.73,653.05 L122.45,656.42 L123.18,658.06 L123.91,658.67 L124.63,658.84 L125.36,658.89 L126.09,658.91 L126.81,658.93 L127.54,658.94 L128.26,658.95 L128.99,658.96 L129.72,658.97 L130.44,658.97 L131.17,658.98 L131.90,658.98 L132.62,658.99 L133.35,658.99 L134.07,658.99 L134.80,658.99 L135.53,659.00 L136.25,659.00 L136.98,659.00 L137.71,659.00 L138.43,659.00 L139.16,659.00 L139.88,659.00 L140.61,659.00 L141.34,659.00 L142.06,659.00 L142.79,659.00 L143.52,659.00 L144.24,659.00 L144.97,659.00 L145.69,659.00 L146.42,659.00 L147.15,659.00 L147.87,659.00 L148.60,659.00 L148.60,659.00 L90.50,659.00 Z" fill="#4d4d4d" stroke="none" stroke-width="1.0"/>
<path d="M90.50,633.01 L91.23,641.19 L91.95,641.16 L92.68,641.12 L93.41,641.07 L94.13,641.01 L94.86,640.93 L95.58,640.83 L96.31,640.72 L97.04,640.59 L97.76,640.43 L98.49,640.26 L99.22,640.05 L99.94,639.83 L100.67,639.58 L101.39,639.31 L102.12,639.01 L102.85,638.70 L103.57,638.38 L104.30,638.03 L105.03,637.68 L105.75,637.30 L106.48,636.90 L107.20,636.47 L107.93,635.97 L108.66,635.41 L109.38,634.74 L110.11,633.95 L110.83,633.02 L111.56,631.94 L112.29,630.73 L113.01,629.41 L113.74,628.06 L114.47,626.73 L115.19,625.54 L115.92,624.57 L116.64,623.92 L117.37,623.66 L118.10,623.82 L118.82,624.41 L119.55,625.38 L120.28,626.65 L121.00,628.13 L121.73,629.71 L122.45,631.29 L123.18,632.78 L123.91,634.11 L124.63,635.24 L125.36,636.16 L126.09,636.88 L126.81,637.42 L127.54,637.81 L128.26,638.08 L128.99,638.26 L129.72,638.38 L130.44,638.46 L131.17,638.53 L131.90,638.58 L132.62,638.64 L133.35,638.70 L134.07,638.78 L134.80,638.86 L135.53,638.96 L136.25,639.06 L136.98,639.18 L137.71,639.30 L138.43,639.43 L139.16,639.56 L139.88,639.69 L140.61,639.82 L141.34,639.96 L142.06,640.08 L142.79,640.21 L143.52,640.32 L144.24,640.43 L144.97,640.54 L145.69,640.63 L146.42,640.72 L147.15,640.80 L147.87,640.87 L148.60,640.93" fill="none" stroke="#f0281e" stroke-width="1.1"/>
<path d="M90.50,615.76 L91.23,622.96 L91.95,622.95 L92.68,622.93 L93.41,622.90 L94.13,622.87 L94.86,622.83 L95.58,622.78 L96.31,622.72 L97.04,622.64 L97.76,622.56 L98.49,622.47 L99.22,622.36 L99.94,622.24 L100.67,622.11 L101.39,621.96 L102.12,621.81 L102.85,621.65 L103.57,621.48 L104.30,621.30 L105.03,621.13 L105.75,620.95 L106.48,620.77 L107.20,620.59 L107.93,620.40 L108.66,620.20 L109.38,619.97 L110.11,619.70 L110.83,619.38 L111.56,618.97 L112.29,618.47 L113.01,617.84 L113.74,617.07 L114.47,616.15 L115.19,615.07 L115.92,613.86 L116.64,612.54 L117.37,611.16 L118.10,609.77 L118.82,608.45 L119.55,607.27 L120.28,606.30 L121.00,605.61 L121.73,605.22 L122.45,605.18 L123.18,605.46 L123.91,606.04 L124.63,606.88 L125.36,607.90 L126.09,609.05 L126.81,610.26 L127.54,611.45 L128.26,612.59 L128.99,613.63 L129.72,614.56 L130.44,615.37 L131.17,616.06 L131.90,616.64 L132.62,617.14 L133.35,617.58 L134.07,617.96 L134.80,618.31 L135.53,618.64 L136.25,618.96 L136.98,619.28 L137.71,619.58 L138.43,619.89 L139.16,620.19 L139.88,620.48 L140.61,620.76 L141.34,621.02 L142.06,621.27 L142.79,621.51 L143.52,621.72 L144.24,621.91 L144.97,622.09 L145.69,622.24 L146.42,622.37 L147.15,622.49 L147.87,622.59 L148.60,622.67" fill="none" stroke="#e8913c" stroke-width="1.1"/>
<line x1="91.70" y1="623.02" x2="91.70" y2="610.02" stroke="#e8913c" stroke-width="1.1"/>
<line x1="91.70" y1="641.28" x2="91.70" y2="633.28" stroke="#f0281e" stroke-width="1.1"/>
</g>
<rect x="90.50" y="601.60" width="58.10" height="57.90" fill="none" stroke="#222" stroke-width="1.2"/>
<clipPath id="ic2"><rect x="153.10" y="601.60" width="58.10" height="57.90"/></clipPath>
<g clip-path="url(#ic2)">
<path d="M153.10,658.97 L153.83,658.96 L154.55,658.95 L155.28,658.93 L156.00,658.92 L156.73,658.90 L157.46,658.87 L158.18,658.84 L158.91,658.81 L159.64,658.78 L160.36,658.74 L161.09,658.70 L161.81,658.66 L162.54,658.61 L163.27,658.56 L163.99,658.51 L164.72,658.46 L165.45,658.40 L166.17,658.32 L166.90,658.24 L167.62,658.12 L168.35,657.96 L169.08,657.73 L169.80,657.41 L170.53,656.96 L171.26,656.34 L171.98,655.52 L172.71,654.47 L173.44,653.18 L174.16,651.65 L174.89,649.94 L175.61,648.10 L176.34,646.24 L177.07,644.49 L177.79,642.98 L178.52,641.84 L179.25,641.17 L179.97,641.10 L180.70,643.15 L181.42,647.17 L182.15,651.55 L182.88,655.02 L183.60,657.18 L184.33,658.27 L185.06,658.72 L185.78,658.88 L186.51,658.93 L187.23,658.96 L187.96,658.97 L188.69,658.97 L189.41,658.98 L190.14,658.99 L190.87,658.99 L191.59,658.99 L192.32,658.99 L193.04,659.00 L193.77,659.00 L194.50,659.00 L195.22,659.00 L195.95,659.00 L196.67,659.00 L197.40,659.00 L198.13,659.00 L198.85,659.00 L199.58,659.00 L200.31,659.00 L201.03,659.00 L201.76,659.00 L202.48,659.00 L203.21,659.00 L203.94,659.00 L204.66,659.00 L205.39,659.00 L206.12,659.00 L206.84,659.00 L207.57,659.00 L208.29,659.00 L209.02,659.00 L209.75,659.00 L210.47,659.00 L211.20,659.00 L211.20,659.00 L153.10,659.00 Z" fill="#4d4d4d" stroke="none" stroke-width="1.0"/>
<path d="M153.10,641.26 L153.83,641.26 L154.55,641.25 L155.28,641.25 L156.00,641.24 L156.73,641.23 L157.46,641.23 L158.18,641.22 L158.91,641.21 L159.64,641.19 L160.36,641.18 L161.09,641.17 L161.81,641.15 L162.54,641.13 L163.27,641.12 L163.99,641.09 L164.72,641.07 L165.45,641.05 L166.17,641.02 L166.90,640.99 L167.62,640.96 L168.35,640.93 L169.08,640.89 L169.80,640.85 L170.53,640.80 L171.26,640.72 L171.98,640.62 L172.71,640.48 L173.44,640.30 L174.16,640.06 L174.89,639.77 L175.61,639.44 L176.34,639.11 L177.07,638.81 L177.79,638.59 L178.52,638.48 L179.25,638.49 L179.97,638.61 L180.70,638.83 L181.42,639.09 L182.15,639.37 L182.88,639.63 L183.60,639.84 L184.33,640.01 L185.06,640.12 L185.78,640.20 L186.51,640.25 L187.23,640.24 L187.96,640.14 L188.69,639.76 L189.41,638.80 L190.14,636.84 L190.87,633.67 L191.59,629.66 L192.32,625.99 L193.04,624.15 L193.77,625.02 L194.50,628.19 L195.22,632.30 L195.95,635.97 L196.67,638.47 L197.40,639.84 L198.13,640.47 L198.85,640.71 L199.58,640.81 L200.31,640.86 L201.03,640.90 L201.76,640.93 L202.48,640.97 L203.21,640.99 L203.94,641.02 L204.66,641.05 L205.39,641.07 L206.12,641.09 L206.84,641.12 L207.57,641.13 L208.29,641.15 L209.02,641.17 L209.75,641.18 L210.47,641.19 L211.20,641.21" fill="none" stroke="#f0281e" stroke-width="1.1"/>
<path d="M153.10,623.02 L153.83,623.02 L154.55,623.02 L155.28,623.02 L156.00,623.02 L156.73,623.02 L157.46,623.02 L158.18,623.02 L158.91,623.02 L159.64,623.02 L160.36,623.02 L161.09,623.02 L161.81,623.02 L162.54,623.02 L163.27,623.01 L163.99,623.01 L164.72,623.01 L165.45,623.01 L166.17,623.01 L166.90,623.01 L167.62,623.01 L168.35,623.01 L169.08,623.01 L169.80,623.01 L170.53,623.00 L171.26,623.00 L171.98,622.99 L172.71,622.98 L173.44,622.97 L174.16,622.96 L174.89,622.94 L175.61,622.91 L176.34,622.88 L177.07,622.85 L177.79,622.80 L178.52,622.75 L179.25,622.70 L179.97,622.63 L180.70,622.56 L181.42,622.49 L182.15,622.42 L182.88,622.34 L183.60,622.27 L184.33,622.21 L185.06,622.15 L185.78,622.10 L186.51,622.06 L187.23,622.04 L187.96,622.02 L188.69,622.00 L189.41,621.86 L190.14,621.30 L190.87,619.70 L191.59,616.34 L192.32,611.32 L193.04,606.41 L193.77,604.37 L194.50,606.56 L195.22,611.62 L195.95,616.77 L196.67,620.25 L197.40,621.96 L198.13,622.60 L198.85,622.81 L199.58,622.88 L200.31,622.91 L201.03,622.94 L201.76,622.96 L202.48,622.97 L203.21,622.98 L203.94,622.99 L204.66,623.00 L205.39,623.00 L206.12,623.01 L206.84,623.01 L207.57,623.01 L208.29,623.01 L209.02,623.01 L209.75,623.01 L210.47,623.01 L211.20,623.01" fill="none" stroke="#e8913c" stroke-width="1.1"/>
</g>
<rect x="153.10" y="601.60" width="58.10" height="57.90" fill="none" stroke="#222" stroke-width="1.2"/>
<line x1="25.60" y1="659.50" x2="27.30" y2="659.50" stroke="#444" stroke-width="0.5"/>
<text x="25.20" y="661.00" font-size="4.3" fill="#333" text-anchor="end">0</text>
<line x1="25.60" y1="648.56" x2="27.30" y2="648.56" stroke="#444" stroke-width="0.5"/>
<text x="25.20" y="650.06" font-size="4.3" fill="#333" text-anchor="end">20</text>
<line x1="25.60" y1="637.62" x2="27.30" y2="637.62" stroke="#444" stroke-width="0.5"/>
<text x="25.20" y="639.12" font-size="4.3" fill="#333" text-anchor="end">40</text>
<line x1="25.60" y1="626.68" x2="27.30" y2="626.68" stroke="#444" stroke-width="0.5"/>
<text x="25.20" y="628.18" font-size="4.3" fill="#333" text-anchor="end">60</text>
<line x1="25.60" y1="615.74" x2="27.30" y2="615.74" stroke="#444" stroke-width="0.5"/>
<text x="25.20" y="617.24" font-size="4.3" fill="#333" text-anchor="end">80</text>
<line x1="25.60" y1="604.80" x2="27.30" y2="604.80" stroke="#444" stroke-width="0.5"/>
<text x="25.20" y="606.30" font-size="4.3" fill="#333" text-anchor="end">100</text>
<text x="29.80" y="665.00" font-size="4.3" fill="#333" text-anchor="middle">0</text>
<text x="35.50" y="665.00" font-size="4.3" fill="#333" text-anchor="middle">10</text>
<text x="49.50" y="665.00" font-size="4.3" fill="#333" text-anchor="middle">10</text>
<text x="61.50" y="665.00" font-size="4.3" fill="#333" text-anchor="middle">10</text>
<text x="75.00" y="665.00" font-size="4.3" fill="#333" text-anchor="middle">10</text>
<text x="38.00" y="663.50" font-size="3.0" fill="#333">3</text>
<text x="52.00" y="663.50" font-size="3.0" fill="#333">3</text>
<text x="64.00" y="663.50" font-size="3.0" fill="#333">3</text>
<text x="77.50" y="663.50" font-size="3.0" fill="#333">3</text>
<text x="14.90" y="640.00" font-size="9.6" fill="#1a1a1a" text-anchor="middle" transform="rotate(-90 14.90 640.00)">Cell count</text>
<line x1="11.50" y1="618.00" x2="11.50" y2="602.00" stroke="#222" stroke-width="0.9"/>
<path d="M9.40,605.60 L11.50,602.00 L13.60,605.60" fill="none" stroke="#222" stroke-width="0.9"/>
<text x="26.30" y="676.40" font-size="9.6" fill="#1a1a1a">CD69</text>
<text x="26.30" y="687.20" font-size="9.6" fill="#1a1a1a">-PerCP</text>
<line x1="57.20" y1="673.00" x2="84.00" y2="673.00" stroke="#222" stroke-width="0.9"/>
<path d="M80.00,670.80 L84.00,673.00 L80.00,675.20" fill="none" stroke="#222" stroke-width="0.9"/>
<text x="89.30" y="676.40" font-size="9.6" fill="#1a1a1a">Perforin</text>
<text x="89.30" y="687.20" font-size="9.6" fill="#1a1a1a">-PE-Cy7</text>
<line x1="126.00" y1="673.00" x2="148.40" y2="673.00" stroke="#222" stroke-width="0.9"/>
<path d="M144.40,670.80 L148.40,673.00 L144.40,675.20" fill="none" stroke="#222" stroke-width="0.9"/>
<text x="151.70" y="676.40" font-size="9.6" fill="#1a1a1a">Granzyme B</text>
<text x="151.70" y="687.20" font-size="9.6" fill="#1a1a1a">-APC</text>
<line x1="206.00" y1="673.00" x2="219.70" y2="673.00" stroke="#222" stroke-width="0.9"/>
<path d="M215.70,670.80 L219.70,673.00 L215.70,675.20" fill="none" stroke="#222" stroke-width="0.9"/>
<rect x="222.00" y="603.70" width="9.70" height="9.60" fill="#666" stroke="none" stroke-width="1.0"/>
<text x="238.10" y="612.00" font-size="9.6" fill="#1a1a1a">Isotype</text>
<rect x="222.90" y="625.50" width="8.60" height="8.60" fill="none" stroke="#f0281e" stroke-width="0.9"/>
<text x="238.10" y="627.70" font-size="9.6" fill="#f0281e"><tspan font-size="5.76" dy="-3.46">Allo</tspan><tspan dy="3.46">CAR70</tspan></text>
<text x="238.10" y="638.30" font-size="9.6" fill="#f0281e">-NKT</text>
<rect x="222.90" y="649.60" width="8.60" height="8.60" fill="none" stroke="#e8913c" stroke-width="0.9"/>
<text x="238.10" y="652.10" font-size="9.6" fill="#e8913c"><tspan font-size="5.76" dy="-3.46">Allo</tspan><tspan dy="3.46">CAR70-NKT</tspan></text>
<text x="238.10" y="663.00" font-size="9.6" fill="#e8913c">+ Decitabine</text>
<text x="308.80" y="578.90" font-size="15.3" fill="#000" font-weight="bold">J</text>
<rect x="507.60" y="561.80" width="7.30" height="7.20" fill="#f01e0a" stroke="#111" stroke-width="0.8"/>
<text x="518.90" y="568.50" font-size="9.4" fill="#f0281e"><tspan font-size="5.64" dy="-3.38">Allo</tspan><tspan dy="3.38">CAR70-NKT</tspan></text>
<rect x="594.00" y="561.80" width="7.30" height="7.20" fill="#e88a38" stroke="#111" stroke-width="0.8"/>
<text x="643.50" y="561.00" font-size="9.4" fill="#e8913c" text-anchor="middle"><tspan font-size="5.64" dy="-3.38">Allo</tspan><tspan dy="3.38">CAR70-NKT</tspan></text>
<text x="645.20" y="574.40" font-size="9.4" fill="#e8913c" text-anchor="middle">+ Decitabine</text>
<line x1="351.40" y1="684.70" x2="351.40" y2="595.80" stroke="#222" stroke-width="1.0"/>
<line x1="348.40" y1="684.70" x2="351.40" y2="684.70" stroke="#222" stroke-width="1.0"/>
<text x="347.10" y="687.90" font-size="9.0" fill="#1a1a1a" text-anchor="end">0</text>
<line x1="348.40" y1="662.48" x2="351.40" y2="662.48" stroke="#222" stroke-width="1.0"/>
<text x="347.10" y="665.68" font-size="9.0" fill="#1a1a1a" text-anchor="end">3000</text>
<line x1="348.40" y1="640.25" x2="351.40" y2="640.25" stroke="#222" stroke-width="1.0"/>
<text x="347.10" y="643.45" font-size="9.0" fill="#1a1a1a" text-anchor="end">6000</text>
<line x1="348.40" y1="618.02" x2="351.40" y2="618.02" stroke="#222" stroke-width="1.0"/>
<text x="347.10" y="621.23" font-size="9.0" fill="#1a1a1a" text-anchor="end">9000</text>
<line x1="348.40" y1="595.80" x2="351.40" y2="595.80" stroke="#222" stroke-width="1.0"/>
<text x="347.10" y="599.00" font-size="9.0" fill="#1a1a1a" text-anchor="end">12000</text>
<line x1="351.40" y1="684.70" x2="400.60" y2="684.70" stroke="#222" stroke-width="1.0"/>
<rect x="359.10" y="627.40" width="13.90" height="57.30" fill="#f5391a" stroke="#1a1a1a" stroke-width="0.9"/>
<line x1="366.05" y1="684.70" x2="366.05" y2="687.20" stroke="#222" stroke-width="0.9"/>
<rect x="379.80" y="615.50" width="14.20" height="69.20" fill="#f09a30" stroke="#1a1a1a" stroke-width="0.9"/>
<line x1="386.90" y1="684.70" x2="386.90" y2="687.20" stroke="#222" stroke-width="0.9"/>
<line x1="366.05" y1="620.00" x2="366.05" y2="634.00" stroke="#1a1a1a" stroke-width="0.9"/>
<line x1="363.25" y1="620.00" x2="368.85" y2="620.00" stroke="#1a1a1a" stroke-width="0.9"/>
<line x1="363.25" y1="634.00" x2="368.85" y2="634.00" stroke="#1a1a1a" stroke-width="0.9"/>
<line x1="386.90" y1="611.00" x2="386.90" y2="620.00" stroke="#1a1a1a" stroke-width="0.9"/>
<line x1="384.10" y1="611.00" x2="389.70" y2="611.00" stroke="#1a1a1a" stroke-width="0.9"/>
<line x1="384.10" y1="620.00" x2="389.70" y2="620.00" stroke="#1a1a1a" stroke-width="0.9"/>
<circle cx="360.60" cy="622.30" r="1.60" fill="#111" stroke="none" stroke-width="1.0"/>
<circle cx="365.50" cy="621.90" r="1.60" fill="#111" stroke="none" stroke-width="1.0"/>
<circle cx="370.70" cy="624.60" r="1.60" fill="#111" stroke="none" stroke-width="1.0"/>
<circle cx="365.50" cy="628.30" r="1.60" fill="#111" stroke="none" stroke-width="1.0"/>
<circle cx="365.50" cy="637.00" r="1.60" fill="#111" stroke="none" stroke-width="1.0"/>
<circle cx="386.60" cy="602.30" r="1.60" fill="#111" stroke="none" stroke-width="1.0"/>
<circle cx="381.30" cy="621.00" r="1.60" fill="#111" stroke="none" stroke-width="1.0"/>
<circle cx="387.20" cy="615.50" r="1.60" fill="#111" stroke="none" stroke-width="1.0"/>
<circle cx="392.30" cy="616.40" r="1.60" fill="#111" stroke="none" stroke-width="1.0"/>
<circle cx="392.30" cy="619.70" r="1.60" fill="#111" stroke="none" stroke-width="1.0"/>
<path d="M366.40,595.80 L366.40,593.80 L386.60,593.80 L386.60,595.80" fill="none" stroke="#222" stroke-width="0.9"/>
<path d="M376.50,589.00 L376.98,590.14 L378.21,590.24 L377.27,591.05 L377.56,592.26 L376.50,591.61 L375.44,592.26 L375.73,591.05 L374.79,590.24 L376.02,590.14 Z" fill="#1a1a1a"/>
<text x="317.20" y="638.75" font-size="9.3" fill="#1a1a1a" text-anchor="middle" transform="rotate(-90 317.20 638.75)">CD69 (MFI)</text>
<line x1="447.00" y1="685.30" x2="447.00" y2="596.00" stroke="#222" stroke-width="1.0"/>
<line x1="444.00" y1="685.30" x2="447.00" y2="685.30" stroke="#222" stroke-width="1.0"/>
<text x="442.70" y="688.50" font-size="9.0" fill="#1a1a1a" text-anchor="end">0</text>
<line x1="444.00" y1="667.44" x2="447.00" y2="667.44" stroke="#222" stroke-width="1.0"/>
<text x="442.70" y="670.64" font-size="9.0" fill="#1a1a1a" text-anchor="end">2000</text>
<line x1="444.00" y1="649.58" x2="447.00" y2="649.58" stroke="#222" stroke-width="1.0"/>
<text x="442.70" y="652.78" font-size="9.0" fill="#1a1a1a" text-anchor="end">4000</text>
<line x1="444.00" y1="631.72" x2="447.00" y2="631.72" stroke="#222" stroke-width="1.0"/>
<text x="442.70" y="634.92" font-size="9.0" fill="#1a1a1a" text-anchor="end">6000</text>
<line x1="444.00" y1="613.86" x2="447.00" y2="613.86" stroke="#222" stroke-width="1.0"/>
<text x="442.70" y="617.06" font-size="9.0" fill="#1a1a1a" text-anchor="end">8000</text>
<line x1="444.00" y1="596.00" x2="447.00" y2="596.00" stroke="#222" stroke-width="1.0"/>
<text x="442.70" y="599.20" font-size="9.0" fill="#1a1a1a" text-anchor="end">10000</text>
<line x1="447.00" y1="685.30" x2="493.00" y2="685.30" stroke="#222" stroke-width="1.0"/>
<rect x="454.60" y="653.10" width="13.80" height="32.20" fill="#f5391a" stroke="#1a1a1a" stroke-width="0.9"/>
<line x1="461.50" y1="685.30" x2="461.50" y2="687.80" stroke="#222" stroke-width="0.9"/>
<rect x="475.60" y="633.50" width="13.90" height="51.80" fill="#f09a30" stroke="#1a1a1a" stroke-width="0.9"/>
<line x1="482.55" y1="685.30" x2="482.55" y2="687.80" stroke="#222" stroke-width="0.9"/>
<line x1="461.50" y1="647.00" x2="461.50" y2="659.00" stroke="#1a1a1a" stroke-width="0.9"/>
<line x1="458.70" y1="647.00" x2="464.30" y2="647.00" stroke="#1a1a1a" stroke-width="0.9"/>
<line x1="458.70" y1="659.00" x2="464.30" y2="659.00" stroke="#1a1a1a" stroke-width="0.9"/>
<line x1="482.55" y1="627.00" x2="482.55" y2="640.00" stroke="#1a1a1a" stroke-width="0.9"/>
<line x1="479.75" y1="627.00" x2="485.35" y2="627.00" stroke="#1a1a1a" stroke-width="0.9"/>
<line x1="479.75" y1="640.00" x2="485.35" y2="640.00" stroke="#1a1a1a" stroke-width="0.9"/>
<circle cx="461.40" cy="635.80" r="1.60" fill="#111" stroke="none" stroke-width="1.0"/>
<circle cx="461.40" cy="644.00" r="1.60" fill="#111" stroke="none" stroke-width="1.0"/>
<circle cx="461.40" cy="657.40" r="1.60" fill="#111" stroke="none" stroke-width="1.0"/>
<circle cx="461.40" cy="665.80" r="1.60" fill="#111" stroke="none" stroke-width="1.0"/>
<circle cx="458.80" cy="659.50" r="1.60" fill="#111" stroke="none" stroke-width="1.0"/>
<circle cx="482.10" cy="614.00" r="1.60" fill="#111" stroke="none" stroke-width="1.0"/>
<circle cx="482.10" cy="634.00" r="1.60" fill="#111" stroke="none" stroke-width="1.0"/>
<circle cx="477.30" cy="644.20" r="1.60" fill="#111" stroke="none" stroke-width="1.0"/>
<circle cx="487.80" cy="644.20" r="1.60" fill="#111" stroke="none" stroke-width="1.0"/>
<circle cx="483.60" cy="633.00" r="1.60" fill="#111" stroke="none" stroke-width="1.0"/>
<path d="M461.40,595.90 L461.40,593.90 L482.60,593.90 L482.60,595.90" fill="none" stroke="#222" stroke-width="0.9"/>
<path d="M472.00,589.10 L472.48,590.24 L473.71,590.34 L472.77,591.15 L473.06,592.36 L472.00,591.71 L470.94,592.36 L471.23,591.15 L470.29,590.34 L471.52,590.24 Z" fill="#1a1a1a"/>
<text x="411.90" y="639.15" font-size="9.3" fill="#1a1a1a" text-anchor="middle" transform="rotate(-90 411.90 639.15)">Perforin (MFI)</text>
<line x1="541.40" y1="685.30" x2="541.40" y2="596.00" stroke="#222" stroke-width="1.0"/>
<line x1="538.40" y1="685.30" x2="541.40" y2="685.30" stroke="#222" stroke-width="1.0"/>
<text x="537.10" y="688.50" font-size="9.0" fill="#1a1a1a" text-anchor="end">0</text>
<line x1="538.40" y1="667.44" x2="541.40" y2="667.44" stroke="#222" stroke-width="1.0"/>
<text x="537.10" y="670.64" font-size="9.0" fill="#1a1a1a" text-anchor="end">2000</text>
<line x1="538.40" y1="649.58" x2="541.40" y2="649.58" stroke="#222" stroke-width="1.0"/>
<text x="537.10" y="652.78" font-size="9.0" fill="#1a1a1a" text-anchor="end">4000</text>
<line x1="538.40" y1="631.72" x2="541.40" y2="631.72" stroke="#222" stroke-width="1.0"/>
<text x="537.10" y="634.92" font-size="9.0" fill="#1a1a1a" text-anchor="end">6000</text>
<line x1="538.40" y1="613.86" x2="541.40" y2="613.86" stroke="#222" stroke-width="1.0"/>
<text x="537.10" y="617.06" font-size="9.0" fill="#1a1a1a" text-anchor="end">8000</text>
<line x1="538.40" y1="596.00" x2="541.40" y2="596.00" stroke="#222" stroke-width="1.0"/>
<text x="537.10" y="599.20" font-size="9.0" fill="#1a1a1a" text-anchor="end">10000</text>
<line x1="541.40" y1="685.30" x2="591.90" y2="685.30" stroke="#222" stroke-width="1.0"/>
<rect x="550.60" y="624.50" width="14.20" height="60.80" fill="#f5391a" stroke="#1a1a1a" stroke-width="0.9"/>
<line x1="557.70" y1="685.30" x2="557.70" y2="687.80" stroke="#222" stroke-width="0.9"/>
<rect x="571.80" y="605.00" width="13.70" height="80.30" fill="#f09a30" stroke="#1a1a1a" stroke-width="0.9"/>
<line x1="578.65" y1="685.30" x2="578.65" y2="687.80" stroke="#222" stroke-width="0.9"/>
<line x1="557.70" y1="618.00" x2="557.70" y2="631.00" stroke="#1a1a1a" stroke-width="0.9"/>
<line x1="554.90" y1="618.00" x2="560.50" y2="618.00" stroke="#1a1a1a" stroke-width="0.9"/>
<line x1="554.90" y1="631.00" x2="560.50" y2="631.00" stroke="#1a1a1a" stroke-width="0.9"/>
<line x1="578.65" y1="601.00" x2="578.65" y2="609.00" stroke="#1a1a1a" stroke-width="0.9"/>
<line x1="575.85" y1="601.00" x2="581.45" y2="601.00" stroke="#1a1a1a" stroke-width="0.9"/>
<line x1="575.85" y1="609.00" x2="581.45" y2="609.00" stroke="#1a1a1a" stroke-width="0.9"/>
<circle cx="557.40" cy="606.50" r="1.60" fill="#111" stroke="none" stroke-width="1.0"/>
<circle cx="557.40" cy="619.20" r="1.60" fill="#111" stroke="none" stroke-width="1.0"/>
<circle cx="557.40" cy="630.80" r="1.60" fill="#111" stroke="none" stroke-width="1.0"/>
<circle cx="557.40" cy="640.30" r="1.60" fill="#111" stroke="none" stroke-width="1.0"/>
<circle cx="554.80" cy="625.50" r="1.60" fill="#111" stroke="none" stroke-width="1.0"/>
<circle cx="572.80" cy="597.00" r="1.60" fill="#111" stroke="none" stroke-width="1.0"/>
<circle cx="583.40" cy="600.10" r="1.60" fill="#111" stroke="none" stroke-width="1.0"/>
<circle cx="578.70" cy="607.50" r="1.60" fill="#111" stroke="none" stroke-width="1.0"/>
<circle cx="578.70" cy="613.90" r="1.60" fill="#111" stroke="none" stroke-width="1.0"/>
<circle cx="580.20" cy="601.20" r="1.60" fill="#111" stroke="none" stroke-width="1.0"/>
<path d="M557.00,596.40 L557.00,594.40 L578.00,594.40 L578.00,596.40" fill="none" stroke="#222" stroke-width="0.9"/>
<path d="M567.50,589.60 L567.98,590.74 L569.21,590.84 L568.27,591.65 L568.56,592.86 L567.50,592.21 L566.44,592.86 L566.73,591.65 L565.79,590.84 L567.02,590.74 Z" fill="#1a1a1a"/>
<text x="509.20" y="639.15" font-size="9.3" fill="#1a1a1a" text-anchor="middle" transform="rotate(-90 509.20 639.15)">Granzyme B (MFI)</text>
<line x1="631.00" y1="684.40" x2="631.00" y2="595.90" stroke="#222" stroke-width="1.0"/>
<line x1="628.00" y1="684.40" x2="631.00" y2="684.40" stroke="#222" stroke-width="1.0"/>
<text x="626.70" y="687.60" font-size="9.0" fill="#1a1a1a" text-anchor="end">0</text>
<line x1="628.00" y1="662.27" x2="631.00" y2="662.27" stroke="#222" stroke-width="1.0"/>
<text x="626.70" y="665.48" font-size="9.0" fill="#1a1a1a" text-anchor="end">400</text>
<line x1="628.00" y1="640.15" x2="631.00" y2="640.15" stroke="#222" stroke-width="1.0"/>
<text x="626.70" y="643.35" font-size="9.0" fill="#1a1a1a" text-anchor="end">800</text>
<line x1="628.00" y1="618.02" x2="631.00" y2="618.02" stroke="#222" stroke-width="1.0"/>
<text x="626.70" y="621.23" font-size="9.0" fill="#1a1a1a" text-anchor="end">1200</text>
<line x1="628.00" y1="595.90" x2="631.00" y2="595.90" stroke="#222" stroke-width="1.0"/>
<text x="626.70" y="599.10" font-size="9.0" fill="#1a1a1a" text-anchor="end">1600</text>
<line x1="631.00" y1="684.40" x2="683.50" y2="684.40" stroke="#222" stroke-width="1.0"/>
<rect x="640.50" y="626.60" width="14.50" height="57.80" fill="#f5391a" stroke="#1a1a1a" stroke-width="0.9"/>
<line x1="647.75" y1="684.40" x2="647.75" y2="686.90" stroke="#222" stroke-width="0.9"/>
<rect x="661.70" y="622.30" width="13.80" height="62.10" fill="#f09a30" stroke="#1a1a1a" stroke-width="0.9"/>
<line x1="668.60" y1="684.40" x2="668.60" y2="686.90" stroke="#222" stroke-width="0.9"/>
<line x1="647.75" y1="621.00" x2="647.75" y2="632.00" stroke="#1a1a1a" stroke-width="0.9"/>
<line x1="644.95" y1="621.00" x2="650.55" y2="621.00" stroke="#1a1a1a" stroke-width="0.9"/>
<line x1="644.95" y1="632.00" x2="650.55" y2="632.00" stroke="#1a1a1a" stroke-width="0.9"/>
<line x1="668.60" y1="616.30" x2="668.60" y2="628.00" stroke="#1a1a1a" stroke-width="0.9"/>
<line x1="665.80" y1="616.30" x2="671.40" y2="616.30" stroke="#1a1a1a" stroke-width="0.9"/>
<line x1="665.80" y1="628.00" x2="671.40" y2="628.00" stroke="#1a1a1a" stroke-width="0.9"/>
<circle cx="648.00" cy="618.10" r="1.60" fill="#111" stroke="none" stroke-width="1.0"/>
<circle cx="653.30" cy="617.00" r="1.60" fill="#111" stroke="none" stroke-width="1.0"/>
<circle cx="642.70" cy="636.10" r="1.60" fill="#111" stroke="none" stroke-width="1.0"/>
<circle cx="654.30" cy="630.80" r="1.60" fill="#111" stroke="none" stroke-width="1.0"/>
<circle cx="649.00" cy="627.60" r="1.60" fill="#111" stroke="none" stroke-width="1.0"/>
<circle cx="668.10" cy="605.40" r="1.60" fill="#111" stroke="none" stroke-width="1.0"/>
<circle cx="668.10" cy="611.80" r="1.60" fill="#111" stroke="none" stroke-width="1.0"/>
<circle cx="662.80" cy="635.50" r="1.60" fill="#111" stroke="none" stroke-width="1.0"/>
<circle cx="673.40" cy="631.90" r="1.60" fill="#111" stroke="none" stroke-width="1.0"/>
<circle cx="669.10" cy="624.50" r="1.60" fill="#111" stroke="none" stroke-width="1.0"/>
<path d="M648.00,596.40 L648.00,594.40 L668.50,594.40 L668.50,596.40" fill="none" stroke="#222" stroke-width="0.9"/>
<text x="658.25" y="592.40" font-size="9.3" fill="#1a1a1a" text-anchor="middle">ns</text>
<text x="605.20" y="638.65" font-size="9.3" fill="#1a1a1a" text-anchor="middle" transform="rotate(-90 605.20 638.65)">PD-1 (MFI)</text>
</svg>
</body></html>
